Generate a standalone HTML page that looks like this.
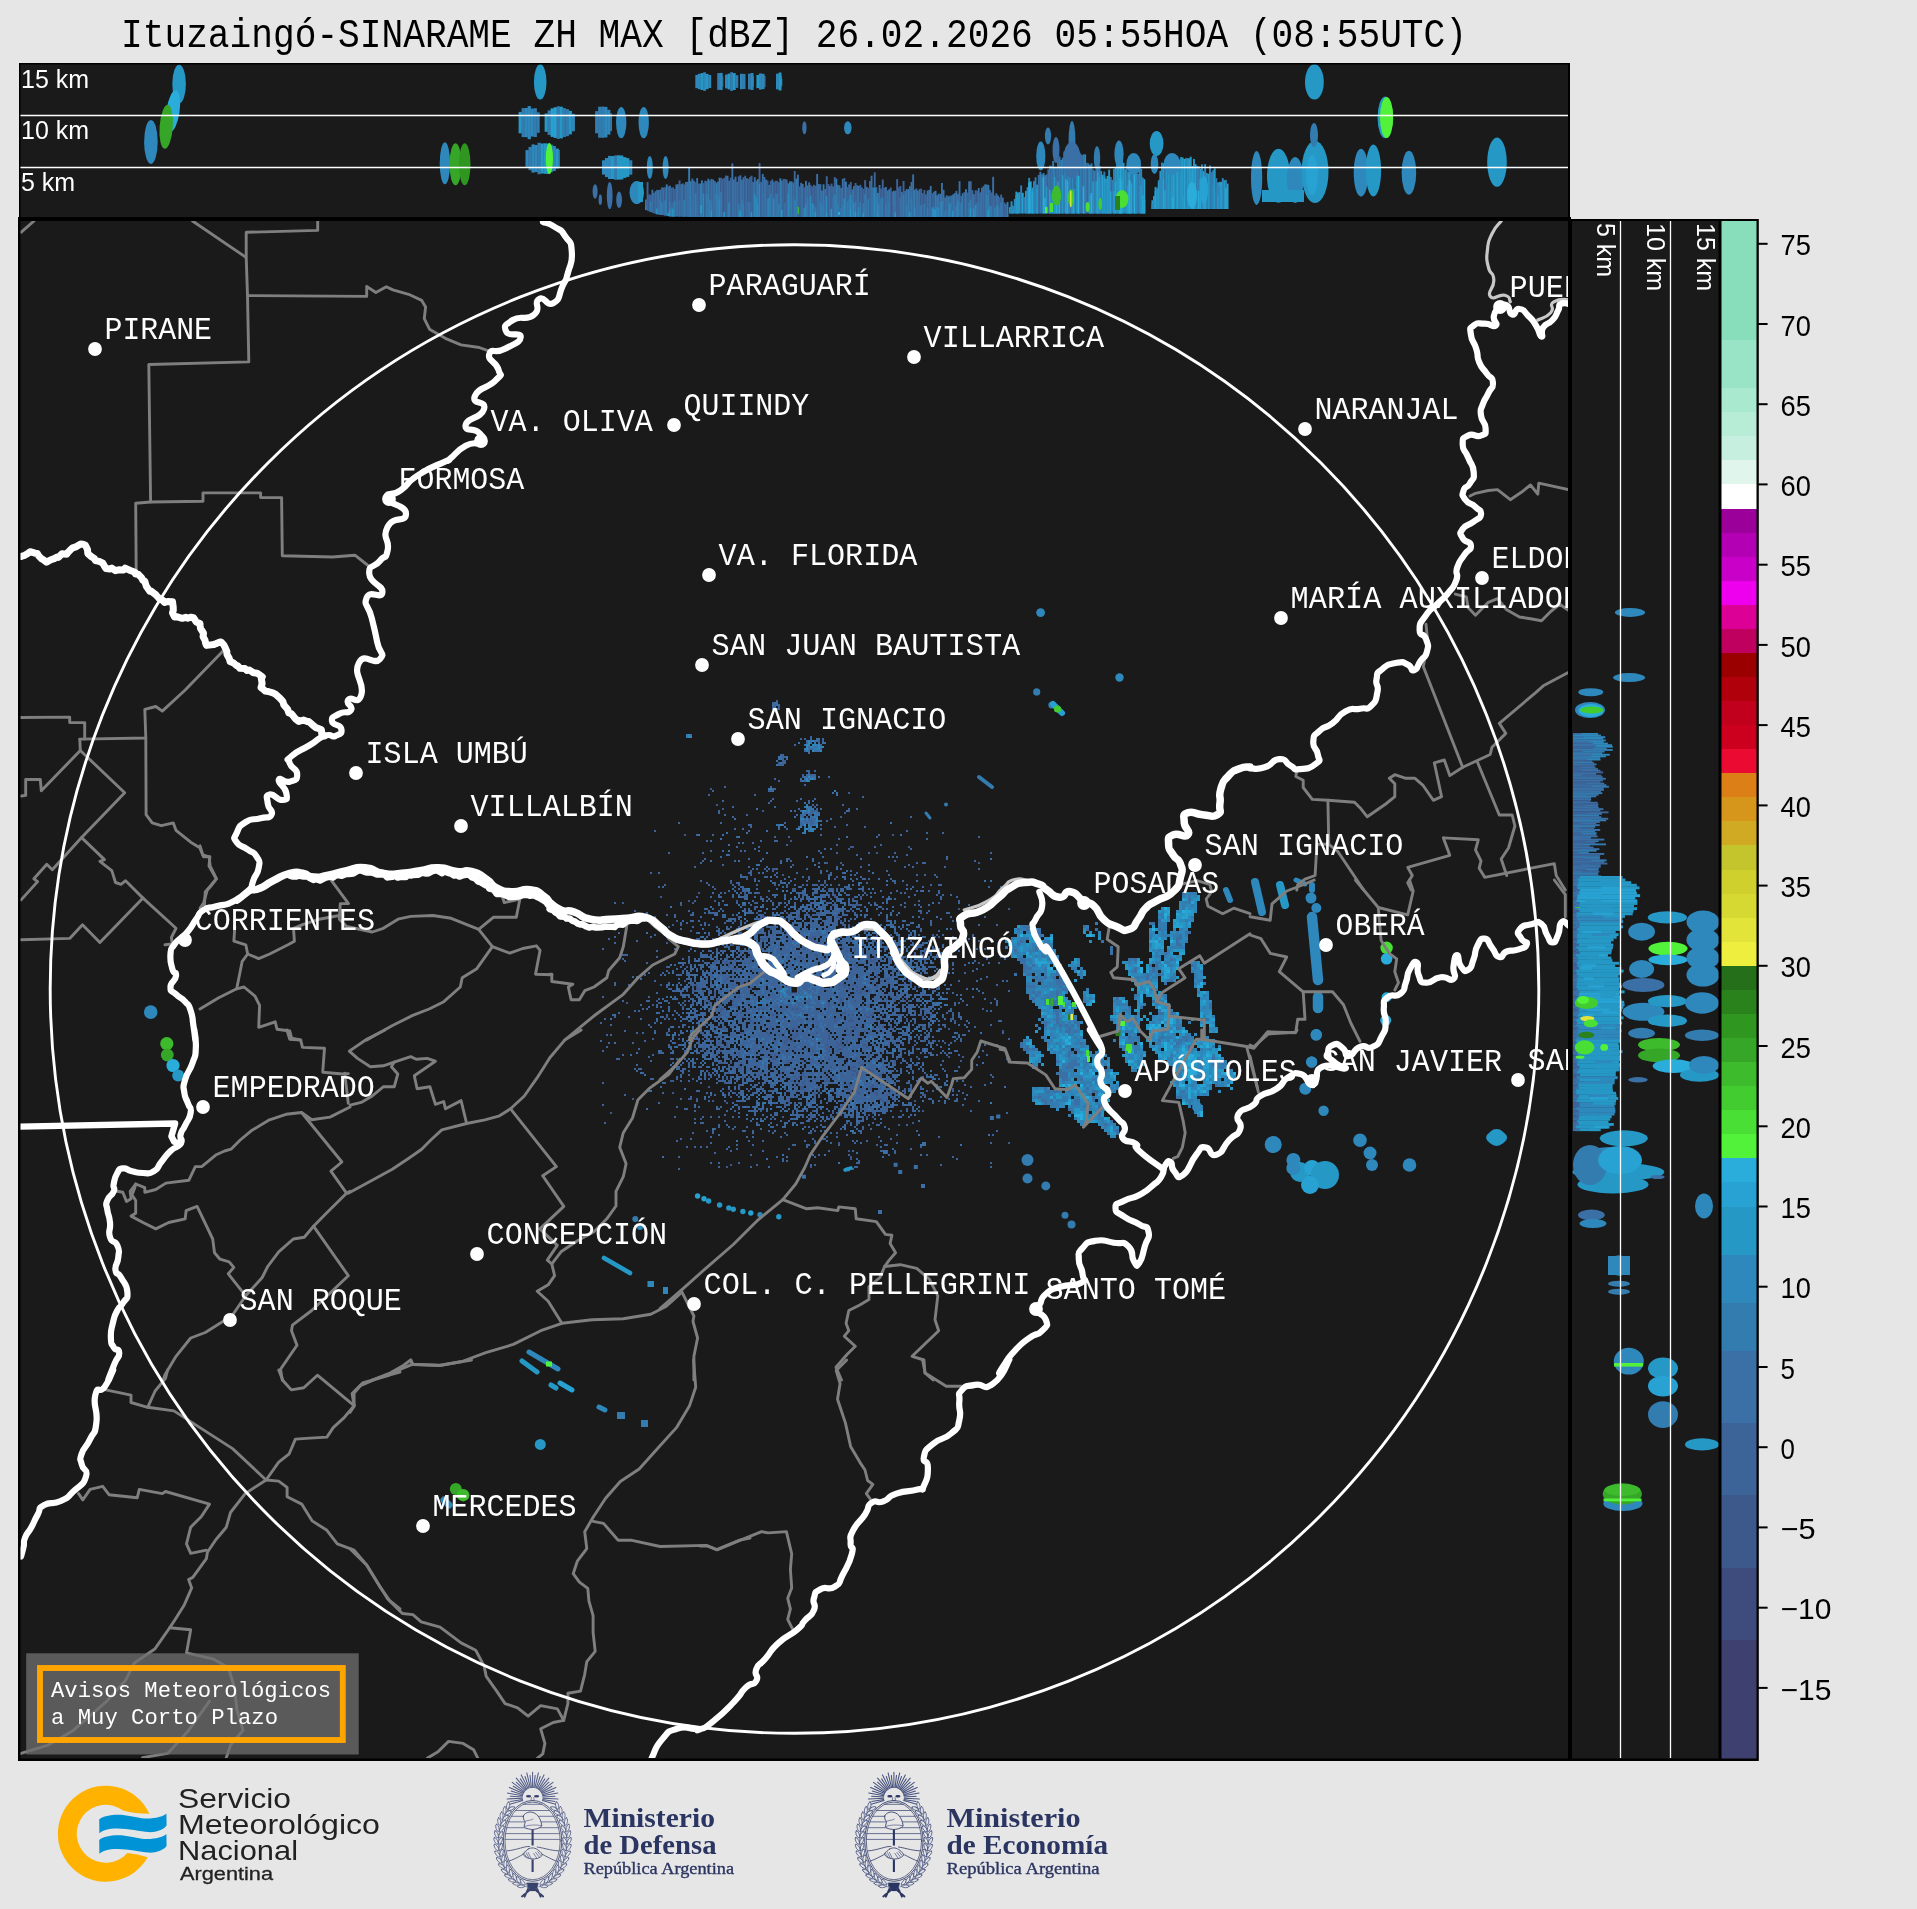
<!DOCTYPE html>
<html><head><meta charset="utf-8"><title>Ituzaingó-SINARAME ZH MAX</title>
<style>
html,body{margin:0;padding:0;background:#e6e6e6;}
body{width:1917px;height:1909px;overflow:hidden;}
svg{display:block;will-change:transform;}
.mono{font-family:"Liberation Mono",monospace;}
.sans{font-family:"Liberation Sans",sans-serif;}
.serif{font-family:"Liberation Serif",serif;}
.g{fill:none;stroke:#7f7f7f;stroke-width:2.9;stroke-linejoin:round;stroke-linecap:round;}
.lg{fill:none;stroke:#c8c8c8;stroke-width:3.2;stroke-linejoin:round;stroke-linecap:round;}
.w{fill:none;stroke:#fff;stroke-width:6.2;stroke-linejoin:round;stroke-linecap:round;}
.city{font-family:"Liberation Mono",monospace;font-size:32px;fill:#fff;}
</style></head><body>
<svg width="1917" height="1909" viewBox="0 0 1917 1909">
<rect x="0" y="0" width="1917" height="1909" fill="#e6e6e6"/>
<text class="mono" x="121" y="47.4" font-size="40" fill="#000" textLength="1346" lengthAdjust="spacingAndGlyphs">Ituzaingó-SINARAME ZH MAX [dBZ] 26.02.2026 05:55HOA (08:55UTC)</text>
<defs>
<clipPath id="ctop"><rect x="20.5" y="64.5" width="1547.5" height="152.5"/></clipPath>
<clipPath id="cmap"><rect x="20.5" y="221" width="1547.5" height="1537"/></clipPath>
<clipPath id="cright"><rect x="1572" y="221" width="146.5" height="1537"/></clipPath>
</defs>
<rect x="19" y="63" width="1551" height="156" fill="#000"/><rect x="20.5" y="64.5" width="1547.5" height="152.5" fill="#1a1a1a"/>
<g clip-path="url(#ctop)">
<ellipse cx="150.9" cy="141.9" rx="6.8" ry="22.0" fill="#2e88bc"/>
<ellipse cx="179.1" cy="84.0" rx="6.8" ry="19.3" fill="#2698c6"/>
<ellipse cx="173.0" cy="111.1" rx="6.6" ry="21.0" fill="#2aaddb" transform="rotate(8 173.0 111.1)"/>
<ellipse cx="166.2" cy="126.8" rx="6.6" ry="22.0" fill="#36a628" transform="rotate(4 166.2 126.8)"/>
<ellipse cx="444.9" cy="163.3" rx="5.2" ry="21.0" fill="#2e88bc"/>
<ellipse cx="455.5" cy="164.3" rx="6.0" ry="21.0" fill="#36a628"/>
<ellipse cx="464.7" cy="164.3" rx="5.8" ry="21.0" fill="#2f9620"/>
<ellipse cx="540.2" cy="81.9" rx="6.3" ry="17.7" fill="#2698c6"/>
<rect x="518.6" y="111.9" width="3.3" height="21.4" fill="#2698c6"/>
<rect x="521.6" y="108.1" width="3.3" height="29.0" fill="#337cb0"/>
<rect x="524.6" y="108.0" width="3.3" height="29.1" fill="#2e88bc"/>
<rect x="527.6" y="106.1" width="3.3" height="33.1" fill="#2e88bc"/>
<rect x="530.6" y="108.6" width="3.3" height="27.9" fill="#2e88bc"/>
<rect x="533.6" y="108.2" width="3.3" height="28.8" fill="#337cb0"/>
<rect x="536.6" y="112.3" width="3.1" height="20.5" fill="#337cb0"/>
<rect x="544.6" y="113.5" width="3.3" height="18.3" fill="#2698c6"/>
<rect x="547.6" y="110.4" width="3.3" height="24.5" fill="#337cb0"/>
<rect x="550.6" y="108.3" width="3.3" height="28.6" fill="#27a2d2"/>
<rect x="553.6" y="107.3" width="3.3" height="30.6" fill="#27a2d2"/>
<rect x="556.6" y="106.3" width="3.3" height="32.6" fill="#337cb0"/>
<rect x="559.6" y="106.7" width="3.3" height="31.7" fill="#2698c6"/>
<rect x="562.6" y="108.1" width="3.3" height="28.9" fill="#337cb0"/>
<rect x="565.6" y="109.1" width="3.3" height="27.1" fill="#337cb0"/>
<rect x="568.6" y="110.8" width="3.3" height="23.6" fill="#2698c6"/>
<rect x="571.6" y="113.8" width="3.3" height="17.5" fill="#2e88bc"/>
<rect x="595.1" y="111.1" width="3.3" height="22.2" fill="#337cb0"/>
<rect x="598.1" y="106.7" width="3.3" height="31.0" fill="#337cb0"/>
<rect x="601.1" y="106.6" width="3.3" height="31.2" fill="#337cb0"/>
<rect x="604.1" y="106.9" width="3.3" height="30.5" fill="#2e88bc"/>
<rect x="607.1" y="109.8" width="3.3" height="24.8" fill="#2e88bc"/>
<rect x="610.1" y="113.3" width="1.9" height="17.8" fill="#337cb0"/>
<ellipse cx="621.2" cy="122.6" rx="5.2" ry="15.6" fill="#2e88bc"/>
<ellipse cx="643.7" cy="122.6" rx="5.2" ry="15.6" fill="#2e88bc"/>
<rect x="525.5" y="150.1" width="3.3" height="16.7" fill="#2e88bc"/>
<rect x="528.5" y="146.9" width="3.3" height="23.3" fill="#337cb0"/>
<rect x="531.5" y="144.4" width="3.3" height="28.2" fill="#2e88bc"/>
<rect x="534.5" y="145.0" width="3.3" height="27.0" fill="#2e88bc"/>
<rect x="537.5" y="142.8" width="3.3" height="31.4" fill="#337cb0"/>
<rect x="540.5" y="143.5" width="3.3" height="30.0" fill="#2698c6"/>
<rect x="543.5" y="143.3" width="3.3" height="30.5" fill="#2698c6"/>
<rect x="546.5" y="143.4" width="3.3" height="30.1" fill="#337cb0"/>
<rect x="549.5" y="144.6" width="3.3" height="27.7" fill="#2e88bc"/>
<rect x="552.5" y="146.0" width="3.3" height="25.0" fill="#2e88bc"/>
<rect x="555.5" y="148.6" width="3.3" height="19.9" fill="#2698c6"/>
<rect x="558.5" y="150.1" width="1.3" height="16.8" fill="#2e88bc"/>
<rect x="546.2" y="144.0" width="3.2" height="30.0" fill="#2698c6"/>
<ellipse cx="549.4" cy="158.5" rx="3.6" ry="15.5" fill="#52f23a"/>
<rect x="602.0" y="160.3" width="3.3" height="14.3" fill="#2e88bc"/>
<rect x="605.0" y="158.0" width="3.3" height="19.1" fill="#2e88bc"/>
<rect x="608.0" y="155.9" width="3.3" height="23.1" fill="#2e88bc"/>
<rect x="611.0" y="156.1" width="3.3" height="22.9" fill="#2698c6"/>
<rect x="614.0" y="155.4" width="3.3" height="24.3" fill="#337cb0"/>
<rect x="617.0" y="155.3" width="3.3" height="24.3" fill="#2698c6"/>
<rect x="620.0" y="155.5" width="3.3" height="24.0" fill="#2698c6"/>
<rect x="623.0" y="157.1" width="3.3" height="20.8" fill="#2698c6"/>
<rect x="626.0" y="158.1" width="3.3" height="18.8" fill="#2698c6"/>
<rect x="629.0" y="160.3" width="3.3" height="14.4" fill="#337cb0"/>
<ellipse cx="649.8" cy="167.5" rx="3.0" ry="11.5" fill="#2e88bc"/>
<ellipse cx="665.6" cy="167.5" rx="3.0" ry="11.5" fill="#2e88bc"/>
<rect x="695.3" y="74.9" width="2.9" height="13.3" fill="#2e88bc"/>
<rect x="697.9" y="73.8" width="2.9" height="15.4" fill="#2e88bc"/>
<rect x="700.5" y="73.1" width="2.9" height="16.9" fill="#2698c6"/>
<rect x="703.1" y="72.3" width="2.9" height="18.5" fill="#2e88bc"/>
<rect x="705.7" y="73.9" width="2.9" height="15.2" fill="#2698c6"/>
<rect x="708.3" y="75.0" width="2.9" height="13.0" fill="#2e88bc"/>
<rect x="717.2" y="73.1" width="2.9" height="16.8" fill="#337cb0"/>
<rect x="719.8" y="72.9" width="2.9" height="17.1" fill="#2e88bc"/>
<rect x="722.4" y="76.4" width="0.9" height="10.3" fill="#2e88bc"/>
<rect x="725.0" y="74.6" width="2.9" height="13.8" fill="#2e88bc"/>
<rect x="727.6" y="73.6" width="2.9" height="15.8" fill="#2698c6"/>
<rect x="730.2" y="72.2" width="2.9" height="18.7" fill="#337cb0"/>
<rect x="732.8" y="73.1" width="2.9" height="16.9" fill="#2698c6"/>
<rect x="735.4" y="75.2" width="2.9" height="12.7" fill="#337cb0"/>
<rect x="740.0" y="73.8" width="2.9" height="15.4" fill="#2e88bc"/>
<rect x="742.6" y="73.9" width="2.9" height="15.1" fill="#337cb0"/>
<rect x="748.0" y="73.6" width="2.9" height="15.8" fill="#337cb0"/>
<rect x="750.6" y="73.0" width="2.9" height="17.0" fill="#2e88bc"/>
<rect x="753.2" y="76.1" width="0.8" height="10.7" fill="#2e88bc"/>
<rect x="756.4" y="74.9" width="2.9" height="13.2" fill="#2698c6"/>
<rect x="759.0" y="73.4" width="2.9" height="16.2" fill="#2e88bc"/>
<rect x="761.6" y="73.8" width="2.9" height="15.3" fill="#2e88bc"/>
<rect x="764.2" y="75.8" width="1.3" height="11.4" fill="#337cb0"/>
<rect x="776.0" y="73.7" width="2.9" height="15.6" fill="#2e88bc"/>
<rect x="778.6" y="72.5" width="2.9" height="18.0" fill="#2698c6"/>
<rect x="781.2" y="76.2" width="0.9" height="10.5" fill="#2e88bc"/>
<rect x="780.0" y="79.0" width="2.2" height="6.0" fill="#2698c6"/>
<ellipse cx="804.4" cy="127.8" rx="2.2" ry="6.5" fill="#3a70a6"/>
<ellipse cx="847.8" cy="127.8" rx="3.8" ry="6.5" fill="#2e88bc"/>
<ellipse cx="595.1" cy="191.5" rx="2.5" ry="7.3" fill="#3a70a6"/>
<ellipse cx="600.3" cy="199.8" rx="1.7" ry="5.2" fill="#3a70a6"/>
<ellipse cx="609.7" cy="195.6" rx="2.9" ry="13.5" fill="#3a70a6"/>
<ellipse cx="619.1" cy="199.8" rx="2.9" ry="8.3" fill="#3a70a6"/>
<ellipse cx="636.8" cy="192.5" rx="7.3" ry="11.5" fill="#2e88bc"/>
<rect x="638.0" y="182.0" width="5.0" height="20.0" fill="#2698c6"/>
<rect x="645.0" y="199.5" width="1.9" height="10.5" fill="#3a70a6"/>
<rect x="645.0" y="205.8" width="1.9" height="4.2" fill="#337cb0"/>
<rect x="646.6" y="182.1" width="1.9" height="28.6" fill="#3c6499"/>
<rect x="648.2" y="194.4" width="1.9" height="16.9" fill="#3c6499"/>
<rect x="649.8" y="194.6" width="1.9" height="17.3" fill="#3c6499"/>
<rect x="649.8" y="201.2" width="1.9" height="10.7" fill="#337cb0"/>
<rect x="651.4" y="189.7" width="1.9" height="22.9" fill="#3a70a6"/>
<rect x="653.0" y="192.8" width="1.9" height="20.4" fill="#3c6499"/>
<rect x="654.6" y="191.2" width="1.9" height="22.6" fill="#3a70a6"/>
<rect x="656.2" y="189.9" width="1.9" height="24.3" fill="#3a70a6"/>
<rect x="656.2" y="208.6" width="1.9" height="5.6" fill="#2698c6"/>
<rect x="657.8" y="190.0" width="1.9" height="24.5" fill="#3a70a6"/>
<rect x="657.8" y="205.2" width="1.9" height="9.2" fill="#3a70a6"/>
<rect x="659.4" y="189.6" width="1.9" height="25.1" fill="#3a70a6"/>
<rect x="659.4" y="199.2" width="1.9" height="15.6" fill="#337cb0"/>
<rect x="661.0" y="187.4" width="1.9" height="27.6" fill="#3c6499"/>
<rect x="661.0" y="202.3" width="1.9" height="12.7" fill="#337cb0"/>
<rect x="662.6" y="187.6" width="1.9" height="27.6" fill="#3a70a6"/>
<rect x="664.2" y="187.3" width="1.9" height="28.2" fill="#3c6499"/>
<rect x="664.2" y="200.4" width="1.9" height="15.1" fill="#337cb0"/>
<rect x="665.8" y="184.4" width="1.9" height="31.4" fill="#337cb0"/>
<rect x="667.4" y="186.3" width="1.9" height="29.7" fill="#3c6499"/>
<rect x="667.4" y="212.9" width="1.9" height="3.2" fill="#2698c6"/>
<rect x="669.0" y="185.7" width="1.9" height="30.6" fill="#3a70a6"/>
<rect x="669.0" y="201.8" width="1.9" height="14.5" fill="#337cb0"/>
<rect x="669.0" y="209.8" width="1.9" height="6.5" fill="#2698c6"/>
<rect x="670.6" y="187.7" width="1.9" height="28.8" fill="#3c6499"/>
<rect x="670.6" y="207.2" width="1.9" height="9.3" fill="#337cb0"/>
<rect x="672.2" y="187.3" width="1.9" height="29.2" fill="#3c6499"/>
<rect x="672.2" y="202.8" width="1.9" height="13.7" fill="#3a70a6"/>
<rect x="672.2" y="208.7" width="1.9" height="7.8" fill="#2698c6"/>
<rect x="673.8" y="189.0" width="1.9" height="27.5" fill="#3c6499"/>
<rect x="673.8" y="200.8" width="1.9" height="15.8" fill="#337cb0"/>
<rect x="675.4" y="184.5" width="1.9" height="32.1" fill="#3a70a6"/>
<rect x="677.0" y="184.2" width="1.9" height="32.4" fill="#3a70a6"/>
<rect x="678.6" y="180.4" width="1.9" height="36.2" fill="#3c6499"/>
<rect x="678.6" y="200.9" width="1.9" height="15.8" fill="#3a70a6"/>
<rect x="680.2" y="184.2" width="1.9" height="32.4" fill="#3a70a6"/>
<rect x="681.8" y="183.4" width="1.9" height="33.3" fill="#3a70a6"/>
<rect x="681.8" y="202.1" width="1.9" height="14.6" fill="#3a70a6"/>
<rect x="683.4" y="184.5" width="1.9" height="32.2" fill="#3c6499"/>
<rect x="683.4" y="200.1" width="1.9" height="16.7" fill="#337cb0"/>
<rect x="685.0" y="182.0" width="1.9" height="34.7" fill="#3a70a6"/>
<rect x="686.6" y="181.8" width="1.9" height="35.0" fill="#3a70a6"/>
<rect x="686.6" y="195.7" width="1.9" height="21.0" fill="#3a70a6"/>
<rect x="688.2" y="167.0" width="1.9" height="49.8" fill="#337cb0"/>
<rect x="688.2" y="183.5" width="1.9" height="33.3" fill="#3a70a6"/>
<rect x="689.8" y="181.2" width="1.9" height="35.7" fill="#337cb0"/>
<rect x="689.8" y="204.8" width="1.9" height="12.0" fill="#337cb0"/>
<rect x="691.4" y="178.6" width="1.9" height="38.3" fill="#3a70a6"/>
<rect x="691.4" y="196.7" width="1.9" height="20.1" fill="#3a70a6"/>
<rect x="693.0" y="180.7" width="1.9" height="36.2" fill="#3a70a6"/>
<rect x="694.6" y="182.2" width="1.9" height="34.7" fill="#3c6499"/>
<rect x="694.6" y="193.5" width="1.9" height="23.4" fill="#337cb0"/>
<rect x="696.2" y="178.0" width="1.9" height="38.9" fill="#3a70a6"/>
<rect x="696.2" y="201.3" width="1.9" height="15.6" fill="#3a70a6"/>
<rect x="697.8" y="183.6" width="1.9" height="33.4" fill="#3c6499"/>
<rect x="699.4" y="183.5" width="1.9" height="33.5" fill="#337cb0"/>
<rect x="701.0" y="180.4" width="1.9" height="36.6" fill="#337cb0"/>
<rect x="702.6" y="183.1" width="1.9" height="33.9" fill="#3c6499"/>
<rect x="702.6" y="193.7" width="1.9" height="23.3" fill="#2e88bc"/>
<rect x="704.2" y="180.7" width="1.9" height="36.3" fill="#3c6499"/>
<rect x="705.8" y="181.3" width="1.9" height="35.7" fill="#3a70a6"/>
<rect x="705.8" y="194.0" width="1.9" height="23.0" fill="#337cb0"/>
<rect x="707.4" y="178.7" width="1.9" height="38.3" fill="#337cb0"/>
<rect x="709.0" y="180.4" width="1.9" height="36.6" fill="#3c6499"/>
<rect x="709.0" y="199.8" width="1.9" height="17.2" fill="#337cb0"/>
<rect x="710.6" y="178.9" width="1.9" height="38.1" fill="#3a70a6"/>
<rect x="710.6" y="202.1" width="1.9" height="14.9" fill="#337cb0"/>
<rect x="710.6" y="211.2" width="1.9" height="5.8" fill="#2698c6"/>
<rect x="712.2" y="179.5" width="1.9" height="37.5" fill="#3a70a6"/>
<rect x="713.8" y="181.0" width="1.9" height="36.0" fill="#3a70a6"/>
<rect x="715.4" y="182.8" width="1.9" height="34.2" fill="#337cb0"/>
<rect x="715.4" y="193.5" width="1.9" height="23.5" fill="#337cb0"/>
<rect x="717.0" y="181.6" width="1.9" height="35.4" fill="#3a70a6"/>
<rect x="717.0" y="194.8" width="1.9" height="22.2" fill="#337cb0"/>
<rect x="718.6" y="177.7" width="1.9" height="39.3" fill="#337cb0"/>
<rect x="718.6" y="199.4" width="1.9" height="17.6" fill="#2e88bc"/>
<rect x="720.2" y="177.8" width="1.9" height="39.2" fill="#3c6499"/>
<rect x="720.2" y="191.7" width="1.9" height="25.3" fill="#337cb0"/>
<rect x="721.8" y="178.9" width="1.9" height="38.1" fill="#3c6499"/>
<rect x="723.4" y="177.8" width="1.9" height="39.2" fill="#3c6499"/>
<rect x="723.4" y="212.1" width="1.9" height="4.9" fill="#2698c6"/>
<rect x="725.0" y="175.6" width="1.9" height="41.4" fill="#3c6499"/>
<rect x="726.6" y="175.8" width="1.9" height="41.2" fill="#3a70a6"/>
<rect x="728.2" y="180.7" width="1.9" height="36.3" fill="#3a70a6"/>
<rect x="728.2" y="202.6" width="1.9" height="14.4" fill="#2e88bc"/>
<rect x="729.8" y="177.7" width="1.9" height="39.3" fill="#3c6499"/>
<rect x="731.4" y="163.4" width="1.9" height="53.6" fill="#3a70a6"/>
<rect x="733.0" y="179.5" width="1.9" height="37.5" fill="#3a70a6"/>
<rect x="734.6" y="176.7" width="1.9" height="40.3" fill="#3a70a6"/>
<rect x="736.2" y="181.8" width="1.9" height="35.2" fill="#3a70a6"/>
<rect x="737.8" y="176.4" width="1.9" height="40.6" fill="#3c6499"/>
<rect x="737.8" y="204.1" width="1.9" height="12.9" fill="#337cb0"/>
<rect x="739.4" y="175.3" width="1.9" height="41.7" fill="#3a70a6"/>
<rect x="739.4" y="210.6" width="1.9" height="6.4" fill="#2698c6"/>
<rect x="741.0" y="179.8" width="1.9" height="37.2" fill="#3a70a6"/>
<rect x="741.0" y="200.3" width="1.9" height="16.7" fill="#337cb0"/>
<rect x="742.6" y="177.3" width="1.9" height="39.7" fill="#3a70a6"/>
<rect x="742.6" y="203.2" width="1.9" height="13.8" fill="#337cb0"/>
<rect x="744.2" y="175.8" width="1.9" height="41.2" fill="#3c6499"/>
<rect x="745.8" y="178.2" width="1.9" height="38.8" fill="#3a70a6"/>
<rect x="747.4" y="178.9" width="1.9" height="38.1" fill="#3c6499"/>
<rect x="747.4" y="201.7" width="1.9" height="15.3" fill="#3a70a6"/>
<rect x="749.0" y="177.1" width="1.9" height="39.9" fill="#3c6499"/>
<rect x="749.0" y="202.3" width="1.9" height="14.7" fill="#3a70a6"/>
<rect x="750.6" y="175.7" width="1.9" height="41.3" fill="#3c6499"/>
<rect x="750.6" y="211.7" width="1.9" height="5.3" fill="#2698c6"/>
<rect x="752.2" y="182.0" width="1.9" height="35.0" fill="#3a70a6"/>
<rect x="753.8" y="177.2" width="1.9" height="39.8" fill="#3a70a6"/>
<rect x="753.8" y="193.8" width="1.9" height="23.2" fill="#2e88bc"/>
<rect x="755.4" y="180.7" width="1.9" height="36.3" fill="#3a70a6"/>
<rect x="755.4" y="197.0" width="1.9" height="20.0" fill="#2e88bc"/>
<rect x="757.0" y="179.1" width="1.9" height="37.9" fill="#337cb0"/>
<rect x="757.0" y="203.9" width="1.9" height="13.1" fill="#2e88bc"/>
<rect x="758.6" y="163.1" width="1.9" height="53.9" fill="#3c6499"/>
<rect x="758.6" y="183.5" width="1.9" height="33.5" fill="#2e88bc"/>
<rect x="760.2" y="181.8" width="1.9" height="35.2" fill="#3c6499"/>
<rect x="761.8" y="174.0" width="1.9" height="43.0" fill="#3a70a6"/>
<rect x="761.8" y="192.3" width="1.9" height="24.7" fill="#3a70a6"/>
<rect x="763.4" y="177.0" width="1.9" height="40.0" fill="#3a70a6"/>
<rect x="765.0" y="179.6" width="1.9" height="37.4" fill="#3a70a6"/>
<rect x="766.6" y="180.5" width="1.9" height="36.5" fill="#3c6499"/>
<rect x="766.6" y="199.1" width="1.9" height="17.9" fill="#337cb0"/>
<rect x="768.2" y="184.9" width="1.9" height="32.1" fill="#3a70a6"/>
<rect x="768.2" y="197.8" width="1.9" height="19.2" fill="#2e88bc"/>
<rect x="769.8" y="180.9" width="1.9" height="36.1" fill="#3c6499"/>
<rect x="769.8" y="193.7" width="1.9" height="23.3" fill="#337cb0"/>
<rect x="771.4" y="179.5" width="1.9" height="37.5" fill="#3a70a6"/>
<rect x="773.0" y="181.8" width="1.9" height="35.2" fill="#3c6499"/>
<rect x="773.0" y="198.5" width="1.9" height="18.5" fill="#2e88bc"/>
<rect x="774.6" y="180.8" width="1.9" height="36.2" fill="#3c6499"/>
<rect x="774.6" y="193.7" width="1.9" height="23.3" fill="#3a70a6"/>
<rect x="776.2" y="180.8" width="1.9" height="36.2" fill="#3c6499"/>
<rect x="776.2" y="194.0" width="1.9" height="23.0" fill="#337cb0"/>
<rect x="777.8" y="182.3" width="1.9" height="34.7" fill="#3c6499"/>
<rect x="777.8" y="203.7" width="1.9" height="13.3" fill="#337cb0"/>
<rect x="779.4" y="178.3" width="1.9" height="38.7" fill="#337cb0"/>
<rect x="781.0" y="180.7" width="1.9" height="36.3" fill="#3a70a6"/>
<rect x="781.0" y="210.0" width="1.9" height="7.0" fill="#2698c6"/>
<rect x="782.6" y="178.9" width="1.9" height="38.1" fill="#3c6499"/>
<rect x="784.2" y="179.0" width="1.9" height="38.0" fill="#3c6499"/>
<rect x="784.2" y="203.0" width="1.9" height="14.0" fill="#3a70a6"/>
<rect x="785.8" y="179.7" width="1.9" height="37.3" fill="#3c6499"/>
<rect x="787.4" y="183.3" width="1.9" height="33.7" fill="#337cb0"/>
<rect x="787.4" y="193.7" width="1.9" height="23.3" fill="#2e88bc"/>
<rect x="789.0" y="181.4" width="1.9" height="35.6" fill="#337cb0"/>
<rect x="790.6" y="181.4" width="1.9" height="35.6" fill="#337cb0"/>
<rect x="790.6" y="196.4" width="1.9" height="20.6" fill="#337cb0"/>
<rect x="792.2" y="182.5" width="1.9" height="34.5" fill="#3a70a6"/>
<rect x="793.8" y="171.0" width="1.9" height="46.0" fill="#3c6499"/>
<rect x="793.8" y="199.5" width="1.9" height="17.5" fill="#337cb0"/>
<rect x="795.4" y="178.6" width="1.9" height="38.4" fill="#337cb0"/>
<rect x="795.4" y="200.9" width="1.9" height="16.1" fill="#337cb0"/>
<rect x="797.0" y="174.7" width="1.9" height="42.3" fill="#3a70a6"/>
<rect x="798.6" y="186.4" width="1.9" height="30.6" fill="#3c6499"/>
<rect x="800.2" y="182.8" width="1.9" height="34.2" fill="#3a70a6"/>
<rect x="801.8" y="184.0" width="1.9" height="33.0" fill="#3a70a6"/>
<rect x="803.4" y="187.4" width="1.9" height="29.6" fill="#3c6499"/>
<rect x="803.4" y="207.7" width="1.9" height="9.3" fill="#2e88bc"/>
<rect x="805.0" y="180.9" width="1.9" height="36.1" fill="#3a70a6"/>
<rect x="805.0" y="204.2" width="1.9" height="12.8" fill="#2e88bc"/>
<rect x="806.6" y="185.4" width="1.9" height="31.6" fill="#3a70a6"/>
<rect x="806.6" y="198.3" width="1.9" height="18.7" fill="#337cb0"/>
<rect x="808.2" y="182.4" width="1.9" height="34.6" fill="#3a70a6"/>
<rect x="809.8" y="185.1" width="1.9" height="31.9" fill="#3c6499"/>
<rect x="809.8" y="195.6" width="1.9" height="21.4" fill="#2e88bc"/>
<rect x="811.4" y="186.6" width="1.9" height="30.4" fill="#3c6499"/>
<rect x="811.4" y="202.9" width="1.9" height="14.1" fill="#2e88bc"/>
<rect x="813.0" y="184.8" width="1.9" height="32.2" fill="#3c6499"/>
<rect x="813.0" y="204.2" width="1.9" height="12.8" fill="#337cb0"/>
<rect x="814.6" y="185.7" width="1.9" height="31.3" fill="#3c6499"/>
<rect x="814.6" y="207.2" width="1.9" height="9.8" fill="#337cb0"/>
<rect x="814.6" y="211.6" width="1.9" height="5.4" fill="#2698c6"/>
<rect x="816.2" y="174.0" width="1.9" height="43.0" fill="#3a70a6"/>
<rect x="817.8" y="184.1" width="1.9" height="32.9" fill="#3a70a6"/>
<rect x="819.4" y="184.2" width="1.9" height="32.8" fill="#3a70a6"/>
<rect x="819.4" y="201.7" width="1.9" height="15.3" fill="#337cb0"/>
<rect x="821.0" y="190.6" width="1.9" height="26.4" fill="#3a70a6"/>
<rect x="821.0" y="204.3" width="1.9" height="12.7" fill="#337cb0"/>
<rect x="822.6" y="184.3" width="1.9" height="32.7" fill="#337cb0"/>
<rect x="822.6" y="203.1" width="1.9" height="13.9" fill="#337cb0"/>
<rect x="824.2" y="189.0" width="1.9" height="28.0" fill="#3a70a6"/>
<rect x="824.2" y="200.2" width="1.9" height="16.8" fill="#3a70a6"/>
<rect x="825.8" y="176.2" width="1.9" height="40.8" fill="#3c6499"/>
<rect x="825.8" y="196.1" width="1.9" height="20.9" fill="#2e88bc"/>
<rect x="825.8" y="213.0" width="1.9" height="4.0" fill="#2698c6"/>
<rect x="827.4" y="184.0" width="1.9" height="33.0" fill="#3c6499"/>
<rect x="829.0" y="186.0" width="1.9" height="31.0" fill="#3a70a6"/>
<rect x="830.6" y="183.6" width="1.9" height="33.4" fill="#3c6499"/>
<rect x="830.6" y="208.8" width="1.9" height="8.2" fill="#2698c6"/>
<rect x="832.2" y="186.4" width="1.9" height="30.6" fill="#3a70a6"/>
<rect x="832.2" y="197.6" width="1.9" height="19.4" fill="#3a70a6"/>
<rect x="833.8" y="177.1" width="1.9" height="39.9" fill="#3c6499"/>
<rect x="833.8" y="194.8" width="1.9" height="22.2" fill="#337cb0"/>
<rect x="835.4" y="178.7" width="1.9" height="38.3" fill="#337cb0"/>
<rect x="835.4" y="196.4" width="1.9" height="20.6" fill="#337cb0"/>
<rect x="837.0" y="184.9" width="1.9" height="32.1" fill="#3a70a6"/>
<rect x="837.0" y="204.0" width="1.9" height="13.0" fill="#337cb0"/>
<rect x="838.6" y="185.4" width="1.9" height="31.6" fill="#3a70a6"/>
<rect x="840.2" y="188.0" width="1.9" height="29.0" fill="#3a70a6"/>
<rect x="840.2" y="208.0" width="1.9" height="9.0" fill="#337cb0"/>
<rect x="841.8" y="178.9" width="1.9" height="38.1" fill="#3a70a6"/>
<rect x="841.8" y="204.6" width="1.9" height="12.4" fill="#337cb0"/>
<rect x="843.4" y="178.0" width="1.9" height="39.0" fill="#3c6499"/>
<rect x="843.4" y="198.5" width="1.9" height="18.5" fill="#2e88bc"/>
<rect x="845.0" y="181.7" width="1.9" height="35.3" fill="#337cb0"/>
<rect x="846.6" y="187.1" width="1.9" height="29.9" fill="#3c6499"/>
<rect x="846.6" y="201.5" width="1.9" height="15.5" fill="#337cb0"/>
<rect x="848.2" y="184.4" width="1.9" height="32.6" fill="#3a70a6"/>
<rect x="848.2" y="199.1" width="1.9" height="17.9" fill="#337cb0"/>
<rect x="849.8" y="182.1" width="1.9" height="34.9" fill="#3c6499"/>
<rect x="849.8" y="194.5" width="1.9" height="22.5" fill="#2e88bc"/>
<rect x="849.8" y="209.5" width="1.9" height="7.5" fill="#2698c6"/>
<rect x="851.4" y="189.3" width="1.9" height="27.7" fill="#3a70a6"/>
<rect x="851.4" y="200.2" width="1.9" height="16.8" fill="#337cb0"/>
<rect x="853.0" y="186.1" width="1.9" height="30.9" fill="#3a70a6"/>
<rect x="853.0" y="203.2" width="1.9" height="13.8" fill="#2e88bc"/>
<rect x="854.6" y="183.0" width="1.9" height="34.0" fill="#3c6499"/>
<rect x="854.6" y="201.8" width="1.9" height="15.2" fill="#337cb0"/>
<rect x="854.6" y="211.6" width="1.9" height="5.4" fill="#2698c6"/>
<rect x="856.2" y="185.2" width="1.9" height="31.8" fill="#3a70a6"/>
<rect x="857.8" y="185.9" width="1.9" height="31.1" fill="#3a70a6"/>
<rect x="857.8" y="207.3" width="1.9" height="9.7" fill="#2e88bc"/>
<rect x="859.4" y="184.8" width="1.9" height="32.2" fill="#3c6499"/>
<rect x="859.4" y="202.3" width="1.9" height="14.7" fill="#337cb0"/>
<rect x="861.0" y="187.4" width="1.9" height="29.6" fill="#3c6499"/>
<rect x="862.6" y="188.9" width="1.9" height="28.1" fill="#3c6499"/>
<rect x="862.6" y="203.5" width="1.9" height="13.5" fill="#337cb0"/>
<rect x="862.6" y="212.8" width="1.9" height="4.2" fill="#2698c6"/>
<rect x="864.2" y="180.1" width="1.9" height="36.9" fill="#3c6499"/>
<rect x="864.2" y="194.2" width="1.9" height="22.8" fill="#337cb0"/>
<rect x="865.8" y="186.9" width="1.9" height="30.1" fill="#3a70a6"/>
<rect x="867.4" y="188.1" width="1.9" height="28.9" fill="#3c6499"/>
<rect x="867.4" y="199.3" width="1.9" height="17.7" fill="#337cb0"/>
<rect x="869.0" y="181.0" width="1.9" height="36.0" fill="#3c6499"/>
<rect x="870.6" y="175.7" width="1.9" height="41.3" fill="#3a70a6"/>
<rect x="870.6" y="198.3" width="1.9" height="18.7" fill="#3a70a6"/>
<rect x="872.2" y="187.4" width="1.9" height="29.6" fill="#337cb0"/>
<rect x="873.8" y="172.3" width="1.9" height="44.7" fill="#3c6499"/>
<rect x="873.8" y="188.0" width="1.9" height="29.0" fill="#2e88bc"/>
<rect x="875.4" y="187.2" width="1.9" height="29.8" fill="#3a70a6"/>
<rect x="875.4" y="196.6" width="1.9" height="20.4" fill="#337cb0"/>
<rect x="877.0" y="192.9" width="1.9" height="24.1" fill="#337cb0"/>
<rect x="877.0" y="203.2" width="1.9" height="13.8" fill="#2e88bc"/>
<rect x="877.0" y="211.3" width="1.9" height="5.7" fill="#2698c6"/>
<rect x="878.6" y="185.0" width="1.9" height="32.0" fill="#3a70a6"/>
<rect x="878.6" y="205.7" width="1.9" height="11.3" fill="#337cb0"/>
<rect x="880.2" y="188.6" width="1.9" height="28.4" fill="#3c6499"/>
<rect x="880.2" y="198.2" width="1.9" height="18.8" fill="#337cb0"/>
<rect x="881.8" y="179.5" width="1.9" height="37.5" fill="#3c6499"/>
<rect x="881.8" y="197.3" width="1.9" height="19.7" fill="#337cb0"/>
<rect x="883.4" y="187.8" width="1.9" height="29.2" fill="#3c6499"/>
<rect x="885.0" y="187.0" width="1.9" height="30.0" fill="#3a70a6"/>
<rect x="885.0" y="204.4" width="1.9" height="12.6" fill="#337cb0"/>
<rect x="886.6" y="190.5" width="1.9" height="26.5" fill="#3a70a6"/>
<rect x="886.6" y="203.0" width="1.9" height="14.0" fill="#3a70a6"/>
<rect x="888.2" y="189.4" width="1.9" height="27.6" fill="#337cb0"/>
<rect x="888.2" y="201.9" width="1.9" height="15.1" fill="#337cb0"/>
<rect x="889.8" y="187.5" width="1.9" height="29.5" fill="#3c6499"/>
<rect x="891.4" y="191.5" width="1.9" height="25.5" fill="#3c6499"/>
<rect x="893.0" y="190.8" width="1.9" height="26.2" fill="#337cb0"/>
<rect x="893.0" y="205.0" width="1.9" height="12.0" fill="#3a70a6"/>
<rect x="894.6" y="190.6" width="1.9" height="26.4" fill="#3a70a6"/>
<rect x="894.6" y="202.2" width="1.9" height="14.8" fill="#3a70a6"/>
<rect x="894.6" y="212.4" width="1.9" height="4.6" fill="#2698c6"/>
<rect x="896.2" y="179.1" width="1.9" height="37.9" fill="#3c6499"/>
<rect x="897.8" y="187.4" width="1.9" height="29.6" fill="#3c6499"/>
<rect x="899.4" y="186.0" width="1.9" height="31.0" fill="#3c6499"/>
<rect x="899.4" y="197.8" width="1.9" height="19.2" fill="#3a70a6"/>
<rect x="901.0" y="191.9" width="1.9" height="25.1" fill="#3a70a6"/>
<rect x="902.6" y="181.0" width="1.9" height="36.0" fill="#3c6499"/>
<rect x="902.6" y="194.5" width="1.9" height="22.5" fill="#337cb0"/>
<rect x="904.2" y="190.8" width="1.9" height="26.2" fill="#3a70a6"/>
<rect x="905.8" y="189.0" width="1.9" height="28.0" fill="#3a70a6"/>
<rect x="905.8" y="205.5" width="1.9" height="11.5" fill="#337cb0"/>
<rect x="907.4" y="189.2" width="1.9" height="27.8" fill="#337cb0"/>
<rect x="909.0" y="186.2" width="1.9" height="30.8" fill="#3a70a6"/>
<rect x="909.0" y="212.2" width="1.9" height="4.8" fill="#2698c6"/>
<rect x="910.6" y="181.9" width="1.9" height="35.1" fill="#3a70a6"/>
<rect x="910.6" y="199.1" width="1.9" height="17.9" fill="#337cb0"/>
<rect x="912.2" y="174.4" width="1.9" height="42.6" fill="#3a70a6"/>
<rect x="913.8" y="189.8" width="1.9" height="27.2" fill="#337cb0"/>
<rect x="913.8" y="207.4" width="1.9" height="9.6" fill="#2e88bc"/>
<rect x="915.4" y="188.5" width="1.9" height="28.5" fill="#3a70a6"/>
<rect x="917.0" y="190.7" width="1.9" height="26.3" fill="#3a70a6"/>
<rect x="917.0" y="202.9" width="1.9" height="14.1" fill="#3a70a6"/>
<rect x="918.6" y="189.2" width="1.9" height="27.8" fill="#3a70a6"/>
<rect x="918.6" y="207.2" width="1.9" height="9.8" fill="#3a70a6"/>
<rect x="920.2" y="188.6" width="1.9" height="28.4" fill="#3c6499"/>
<rect x="920.2" y="205.0" width="1.9" height="12.0" fill="#337cb0"/>
<rect x="921.8" y="193.2" width="1.9" height="23.8" fill="#3c6499"/>
<rect x="923.4" y="190.0" width="1.9" height="27.0" fill="#3c6499"/>
<rect x="923.4" y="204.0" width="1.9" height="13.0" fill="#337cb0"/>
<rect x="925.0" y="194.4" width="1.9" height="22.6" fill="#3c6499"/>
<rect x="926.6" y="190.5" width="1.9" height="26.5" fill="#3a70a6"/>
<rect x="926.6" y="208.6" width="1.9" height="8.4" fill="#337cb0"/>
<rect x="928.2" y="189.9" width="1.9" height="27.1" fill="#3a70a6"/>
<rect x="929.8" y="185.9" width="1.9" height="31.1" fill="#3a70a6"/>
<rect x="931.4" y="193.2" width="1.9" height="23.8" fill="#3c6499"/>
<rect x="931.4" y="207.4" width="1.9" height="9.6" fill="#2e88bc"/>
<rect x="933.0" y="191.7" width="1.9" height="25.3" fill="#3c6499"/>
<rect x="933.0" y="207.1" width="1.9" height="9.9" fill="#337cb0"/>
<rect x="933.0" y="208.8" width="1.9" height="8.2" fill="#2698c6"/>
<rect x="934.6" y="190.8" width="1.9" height="26.2" fill="#337cb0"/>
<rect x="934.6" y="209.7" width="1.9" height="7.3" fill="#2698c6"/>
<rect x="936.2" y="195.3" width="1.9" height="21.7" fill="#337cb0"/>
<rect x="936.2" y="207.0" width="1.9" height="10.0" fill="#2e88bc"/>
<rect x="937.8" y="193.6" width="1.9" height="23.4" fill="#3a70a6"/>
<rect x="937.8" y="208.3" width="1.9" height="8.7" fill="#2e88bc"/>
<rect x="939.4" y="194.0" width="1.9" height="23.0" fill="#3a70a6"/>
<rect x="939.4" y="201.7" width="1.9" height="15.3" fill="#337cb0"/>
<rect x="941.0" y="183.0" width="1.9" height="34.0" fill="#3a70a6"/>
<rect x="941.0" y="201.1" width="1.9" height="15.9" fill="#2e88bc"/>
<rect x="942.6" y="189.8" width="1.9" height="27.2" fill="#3a70a6"/>
<rect x="944.2" y="197.4" width="1.9" height="19.6" fill="#3a70a6"/>
<rect x="944.2" y="210.8" width="1.9" height="6.2" fill="#337cb0"/>
<rect x="945.8" y="195.3" width="1.9" height="21.7" fill="#3a70a6"/>
<rect x="947.4" y="196.3" width="1.9" height="20.7" fill="#337cb0"/>
<rect x="947.4" y="210.5" width="1.9" height="6.5" fill="#337cb0"/>
<rect x="949.0" y="195.7" width="1.9" height="21.3" fill="#3c6499"/>
<rect x="949.0" y="203.2" width="1.9" height="13.8" fill="#2e88bc"/>
<rect x="950.6" y="195.6" width="1.9" height="21.4" fill="#3a70a6"/>
<rect x="952.2" y="194.5" width="1.9" height="22.5" fill="#337cb0"/>
<rect x="952.2" y="210.9" width="1.9" height="6.1" fill="#2698c6"/>
<rect x="953.8" y="193.0" width="1.9" height="24.0" fill="#3a70a6"/>
<rect x="953.8" y="205.5" width="1.9" height="11.5" fill="#3a70a6"/>
<rect x="955.4" y="190.9" width="1.9" height="26.1" fill="#3a70a6"/>
<rect x="955.4" y="206.2" width="1.9" height="10.8" fill="#337cb0"/>
<rect x="957.0" y="193.8" width="1.9" height="23.2" fill="#3a70a6"/>
<rect x="957.0" y="200.7" width="1.9" height="16.3" fill="#2e88bc"/>
<rect x="958.6" y="181.2" width="1.9" height="35.8" fill="#3a70a6"/>
<rect x="960.2" y="195.9" width="1.9" height="21.1" fill="#3c6499"/>
<rect x="960.2" y="203.1" width="1.9" height="13.9" fill="#337cb0"/>
<rect x="961.8" y="193.3" width="1.9" height="23.7" fill="#337cb0"/>
<rect x="963.4" y="192.2" width="1.9" height="24.8" fill="#3c6499"/>
<rect x="965.0" y="189.2" width="1.9" height="27.8" fill="#337cb0"/>
<rect x="966.6" y="192.5" width="1.9" height="24.5" fill="#3c6499"/>
<rect x="968.2" y="181.3" width="1.9" height="35.7" fill="#3a70a6"/>
<rect x="968.2" y="202.5" width="1.9" height="14.5" fill="#337cb0"/>
<rect x="969.8" y="181.2" width="1.9" height="35.8" fill="#3c6499"/>
<rect x="969.8" y="199.6" width="1.9" height="17.4" fill="#337cb0"/>
<rect x="969.8" y="208.4" width="1.9" height="8.6" fill="#2698c6"/>
<rect x="971.4" y="190.2" width="1.9" height="26.8" fill="#3a70a6"/>
<rect x="973.0" y="194.1" width="1.9" height="22.9" fill="#3a70a6"/>
<rect x="973.0" y="207.4" width="1.9" height="9.6" fill="#337cb0"/>
<rect x="973.0" y="209.4" width="1.9" height="7.6" fill="#2698c6"/>
<rect x="974.6" y="190.2" width="1.9" height="26.8" fill="#3c6499"/>
<rect x="974.6" y="204.8" width="1.9" height="12.2" fill="#2e88bc"/>
<rect x="976.2" y="190.6" width="1.9" height="26.4" fill="#3c6499"/>
<rect x="976.2" y="202.9" width="1.9" height="14.1" fill="#337cb0"/>
<rect x="977.8" y="188.0" width="1.9" height="29.0" fill="#3a70a6"/>
<rect x="977.8" y="201.8" width="1.9" height="15.2" fill="#3a70a6"/>
<rect x="979.4" y="192.4" width="1.9" height="24.6" fill="#3a70a6"/>
<rect x="981.0" y="187.7" width="1.9" height="29.3" fill="#3a70a6"/>
<rect x="982.6" y="186.1" width="1.9" height="30.9" fill="#3a70a6"/>
<rect x="984.2" y="184.4" width="1.9" height="32.6" fill="#3a70a6"/>
<rect x="985.8" y="184.4" width="1.9" height="32.6" fill="#3a70a6"/>
<rect x="985.8" y="195.0" width="1.9" height="22.0" fill="#337cb0"/>
<rect x="987.4" y="185.0" width="1.9" height="32.0" fill="#337cb0"/>
<rect x="987.4" y="210.0" width="1.9" height="7.0" fill="#2698c6"/>
<rect x="989.0" y="189.9" width="1.9" height="27.1" fill="#3c6499"/>
<rect x="989.0" y="205.9" width="1.9" height="11.1" fill="#2e88bc"/>
<rect x="990.6" y="192.5" width="1.9" height="24.5" fill="#3c6499"/>
<rect x="990.6" y="206.0" width="1.9" height="11.0" fill="#337cb0"/>
<rect x="992.2" y="176.8" width="1.9" height="40.2" fill="#3a70a6"/>
<rect x="993.8" y="195.5" width="1.9" height="21.5" fill="#3c6499"/>
<rect x="993.8" y="207.9" width="1.9" height="9.1" fill="#337cb0"/>
<rect x="995.4" y="193.3" width="1.9" height="23.7" fill="#3a70a6"/>
<rect x="995.4" y="206.2" width="1.9" height="10.8" fill="#337cb0"/>
<rect x="997.0" y="195.4" width="1.9" height="21.6" fill="#3a70a6"/>
<rect x="997.0" y="205.2" width="1.9" height="11.8" fill="#2e88bc"/>
<rect x="998.6" y="197.2" width="1.9" height="19.8" fill="#3c6499"/>
<rect x="998.6" y="208.0" width="1.9" height="9.0" fill="#3a70a6"/>
<rect x="1000.2" y="194.6" width="1.9" height="22.4" fill="#3c6499"/>
<rect x="1000.2" y="202.4" width="1.9" height="14.6" fill="#337cb0"/>
<rect x="1001.8" y="197.6" width="1.9" height="19.4" fill="#3a70a6"/>
<rect x="1001.8" y="209.6" width="1.9" height="7.4" fill="#3a70a6"/>
<rect x="1003.4" y="202.5" width="1.9" height="14.5" fill="#3c6499"/>
<rect x="1005.0" y="203.9" width="1.9" height="13.1" fill="#3c6499"/>
<rect x="1006.6" y="202.0" width="1.9" height="15.0" fill="#337cb0"/>
<rect x="797.5" y="207.0" width="1.4" height="7.0" fill="#3dbb2c"/>
<rect x="838.0" y="212.0" width="2.0" height="3.0" fill="#2aaddb"/>
<rect x="700.0" y="205.0" width="2.0" height="8.0" fill="#2698c6"/>
<rect x="1009.0" y="207.2" width="1.9" height="6.3" fill="#2698c6"/>
<rect x="1010.6" y="201.3" width="1.9" height="12.2" fill="#2698c6"/>
<rect x="1010.6" y="205.3" width="1.9" height="8.2" fill="#2e88bc"/>
<rect x="1012.2" y="205.8" width="1.9" height="7.7" fill="#2e88bc"/>
<rect x="1012.2" y="209.8" width="1.9" height="3.7" fill="#2698c6"/>
<rect x="1013.8" y="199.0" width="1.9" height="14.5" fill="#2e88bc"/>
<rect x="1015.4" y="191.6" width="1.9" height="21.9" fill="#2698c6"/>
<rect x="1015.4" y="195.6" width="1.9" height="17.9" fill="#2698c6"/>
<rect x="1017.0" y="192.5" width="1.9" height="21.0" fill="#2698c6"/>
<rect x="1017.0" y="196.5" width="1.9" height="17.0" fill="#2698c6"/>
<rect x="1018.6" y="192.2" width="1.9" height="21.3" fill="#2698c6"/>
<rect x="1020.2" y="185.4" width="1.9" height="28.1" fill="#337cb0"/>
<rect x="1021.8" y="192.8" width="1.9" height="20.7" fill="#27a2d2"/>
<rect x="1023.4" y="197.1" width="1.9" height="16.4" fill="#337cb0"/>
<rect x="1025.0" y="190.9" width="1.9" height="22.6" fill="#2698c6"/>
<rect x="1026.6" y="187.2" width="1.9" height="26.3" fill="#2e88bc"/>
<rect x="1026.6" y="191.2" width="1.9" height="22.3" fill="#2e88bc"/>
<rect x="1028.2" y="177.9" width="1.9" height="35.6" fill="#2e88bc"/>
<rect x="1028.2" y="182.6" width="1.9" height="30.9" fill="#2aaddb"/>
<rect x="1029.8" y="181.4" width="1.9" height="32.1" fill="#27a2d2"/>
<rect x="1031.4" y="187.6" width="1.9" height="25.9" fill="#2698c6"/>
<rect x="1031.4" y="191.6" width="1.9" height="21.9" fill="#27a2d2"/>
<rect x="1033.0" y="181.1" width="1.9" height="32.4" fill="#2e88bc"/>
<rect x="1033.0" y="192.7" width="1.9" height="20.8" fill="#2e88bc"/>
<rect x="1034.6" y="177.3" width="1.9" height="36.2" fill="#337cb0"/>
<rect x="1036.2" y="184.6" width="1.9" height="28.9" fill="#2698c6"/>
<rect x="1036.2" y="188.6" width="1.9" height="24.9" fill="#2698c6"/>
<rect x="1037.8" y="174.9" width="1.9" height="38.6" fill="#3a70a6"/>
<rect x="1039.4" y="171.9" width="1.9" height="41.6" fill="#337cb0"/>
<rect x="1041.0" y="174.4" width="1.9" height="39.1" fill="#3a70a6"/>
<rect x="1042.6" y="173.1" width="1.9" height="40.4" fill="#2e88bc"/>
<rect x="1042.6" y="177.1" width="1.9" height="36.4" fill="#2aaddb"/>
<rect x="1044.2" y="175.2" width="1.9" height="38.3" fill="#337cb0"/>
<rect x="1044.2" y="197.7" width="1.9" height="15.8" fill="#2aaddb"/>
<rect x="1045.8" y="174.4" width="1.9" height="39.1" fill="#3a70a6"/>
<rect x="1045.8" y="186.6" width="1.9" height="26.9" fill="#2698c6"/>
<rect x="1047.4" y="169.3" width="1.9" height="44.2" fill="#3a70a6"/>
<rect x="1049.0" y="165.6" width="1.9" height="47.9" fill="#3a70a6"/>
<rect x="1049.0" y="189.6" width="1.9" height="23.9" fill="#27a2d2"/>
<rect x="1050.6" y="165.8" width="1.9" height="47.7" fill="#3a70a6"/>
<rect x="1050.6" y="193.4" width="1.9" height="20.1" fill="#2698c6"/>
<rect x="1052.2" y="160.9" width="1.9" height="52.6" fill="#337cb0"/>
<rect x="1052.2" y="190.3" width="1.9" height="23.2" fill="#2698c6"/>
<rect x="1053.8" y="166.7" width="1.9" height="46.8" fill="#337cb0"/>
<rect x="1053.8" y="177.0" width="1.9" height="36.5" fill="#2698c6"/>
<rect x="1055.4" y="167.6" width="1.9" height="45.9" fill="#3a70a6"/>
<rect x="1055.4" y="198.8" width="1.9" height="14.7" fill="#2aaddb"/>
<rect x="1057.0" y="158.9" width="1.9" height="54.6" fill="#3a70a6"/>
<rect x="1057.0" y="181.7" width="1.9" height="31.8" fill="#2698c6"/>
<rect x="1058.6" y="156.5" width="1.9" height="57.0" fill="#337cb0"/>
<rect x="1058.6" y="193.1" width="1.9" height="20.4" fill="#2aaddb"/>
<rect x="1060.2" y="159.9" width="1.9" height="53.6" fill="#337cb0"/>
<rect x="1061.8" y="157.8" width="1.9" height="55.7" fill="#337cb0"/>
<rect x="1061.8" y="175.4" width="1.9" height="38.1" fill="#2698c6"/>
<rect x="1063.4" y="151.5" width="1.9" height="62.0" fill="#337cb0"/>
<rect x="1065.0" y="148.5" width="1.9" height="65.0" fill="#337cb0"/>
<rect x="1065.0" y="178.9" width="1.9" height="34.6" fill="#27a2d2"/>
<rect x="1066.6" y="151.0" width="1.9" height="62.5" fill="#337cb0"/>
<rect x="1066.6" y="180.7" width="1.9" height="32.8" fill="#2aaddb"/>
<rect x="1068.2" y="146.0" width="1.9" height="67.5" fill="#2e88bc"/>
<rect x="1068.2" y="175.7" width="1.9" height="37.8" fill="#2e88bc"/>
<rect x="1069.8" y="143.2" width="1.9" height="70.3" fill="#337cb0"/>
<rect x="1071.4" y="145.5" width="1.9" height="68.0" fill="#2e88bc"/>
<rect x="1071.4" y="193.9" width="1.9" height="19.6" fill="#2698c6"/>
<rect x="1073.0" y="140.3" width="1.9" height="73.2" fill="#3a70a6"/>
<rect x="1073.0" y="189.1" width="1.9" height="24.4" fill="#27a2d2"/>
<rect x="1074.6" y="148.9" width="1.9" height="64.6" fill="#3a70a6"/>
<rect x="1076.2" y="148.9" width="1.9" height="64.6" fill="#3a70a6"/>
<rect x="1076.2" y="172.4" width="1.9" height="41.1" fill="#2698c6"/>
<rect x="1077.8" y="157.0" width="1.9" height="56.5" fill="#3a70a6"/>
<rect x="1077.8" y="176.0" width="1.9" height="37.5" fill="#2aaddb"/>
<rect x="1079.4" y="153.7" width="1.9" height="59.8" fill="#337cb0"/>
<rect x="1081.0" y="155.1" width="1.9" height="58.4" fill="#3a70a6"/>
<rect x="1082.6" y="154.4" width="1.9" height="59.1" fill="#337cb0"/>
<rect x="1082.6" y="186.3" width="1.9" height="27.2" fill="#2aaddb"/>
<rect x="1084.2" y="154.4" width="1.9" height="59.1" fill="#2e88bc"/>
<rect x="1085.8" y="162.8" width="1.9" height="50.7" fill="#3a70a6"/>
<rect x="1087.4" y="163.3" width="1.9" height="50.2" fill="#337cb0"/>
<rect x="1089.0" y="164.9" width="1.9" height="48.6" fill="#2e88bc"/>
<rect x="1089.0" y="195.3" width="1.9" height="18.2" fill="#2698c6"/>
<rect x="1090.6" y="163.4" width="1.9" height="50.1" fill="#337cb0"/>
<rect x="1090.6" y="193.0" width="1.9" height="20.5" fill="#2aaddb"/>
<rect x="1092.2" y="169.3" width="1.9" height="44.2" fill="#3a70a6"/>
<rect x="1092.2" y="181.5" width="1.9" height="32.0" fill="#2698c6"/>
<rect x="1093.8" y="170.6" width="1.9" height="42.9" fill="#337cb0"/>
<rect x="1095.4" y="163.1" width="1.9" height="50.4" fill="#3a70a6"/>
<rect x="1095.4" y="181.2" width="1.9" height="32.3" fill="#2698c6"/>
<rect x="1097.0" y="168.0" width="1.9" height="45.5" fill="#2e88bc"/>
<rect x="1097.0" y="172.4" width="1.9" height="41.1" fill="#27a2d2"/>
<rect x="1098.6" y="165.7" width="1.9" height="47.8" fill="#337cb0"/>
<rect x="1098.6" y="176.9" width="1.9" height="36.6" fill="#2698c6"/>
<rect x="1100.2" y="171.0" width="1.9" height="42.5" fill="#2e88bc"/>
<rect x="1101.8" y="174.7" width="1.9" height="38.8" fill="#27a2d2"/>
<rect x="1101.8" y="196.3" width="1.9" height="17.2" fill="#2698c6"/>
<rect x="1103.4" y="171.6" width="1.9" height="41.9" fill="#337cb0"/>
<rect x="1103.4" y="176.5" width="1.9" height="37.0" fill="#2698c6"/>
<rect x="1105.0" y="178.6" width="1.9" height="34.9" fill="#2698c6"/>
<rect x="1105.0" y="182.6" width="1.9" height="30.9" fill="#2e88bc"/>
<rect x="1106.6" y="175.9" width="1.9" height="37.6" fill="#2698c6"/>
<rect x="1106.6" y="180.0" width="1.9" height="33.5" fill="#2698c6"/>
<rect x="1108.2" y="169.7" width="1.9" height="43.8" fill="#2698c6"/>
<rect x="1108.2" y="175.9" width="1.9" height="37.6" fill="#2698c6"/>
<rect x="1109.8" y="177.0" width="1.9" height="36.5" fill="#337cb0"/>
<rect x="1109.8" y="191.4" width="1.9" height="22.1" fill="#27a2d2"/>
<rect x="1111.4" y="179.8" width="1.9" height="33.7" fill="#337cb0"/>
<rect x="1113.0" y="168.9" width="1.9" height="44.6" fill="#337cb0"/>
<rect x="1113.0" y="191.0" width="1.9" height="22.5" fill="#2698c6"/>
<rect x="1114.6" y="167.0" width="1.9" height="46.5" fill="#2698c6"/>
<rect x="1114.6" y="181.9" width="1.9" height="31.6" fill="#27a2d2"/>
<rect x="1116.2" y="162.7" width="1.9" height="50.8" fill="#2698c6"/>
<rect x="1117.8" y="159.3" width="1.9" height="54.2" fill="#2698c6"/>
<rect x="1117.8" y="189.2" width="1.9" height="24.3" fill="#2698c6"/>
<rect x="1119.4" y="160.6" width="1.9" height="52.9" fill="#27a2d2"/>
<rect x="1119.4" y="178.0" width="1.9" height="35.5" fill="#2aaddb"/>
<rect x="1121.0" y="159.0" width="1.9" height="54.5" fill="#2698c6"/>
<rect x="1121.0" y="180.3" width="1.9" height="33.2" fill="#27a2d2"/>
<rect x="1122.6" y="162.7" width="1.9" height="50.8" fill="#2698c6"/>
<rect x="1124.2" y="169.3" width="1.9" height="44.2" fill="#2698c6"/>
<rect x="1125.8" y="165.5" width="1.9" height="48.0" fill="#337cb0"/>
<rect x="1125.8" y="198.4" width="1.9" height="15.1" fill="#2698c6"/>
<rect x="1127.4" y="172.0" width="1.9" height="41.5" fill="#2698c6"/>
<rect x="1127.4" y="185.5" width="1.9" height="28.0" fill="#27a2d2"/>
<rect x="1129.0" y="169.3" width="1.9" height="44.2" fill="#2698c6"/>
<rect x="1129.0" y="180.9" width="1.9" height="32.6" fill="#2aaddb"/>
<rect x="1130.6" y="168.7" width="1.9" height="44.8" fill="#337cb0"/>
<rect x="1130.6" y="183.6" width="1.9" height="29.9" fill="#27a2d2"/>
<rect x="1132.2" y="170.7" width="1.9" height="42.8" fill="#2e88bc"/>
<rect x="1133.8" y="166.6" width="1.9" height="46.9" fill="#2e88bc"/>
<rect x="1133.8" y="171.6" width="1.9" height="41.9" fill="#2aaddb"/>
<rect x="1135.4" y="168.9" width="1.9" height="44.6" fill="#2e88bc"/>
<rect x="1135.4" y="182.5" width="1.9" height="31.0" fill="#2e88bc"/>
<rect x="1137.0" y="174.0" width="1.9" height="39.5" fill="#337cb0"/>
<rect x="1138.6" y="165.0" width="1.9" height="48.5" fill="#2e88bc"/>
<rect x="1140.2" y="168.8" width="1.9" height="44.7" fill="#2e88bc"/>
<rect x="1140.2" y="185.4" width="1.9" height="28.1" fill="#2698c6"/>
<rect x="1141.8" y="177.5" width="1.9" height="36.0" fill="#2e88bc"/>
<rect x="1141.8" y="195.2" width="1.9" height="18.3" fill="#27a2d2"/>
<rect x="1143.4" y="179.2" width="1.9" height="34.3" fill="#27a2d2"/>
<rect x="1143.4" y="199.8" width="1.9" height="13.7" fill="#27a2d2"/>
<rect x="1151.4" y="200.3" width="1.9" height="8.7" fill="#2698c6"/>
<rect x="1151.4" y="204.3" width="1.9" height="4.7" fill="#2e88bc"/>
<rect x="1153.0" y="196.1" width="1.9" height="12.9" fill="#2698c6"/>
<rect x="1153.0" y="200.1" width="1.9" height="8.9" fill="#2e88bc"/>
<rect x="1154.6" y="186.9" width="1.9" height="22.1" fill="#2698c6"/>
<rect x="1154.6" y="190.9" width="1.9" height="18.1" fill="#27a2d2"/>
<rect x="1156.2" y="188.2" width="1.9" height="20.8" fill="#2698c6"/>
<rect x="1157.8" y="180.3" width="1.9" height="28.7" fill="#2698c6"/>
<rect x="1157.8" y="184.6" width="1.9" height="24.4" fill="#2698c6"/>
<rect x="1159.4" y="170.9" width="1.9" height="38.1" fill="#2698c6"/>
<rect x="1159.4" y="178.9" width="1.9" height="30.1" fill="#2e88bc"/>
<rect x="1161.0" y="162.6" width="1.9" height="46.4" fill="#2e88bc"/>
<rect x="1162.6" y="163.1" width="1.9" height="45.9" fill="#2698c6"/>
<rect x="1162.6" y="179.4" width="1.9" height="29.6" fill="#27a2d2"/>
<rect x="1164.2" y="161.7" width="1.9" height="47.3" fill="#337cb0"/>
<rect x="1164.2" y="190.2" width="1.9" height="18.8" fill="#27a2d2"/>
<rect x="1165.8" y="165.9" width="1.9" height="43.1" fill="#2698c6"/>
<rect x="1165.8" y="183.5" width="1.9" height="25.5" fill="#2e88bc"/>
<rect x="1167.4" y="163.9" width="1.9" height="45.1" fill="#2698c6"/>
<rect x="1169.0" y="159.5" width="1.9" height="49.5" fill="#2e88bc"/>
<rect x="1169.0" y="189.9" width="1.9" height="19.1" fill="#2e88bc"/>
<rect x="1170.6" y="160.4" width="1.9" height="48.6" fill="#2698c6"/>
<rect x="1172.2" y="158.4" width="1.9" height="50.6" fill="#27a2d2"/>
<rect x="1172.2" y="196.7" width="1.9" height="12.3" fill="#2aaddb"/>
<rect x="1173.8" y="162.6" width="1.9" height="46.4" fill="#2698c6"/>
<rect x="1175.4" y="155.8" width="1.9" height="53.2" fill="#2698c6"/>
<rect x="1177.0" y="161.1" width="1.9" height="47.9" fill="#27a2d2"/>
<rect x="1177.0" y="183.6" width="1.9" height="25.4" fill="#27a2d2"/>
<rect x="1178.6" y="159.8" width="1.9" height="49.2" fill="#2e88bc"/>
<rect x="1178.6" y="179.8" width="1.9" height="29.2" fill="#2e88bc"/>
<rect x="1180.2" y="157.0" width="1.9" height="52.0" fill="#2698c6"/>
<rect x="1180.2" y="172.3" width="1.9" height="36.7" fill="#2698c6"/>
<rect x="1181.8" y="157.5" width="1.9" height="51.5" fill="#2698c6"/>
<rect x="1181.8" y="195.2" width="1.9" height="13.8" fill="#2698c6"/>
<rect x="1183.4" y="159.0" width="1.9" height="50.0" fill="#27a2d2"/>
<rect x="1185.0" y="158.1" width="1.9" height="50.9" fill="#2e88bc"/>
<rect x="1186.6" y="158.2" width="1.9" height="50.8" fill="#2698c6"/>
<rect x="1188.2" y="158.2" width="1.9" height="50.8" fill="#27a2d2"/>
<rect x="1188.2" y="196.0" width="1.9" height="13.0" fill="#2698c6"/>
<rect x="1189.8" y="156.7" width="1.9" height="52.3" fill="#2698c6"/>
<rect x="1189.8" y="179.2" width="1.9" height="29.8" fill="#2698c6"/>
<rect x="1191.4" y="166.0" width="1.9" height="43.0" fill="#27a2d2"/>
<rect x="1191.4" y="171.3" width="1.9" height="37.7" fill="#27a2d2"/>
<rect x="1193.0" y="158.9" width="1.9" height="50.1" fill="#2698c6"/>
<rect x="1193.0" y="183.7" width="1.9" height="25.3" fill="#2aaddb"/>
<rect x="1194.6" y="164.1" width="1.9" height="44.9" fill="#27a2d2"/>
<rect x="1194.6" y="194.6" width="1.9" height="14.4" fill="#2698c6"/>
<rect x="1196.2" y="165.9" width="1.9" height="43.1" fill="#2e88bc"/>
<rect x="1197.8" y="166.2" width="1.9" height="42.8" fill="#337cb0"/>
<rect x="1197.8" y="190.8" width="1.9" height="18.2" fill="#2aaddb"/>
<rect x="1199.4" y="168.8" width="1.9" height="40.2" fill="#2698c6"/>
<rect x="1199.4" y="178.8" width="1.9" height="30.2" fill="#27a2d2"/>
<rect x="1201.0" y="164.4" width="1.9" height="44.6" fill="#2e88bc"/>
<rect x="1202.6" y="171.2" width="1.9" height="37.8" fill="#27a2d2"/>
<rect x="1204.2" y="164.1" width="1.9" height="44.9" fill="#2e88bc"/>
<rect x="1204.2" y="199.0" width="1.9" height="10.0" fill="#27a2d2"/>
<rect x="1205.8" y="173.0" width="1.9" height="36.0" fill="#2e88bc"/>
<rect x="1207.4" y="173.7" width="1.9" height="35.3" fill="#2698c6"/>
<rect x="1209.0" y="165.5" width="1.9" height="43.5" fill="#2e88bc"/>
<rect x="1210.6" y="172.1" width="1.9" height="36.9" fill="#337cb0"/>
<rect x="1212.2" y="170.2" width="1.9" height="38.8" fill="#2e88bc"/>
<rect x="1212.2" y="185.6" width="1.9" height="23.4" fill="#2e88bc"/>
<rect x="1213.8" y="168.3" width="1.9" height="40.7" fill="#2698c6"/>
<rect x="1213.8" y="191.6" width="1.9" height="17.4" fill="#2698c6"/>
<rect x="1215.4" y="178.2" width="1.9" height="30.8" fill="#337cb0"/>
<rect x="1217.0" y="182.5" width="1.9" height="26.5" fill="#2e88bc"/>
<rect x="1217.0" y="195.0" width="1.9" height="14.0" fill="#2698c6"/>
<rect x="1218.6" y="181.9" width="1.9" height="27.1" fill="#27a2d2"/>
<rect x="1218.6" y="185.9" width="1.9" height="23.1" fill="#2e88bc"/>
<rect x="1220.2" y="181.8" width="1.9" height="27.2" fill="#27a2d2"/>
<rect x="1221.8" y="178.1" width="1.9" height="30.9" fill="#2e88bc"/>
<rect x="1223.4" y="180.2" width="1.9" height="28.8" fill="#2698c6"/>
<rect x="1225.0" y="179.8" width="1.9" height="29.2" fill="#337cb0"/>
<rect x="1225.0" y="188.2" width="1.9" height="20.8" fill="#27a2d2"/>
<rect x="1226.6" y="183.6" width="1.9" height="25.4" fill="#27a2d2"/>
<ellipse cx="1040.8" cy="156.0" rx="4.6" ry="14.6" fill="#2e88bc"/>
<ellipse cx="1048.0" cy="136.0" rx="3.1" ry="8.5" fill="#337cb0"/>
<ellipse cx="1072.0" cy="140.0" rx="3.4" ry="19.0" fill="#337cb0"/>
<ellipse cx="1072.0" cy="160.0" rx="9.0" ry="18.0" fill="#3a70a6"/>
<ellipse cx="1056.0" cy="150.0" rx="3.5" ry="13.0" fill="#3a70a6"/>
<ellipse cx="1097.0" cy="158.0" rx="3.2" ry="12.0" fill="#337cb0"/>
<ellipse cx="1119.0" cy="154.0" rx="4.6" ry="13.6" fill="#2e88bc"/>
<ellipse cx="1133.7" cy="164.0" rx="7.3" ry="11.0" fill="#2e88bc"/>
<ellipse cx="1156.6" cy="143.5" rx="6.9" ry="12.5" fill="#2698c6"/>
<ellipse cx="1154.5" cy="164.0" rx="3.8" ry="10.0" fill="#2e88bc"/>
<ellipse cx="1172.0" cy="164.0" rx="8.3" ry="11.0" fill="#2e88bc"/>
<ellipse cx="1056.5" cy="195.6" rx="4.6" ry="10.0" fill="#3dbb2c"/>
<rect x="1050.0" y="203.0" width="3.0" height="9.0" fill="#4adf35"/>
<ellipse cx="1071.0" cy="197.7" rx="3.1" ry="8.5" fill="#42cc30"/>
<rect x="1070.2" y="191.0" width="1.2" height="16.0" fill="#eeee3f"/>
<ellipse cx="1087.7" cy="207.0" rx="2.0" ry="5.0" fill="#4adf35"/>
<ellipse cx="1100.2" cy="204.0" rx="1.8" ry="6.0" fill="#42cc30"/>
<ellipse cx="1122.0" cy="199.0" rx="6.5" ry="9.0" fill="#4adf35"/>
<rect x="1115.0" y="196.0" width="5.0" height="14.0" fill="#2a821d"/>
<rect x="1129.0" y="180.0" width="1.0" height="8.0" fill="#42cc30"/>
<rect x="1045.0" y="207.0" width="2.5" height="6.0" fill="#52f23a"/>
<ellipse cx="1256.6" cy="177.9" rx="5.6" ry="27.0" fill="#2e88bc"/>
<ellipse cx="1278.5" cy="175.8" rx="11.5" ry="27.0" fill="#2698c6"/>
<ellipse cx="1295.2" cy="180.0" rx="8.3" ry="23.0" fill="#2e88bc"/>
<ellipse cx="1315.0" cy="172.0" rx="13.5" ry="31.0" fill="#2698c6"/>
<ellipse cx="1314.0" cy="135.0" rx="4.0" ry="12.0" fill="#337cb0"/>
<ellipse cx="1312.0" cy="175.0" rx="6.0" ry="20.0" fill="#27a2d2"/>
<rect x="1262.0" y="190.0" width="42.0" height="12.0" fill="#2698c6"/>
<ellipse cx="1314.4" cy="81.9" rx="9.4" ry="17.7" fill="#2698c6"/>
<ellipse cx="1361.0" cy="172.7" rx="7.3" ry="24.0" fill="#2e88bc"/>
<ellipse cx="1373.4" cy="170.6" rx="7.7" ry="26.0" fill="#2698c6"/>
<ellipse cx="1408.9" cy="172.7" rx="7.3" ry="22.0" fill="#2e88bc"/>
<ellipse cx="1497.0" cy="162.2" rx="9.8" ry="24.6" fill="#2698c6"/>
<ellipse cx="1385.2" cy="117.4" rx="7.6" ry="20.9" fill="#2698c6"/>
<ellipse cx="1386.6" cy="117.4" rx="6.6" ry="20.5" fill="#52f23a"/>
<ellipse cx="1192.0" cy="195.0" rx="5.0" ry="13.0" fill="#2aaddb"/>
<ellipse cx="1204.0" cy="190.0" rx="4.0" ry="14.0" fill="#27a2d2"/>
<line x1="20" y1="115.5" x2="1569" y2="115.5" stroke="#fff" stroke-width="1.3"/>
<line x1="20" y1="167.5" x2="1569" y2="167.5" stroke="#fff" stroke-width="1.3"/>
<text class="sans" x="21" y="88" font-size="25" fill="#fff">15 km</text><text class="sans" x="21" y="139" font-size="25" fill="#fff">10 km</text><text class="sans" x="21" y="190.5" font-size="25" fill="#fff">5 km</text>
</g>
<rect x="18" y="217" width="1553" height="1544" fill="#000"/><rect x="20.5" y="221" width="1547.5" height="1537.5" fill="#1a1a1a"/>
<g clip-path="url(#cmap)">
<path fill="#3c6499" d="M776 700h2v2h-2zM772 702h6v2h-6zM772 704h8v2h-8zM772 706h4v2h-4zM778 706h2v2h-2zM772 708h8v2h-8zM774 710h2v2h-2zM686 734h6v2h-6zM686 736h6v2h-6zM810 736h2v2h-2zM800 738h2v2h-2zM804 738h2v2h-2zM810 738h2v2h-2zM816 738h4v2h-4zM822 738h2v2h-2zM806 740h14v2h-14zM822 740h2v2h-2zM798 742h2v2h-2zM806 742h6v2h-6zM814 742h2v2h-2zM818 742h2v2h-2zM822 742h4v2h-4zM794 744h2v2h-2zM804 744h6v2h-6zM812 744h10v2h-10zM806 746h18v2h-18zM804 748h18v2h-18zM804 750h6v2h-6zM812 750h10v2h-10zM808 752h2v2h-2zM780 754h4v2h-4zM778 756h10v2h-10zM778 758h6v2h-6zM786 758h2v2h-2zM776 760h2v2h-2zM782 760h4v2h-4zM778 762h8v2h-8zM776 764h8v2h-8zM806 770h4v2h-4zM814 770h2v2h-2zM808 772h2v2h-2zM802 774h2v2h-2zM806 774h10v2h-10zM802 776h14v2h-14zM818 776h2v2h-2zM828 776h2v2h-2zM774 778h2v2h-2zM800 778h2v2h-2zM804 778h12v2h-12zM778 780h2v2h-2zM800 780h10v2h-10zM804 784h2v2h-2zM724 786h2v2h-2zM770 786h2v2h-2zM710 788h2v2h-2zM768 788h8v2h-8zM712 790h2v2h-2zM768 790h6v2h-6zM834 790h2v2h-2zM832 792h2v2h-2zM836 792h2v2h-2zM848 792h2v2h-2zM708 794h2v2h-2zM754 794h2v2h-2zM836 794h2v2h-2zM862 796h2v2h-2zM772 798h2v2h-2zM800 798h2v2h-2zM814 798h2v2h-2zM722 800h2v2h-2zM770 800h2v2h-2zM796 800h2v2h-2zM808 800h2v2h-2zM812 800h2v2h-2zM768 802h2v2h-2zM804 802h2v2h-2zM808 802h2v2h-2zM716 804h2v2h-2zM806 804h2v2h-2zM812 804h2v2h-2zM816 804h2v2h-2zM842 804h2v2h-2zM732 806h2v2h-2zM774 806h2v2h-2zM804 806h8v2h-8zM814 806h2v2h-2zM722 808h2v2h-2zM756 808h2v2h-2zM798 808h2v2h-2zM806 808h8v2h-8zM816 808h2v2h-2zM820 808h2v2h-2zM848 808h2v2h-2zM856 808h2v2h-2zM718 810h2v2h-2zM762 810h2v2h-2zM790 810h2v2h-2zM794 810h2v2h-2zM800 810h18v2h-18zM846 810h4v2h-4zM718 812h2v2h-2zM802 812h18v2h-18zM844 812h2v2h-2zM724 814h2v2h-2zM746 814h2v2h-2zM796 814h2v2h-2zM800 814h6v2h-6zM808 814h4v2h-4zM814 814h6v2h-6zM732 816h2v2h-2zM794 816h2v2h-2zM800 816h4v2h-4zM806 816h2v2h-2zM810 816h8v2h-8zM840 816h2v2h-2zM910 816h2v2h-2zM734 818h2v2h-2zM800 818h18v2h-18zM830 818h2v2h-2zM800 820h22v2h-22zM826 820h2v2h-2zM678 822h2v2h-2zM720 822h2v2h-2zM784 822h2v2h-2zM800 822h18v2h-18zM890 822h2v2h-2zM748 824h4v2h-4zM776 824h8v2h-8zM800 824h6v2h-6zM808 824h10v2h-10zM820 824h2v2h-2zM846 824h2v2h-2zM750 826h2v2h-2zM778 826h2v2h-2zM784 826h2v2h-2zM798 826h4v2h-4zM804 826h2v2h-2zM808 826h4v2h-4zM816 826h2v2h-2zM834 826h2v2h-2zM864 826h2v2h-2zM734 828h2v2h-2zM742 828h2v2h-2zM778 828h2v2h-2zM786 828h2v2h-2zM796 828h4v2h-4zM804 828h12v2h-12zM820 828h2v2h-2zM654 830h2v2h-2zM748 830h2v2h-2zM766 830h2v2h-2zM804 830h2v2h-2zM808 830h6v2h-6zM906 830h2v2h-2zM726 832h2v2h-2zM746 832h2v2h-2zM802 832h4v2h-4zM926 832h2v2h-2zM942 832h2v2h-2zM684 834h2v2h-2zM696 834h4v2h-4zM712 834h2v2h-2zM722 834h2v2h-2zM820 834h2v2h-2zM878 834h2v2h-2zM892 834h2v2h-2zM900 834h2v2h-2zM736 836h4v2h-4zM774 836h2v2h-2zM788 836h2v2h-2zM846 836h2v2h-2zM876 836h2v2h-2zM978 836h2v2h-2zM720 838h2v2h-2zM838 838h2v2h-2zM926 838h2v2h-2zM706 840h2v2h-2zM710 840h2v2h-2zM760 840h2v2h-2zM774 840h4v2h-4zM790 840h2v2h-2zM738 842h2v2h-2zM742 842h2v2h-2zM752 842h2v2h-2zM728 844h2v2h-2zM786 844h2v2h-2zM836 844h2v2h-2zM880 844h2v2h-2zM736 846h2v2h-2zM758 846h2v2h-2zM850 846h4v2h-4zM874 846h2v2h-2zM908 846h2v2h-2zM754 848h2v2h-2zM824 848h2v2h-2zM830 848h2v2h-2zM848 848h2v2h-2zM910 848h2v2h-2zM710 850h2v2h-2zM722 850h2v2h-2zM728 850h2v2h-2zM740 850h2v2h-2zM744 850h2v2h-2zM758 850h2v2h-2zM818 850h2v2h-2zM668 852h2v2h-2zM702 852h2v2h-2zM766 852h2v2h-2zM820 852h2v2h-2zM836 852h2v2h-2zM868 852h2v2h-2zM876 852h2v2h-2zM894 852h2v2h-2zM990 852h2v2h-2zM726 854h4v2h-4zM856 854h2v2h-2zM906 854h2v2h-2zM720 856h2v2h-2zM806 856h2v2h-2zM822 856h2v2h-2zM888 856h2v2h-2zM892 856h2v2h-2zM896 856h2v2h-2zM946 856h2v2h-2zM704 858h2v2h-2zM748 858h2v2h-2zM762 858h2v2h-2zM786 858h4v2h-4zM812 858h2v2h-2zM860 858h2v2h-2zM946 858h2v2h-2zM990 858h2v2h-2zM702 860h2v2h-2zM710 860h2v2h-2zM734 860h2v2h-2zM738 860h2v2h-2zM760 860h2v2h-2zM780 860h2v2h-2zM786 860h2v2h-2zM790 860h2v2h-2zM812 860h2v2h-2zM894 860h2v2h-2zM974 860h2v2h-2zM700 862h2v2h-2zM780 862h2v2h-2zM818 862h2v2h-2zM824 862h4v2h-4zM840 862h2v2h-2zM916 862h2v2h-2zM922 862h4v2h-4zM978 862h2v2h-2zM722 864h2v2h-2zM756 864h4v2h-4zM792 864h2v2h-2zM814 864h2v2h-2zM842 864h2v2h-2zM868 864h2v2h-2zM908 864h2v2h-2zM694 866h2v2h-2zM748 866h2v2h-2zM766 866h2v2h-2zM790 866h2v2h-2zM818 866h2v2h-2zM836 866h2v2h-2zM860 866h2v2h-2zM904 866h2v2h-2zM912 866h2v2h-2zM944 866h2v2h-2zM752 868h2v2h-2zM756 868h2v2h-2zM764 868h2v2h-2zM768 868h2v2h-2zM772 868h6v2h-6zM806 868h2v2h-2zM836 868h2v2h-2zM840 868h2v2h-2zM978 868h2v2h-2zM750 870h2v2h-2zM766 870h2v2h-2zM772 870h2v2h-2zM820 870h2v2h-2zM826 870h2v2h-2zM846 870h2v2h-2zM850 870h2v2h-2zM868 870h2v2h-2zM886 870h2v2h-2zM650 872h2v2h-2zM658 872h2v2h-2zM748 872h4v2h-4zM758 872h2v2h-2zM762 872h2v2h-2zM776 872h2v2h-2zM796 872h2v2h-2zM820 872h2v2h-2zM830 872h2v2h-2zM842 872h4v2h-4zM856 872h2v2h-2zM872 872h2v2h-2zM740 874h2v2h-2zM750 874h2v2h-2zM774 874h2v2h-2zM782 874h2v2h-2zM828 874h4v2h-4zM850 874h2v2h-2zM854 874h2v2h-2zM888 874h2v2h-2zM916 874h2v2h-2zM924 874h2v2h-2zM934 874h2v2h-2zM740 876h8v2h-8zM764 876h4v2h-4zM770 876h2v2h-2zM776 876h2v2h-2zM788 876h2v2h-2zM802 876h2v2h-2zM808 876h2v2h-2zM828 876h2v2h-2zM836 876h2v2h-2zM842 876h4v2h-4zM860 876h2v2h-2zM936 876h2v2h-2zM746 878h2v2h-2zM754 878h2v2h-2zM784 878h2v2h-2zM794 878h2v2h-2zM808 878h2v2h-2zM828 878h2v2h-2zM834 878h2v2h-2zM844 878h2v2h-2zM850 878h2v2h-2zM856 878h2v2h-2zM862 878h4v2h-4zM868 878h2v2h-2zM878 878h2v2h-2zM890 878h2v2h-2zM700 880h2v2h-2zM730 880h2v2h-2zM754 880h2v2h-2zM758 880h2v2h-2zM770 880h2v2h-2zM780 880h2v2h-2zM790 880h2v2h-2zM806 880h2v2h-2zM818 880h2v2h-2zM824 880h2v2h-2zM852 880h2v2h-2zM886 880h2v2h-2zM892 880h4v2h-4zM902 880h2v2h-2zM916 880h2v2h-2zM984 880h2v2h-2zM990 880h2v2h-2zM706 882h2v2h-2zM730 882h2v2h-2zM736 882h4v2h-4zM772 882h4v2h-4zM780 882h6v2h-6zM788 882h2v2h-2zM824 882h2v2h-2zM858 882h4v2h-4zM866 882h2v2h-2zM894 882h2v2h-2zM664 884h2v2h-2zM708 884h2v2h-2zM732 884h2v2h-2zM738 884h2v2h-2zM756 884h2v2h-2zM774 884h2v2h-2zM778 884h2v2h-2zM786 884h2v2h-2zM794 884h2v2h-2zM802 884h2v2h-2zM806 884h2v2h-2zM812 884h6v2h-6zM820 884h4v2h-4zM826 884h2v2h-2zM830 884h2v2h-2zM838 884h2v2h-2zM848 884h2v2h-2zM852 884h2v2h-2zM858 884h2v2h-2zM886 884h2v2h-2zM906 884h2v2h-2zM930 884h2v2h-2zM938 884h4v2h-4zM658 886h2v2h-2zM662 886h2v2h-2zM712 886h2v2h-2zM734 886h2v2h-2zM740 886h4v2h-4zM782 886h2v2h-2zM786 886h2v2h-2zM798 886h4v2h-4zM818 886h2v2h-2zM824 886h2v2h-2zM844 886h6v2h-6zM862 886h2v2h-2zM912 886h2v2h-2zM922 886h2v2h-2zM988 886h2v2h-2zM1000 886h2v2h-2zM714 888h2v2h-2zM732 888h2v2h-2zM738 888h2v2h-2zM742 888h8v2h-8zM756 888h2v2h-2zM776 888h2v2h-2zM792 888h4v2h-4zM804 888h2v2h-2zM812 888h8v2h-8zM822 888h2v2h-2zM828 888h6v2h-6zM836 888h2v2h-2zM840 888h4v2h-4zM846 888h6v2h-6zM858 888h6v2h-6zM868 888h2v2h-2zM872 888h2v2h-2zM906 888h2v2h-2zM910 888h2v2h-2zM728 890h2v2h-2zM734 890h2v2h-2zM742 890h8v2h-8zM768 890h2v2h-2zM782 890h2v2h-2zM786 890h2v2h-2zM792 890h4v2h-4zM802 890h4v2h-4zM814 890h4v2h-4zM820 890h6v2h-6zM828 890h6v2h-6zM836 890h2v2h-2zM840 890h4v2h-4zM862 890h2v2h-2zM880 890h2v2h-2zM896 890h2v2h-2zM916 890h2v2h-2zM920 890h4v2h-4zM928 890h2v2h-2zM938 890h2v2h-2zM698 892h2v2h-2zM712 892h2v2h-2zM720 892h2v2h-2zM724 892h2v2h-2zM736 892h2v2h-2zM740 892h2v2h-2zM744 892h2v2h-2zM748 892h4v2h-4zM754 892h6v2h-6zM790 892h2v2h-2zM796 892h10v2h-10zM812 892h6v2h-6zM826 892h2v2h-2zM832 892h2v2h-2zM838 892h2v2h-2zM844 892h2v2h-2zM864 892h2v2h-2zM870 892h2v2h-2zM874 892h2v2h-2zM890 892h2v2h-2zM900 892h2v2h-2zM904 892h2v2h-2zM938 892h2v2h-2zM718 894h2v2h-2zM732 894h2v2h-2zM738 894h2v2h-2zM744 894h4v2h-4zM772 894h6v2h-6zM784 894h2v2h-2zM798 894h2v2h-2zM802 894h6v2h-6zM812 894h2v2h-2zM820 894h10v2h-10zM832 894h4v2h-4zM838 894h4v2h-4zM846 894h4v2h-4zM858 894h2v2h-2zM862 894h2v2h-2zM866 894h2v2h-2zM914 894h2v2h-2zM936 894h2v2h-2zM942 894h2v2h-2zM950 894h2v2h-2zM660 896h2v2h-2zM696 896h2v2h-2zM710 896h2v2h-2zM718 896h4v2h-4zM732 896h2v2h-2zM738 896h10v2h-10zM754 896h2v2h-2zM760 896h2v2h-2zM766 896h2v2h-2zM774 896h2v2h-2zM784 896h2v2h-2zM794 896h2v2h-2zM798 896h2v2h-2zM802 896h2v2h-2zM806 896h4v2h-4zM814 896h12v2h-12zM828 896h2v2h-2zM834 896h4v2h-4zM854 896h4v2h-4zM860 896h2v2h-2zM870 896h2v2h-2zM882 896h2v2h-2zM888 896h2v2h-2zM908 896h2v2h-2zM940 896h2v2h-2zM956 896h2v2h-2zM744 898h4v2h-4zM760 898h4v2h-4zM768 898h2v2h-2zM784 898h2v2h-2zM790 898h2v2h-2zM794 898h4v2h-4zM800 898h4v2h-4zM806 898h12v2h-12zM820 898h2v2h-2zM830 898h2v2h-2zM836 898h8v2h-8zM848 898h2v2h-2zM852 898h2v2h-2zM860 898h2v2h-2zM886 898h6v2h-6zM894 898h2v2h-2zM940 898h2v2h-2zM688 900h2v2h-2zM694 900h2v2h-2zM714 900h2v2h-2zM722 900h2v2h-2zM736 900h2v2h-2zM752 900h2v2h-2zM762 900h2v2h-2zM766 900h2v2h-2zM770 900h2v2h-2zM788 900h2v2h-2zM800 900h2v2h-2zM808 900h2v2h-2zM814 900h2v2h-2zM820 900h6v2h-6zM832 900h2v2h-2zM836 900h6v2h-6zM848 900h2v2h-2zM852 900h6v2h-6zM886 900h2v2h-2zM918 900h2v2h-2zM958 900h2v2h-2zM614 902h2v2h-2zM622 902h2v2h-2zM680 902h2v2h-2zM692 902h2v2h-2zM718 902h2v2h-2zM736 902h2v2h-2zM742 902h4v2h-4zM748 902h2v2h-2zM754 902h4v2h-4zM772 902h2v2h-2zM778 902h4v2h-4zM784 902h2v2h-2zM788 902h2v2h-2zM794 902h2v2h-2zM810 902h14v2h-14zM826 902h6v2h-6zM834 902h2v2h-2zM840 902h6v2h-6zM848 902h2v2h-2zM856 902h2v2h-2zM868 902h2v2h-2zM874 902h2v2h-2zM882 902h2v2h-2zM886 902h2v2h-2zM904 902h2v2h-2zM932 902h2v2h-2zM938 902h2v2h-2zM958 902h2v2h-2zM680 904h2v2h-2zM718 904h2v2h-2zM724 904h4v2h-4zM738 904h2v2h-2zM742 904h4v2h-4zM750 904h2v2h-2zM762 904h2v2h-2zM772 904h2v2h-2zM778 904h2v2h-2zM786 904h2v2h-2zM794 904h2v2h-2zM802 904h2v2h-2zM806 904h6v2h-6zM814 904h6v2h-6zM822 904h6v2h-6zM832 904h6v2h-6zM844 904h2v2h-2zM848 904h14v2h-14zM870 904h2v2h-2zM874 904h4v2h-4zM900 904h2v2h-2zM914 904h2v2h-2zM918 904h2v2h-2zM928 904h2v2h-2zM968 904h2v2h-2zM670 906h2v2h-2zM710 906h2v2h-2zM740 906h2v2h-2zM754 906h4v2h-4zM760 906h4v2h-4zM776 906h2v2h-2zM784 906h2v2h-2zM790 906h6v2h-6zM800 906h8v2h-8zM810 906h2v2h-2zM814 906h2v2h-2zM818 906h8v2h-8zM830 906h2v2h-2zM834 906h4v2h-4zM842 906h2v2h-2zM852 906h4v2h-4zM864 906h2v2h-2zM878 906h4v2h-4zM892 906h2v2h-2zM904 906h2v2h-2zM920 906h2v2h-2zM704 908h4v2h-4zM712 908h2v2h-2zM720 908h2v2h-2zM744 908h2v2h-2zM748 908h2v2h-2zM754 908h2v2h-2zM766 908h2v2h-2zM772 908h4v2h-4zM788 908h2v2h-2zM794 908h2v2h-2zM798 908h4v2h-4zM804 908h10v2h-10zM816 908h10v2h-10zM830 908h2v2h-2zM834 908h12v2h-12zM850 908h2v2h-2zM856 908h4v2h-4zM866 908h2v2h-2zM876 908h2v2h-2zM882 908h2v2h-2zM886 908h2v2h-2zM958 908h2v2h-2zM1008 908h2v2h-2zM634 910h2v2h-2zM688 910h2v2h-2zM708 910h2v2h-2zM718 910h2v2h-2zM722 910h2v2h-2zM742 910h4v2h-4zM748 910h4v2h-4zM758 910h4v2h-4zM784 910h2v2h-2zM796 910h4v2h-4zM802 910h4v2h-4zM808 910h2v2h-2zM812 910h4v2h-4zM820 910h2v2h-2zM824 910h6v2h-6zM832 910h12v2h-12zM846 910h4v2h-4zM852 910h2v2h-2zM860 910h2v2h-2zM866 910h2v2h-2zM892 910h2v2h-2zM918 910h4v2h-4zM928 910h2v2h-2zM646 912h2v2h-2zM692 912h2v2h-2zM704 912h2v2h-2zM708 912h10v2h-10zM738 912h2v2h-2zM744 912h10v2h-10zM756 912h2v2h-2zM764 912h2v2h-2zM772 912h2v2h-2zM776 912h2v2h-2zM780 912h4v2h-4zM786 912h2v2h-2zM790 912h10v2h-10zM806 912h2v2h-2zM816 912h24v2h-24zM842 912h2v2h-2zM854 912h2v2h-2zM880 912h2v2h-2zM890 912h2v2h-2zM898 912h2v2h-2zM920 912h2v2h-2zM926 912h2v2h-2zM946 912h4v2h-4zM666 914h2v2h-2zM674 914h2v2h-2zM690 914h4v2h-4zM714 914h4v2h-4zM722 914h4v2h-4zM732 914h2v2h-2zM736 914h2v2h-2zM744 914h2v2h-2zM758 914h6v2h-6zM772 914h8v2h-8zM788 914h4v2h-4zM796 914h4v2h-4zM804 914h6v2h-6zM812 914h14v2h-14zM832 914h6v2h-6zM842 914h6v2h-6zM854 914h4v2h-4zM860 914h2v2h-2zM864 914h4v2h-4zM878 914h2v2h-2zM886 914h2v2h-2zM890 914h2v2h-2zM896 914h2v2h-2zM636 916h2v2h-2zM654 916h2v2h-2zM674 916h2v2h-2zM700 916h2v2h-2zM722 916h4v2h-4zM738 916h4v2h-4zM756 916h2v2h-2zM760 916h8v2h-8zM772 916h4v2h-4zM780 916h4v2h-4zM786 916h14v2h-14zM804 916h2v2h-2zM808 916h4v2h-4zM818 916h2v2h-2zM826 916h6v2h-6zM834 916h8v2h-8zM856 916h2v2h-2zM864 916h2v2h-2zM886 916h2v2h-2zM912 916h2v2h-2zM918 916h2v2h-2zM936 916h2v2h-2zM950 916h2v2h-2zM984 916h2v2h-2zM712 918h2v2h-2zM728 918h8v2h-8zM738 918h2v2h-2zM744 918h2v2h-2zM754 918h8v2h-8zM766 918h8v2h-8zM776 918h4v2h-4zM782 918h4v2h-4zM788 918h6v2h-6zM796 918h6v2h-6zM804 918h2v2h-2zM810 918h12v2h-12zM826 918h6v2h-6zM834 918h6v2h-6zM844 918h2v2h-2zM850 918h2v2h-2zM854 918h2v2h-2zM870 918h2v2h-2zM886 918h2v2h-2zM922 918h2v2h-2zM940 918h2v2h-2zM676 920h2v2h-2zM682 920h2v2h-2zM690 920h4v2h-4zM698 920h2v2h-2zM726 920h6v2h-6zM734 920h2v2h-2zM740 920h2v2h-2zM746 920h2v2h-2zM758 920h2v2h-2zM762 920h2v2h-2zM768 920h2v2h-2zM772 920h6v2h-6zM782 920h4v2h-4zM788 920h2v2h-2zM794 920h2v2h-2zM802 920h2v2h-2zM810 920h2v2h-2zM814 920h4v2h-4zM822 920h10v2h-10zM834 920h4v2h-4zM840 920h2v2h-2zM844 920h2v2h-2zM848 920h2v2h-2zM886 920h6v2h-6zM894 920h2v2h-2zM902 920h4v2h-4zM930 920h2v2h-2zM952 920h2v2h-2zM956 920h4v2h-4zM680 922h2v2h-2zM686 922h2v2h-2zM704 922h2v2h-2zM724 922h2v2h-2zM732 922h2v2h-2zM740 922h2v2h-2zM744 922h2v2h-2zM754 922h4v2h-4zM760 922h2v2h-2zM764 922h8v2h-8zM774 922h4v2h-4zM782 922h2v2h-2zM786 922h2v2h-2zM792 922h10v2h-10zM804 922h14v2h-14zM820 922h2v2h-2zM824 922h14v2h-14zM840 922h4v2h-4zM858 922h2v2h-2zM872 922h2v2h-2zM890 922h2v2h-2zM894 922h2v2h-2zM910 922h4v2h-4zM930 922h2v2h-2zM616 924h2v2h-2zM672 924h2v2h-2zM680 924h2v2h-2zM700 924h2v2h-2zM704 924h2v2h-2zM708 924h2v2h-2zM740 924h2v2h-2zM750 924h2v2h-2zM756 924h2v2h-2zM760 924h4v2h-4zM766 924h2v2h-2zM774 924h2v2h-2zM782 924h12v2h-12zM798 924h4v2h-4zM804 924h4v2h-4zM810 924h10v2h-10zM824 924h6v2h-6zM832 924h6v2h-6zM842 924h4v2h-4zM848 924h2v2h-2zM856 924h4v2h-4zM864 924h2v2h-2zM872 924h2v2h-2zM880 924h2v2h-2zM886 924h8v2h-8zM902 924h2v2h-2zM906 924h4v2h-4zM918 924h2v2h-2zM930 924h2v2h-2zM978 924h2v2h-2zM996 924h2v2h-2zM654 926h2v2h-2zM668 926h2v2h-2zM692 926h2v2h-2zM716 926h2v2h-2zM726 926h2v2h-2zM730 926h2v2h-2zM738 926h2v2h-2zM744 926h2v2h-2zM750 926h2v2h-2zM754 926h4v2h-4zM760 926h2v2h-2zM766 926h12v2h-12zM780 926h4v2h-4zM788 926h14v2h-14zM804 926h2v2h-2zM810 926h16v2h-16zM828 926h8v2h-8zM844 926h2v2h-2zM848 926h2v2h-2zM852 926h2v2h-2zM862 926h4v2h-4zM872 926h6v2h-6zM884 926h2v2h-2zM890 926h6v2h-6zM898 926h2v2h-2zM902 926h2v2h-2zM916 926h4v2h-4zM664 928h2v2h-2zM680 928h2v2h-2zM702 928h2v2h-2zM718 928h2v2h-2zM726 928h4v2h-4zM736 928h4v2h-4zM742 928h2v2h-2zM746 928h4v2h-4zM754 928h10v2h-10zM770 928h6v2h-6zM780 928h2v2h-2zM784 928h2v2h-2zM792 928h8v2h-8zM802 928h6v2h-6zM810 928h6v2h-6zM818 928h4v2h-4zM824 928h12v2h-12zM840 928h6v2h-6zM848 928h10v2h-10zM862 928h6v2h-6zM872 928h6v2h-6zM882 928h4v2h-4zM894 928h2v2h-2zM900 928h2v2h-2zM906 928h2v2h-2zM920 928h2v2h-2zM946 928h2v2h-2zM950 928h2v2h-2zM664 930h2v2h-2zM690 930h2v2h-2zM716 930h4v2h-4zM722 930h2v2h-2zM748 930h4v2h-4zM754 930h2v2h-2zM758 930h6v2h-6zM768 930h2v2h-2zM772 930h10v2h-10zM784 930h74v2h-74zM864 930h4v2h-4zM874 930h10v2h-10zM894 930h2v2h-2zM908 930h2v2h-2zM912 930h4v2h-4zM920 930h2v2h-2zM938 930h2v2h-2zM618 932h2v2h-2zM646 932h2v2h-2zM696 932h4v2h-4zM704 932h2v2h-2zM708 932h2v2h-2zM718 932h4v2h-4zM724 932h2v2h-2zM730 932h2v2h-2zM734 932h2v2h-2zM738 932h4v2h-4zM750 932h2v2h-2zM754 932h12v2h-12zM768 932h2v2h-2zM772 932h12v2h-12zM786 932h4v2h-4zM794 932h4v2h-4zM800 932h28v2h-28zM832 932h6v2h-6zM840 932h4v2h-4zM846 932h4v2h-4zM852 932h6v2h-6zM864 932h2v2h-2zM868 932h2v2h-2zM872 932h6v2h-6zM882 932h2v2h-2zM894 932h4v2h-4zM910 932h2v2h-2zM914 932h2v2h-2zM654 934h2v2h-2zM708 934h2v2h-2zM718 934h2v2h-2zM726 934h2v2h-2zM740 934h2v2h-2zM744 934h4v2h-4zM750 934h8v2h-8zM764 934h2v2h-2zM768 934h8v2h-8zM782 934h14v2h-14zM798 934h36v2h-36zM838 934h2v2h-2zM842 934h2v2h-2zM846 934h10v2h-10zM858 934h2v2h-2zM866 934h6v2h-6zM876 934h2v2h-2zM882 934h2v2h-2zM890 934h2v2h-2zM896 934h4v2h-4zM908 934h4v2h-4zM914 934h2v2h-2zM918 934h2v2h-2zM932 934h2v2h-2zM936 934h2v2h-2zM942 934h2v2h-2zM962 934h2v2h-2zM972 934h2v2h-2zM614 936h2v2h-2zM650 936h2v2h-2zM666 936h4v2h-4zM680 936h2v2h-2zM700 936h4v2h-4zM706 936h2v2h-2zM720 936h2v2h-2zM730 936h6v2h-6zM740 936h6v2h-6zM748 936h4v2h-4zM754 936h4v2h-4zM760 936h26v2h-26zM788 936h18v2h-18zM808 936h12v2h-12zM822 936h10v2h-10zM836 936h2v2h-2zM840 936h2v2h-2zM846 936h4v2h-4zM852 936h8v2h-8zM866 936h2v2h-2zM872 936h6v2h-6zM880 936h2v2h-2zM886 936h4v2h-4zM892 936h2v2h-2zM898 936h2v2h-2zM908 936h2v2h-2zM912 936h4v2h-4zM922 936h4v2h-4zM932 936h4v2h-4zM938 936h2v2h-2zM952 936h2v2h-2zM972 936h2v2h-2zM608 938h2v2h-2zM696 938h4v2h-4zM704 938h2v2h-2zM712 938h2v2h-2zM716 938h2v2h-2zM728 938h16v2h-16zM750 938h2v2h-2zM754 938h4v2h-4zM760 938h8v2h-8zM770 938h6v2h-6zM780 938h12v2h-12zM794 938h8v2h-8zM808 938h6v2h-6zM816 938h2v2h-2zM820 938h6v2h-6zM828 938h4v2h-4zM834 938h6v2h-6zM842 938h10v2h-10zM856 938h6v2h-6zM866 938h6v2h-6zM874 938h4v2h-4zM886 938h2v2h-2zM890 938h2v2h-2zM898 938h2v2h-2zM906 938h2v2h-2zM914 938h2v2h-2zM952 938h2v2h-2zM956 938h2v2h-2zM968 938h2v2h-2zM636 940h2v2h-2zM672 940h4v2h-4zM680 940h2v2h-2zM688 940h6v2h-6zM718 940h2v2h-2zM728 940h2v2h-2zM732 940h8v2h-8zM752 940h2v2h-2zM756 940h2v2h-2zM760 940h8v2h-8zM770 940h16v2h-16zM788 940h14v2h-14zM804 940h14v2h-14zM820 940h6v2h-6zM828 940h10v2h-10zM840 940h24v2h-24zM866 940h2v2h-2zM872 940h4v2h-4zM880 940h2v2h-2zM886 940h2v2h-2zM892 940h4v2h-4zM898 940h8v2h-8zM910 940h2v2h-2zM918 940h2v2h-2zM928 940h2v2h-2zM962 940h2v2h-2zM978 940h2v2h-2zM614 942h2v2h-2zM666 942h2v2h-2zM678 942h4v2h-4zM696 942h2v2h-2zM720 942h2v2h-2zM724 942h2v2h-2zM734 942h2v2h-2zM738 942h2v2h-2zM742 942h8v2h-8zM752 942h10v2h-10zM764 942h2v2h-2zM768 942h6v2h-6zM776 942h4v2h-4zM782 942h42v2h-42zM826 942h2v2h-2zM832 942h14v2h-14zM848 942h2v2h-2zM852 942h6v2h-6zM860 942h4v2h-4zM868 942h6v2h-6zM876 942h2v2h-2zM880 942h4v2h-4zM886 942h2v2h-2zM890 942h12v2h-12zM912 942h2v2h-2zM922 942h6v2h-6zM934 942h2v2h-2zM698 944h2v2h-2zM714 944h2v2h-2zM718 944h2v2h-2zM722 944h2v2h-2zM726 944h2v2h-2zM730 944h4v2h-4zM740 944h6v2h-6zM750 944h12v2h-12zM764 944h4v2h-4zM770 944h10v2h-10zM784 944h16v2h-16zM802 944h36v2h-36zM842 944h6v2h-6zM854 944h12v2h-12zM868 944h2v2h-2zM872 944h2v2h-2zM876 944h6v2h-6zM888 944h2v2h-2zM892 944h12v2h-12zM910 944h4v2h-4zM918 944h6v2h-6zM930 944h2v2h-2zM942 944h2v2h-2zM708 946h2v2h-2zM724 946h6v2h-6zM736 946h4v2h-4zM748 946h14v2h-14zM764 946h2v2h-2zM768 946h32v2h-32zM802 946h26v2h-26zM832 946h4v2h-4zM838 946h22v2h-22zM864 946h8v2h-8zM874 946h24v2h-24zM904 946h2v2h-2zM908 946h2v2h-2zM914 946h8v2h-8zM932 946h2v2h-2zM942 946h2v2h-2zM950 946h2v2h-2zM602 948h2v2h-2zM674 948h2v2h-2zM690 948h2v2h-2zM716 948h2v2h-2zM728 948h2v2h-2zM736 948h4v2h-4zM744 948h2v2h-2zM748 948h2v2h-2zM752 948h2v2h-2zM758 948h6v2h-6zM766 948h14v2h-14zM782 948h14v2h-14zM800 948h14v2h-14zM816 948h18v2h-18zM838 948h2v2h-2zM842 948h8v2h-8zM852 948h12v2h-12zM866 948h2v2h-2zM870 948h4v2h-4zM876 948h4v2h-4zM884 948h4v2h-4zM890 948h2v2h-2zM898 948h6v2h-6zM906 948h2v2h-2zM914 948h4v2h-4zM924 948h6v2h-6zM932 948h4v2h-4zM938 948h2v2h-2zM976 948h2v2h-2zM984 948h2v2h-2zM656 950h2v2h-2zM688 950h2v2h-2zM694 950h2v2h-2zM702 950h2v2h-2zM708 950h4v2h-4zM716 950h2v2h-2zM720 950h6v2h-6zM730 950h6v2h-6zM738 950h22v2h-22zM762 950h50v2h-50zM814 950h12v2h-12zM828 950h2v2h-2zM832 950h18v2h-18zM852 950h12v2h-12zM866 950h16v2h-16zM884 950h2v2h-2zM890 950h12v2h-12zM906 950h2v2h-2zM920 950h6v2h-6zM928 950h2v2h-2zM932 950h8v2h-8zM958 950h2v2h-2zM700 952h2v2h-2zM712 952h2v2h-2zM716 952h4v2h-4zM722 952h2v2h-2zM732 952h2v2h-2zM736 952h2v2h-2zM740 952h4v2h-4zM748 952h14v2h-14zM768 952h2v2h-2zM772 952h18v2h-18zM792 952h8v2h-8zM802 952h20v2h-20zM824 952h2v2h-2zM828 952h24v2h-24zM854 952h10v2h-10zM866 952h14v2h-14zM888 952h4v2h-4zM896 952h4v2h-4zM902 952h2v2h-2zM908 952h4v2h-4zM914 952h2v2h-2zM920 952h2v2h-2zM924 952h2v2h-2zM928 952h4v2h-4zM938 952h6v2h-6zM992 952h2v2h-2zM622 954h6v2h-6zM672 954h2v2h-2zM700 954h8v2h-8zM710 954h2v2h-2zM716 954h2v2h-2zM720 954h2v2h-2zM726 954h2v2h-2zM730 954h4v2h-4zM738 954h4v2h-4zM744 954h2v2h-2zM750 954h18v2h-18zM770 954h36v2h-36zM808 954h14v2h-14zM824 954h46v2h-46zM872 954h4v2h-4zM878 954h2v2h-2zM884 954h4v2h-4zM892 954h6v2h-6zM900 954h2v2h-2zM908 954h2v2h-2zM914 954h2v2h-2zM920 954h4v2h-4zM930 954h2v2h-2zM936 954h2v2h-2zM940 954h2v2h-2zM944 954h2v2h-2zM656 956h2v2h-2zM688 956h2v2h-2zM700 956h12v2h-12zM714 956h4v2h-4zM726 956h4v2h-4zM732 956h2v2h-2zM736 956h4v2h-4zM742 956h4v2h-4zM748 956h22v2h-22zM772 956h10v2h-10zM784 956h6v2h-6zM792 956h14v2h-14zM808 956h16v2h-16zM826 956h2v2h-2zM830 956h8v2h-8zM840 956h2v2h-2zM844 956h8v2h-8zM854 956h4v2h-4zM860 956h4v2h-4zM866 956h4v2h-4zM874 956h4v2h-4zM880 956h4v2h-4zM886 956h6v2h-6zM896 956h10v2h-10zM908 956h2v2h-2zM914 956h6v2h-6zM922 956h4v2h-4zM928 956h2v2h-2zM932 956h6v2h-6zM950 956h2v2h-2zM1000 956h2v2h-2zM622 958h2v2h-2zM682 958h2v2h-2zM688 958h2v2h-2zM694 958h2v2h-2zM698 958h2v2h-2zM710 958h4v2h-4zM716 958h2v2h-2zM720 958h2v2h-2zM724 958h4v2h-4zM734 958h2v2h-2zM740 958h2v2h-2zM744 958h16v2h-16zM762 958h4v2h-4zM770 958h2v2h-2zM774 958h20v2h-20zM796 958h20v2h-20zM818 958h40v2h-40zM860 958h22v2h-22zM884 958h2v2h-2zM888 958h12v2h-12zM902 958h2v2h-2zM906 958h2v2h-2zM910 958h2v2h-2zM914 958h16v2h-16zM934 958h2v2h-2zM940 958h2v2h-2zM986 958h2v2h-2zM1004 958h2v2h-2zM624 960h2v2h-2zM688 960h2v2h-2zM694 960h6v2h-6zM702 960h2v2h-2zM714 960h6v2h-6zM722 960h30v2h-30zM754 960h12v2h-12zM768 960h20v2h-20zM790 960h10v2h-10zM802 960h4v2h-4zM808 960h4v2h-4zM814 960h52v2h-52zM868 960h10v2h-10zM880 960h6v2h-6zM888 960h4v2h-4zM894 960h2v2h-2zM900 960h8v2h-8zM910 960h4v2h-4zM918 960h4v2h-4zM924 960h2v2h-2zM930 960h2v2h-2zM974 960h2v2h-2zM646 962h2v2h-2zM678 962h8v2h-8zM688 962h2v2h-2zM704 962h6v2h-6zM712 962h8v2h-8zM722 962h8v2h-8zM732 962h4v2h-4zM742 962h32v2h-32zM776 962h10v2h-10zM788 962h30v2h-30zM820 962h4v2h-4zM826 962h16v2h-16zM844 962h12v2h-12zM858 962h8v2h-8zM868 962h8v2h-8zM878 962h2v2h-2zM888 962h4v2h-4zM896 962h16v2h-16zM914 962h4v2h-4zM920 962h2v2h-2zM924 962h4v2h-4zM930 962h4v2h-4zM944 962h2v2h-2zM952 962h2v2h-2zM968 962h2v2h-2zM972 962h2v2h-2zM978 962h2v2h-2zM988 962h2v2h-2zM998 962h2v2h-2zM670 964h2v2h-2zM674 964h2v2h-2zM682 964h2v2h-2zM690 964h2v2h-2zM694 964h2v2h-2zM698 964h6v2h-6zM706 964h2v2h-2zM710 964h6v2h-6zM720 964h2v2h-2zM724 964h2v2h-2zM728 964h8v2h-8zM738 964h28v2h-28zM768 964h6v2h-6zM776 964h6v2h-6zM784 964h8v2h-8zM794 964h24v2h-24zM820 964h6v2h-6zM828 964h20v2h-20zM852 964h6v2h-6zM864 964h6v2h-6zM872 964h4v2h-4zM878 964h2v2h-2zM882 964h8v2h-8zM894 964h2v2h-2zM902 964h2v2h-2zM906 964h6v2h-6zM916 964h2v2h-2zM920 964h4v2h-4zM952 964h2v2h-2zM964 964h2v2h-2zM982 964h2v2h-2zM666 966h4v2h-4zM680 966h2v2h-2zM686 966h2v2h-2zM690 966h2v2h-2zM694 966h2v2h-2zM700 966h4v2h-4zM708 966h10v2h-10zM720 966h14v2h-14zM736 966h2v2h-2zM742 966h2v2h-2zM746 966h12v2h-12zM760 966h4v2h-4zM766 966h20v2h-20zM788 966h8v2h-8zM798 966h2v2h-2zM802 966h14v2h-14zM818 966h12v2h-12zM832 966h4v2h-4zM838 966h26v2h-26zM868 966h14v2h-14zM884 966h2v2h-2zM888 966h6v2h-6zM896 966h6v2h-6zM904 966h16v2h-16zM922 966h4v2h-4zM928 966h8v2h-8zM676 968h2v2h-2zM684 968h2v2h-2zM690 968h4v2h-4zM696 968h2v2h-2zM700 968h2v2h-2zM710 968h8v2h-8zM720 968h22v2h-22zM744 968h24v2h-24zM770 968h4v2h-4zM776 968h2v2h-2zM780 968h4v2h-4zM786 968h8v2h-8zM796 968h8v2h-8zM806 968h44v2h-44zM852 968h14v2h-14zM868 968h12v2h-12zM882 968h24v2h-24zM908 968h2v2h-2zM912 968h2v2h-2zM916 968h12v2h-12zM936 968h2v2h-2zM952 968h2v2h-2zM976 968h2v2h-2zM666 970h2v2h-2zM672 970h2v2h-2zM682 970h2v2h-2zM686 970h2v2h-2zM690 970h2v2h-2zM696 970h2v2h-2zM702 970h2v2h-2zM706 970h2v2h-2zM710 970h4v2h-4zM716 970h10v2h-10zM728 970h2v2h-2zM732 970h14v2h-14zM748 970h2v2h-2zM752 970h14v2h-14zM768 970h32v2h-32zM802 970h20v2h-20zM824 970h40v2h-40zM866 970h16v2h-16zM884 970h4v2h-4zM892 970h4v2h-4zM898 970h2v2h-2zM904 970h4v2h-4zM914 970h6v2h-6zM922 970h4v2h-4zM934 970h2v2h-2zM972 970h2v2h-2zM648 972h2v2h-2zM662 972h2v2h-2zM668 972h2v2h-2zM672 972h2v2h-2zM682 972h2v2h-2zM686 972h4v2h-4zM702 972h10v2h-10zM714 972h4v2h-4zM720 972h2v2h-2zM726 972h2v2h-2zM732 972h2v2h-2zM736 972h4v2h-4zM742 972h10v2h-10zM754 972h2v2h-2zM758 972h26v2h-26zM786 972h12v2h-12zM800 972h10v2h-10zM812 972h2v2h-2zM816 972h8v2h-8zM826 972h10v2h-10zM838 972h4v2h-4zM846 972h2v2h-2zM850 972h22v2h-22zM874 972h6v2h-6zM884 972h4v2h-4zM890 972h4v2h-4zM896 972h4v2h-4zM902 972h6v2h-6zM920 972h2v2h-2zM924 972h4v2h-4zM948 972h2v2h-2zM952 972h2v2h-2zM964 972h2v2h-2zM644 974h2v2h-2zM660 974h2v2h-2zM664 974h2v2h-2zM676 974h6v2h-6zM686 974h12v2h-12zM702 974h4v2h-4zM708 974h28v2h-28zM738 974h20v2h-20zM760 974h10v2h-10zM772 974h16v2h-16zM790 974h50v2h-50zM842 974h14v2h-14zM858 974h12v2h-12zM874 974h4v2h-4zM884 974h6v2h-6zM892 974h2v2h-2zM896 974h20v2h-20zM920 974h2v2h-2zM936 974h2v2h-2zM940 974h2v2h-2zM632 976h2v2h-2zM636 976h2v2h-2zM688 976h2v2h-2zM694 976h2v2h-2zM700 976h2v2h-2zM704 976h4v2h-4zM710 976h20v2h-20zM732 976h2v2h-2zM736 976h2v2h-2zM740 976h2v2h-2zM744 976h4v2h-4zM750 976h26v2h-26zM778 976h8v2h-8zM788 976h10v2h-10zM800 976h16v2h-16zM818 976h2v2h-2zM822 976h18v2h-18zM842 976h14v2h-14zM858 976h8v2h-8zM868 976h6v2h-6zM876 976h4v2h-4zM884 976h14v2h-14zM904 976h6v2h-6zM912 976h2v2h-2zM922 976h2v2h-2zM928 976h2v2h-2zM986 976h2v2h-2zM640 978h2v2h-2zM678 978h2v2h-2zM686 978h6v2h-6zM694 978h2v2h-2zM700 978h4v2h-4zM706 978h2v2h-2zM710 978h4v2h-4zM716 978h68v2h-68zM786 978h8v2h-8zM796 978h18v2h-18zM818 978h4v2h-4zM824 978h12v2h-12zM838 978h8v2h-8zM848 978h22v2h-22zM874 978h4v2h-4zM880 978h14v2h-14zM898 978h8v2h-8zM908 978h2v2h-2zM912 978h2v2h-2zM918 978h2v2h-2zM940 978h2v2h-2zM980 978h2v2h-2zM654 980h2v2h-2zM684 980h2v2h-2zM690 980h2v2h-2zM694 980h2v2h-2zM700 980h8v2h-8zM710 980h2v2h-2zM714 980h16v2h-16zM734 980h14v2h-14zM750 980h16v2h-16zM768 980h18v2h-18zM788 980h6v2h-6zM798 980h22v2h-22zM822 980h6v2h-6zM830 980h48v2h-48zM880 980h4v2h-4zM886 980h12v2h-12zM902 980h2v2h-2zM908 980h8v2h-8zM918 980h4v2h-4zM924 980h2v2h-2zM930 980h2v2h-2zM934 980h4v2h-4zM958 980h2v2h-2zM976 980h2v2h-2zM1002 980h2v2h-2zM1006 980h2v2h-2zM614 982h2v2h-2zM668 982h2v2h-2zM678 982h2v2h-2zM688 982h6v2h-6zM696 982h12v2h-12zM710 982h2v2h-2zM714 982h4v2h-4zM720 982h16v2h-16zM740 982h4v2h-4zM746 982h2v2h-2zM750 982h10v2h-10zM762 982h16v2h-16zM780 982h2v2h-2zM784 982h6v2h-6zM792 982h2v2h-2zM796 982h26v2h-26zM824 982h20v2h-20zM846 982h8v2h-8zM856 982h14v2h-14zM872 982h4v2h-4zM880 982h18v2h-18zM904 982h2v2h-2zM910 982h2v2h-2zM918 982h2v2h-2zM930 982h4v2h-4zM614 984h2v2h-2zM628 984h2v2h-2zM660 984h2v2h-2zM666 984h4v2h-4zM672 984h2v2h-2zM676 984h2v2h-2zM680 984h2v2h-2zM686 984h2v2h-2zM690 984h16v2h-16zM710 984h12v2h-12zM724 984h2v2h-2zM728 984h10v2h-10zM740 984h46v2h-46zM788 984h26v2h-26zM816 984h32v2h-32zM850 984h24v2h-24zM876 984h12v2h-12zM890 984h4v2h-4zM898 984h14v2h-14zM922 984h2v2h-2zM932 984h4v2h-4zM938 984h2v2h-2zM944 984h2v2h-2zM950 984h2v2h-2zM996 984h2v2h-2zM666 986h2v2h-2zM676 986h2v2h-2zM684 986h6v2h-6zM692 986h2v2h-2zM696 986h12v2h-12zM710 986h4v2h-4zM716 986h6v2h-6zM724 986h2v2h-2zM728 986h20v2h-20zM750 986h4v2h-4zM756 986h10v2h-10zM768 986h14v2h-14zM784 986h40v2h-40zM830 986h2v2h-2zM834 986h30v2h-30zM866 986h16v2h-16zM886 986h2v2h-2zM890 986h8v2h-8zM904 986h4v2h-4zM910 986h2v2h-2zM914 986h2v2h-2zM918 986h2v2h-2zM922 986h4v2h-4zM928 986h2v2h-2zM938 986h2v2h-2zM668 988h4v2h-4zM676 988h4v2h-4zM682 988h6v2h-6zM692 988h2v2h-2zM696 988h6v2h-6zM706 988h4v2h-4zM714 988h6v2h-6zM722 988h12v2h-12zM736 988h16v2h-16zM760 988h6v2h-6zM768 988h6v2h-6zM776 988h76v2h-76zM854 988h8v2h-8zM864 988h16v2h-16zM882 988h4v2h-4zM890 988h2v2h-2zM894 988h4v2h-4zM900 988h10v2h-10zM912 988h4v2h-4zM922 988h2v2h-2zM928 988h2v2h-2zM936 988h4v2h-4zM946 988h4v2h-4zM966 988h2v2h-2zM972 988h2v2h-2zM976 988h2v2h-2zM672 990h12v2h-12zM686 990h2v2h-2zM692 990h14v2h-14zM708 990h4v2h-4zM714 990h2v2h-2zM718 990h12v2h-12zM732 990h6v2h-6zM740 990h10v2h-10zM752 990h18v2h-18zM772 990h52v2h-52zM826 990h20v2h-20zM848 990h18v2h-18zM868 990h8v2h-8zM878 990h4v2h-4zM884 990h2v2h-2zM890 990h2v2h-2zM898 990h4v2h-4zM904 990h4v2h-4zM916 990h2v2h-2zM922 990h4v2h-4zM932 990h4v2h-4zM978 990h2v2h-2zM1008 990h2v2h-2zM656 992h2v2h-2zM680 992h2v2h-2zM692 992h2v2h-2zM698 992h6v2h-6zM708 992h4v2h-4zM714 992h2v2h-2zM718 992h6v2h-6zM728 992h4v2h-4zM734 992h2v2h-2zM740 992h10v2h-10zM754 992h22v2h-22zM778 992h56v2h-56zM836 992h14v2h-14zM854 992h30v2h-30zM888 992h6v2h-6zM896 992h2v2h-2zM900 992h8v2h-8zM920 992h6v2h-6zM932 992h2v2h-2zM938 992h2v2h-2zM942 992h2v2h-2zM946 992h2v2h-2zM952 992h2v2h-2zM982 992h2v2h-2zM680 994h10v2h-10zM694 994h4v2h-4zM700 994h4v2h-4zM708 994h2v2h-2zM714 994h2v2h-2zM720 994h8v2h-8zM730 994h24v2h-24zM756 994h12v2h-12zM770 994h78v2h-78zM850 994h20v2h-20zM876 994h18v2h-18zM896 994h8v2h-8zM906 994h6v2h-6zM914 994h18v2h-18zM936 994h4v2h-4zM956 994h2v2h-2zM960 994h2v2h-2zM602 996h2v2h-2zM648 996h2v2h-2zM666 996h2v2h-2zM670 996h2v2h-2zM674 996h2v2h-2zM682 996h4v2h-4zM688 996h2v2h-2zM696 996h4v2h-4zM702 996h6v2h-6zM710 996h6v2h-6zM718 996h2v2h-2zM722 996h4v2h-4zM728 996h6v2h-6zM736 996h22v2h-22zM760 996h2v2h-2zM764 996h28v2h-28zM794 996h24v2h-24zM820 996h16v2h-16zM838 996h14v2h-14zM854 996h8v2h-8zM864 996h6v2h-6zM874 996h6v2h-6zM882 996h2v2h-2zM886 996h2v2h-2zM890 996h12v2h-12zM904 996h6v2h-6zM914 996h2v2h-2zM920 996h2v2h-2zM930 996h2v2h-2zM940 996h2v2h-2zM972 996h2v2h-2zM658 998h2v2h-2zM662 998h2v2h-2zM672 998h6v2h-6zM690 998h4v2h-4zM698 998h10v2h-10zM710 998h4v2h-4zM716 998h30v2h-30zM750 998h8v2h-8zM762 998h42v2h-42zM806 998h12v2h-12zM820 998h10v2h-10zM832 998h14v2h-14zM848 998h14v2h-14zM866 998h4v2h-4zM872 998h10v2h-10zM884 998h4v2h-4zM892 998h8v2h-8zM902 998h2v2h-2zM906 998h2v2h-2zM912 998h2v2h-2zM916 998h4v2h-4zM922 998h2v2h-2zM930 998h4v2h-4zM938 998h10v2h-10zM960 998h2v2h-2zM984 998h2v2h-2zM994 998h2v2h-2zM622 1000h2v2h-2zM646 1000h4v2h-4zM656 1000h2v2h-2zM664 1000h4v2h-4zM684 1000h2v2h-2zM688 1000h2v2h-2zM692 1000h4v2h-4zM698 1000h4v2h-4zM704 1000h6v2h-6zM716 1000h2v2h-2zM720 1000h10v2h-10zM732 1000h26v2h-26zM760 1000h28v2h-28zM790 1000h4v2h-4zM796 1000h32v2h-32zM830 1000h34v2h-34zM866 1000h6v2h-6zM874 1000h22v2h-22zM900 1000h6v2h-6zM908 1000h4v2h-4zM916 1000h6v2h-6zM924 1000h8v2h-8zM962 1000h2v2h-2zM996 1000h2v2h-2zM626 1002h2v2h-2zM658 1002h4v2h-4zM668 1002h2v2h-2zM678 1002h2v2h-2zM682 1002h2v2h-2zM692 1002h2v2h-2zM696 1002h6v2h-6zM704 1002h2v2h-2zM708 1002h4v2h-4zM714 1002h6v2h-6zM722 1002h6v2h-6zM732 1002h10v2h-10zM744 1002h26v2h-26zM772 1002h32v2h-32zM806 1002h28v2h-28zM836 1002h6v2h-6zM844 1002h18v2h-18zM864 1002h14v2h-14zM886 1002h2v2h-2zM890 1002h4v2h-4zM898 1002h2v2h-2zM906 1002h2v2h-2zM922 1002h2v2h-2zM926 1002h2v2h-2zM932 1002h10v2h-10zM954 1002h2v2h-2zM958 1002h2v2h-2zM990 1002h2v2h-2zM996 1002h2v2h-2zM640 1004h2v2h-2zM652 1004h2v2h-2zM656 1004h2v2h-2zM680 1004h2v2h-2zM684 1004h2v2h-2zM690 1004h4v2h-4zM696 1004h2v2h-2zM700 1004h2v2h-2zM704 1004h8v2h-8zM716 1004h6v2h-6zM724 1004h2v2h-2zM732 1004h16v2h-16zM750 1004h8v2h-8zM762 1004h4v2h-4zM768 1004h70v2h-70zM840 1004h2v2h-2zM844 1004h16v2h-16zM862 1004h2v2h-2zM866 1004h4v2h-4zM874 1004h2v2h-2zM878 1004h6v2h-6zM886 1004h6v2h-6zM894 1004h4v2h-4zM902 1004h4v2h-4zM908 1004h6v2h-6zM916 1004h2v2h-2zM920 1004h2v2h-2zM924 1004h2v2h-2zM932 1004h8v2h-8zM944 1004h4v2h-4zM954 1004h2v2h-2zM966 1004h2v2h-2zM996 1004h2v2h-2zM648 1006h2v2h-2zM656 1006h2v2h-2zM660 1006h2v2h-2zM668 1006h2v2h-2zM682 1006h2v2h-2zM690 1006h2v2h-2zM702 1006h6v2h-6zM710 1006h4v2h-4zM718 1006h6v2h-6zM728 1006h10v2h-10zM740 1006h2v2h-2zM744 1006h6v2h-6zM752 1006h2v2h-2zM756 1006h24v2h-24zM782 1006h4v2h-4zM788 1006h82v2h-82zM872 1006h8v2h-8zM882 1006h2v2h-2zM886 1006h10v2h-10zM902 1006h2v2h-2zM906 1006h10v2h-10zM918 1006h2v2h-2zM924 1006h2v2h-2zM928 1006h6v2h-6zM940 1006h2v2h-2zM642 1008h2v2h-2zM646 1008h2v2h-2zM668 1008h2v2h-2zM682 1008h2v2h-2zM686 1008h4v2h-4zM692 1008h4v2h-4zM700 1008h2v2h-2zM704 1008h2v2h-2zM708 1008h18v2h-18zM730 1008h8v2h-8zM740 1008h4v2h-4zM746 1008h24v2h-24zM772 1008h44v2h-44zM820 1008h4v2h-4zM826 1008h10v2h-10zM838 1008h18v2h-18zM858 1008h16v2h-16zM876 1008h12v2h-12zM890 1008h2v2h-2zM894 1008h6v2h-6zM902 1008h4v2h-4zM908 1008h4v2h-4zM920 1008h12v2h-12zM934 1008h2v2h-2zM938 1008h2v2h-2zM950 1008h2v2h-2zM982 1008h2v2h-2zM634 1010h2v2h-2zM638 1010h2v2h-2zM662 1010h2v2h-2zM668 1010h2v2h-2zM674 1010h2v2h-2zM690 1010h2v2h-2zM694 1010h4v2h-4zM708 1010h2v2h-2zM714 1010h18v2h-18zM734 1010h2v2h-2zM738 1010h4v2h-4zM746 1010h28v2h-28zM776 1010h44v2h-44zM822 1010h14v2h-14zM842 1010h40v2h-40zM884 1010h2v2h-2zM888 1010h4v2h-4zM894 1010h6v2h-6zM902 1010h4v2h-4zM908 1010h8v2h-8zM920 1010h2v2h-2zM924 1010h6v2h-6zM932 1010h2v2h-2zM948 1010h4v2h-4zM986 1010h2v2h-2zM990 1010h2v2h-2zM618 1012h2v2h-2zM656 1012h4v2h-4zM676 1012h2v2h-2zM682 1012h2v2h-2zM686 1012h10v2h-10zM700 1012h6v2h-6zM710 1012h2v2h-2zM716 1012h2v2h-2zM720 1012h10v2h-10zM732 1012h24v2h-24zM758 1012h4v2h-4zM764 1012h2v2h-2zM768 1012h8v2h-8zM778 1012h2v2h-2zM782 1012h76v2h-76zM860 1012h14v2h-14zM880 1012h8v2h-8zM892 1012h4v2h-4zM908 1012h4v2h-4zM914 1012h2v2h-2zM920 1012h2v2h-2zM924 1012h8v2h-8zM936 1012h2v2h-2zM946 1012h2v2h-2zM952 1012h2v2h-2zM958 1012h2v2h-2zM612 1014h4v2h-4zM666 1014h2v2h-2zM672 1014h2v2h-2zM678 1014h2v2h-2zM688 1014h2v2h-2zM694 1014h12v2h-12zM712 1014h2v2h-2zM718 1014h12v2h-12zM732 1014h12v2h-12zM746 1014h2v2h-2zM750 1014h18v2h-18zM770 1014h34v2h-34zM808 1014h32v2h-32zM842 1014h14v2h-14zM858 1014h2v2h-2zM862 1014h14v2h-14zM878 1014h2v2h-2zM882 1014h2v2h-2zM886 1014h18v2h-18zM906 1014h2v2h-2zM910 1014h6v2h-6zM918 1014h4v2h-4zM924 1014h2v2h-2zM930 1014h6v2h-6zM942 1014h2v2h-2zM952 1014h2v2h-2zM958 1014h2v2h-2zM614 1016h2v2h-2zM628 1016h2v2h-2zM660 1016h4v2h-4zM666 1016h2v2h-2zM680 1016h2v2h-2zM686 1016h12v2h-12zM702 1016h2v2h-2zM708 1016h24v2h-24zM736 1016h18v2h-18zM756 1016h4v2h-4zM762 1016h14v2h-14zM778 1016h6v2h-6zM786 1016h38v2h-38zM826 1016h8v2h-8zM836 1016h8v2h-8zM846 1016h26v2h-26zM874 1016h8v2h-8zM886 1016h4v2h-4zM898 1016h4v2h-4zM904 1016h2v2h-2zM922 1016h2v2h-2zM926 1016h2v2h-2zM930 1016h6v2h-6zM942 1016h2v2h-2zM952 1016h2v2h-2zM958 1016h4v2h-4zM604 1018h2v2h-2zM610 1018h2v2h-2zM640 1018h2v2h-2zM656 1018h2v2h-2zM664 1018h2v2h-2zM668 1018h2v2h-2zM674 1018h2v2h-2zM682 1018h6v2h-6zM690 1018h4v2h-4zM696 1018h2v2h-2zM700 1018h10v2h-10zM712 1018h4v2h-4zM718 1018h2v2h-2zM722 1018h6v2h-6zM734 1018h8v2h-8zM746 1018h2v2h-2zM750 1018h56v2h-56zM808 1018h4v2h-4zM814 1018h30v2h-30zM846 1018h12v2h-12zM860 1018h16v2h-16zM880 1018h14v2h-14zM896 1018h6v2h-6zM906 1018h2v2h-2zM912 1018h4v2h-4zM922 1018h4v2h-4zM928 1018h4v2h-4zM936 1018h2v2h-2zM944 1018h2v2h-2zM950 1018h4v2h-4zM960 1018h2v2h-2zM656 1020h2v2h-2zM680 1020h2v2h-2zM688 1020h4v2h-4zM698 1020h6v2h-6zM714 1020h4v2h-4zM720 1020h2v2h-2zM724 1020h12v2h-12zM738 1020h4v2h-4zM744 1020h22v2h-22zM770 1020h18v2h-18zM790 1020h74v2h-74zM866 1020h14v2h-14zM884 1020h4v2h-4zM890 1020h2v2h-2zM894 1020h2v2h-2zM898 1020h4v2h-4zM906 1020h2v2h-2zM910 1020h2v2h-2zM914 1020h2v2h-2zM930 1020h6v2h-6zM938 1020h2v2h-2zM950 1020h2v2h-2zM954 1020h2v2h-2zM966 1020h2v2h-2zM998 1020h4v2h-4zM600 1022h2v2h-2zM654 1022h2v2h-2zM660 1022h2v2h-2zM692 1022h2v2h-2zM696 1022h4v2h-4zM702 1022h6v2h-6zM710 1022h2v2h-2zM718 1022h6v2h-6zM728 1022h2v2h-2zM732 1022h4v2h-4zM738 1022h8v2h-8zM750 1022h4v2h-4zM756 1022h2v2h-2zM760 1022h18v2h-18zM780 1022h62v2h-62zM844 1022h30v2h-30zM878 1022h2v2h-2zM888 1022h2v2h-2zM894 1022h6v2h-6zM904 1022h2v2h-2zM908 1022h2v2h-2zM914 1022h2v2h-2zM928 1022h2v2h-2zM932 1022h2v2h-2zM954 1022h2v2h-2zM968 1022h2v2h-2zM610 1024h2v2h-2zM648 1024h2v2h-2zM682 1024h4v2h-4zM698 1024h2v2h-2zM702 1024h4v2h-4zM708 1024h6v2h-6zM718 1024h2v2h-2zM722 1024h2v2h-2zM728 1024h10v2h-10zM742 1024h4v2h-4zM748 1024h16v2h-16zM766 1024h34v2h-34zM802 1024h2v2h-2zM808 1024h4v2h-4zM814 1024h24v2h-24zM842 1024h14v2h-14zM858 1024h4v2h-4zM864 1024h8v2h-8zM874 1024h2v2h-2zM878 1024h8v2h-8zM888 1024h4v2h-4zM896 1024h2v2h-2zM908 1024h2v2h-2zM912 1024h2v2h-2zM918 1024h8v2h-8zM928 1024h4v2h-4zM938 1024h2v2h-2zM942 1024h4v2h-4zM958 1024h2v2h-2zM964 1024h2v2h-2zM990 1024h2v2h-2zM650 1026h2v2h-2zM670 1026h4v2h-4zM678 1026h2v2h-2zM682 1026h2v2h-2zM688 1026h2v2h-2zM692 1026h2v2h-2zM698 1026h4v2h-4zM706 1026h2v2h-2zM710 1026h8v2h-8zM722 1026h4v2h-4zM730 1026h4v2h-4zM736 1026h4v2h-4zM742 1026h4v2h-4zM748 1026h6v2h-6zM756 1026h4v2h-4zM762 1026h14v2h-14zM780 1026h18v2h-18zM800 1026h4v2h-4zM806 1026h6v2h-6zM814 1026h48v2h-48zM864 1026h10v2h-10zM876 1026h8v2h-8zM890 1026h2v2h-2zM894 1026h2v2h-2zM902 1026h8v2h-8zM916 1026h4v2h-4zM922 1026h4v2h-4zM928 1026h2v2h-2zM944 1026h2v2h-2zM966 1026h2v2h-2zM974 1026h2v2h-2zM668 1028h2v2h-2zM692 1028h2v2h-2zM696 1028h6v2h-6zM710 1028h4v2h-4zM716 1028h12v2h-12zM732 1028h8v2h-8zM742 1028h12v2h-12zM756 1028h4v2h-4zM762 1028h4v2h-4zM768 1028h4v2h-4zM774 1028h12v2h-12zM788 1028h22v2h-22zM812 1028h14v2h-14zM828 1028h40v2h-40zM870 1028h16v2h-16zM888 1028h6v2h-6zM896 1028h6v2h-6zM906 1028h4v2h-4zM914 1028h4v2h-4zM922 1028h4v2h-4zM930 1028h2v2h-2zM938 1028h4v2h-4zM948 1028h2v2h-2zM624 1030h2v2h-2zM654 1030h2v2h-2zM668 1030h2v2h-2zM680 1030h2v2h-2zM686 1030h2v2h-2zM690 1030h4v2h-4zM698 1030h4v2h-4zM704 1030h6v2h-6zM712 1030h6v2h-6zM720 1030h8v2h-8zM732 1030h2v2h-2zM736 1030h4v2h-4zM744 1030h18v2h-18zM766 1030h12v2h-12zM780 1030h8v2h-8zM790 1030h2v2h-2zM794 1030h2v2h-2zM798 1030h4v2h-4zM804 1030h24v2h-24zM830 1030h14v2h-14zM846 1030h6v2h-6zM854 1030h18v2h-18zM876 1030h4v2h-4zM882 1030h8v2h-8zM892 1030h4v2h-4zM902 1030h2v2h-2zM906 1030h4v2h-4zM912 1030h2v2h-2zM918 1030h4v2h-4zM926 1030h2v2h-2zM930 1030h2v2h-2zM936 1030h4v2h-4zM968 1030h2v2h-2zM1002 1030h2v2h-2zM636 1032h2v2h-2zM642 1032h2v2h-2zM654 1032h2v2h-2zM666 1032h2v2h-2zM674 1032h2v2h-2zM680 1032h4v2h-4zM690 1032h4v2h-4zM700 1032h4v2h-4zM706 1032h4v2h-4zM714 1032h8v2h-8zM730 1032h6v2h-6zM740 1032h12v2h-12zM754 1032h16v2h-16zM772 1032h16v2h-16zM790 1032h40v2h-40zM832 1032h2v2h-2zM836 1032h24v2h-24zM864 1032h2v2h-2zM868 1032h8v2h-8zM878 1032h6v2h-6zM886 1032h6v2h-6zM898 1032h10v2h-10zM910 1032h2v2h-2zM924 1032h2v2h-2zM928 1032h2v2h-2zM954 1032h4v2h-4zM980 1032h2v2h-2zM1002 1032h2v2h-2zM606 1034h2v2h-2zM610 1034h2v2h-2zM666 1034h4v2h-4zM672 1034h4v2h-4zM678 1034h2v2h-2zM692 1034h4v2h-4zM702 1034h10v2h-10zM718 1034h10v2h-10zM730 1034h14v2h-14zM746 1034h28v2h-28zM776 1034h6v2h-6zM784 1034h6v2h-6zM792 1034h16v2h-16zM810 1034h32v2h-32zM846 1034h6v2h-6zM854 1034h6v2h-6zM864 1034h28v2h-28zM902 1034h8v2h-8zM916 1034h2v2h-2zM920 1034h2v2h-2zM926 1034h4v2h-4zM958 1034h2v2h-2zM962 1034h4v2h-4zM672 1036h2v2h-2zM688 1036h4v2h-4zM696 1036h2v2h-2zM704 1036h4v2h-4zM710 1036h2v2h-2zM714 1036h8v2h-8zM724 1036h16v2h-16zM742 1036h6v2h-6zM750 1036h38v2h-38zM790 1036h22v2h-22zM814 1036h18v2h-18zM834 1036h2v2h-2zM838 1036h26v2h-26zM866 1036h12v2h-12zM880 1036h4v2h-4zM886 1036h8v2h-8zM898 1036h4v2h-4zM908 1036h4v2h-4zM914 1036h2v2h-2zM918 1036h2v2h-2zM924 1036h6v2h-6zM932 1036h2v2h-2zM952 1036h4v2h-4zM958 1036h2v2h-2zM652 1038h2v2h-2zM672 1038h2v2h-2zM678 1038h2v2h-2zM682 1038h2v2h-2zM694 1038h6v2h-6zM702 1038h2v2h-2zM706 1038h4v2h-4zM716 1038h2v2h-2zM720 1038h6v2h-6zM730 1038h4v2h-4zM736 1038h8v2h-8zM746 1038h10v2h-10zM758 1038h16v2h-16zM776 1038h14v2h-14zM792 1038h42v2h-42zM836 1038h6v2h-6zM844 1038h14v2h-14zM862 1038h12v2h-12zM878 1038h8v2h-8zM890 1038h4v2h-4zM896 1038h4v2h-4zM902 1038h4v2h-4zM908 1038h4v2h-4zM918 1038h2v2h-2zM924 1038h4v2h-4zM956 1038h2v2h-2zM960 1038h2v2h-2zM1008 1038h2v2h-2zM600 1040h2v2h-2zM644 1040h2v2h-2zM670 1040h2v2h-2zM682 1040h2v2h-2zM686 1040h2v2h-2zM690 1040h4v2h-4zM698 1040h2v2h-2zM704 1040h10v2h-10zM716 1040h6v2h-6zM724 1040h14v2h-14zM740 1040h16v2h-16zM758 1040h22v2h-22zM782 1040h12v2h-12zM796 1040h2v2h-2zM800 1040h58v2h-58zM860 1040h10v2h-10zM872 1040h6v2h-6zM880 1040h2v2h-2zM884 1040h18v2h-18zM908 1040h2v2h-2zM914 1040h2v2h-2zM920 1040h6v2h-6zM928 1040h2v2h-2zM932 1040h4v2h-4zM938 1040h2v2h-2zM942 1040h2v2h-2zM954 1040h2v2h-2zM960 1040h2v2h-2zM608 1042h2v2h-2zM614 1042h2v2h-2zM632 1042h2v2h-2zM672 1042h4v2h-4zM684 1042h2v2h-2zM688 1042h4v2h-4zM696 1042h4v2h-4zM702 1042h4v2h-4zM710 1042h2v2h-2zM716 1042h6v2h-6zM726 1042h8v2h-8zM736 1042h2v2h-2zM740 1042h16v2h-16zM758 1042h2v2h-2zM762 1042h10v2h-10zM774 1042h44v2h-44zM820 1042h22v2h-22zM844 1042h6v2h-6zM852 1042h4v2h-4zM860 1042h8v2h-8zM870 1042h4v2h-4zM876 1042h14v2h-14zM892 1042h4v2h-4zM900 1042h4v2h-4zM908 1042h2v2h-2zM916 1042h2v2h-2zM928 1042h6v2h-6zM944 1042h2v2h-2zM950 1042h2v2h-2zM668 1044h2v2h-2zM678 1044h8v2h-8zM690 1044h2v2h-2zM694 1044h2v2h-2zM698 1044h16v2h-16zM716 1044h8v2h-8zM726 1044h4v2h-4zM734 1044h2v2h-2zM738 1044h30v2h-30zM770 1044h18v2h-18zM790 1044h54v2h-54zM846 1044h2v2h-2zM850 1044h18v2h-18zM872 1044h4v2h-4zM878 1044h2v2h-2zM882 1044h8v2h-8zM894 1044h6v2h-6zM902 1044h2v2h-2zM914 1044h2v2h-2zM926 1044h2v2h-2zM930 1044h2v2h-2zM936 1044h2v2h-2zM948 1044h2v2h-2zM984 1044h2v2h-2zM996 1044h2v2h-2zM606 1046h2v2h-2zM668 1046h4v2h-4zM674 1046h4v2h-4zM684 1046h2v2h-2zM690 1046h2v2h-2zM694 1046h2v2h-2zM698 1046h12v2h-12zM712 1046h6v2h-6zM720 1046h10v2h-10zM734 1046h2v2h-2zM740 1046h2v2h-2zM744 1046h18v2h-18zM764 1046h6v2h-6zM772 1046h6v2h-6zM780 1046h24v2h-24zM806 1046h24v2h-24zM832 1046h40v2h-40zM874 1046h6v2h-6zM882 1046h2v2h-2zM888 1046h2v2h-2zM896 1046h4v2h-4zM912 1046h2v2h-2zM930 1046h2v2h-2zM940 1046h2v2h-2zM638 1048h2v2h-2zM670 1048h2v2h-2zM682 1048h2v2h-2zM686 1048h2v2h-2zM690 1048h2v2h-2zM696 1048h2v2h-2zM702 1048h4v2h-4zM708 1048h8v2h-8zM718 1048h2v2h-2zM724 1048h2v2h-2zM730 1048h8v2h-8zM740 1048h4v2h-4zM746 1048h2v2h-2zM750 1048h16v2h-16zM768 1048h34v2h-34zM804 1048h4v2h-4zM810 1048h22v2h-22zM834 1048h26v2h-26zM862 1048h10v2h-10zM874 1048h12v2h-12zM892 1048h4v2h-4zM898 1048h8v2h-8zM912 1048h2v2h-2zM916 1048h4v2h-4zM922 1048h6v2h-6zM932 1048h2v2h-2zM948 1048h2v2h-2zM602 1050h2v2h-2zM658 1050h4v2h-4zM672 1050h2v2h-2zM684 1050h4v2h-4zM694 1050h4v2h-4zM700 1050h4v2h-4zM706 1050h4v2h-4zM712 1050h2v2h-2zM716 1050h30v2h-30zM748 1050h10v2h-10zM760 1050h10v2h-10zM774 1050h12v2h-12zM788 1050h4v2h-4zM794 1050h14v2h-14zM810 1050h10v2h-10zM822 1050h10v2h-10zM834 1050h18v2h-18zM854 1050h2v2h-2zM858 1050h2v2h-2zM862 1050h10v2h-10zM876 1050h8v2h-8zM886 1050h2v2h-2zM892 1050h4v2h-4zM898 1050h4v2h-4zM908 1050h2v2h-2zM912 1050h2v2h-2zM922 1050h6v2h-6zM942 1050h2v2h-2zM954 1050h4v2h-4zM982 1050h2v2h-2zM636 1052h2v2h-2zM658 1052h6v2h-6zM670 1052h4v2h-4zM684 1052h2v2h-2zM690 1052h4v2h-4zM696 1052h4v2h-4zM704 1052h10v2h-10zM716 1052h4v2h-4zM722 1052h12v2h-12zM736 1052h20v2h-20zM758 1052h20v2h-20zM780 1052h14v2h-14zM796 1052h2v2h-2zM800 1052h2v2h-2zM804 1052h16v2h-16zM822 1052h10v2h-10zM834 1052h6v2h-6zM842 1052h20v2h-20zM864 1052h2v2h-2zM868 1052h2v2h-2zM872 1052h8v2h-8zM882 1052h2v2h-2zM886 1052h8v2h-8zM900 1052h2v2h-2zM904 1052h2v2h-2zM908 1052h6v2h-6zM920 1052h2v2h-2zM924 1052h2v2h-2zM928 1052h4v2h-4zM940 1052h2v2h-2zM944 1052h2v2h-2zM948 1052h4v2h-4zM622 1054h2v2h-2zM630 1054h2v2h-2zM652 1054h2v2h-2zM684 1054h2v2h-2zM702 1054h6v2h-6zM710 1054h8v2h-8zM724 1054h4v2h-4zM730 1054h30v2h-30zM764 1054h4v2h-4zM770 1054h44v2h-44zM818 1054h12v2h-12zM832 1054h4v2h-4zM842 1054h32v2h-32zM878 1054h4v2h-4zM892 1054h2v2h-2zM898 1054h4v2h-4zM908 1054h2v2h-2zM930 1054h4v2h-4zM936 1054h2v2h-2zM946 1054h2v2h-2zM958 1054h2v2h-2zM986 1054h2v2h-2zM648 1056h2v2h-2zM702 1056h4v2h-4zM710 1056h6v2h-6zM718 1056h2v2h-2zM722 1056h6v2h-6zM732 1056h4v2h-4zM738 1056h8v2h-8zM750 1056h2v2h-2zM754 1056h2v2h-2zM760 1056h10v2h-10zM772 1056h4v2h-4zM778 1056h14v2h-14zM794 1056h44v2h-44zM844 1056h16v2h-16zM866 1056h6v2h-6zM876 1056h6v2h-6zM886 1056h2v2h-2zM892 1056h2v2h-2zM896 1056h6v2h-6zM916 1056h2v2h-2zM924 1056h4v2h-4zM948 1056h2v2h-2zM962 1056h2v2h-2zM978 1056h2v2h-2zM616 1058h4v2h-4zM670 1058h4v2h-4zM676 1058h2v2h-2zM680 1058h2v2h-2zM684 1058h2v2h-2zM688 1058h2v2h-2zM692 1058h2v2h-2zM696 1058h2v2h-2zM704 1058h8v2h-8zM714 1058h4v2h-4zM724 1058h6v2h-6zM732 1058h2v2h-2zM736 1058h2v2h-2zM742 1058h16v2h-16zM762 1058h38v2h-38zM804 1058h4v2h-4zM810 1058h36v2h-36zM848 1058h2v2h-2zM852 1058h10v2h-10zM864 1058h6v2h-6zM872 1058h8v2h-8zM882 1058h2v2h-2zM886 1058h2v2h-2zM896 1058h2v2h-2zM902 1058h2v2h-2zM910 1058h2v2h-2zM918 1058h2v2h-2zM1006 1058h2v2h-2zM650 1060h2v2h-2zM686 1060h2v2h-2zM690 1060h4v2h-4zM702 1060h2v2h-2zM714 1060h8v2h-8zM724 1060h2v2h-2zM730 1060h2v2h-2zM738 1060h8v2h-8zM748 1060h8v2h-8zM758 1060h10v2h-10zM770 1060h10v2h-10zM782 1060h22v2h-22zM806 1060h12v2h-12zM820 1060h2v2h-2zM824 1060h10v2h-10zM836 1060h8v2h-8zM848 1060h4v2h-4zM856 1060h8v2h-8zM866 1060h2v2h-2zM870 1060h8v2h-8zM882 1060h6v2h-6zM890 1060h6v2h-6zM902 1060h4v2h-4zM910 1060h2v2h-2zM942 1060h2v2h-2zM960 1060h2v2h-2zM672 1062h2v2h-2zM682 1062h2v2h-2zM688 1062h2v2h-2zM692 1062h4v2h-4zM700 1062h2v2h-2zM704 1062h2v2h-2zM712 1062h2v2h-2zM718 1062h10v2h-10zM730 1062h2v2h-2zM734 1062h12v2h-12zM748 1062h22v2h-22zM772 1062h18v2h-18zM792 1062h8v2h-8zM802 1062h4v2h-4zM810 1062h10v2h-10zM822 1062h4v2h-4zM828 1062h16v2h-16zM846 1062h30v2h-30zM878 1062h6v2h-6zM888 1062h2v2h-2zM892 1062h4v2h-4zM900 1062h2v2h-2zM906 1062h2v2h-2zM912 1062h2v2h-2zM916 1062h4v2h-4zM922 1062h2v2h-2zM982 1062h2v2h-2zM636 1064h2v2h-2zM670 1064h2v2h-2zM680 1064h2v2h-2zM688 1064h2v2h-2zM692 1064h2v2h-2zM702 1064h2v2h-2zM712 1064h2v2h-2zM716 1064h2v2h-2zM728 1064h2v2h-2zM734 1064h6v2h-6zM742 1064h26v2h-26zM772 1064h8v2h-8zM782 1064h2v2h-2zM790 1064h6v2h-6zM798 1064h6v2h-6zM806 1064h30v2h-30zM838 1064h4v2h-4zM844 1064h20v2h-20zM866 1064h24v2h-24zM892 1064h4v2h-4zM908 1064h4v2h-4zM914 1064h4v2h-4zM922 1064h2v2h-2zM940 1064h2v2h-2zM976 1064h2v2h-2zM672 1066h2v2h-2zM676 1066h4v2h-4zM688 1066h2v2h-2zM692 1066h4v2h-4zM698 1066h4v2h-4zM706 1066h4v2h-4zM718 1066h2v2h-2zM722 1066h4v2h-4zM728 1066h16v2h-16zM746 1066h8v2h-8zM756 1066h12v2h-12zM772 1066h2v2h-2zM776 1066h2v2h-2zM780 1066h20v2h-20zM802 1066h2v2h-2zM806 1066h6v2h-6zM814 1066h8v2h-8zM824 1066h24v2h-24zM850 1066h36v2h-36zM888 1066h6v2h-6zM906 1066h6v2h-6zM920 1066h2v2h-2zM958 1066h2v2h-2zM634 1068h2v2h-2zM638 1068h4v2h-4zM676 1068h4v2h-4zM682 1068h4v2h-4zM712 1068h4v2h-4zM718 1068h2v2h-2zM722 1068h2v2h-2zM726 1068h4v2h-4zM732 1068h4v2h-4zM738 1068h6v2h-6zM746 1068h4v2h-4zM752 1068h6v2h-6zM760 1068h8v2h-8zM770 1068h6v2h-6zM778 1068h16v2h-16zM796 1068h6v2h-6zM804 1068h10v2h-10zM816 1068h4v2h-4zM822 1068h26v2h-26zM850 1068h8v2h-8zM860 1068h16v2h-16zM878 1068h10v2h-10zM894 1068h2v2h-2zM900 1068h2v2h-2zM910 1068h2v2h-2zM918 1068h2v2h-2zM922 1068h2v2h-2zM942 1068h2v2h-2zM636 1070h2v2h-2zM668 1070h2v2h-2zM680 1070h4v2h-4zM688 1070h2v2h-2zM700 1070h4v2h-4zM706 1070h2v2h-2zM714 1070h4v2h-4zM720 1070h4v2h-4zM728 1070h8v2h-8zM738 1070h6v2h-6zM746 1070h6v2h-6zM758 1070h4v2h-4zM764 1070h6v2h-6zM774 1070h4v2h-4zM780 1070h18v2h-18zM804 1070h2v2h-2zM812 1070h2v2h-2zM818 1070h2v2h-2zM822 1070h6v2h-6zM830 1070h10v2h-10zM842 1070h2v2h-2zM846 1070h32v2h-32zM880 1070h14v2h-14zM896 1070h2v2h-2zM900 1070h2v2h-2zM906 1070h2v2h-2zM912 1070h2v2h-2zM922 1070h2v2h-2zM930 1070h2v2h-2zM944 1070h2v2h-2zM954 1070h4v2h-4zM640 1072h4v2h-4zM682 1072h2v2h-2zM700 1072h2v2h-2zM704 1072h2v2h-2zM708 1072h2v2h-2zM712 1072h2v2h-2zM716 1072h2v2h-2zM724 1072h12v2h-12zM740 1072h4v2h-4zM746 1072h22v2h-22zM770 1072h8v2h-8zM780 1072h2v2h-2zM784 1072h6v2h-6zM794 1072h6v2h-6zM802 1072h22v2h-22zM826 1072h4v2h-4zM832 1072h4v2h-4zM838 1072h48v2h-48zM888 1072h4v2h-4zM900 1072h2v2h-2zM908 1072h2v2h-2zM912 1072h2v2h-2zM924 1072h2v2h-2zM644 1074h2v2h-2zM680 1074h2v2h-2zM688 1074h2v2h-2zM700 1074h2v2h-2zM704 1074h2v2h-2zM708 1074h4v2h-4zM714 1074h2v2h-2zM718 1074h2v2h-2zM724 1074h2v2h-2zM736 1074h2v2h-2zM742 1074h6v2h-6zM750 1074h4v2h-4zM756 1074h8v2h-8zM766 1074h2v2h-2zM770 1074h6v2h-6zM778 1074h6v2h-6zM786 1074h40v2h-40zM828 1074h4v2h-4zM834 1074h32v2h-32zM870 1074h12v2h-12zM886 1074h2v2h-2zM892 1074h8v2h-8zM926 1074h2v2h-2zM930 1074h2v2h-2zM934 1074h4v2h-4zM946 1074h2v2h-2zM990 1074h2v2h-2zM676 1076h2v2h-2zM680 1076h2v2h-2zM698 1076h2v2h-2zM704 1076h2v2h-2zM710 1076h2v2h-2zM718 1076h2v2h-2zM722 1076h2v2h-2zM726 1076h2v2h-2zM730 1076h4v2h-4zM736 1076h10v2h-10zM748 1076h2v2h-2zM752 1076h8v2h-8zM762 1076h20v2h-20zM784 1076h16v2h-16zM802 1076h6v2h-6zM812 1076h2v2h-2zM816 1076h4v2h-4zM822 1076h6v2h-6zM830 1076h42v2h-42zM874 1076h8v2h-8zM886 1076h4v2h-4zM892 1076h6v2h-6zM912 1076h2v2h-2zM922 1076h2v2h-2zM926 1076h8v2h-8zM946 1076h2v2h-2zM992 1076h2v2h-2zM650 1078h4v2h-4zM676 1078h2v2h-2zM692 1078h2v2h-2zM698 1078h4v2h-4zM704 1078h2v2h-2zM708 1078h2v2h-2zM716 1078h2v2h-2zM722 1078h2v2h-2zM726 1078h2v2h-2zM730 1078h2v2h-2zM734 1078h6v2h-6zM742 1078h2v2h-2zM746 1078h6v2h-6zM754 1078h2v2h-2zM758 1078h2v2h-2zM762 1078h6v2h-6zM772 1078h6v2h-6zM780 1078h6v2h-6zM790 1078h10v2h-10zM802 1078h28v2h-28zM832 1078h38v2h-38zM872 1078h20v2h-20zM894 1078h2v2h-2zM912 1078h2v2h-2zM918 1078h2v2h-2zM932 1078h4v2h-4zM938 1078h2v2h-2zM956 1078h2v2h-2zM670 1080h4v2h-4zM680 1080h2v2h-2zM688 1080h2v2h-2zM696 1080h2v2h-2zM718 1080h8v2h-8zM728 1080h4v2h-4zM736 1080h2v2h-2zM742 1080h2v2h-2zM746 1080h8v2h-8zM764 1080h8v2h-8zM774 1080h10v2h-10zM788 1080h6v2h-6zM796 1080h2v2h-2zM800 1080h10v2h-10zM812 1080h8v2h-8zM824 1080h6v2h-6zM834 1080h32v2h-32zM868 1080h8v2h-8zM878 1080h6v2h-6zM886 1080h8v2h-8zM896 1080h4v2h-4zM908 1080h2v2h-2zM916 1080h4v2h-4zM946 1080h2v2h-2zM956 1080h2v2h-2zM962 1080h2v2h-2zM602 1082h2v2h-2zM662 1082h4v2h-4zM700 1082h2v2h-2zM716 1082h2v2h-2zM724 1082h8v2h-8zM734 1082h2v2h-2zM742 1082h6v2h-6zM758 1082h2v2h-2zM762 1082h4v2h-4zM768 1082h10v2h-10zM782 1082h34v2h-34zM822 1082h16v2h-16zM840 1082h4v2h-4zM846 1082h4v2h-4zM852 1082h26v2h-26zM880 1082h4v2h-4zM888 1082h8v2h-8zM906 1082h4v2h-4zM944 1082h2v2h-2zM990 1082h2v2h-2zM652 1084h2v2h-2zM738 1084h6v2h-6zM750 1084h2v2h-2zM754 1084h4v2h-4zM762 1084h2v2h-2zM770 1084h6v2h-6zM780 1084h2v2h-2zM784 1084h8v2h-8zM794 1084h2v2h-2zM798 1084h20v2h-20zM820 1084h2v2h-2zM824 1084h4v2h-4zM838 1084h52v2h-52zM894 1084h2v2h-2zM910 1084h2v2h-2zM916 1084h2v2h-2zM936 1084h2v2h-2zM944 1084h4v2h-4zM964 1084h2v2h-2zM984 1084h2v2h-2zM660 1086h2v2h-2zM708 1086h2v2h-2zM728 1086h2v2h-2zM734 1086h2v2h-2zM738 1086h2v2h-2zM752 1086h4v2h-4zM760 1086h2v2h-2zM770 1086h4v2h-4zM782 1086h4v2h-4zM788 1086h10v2h-10zM800 1086h4v2h-4zM806 1086h16v2h-16zM824 1086h2v2h-2zM840 1086h4v2h-4zM848 1086h12v2h-12zM862 1086h24v2h-24zM890 1086h2v2h-2zM898 1086h2v2h-2zM910 1086h2v2h-2zM920 1086h2v2h-2zM938 1086h4v2h-4zM970 1086h2v2h-2zM1004 1086h2v2h-2zM684 1088h2v2h-2zM722 1088h2v2h-2zM728 1088h2v2h-2zM734 1088h2v2h-2zM738 1088h2v2h-2zM746 1088h2v2h-2zM750 1088h2v2h-2zM756 1088h8v2h-8zM774 1088h4v2h-4zM780 1088h2v2h-2zM784 1088h2v2h-2zM788 1088h4v2h-4zM794 1088h4v2h-4zM800 1088h20v2h-20zM824 1088h4v2h-4zM830 1088h4v2h-4zM836 1088h30v2h-30zM868 1088h4v2h-4zM878 1088h14v2h-14zM898 1088h2v2h-2zM904 1088h2v2h-2zM908 1088h4v2h-4zM914 1088h2v2h-2zM920 1088h4v2h-4zM936 1088h2v2h-2zM952 1088h2v2h-2zM648 1090h4v2h-4zM696 1090h4v2h-4zM720 1090h2v2h-2zM730 1090h2v2h-2zM740 1090h4v2h-4zM748 1090h2v2h-2zM756 1090h4v2h-4zM762 1090h4v2h-4zM768 1090h10v2h-10zM786 1090h26v2h-26zM814 1090h2v2h-2zM818 1090h2v2h-2zM822 1090h4v2h-4zM828 1090h6v2h-6zM836 1090h6v2h-6zM844 1090h8v2h-8zM854 1090h18v2h-18zM874 1090h10v2h-10zM886 1090h2v2h-2zM890 1090h6v2h-6zM902 1090h4v2h-4zM908 1090h4v2h-4zM926 1090h2v2h-2zM932 1090h2v2h-2zM952 1090h2v2h-2zM958 1090h2v2h-2zM662 1092h2v2h-2zM672 1092h2v2h-2zM706 1092h2v2h-2zM710 1092h2v2h-2zM722 1092h2v2h-2zM728 1092h2v2h-2zM732 1092h4v2h-4zM738 1092h6v2h-6zM752 1092h6v2h-6zM760 1092h2v2h-2zM764 1092h2v2h-2zM772 1092h2v2h-2zM776 1092h6v2h-6zM784 1092h2v2h-2zM790 1092h6v2h-6zM800 1092h4v2h-4zM808 1092h2v2h-2zM812 1092h6v2h-6zM820 1092h2v2h-2zM826 1092h4v2h-4zM834 1092h12v2h-12zM850 1092h18v2h-18zM870 1092h12v2h-12zM884 1092h12v2h-12zM900 1092h2v2h-2zM904 1092h2v2h-2zM920 1092h4v2h-4zM962 1092h2v2h-2zM624 1094h2v2h-2zM710 1094h2v2h-2zM714 1094h2v2h-2zM722 1094h4v2h-4zM728 1094h2v2h-2zM736 1094h2v2h-2zM740 1094h4v2h-4zM746 1094h2v2h-2zM750 1094h4v2h-4zM758 1094h2v2h-2zM766 1094h6v2h-6zM780 1094h2v2h-2zM784 1094h2v2h-2zM790 1094h4v2h-4zM796 1094h4v2h-4zM802 1094h2v2h-2zM808 1094h8v2h-8zM818 1094h2v2h-2zM828 1094h4v2h-4zM836 1094h14v2h-14zM852 1094h12v2h-12zM866 1094h26v2h-26zM894 1094h6v2h-6zM922 1094h4v2h-4zM944 1094h2v2h-2zM952 1094h2v2h-2zM956 1094h2v2h-2zM966 1094h2v2h-2zM690 1096h2v2h-2zM704 1096h2v2h-2zM708 1096h2v2h-2zM724 1096h2v2h-2zM730 1096h2v2h-2zM738 1096h2v2h-2zM742 1096h4v2h-4zM748 1096h2v2h-2zM756 1096h2v2h-2zM762 1096h12v2h-12zM778 1096h6v2h-6zM786 1096h12v2h-12zM802 1096h10v2h-10zM814 1096h2v2h-2zM818 1096h2v2h-2zM828 1096h6v2h-6zM836 1096h4v2h-4zM842 1096h46v2h-46zM890 1096h6v2h-6zM898 1096h2v2h-2zM910 1096h2v2h-2zM920 1096h2v2h-2zM924 1096h2v2h-2zM940 1096h2v2h-2zM632 1098h2v2h-2zM680 1098h2v2h-2zM688 1098h4v2h-4zM696 1098h2v2h-2zM704 1098h2v2h-2zM742 1098h2v2h-2zM746 1098h4v2h-4zM758 1098h2v2h-2zM764 1098h4v2h-4zM770 1098h2v2h-2zM778 1098h6v2h-6zM786 1098h4v2h-4zM798 1098h4v2h-4zM806 1098h4v2h-4zM812 1098h4v2h-4zM824 1098h2v2h-2zM828 1098h6v2h-6zM842 1098h2v2h-2zM846 1098h42v2h-42zM892 1098h6v2h-6zM928 1098h4v2h-4zM948 1098h2v2h-2zM956 1098h2v2h-2zM964 1098h2v2h-2zM696 1100h2v2h-2zM708 1100h2v2h-2zM712 1100h2v2h-2zM724 1100h2v2h-2zM736 1100h10v2h-10zM756 1100h2v2h-2zM768 1100h4v2h-4zM778 1100h12v2h-12zM806 1100h2v2h-2zM810 1100h6v2h-6zM820 1100h2v2h-2zM828 1100h4v2h-4zM834 1100h2v2h-2zM838 1100h6v2h-6zM846 1100h6v2h-6zM854 1100h22v2h-22zM880 1100h10v2h-10zM894 1100h2v2h-2zM898 1100h2v2h-2zM914 1100h2v2h-2zM922 1100h2v2h-2zM932 1100h2v2h-2zM938 1100h2v2h-2zM944 1100h2v2h-2zM954 1100h4v2h-4zM978 1100h2v2h-2zM658 1102h2v2h-2zM726 1102h2v2h-2zM732 1102h2v2h-2zM756 1102h4v2h-4zM762 1102h4v2h-4zM768 1102h10v2h-10zM780 1102h6v2h-6zM788 1102h4v2h-4zM794 1102h2v2h-2zM798 1102h4v2h-4zM806 1102h10v2h-10zM820 1102h2v2h-2zM826 1102h2v2h-2zM836 1102h2v2h-2zM844 1102h4v2h-4zM850 1102h14v2h-14zM866 1102h2v2h-2zM870 1102h2v2h-2zM874 1102h4v2h-4zM880 1102h4v2h-4zM886 1102h4v2h-4zM892 1102h2v2h-2zM902 1102h2v2h-2zM908 1102h4v2h-4zM932 1102h2v2h-2zM944 1102h2v2h-2zM990 1102h2v2h-2zM602 1104h2v2h-2zM694 1104h2v2h-2zM734 1104h4v2h-4zM756 1104h4v2h-4zM762 1104h2v2h-2zM770 1104h2v2h-2zM784 1104h6v2h-6zM794 1104h4v2h-4zM800 1104h2v2h-2zM806 1104h6v2h-6zM816 1104h2v2h-2zM840 1104h6v2h-6zM848 1104h8v2h-8zM860 1104h2v2h-2zM864 1104h6v2h-6zM872 1104h12v2h-12zM886 1104h2v2h-2zM890 1104h8v2h-8zM902 1104h10v2h-10zM914 1104h2v2h-2zM962 1104h2v2h-2zM676 1106h2v2h-2zM694 1106h2v2h-2zM698 1106h2v2h-2zM716 1106h2v2h-2zM720 1106h2v2h-2zM732 1106h2v2h-2zM738 1106h2v2h-2zM742 1106h8v2h-8zM752 1106h6v2h-6zM762 1106h2v2h-2zM776 1106h6v2h-6zM784 1106h2v2h-2zM794 1106h2v2h-2zM798 1106h2v2h-2zM804 1106h2v2h-2zM808 1106h8v2h-8zM818 1106h6v2h-6zM834 1106h4v2h-4zM840 1106h6v2h-6zM848 1106h2v2h-2zM852 1106h6v2h-6zM860 1106h2v2h-2zM864 1106h16v2h-16zM882 1106h12v2h-12zM912 1106h2v2h-2zM918 1106h2v2h-2zM634 1108h2v2h-2zM646 1108h2v2h-2zM684 1108h4v2h-4zM716 1108h4v2h-4zM730 1108h2v2h-2zM738 1108h2v2h-2zM754 1108h2v2h-2zM758 1108h6v2h-6zM766 1108h2v2h-2zM770 1108h2v2h-2zM782 1108h2v2h-2zM788 1108h2v2h-2zM794 1108h4v2h-4zM802 1108h6v2h-6zM816 1108h2v2h-2zM820 1108h2v2h-2zM826 1108h2v2h-2zM834 1108h2v2h-2zM838 1108h20v2h-20zM860 1108h14v2h-14zM876 1108h2v2h-2zM880 1108h8v2h-8zM906 1108h2v2h-2zM912 1108h2v2h-2zM916 1108h2v2h-2zM694 1110h2v2h-2zM726 1110h2v2h-2zM734 1110h2v2h-2zM748 1110h10v2h-10zM760 1110h2v2h-2zM766 1110h2v2h-2zM780 1110h2v2h-2zM784 1110h4v2h-4zM792 1110h2v2h-2zM796 1110h8v2h-8zM806 1110h2v2h-2zM812 1110h6v2h-6zM828 1110h2v2h-2zM832 1110h2v2h-2zM838 1110h4v2h-4zM848 1110h6v2h-6zM856 1110h2v2h-2zM860 1110h2v2h-2zM864 1110h24v2h-24zM890 1110h2v2h-2zM900 1110h2v2h-2zM906 1110h2v2h-2zM912 1110h4v2h-4zM918 1110h2v2h-2zM922 1110h2v2h-2zM970 1110h2v2h-2zM610 1112h2v2h-2zM738 1112h2v2h-2zM754 1112h2v2h-2zM774 1112h4v2h-4zM792 1112h2v2h-2zM796 1112h2v2h-2zM810 1112h2v2h-2zM816 1112h2v2h-2zM822 1112h2v2h-2zM832 1112h2v2h-2zM836 1112h10v2h-10zM848 1112h2v2h-2zM852 1112h2v2h-2zM856 1112h4v2h-4zM862 1112h4v2h-4zM872 1112h4v2h-4zM882 1112h4v2h-4zM1006 1112h2v2h-2zM724 1114h2v2h-2zM746 1114h2v2h-2zM754 1114h2v2h-2zM762 1114h2v2h-2zM770 1114h2v2h-2zM774 1114h4v2h-4zM790 1114h14v2h-14zM808 1114h8v2h-8zM818 1114h2v2h-2zM830 1114h2v2h-2zM838 1114h4v2h-4zM844 1114h10v2h-10zM856 1114h4v2h-4zM864 1114h2v2h-2zM868 1114h2v2h-2zM874 1114h2v2h-2zM878 1114h2v2h-2zM902 1114h2v2h-2zM910 1114h2v2h-2zM914 1114h2v2h-2zM674 1116h2v2h-2zM702 1116h2v2h-2zM710 1116h2v2h-2zM718 1116h2v2h-2zM732 1116h2v2h-2zM738 1116h2v2h-2zM766 1116h2v2h-2zM772 1116h2v2h-2zM782 1116h2v2h-2zM796 1116h4v2h-4zM802 1116h2v2h-2zM806 1116h2v2h-2zM810 1116h6v2h-6zM820 1116h4v2h-4zM826 1116h2v2h-2zM830 1116h4v2h-4zM844 1116h4v2h-4zM850 1116h4v2h-4zM856 1116h8v2h-8zM866 1116h2v2h-2zM872 1116h2v2h-2zM892 1116h2v2h-2zM898 1116h4v2h-4zM908 1116h2v2h-2zM996 1116h2v2h-2zM694 1118h2v2h-2zM700 1118h2v2h-2zM746 1118h2v2h-2zM752 1118h2v2h-2zM756 1118h2v2h-2zM760 1118h2v2h-2zM764 1118h2v2h-2zM770 1118h2v2h-2zM774 1118h2v2h-2zM790 1118h8v2h-8zM808 1118h4v2h-4zM816 1118h2v2h-2zM822 1118h2v2h-2zM826 1118h4v2h-4zM832 1118h4v2h-4zM856 1118h2v2h-2zM862 1118h2v2h-2zM866 1118h2v2h-2zM874 1118h2v2h-2zM880 1118h2v2h-2zM724 1120h2v2h-2zM750 1120h2v2h-2zM760 1120h4v2h-4zM780 1120h2v2h-2zM788 1120h2v2h-2zM806 1120h4v2h-4zM814 1120h2v2h-2zM820 1120h2v2h-2zM824 1120h2v2h-2zM846 1120h4v2h-4zM856 1120h8v2h-8zM918 1120h2v2h-2zM604 1122h2v2h-2zM694 1122h2v2h-2zM700 1122h4v2h-4zM756 1122h2v2h-2zM770 1122h2v2h-2zM784 1122h4v2h-4zM792 1122h4v2h-4zM800 1122h4v2h-4zM846 1122h2v2h-2zM850 1122h2v2h-2zM856 1122h4v2h-4zM872 1122h2v2h-2zM880 1122h2v2h-2zM912 1122h2v2h-2zM718 1124h2v2h-2zM726 1124h2v2h-2zM756 1124h4v2h-4zM768 1124h2v2h-2zM776 1124h2v2h-2zM784 1124h2v2h-2zM792 1124h2v2h-2zM796 1124h2v2h-2zM820 1124h2v2h-2zM844 1124h2v2h-2zM850 1124h2v2h-2zM856 1124h2v2h-2zM868 1124h2v2h-2zM876 1124h4v2h-4zM898 1124h2v2h-2zM906 1124h2v2h-2zM718 1126h2v2h-2zM728 1126h2v2h-2zM734 1126h2v2h-2zM746 1126h2v2h-2zM770 1126h4v2h-4zM782 1126h4v2h-4zM804 1126h2v2h-2zM808 1126h2v2h-2zM816 1126h2v2h-2zM822 1126h4v2h-4zM842 1126h4v2h-4zM854 1126h2v2h-2zM862 1126h2v2h-2zM884 1126h2v2h-2zM712 1128h4v2h-4zM732 1128h2v2h-2zM760 1128h2v2h-2zM802 1128h2v2h-2zM812 1128h2v2h-2zM840 1128h2v2h-2zM844 1128h2v2h-2zM856 1128h2v2h-2zM862 1128h2v2h-2zM870 1128h2v2h-2zM888 1128h2v2h-2zM706 1130h2v2h-2zM712 1130h2v2h-2zM742 1130h4v2h-4zM752 1130h2v2h-2zM768 1130h2v2h-2zM774 1130h2v2h-2zM810 1130h2v2h-2zM814 1130h2v2h-2zM820 1130h2v2h-2zM824 1130h2v2h-2zM850 1130h4v2h-4zM858 1130h4v2h-4zM916 1130h2v2h-2zM996 1130h2v2h-2zM692 1132h2v2h-2zM712 1132h2v2h-2zM752 1132h2v2h-2zM772 1132h2v2h-2zM784 1132h2v2h-2zM808 1132h4v2h-4zM824 1132h2v2h-2zM830 1132h2v2h-2zM836 1132h2v2h-2zM852 1132h4v2h-4zM860 1132h2v2h-2zM718 1134h2v2h-2zM786 1134h2v2h-2zM846 1134h2v2h-2zM896 1134h2v2h-2zM918 1134h2v2h-2zM988 1134h2v2h-2zM992 1134h2v2h-2zM710 1136h2v2h-2zM746 1136h2v2h-2zM752 1136h2v2h-2zM780 1136h2v2h-2zM826 1136h2v2h-2zM836 1136h2v2h-2zM878 1136h2v2h-2zM938 1136h2v2h-2zM680 1138h2v2h-2zM690 1138h2v2h-2zM812 1138h2v2h-2zM822 1138h4v2h-4zM890 1138h2v2h-2zM676 1140h2v2h-2zM736 1140h2v2h-2zM748 1140h2v2h-2zM762 1140h2v2h-2zM804 1140h2v2h-2zM814 1140h2v2h-2zM826 1140h2v2h-2zM852 1140h2v2h-2zM856 1140h2v2h-2zM866 1140h2v2h-2zM880 1140h2v2h-2zM710 1142h2v2h-2zM814 1142h2v2h-2zM830 1142h2v2h-2zM838 1142h2v2h-2zM854 1142h2v2h-2zM860 1142h2v2h-2zM896 1142h2v2h-2zM990 1142h2v2h-2zM1008 1142h2v2h-2zM736 1144h2v2h-2zM752 1144h2v2h-2zM792 1144h4v2h-4zM806 1144h4v2h-4zM838 1144h2v2h-2zM876 1144h2v2h-2zM884 1144h4v2h-4zM920 1144h2v2h-2zM960 1144h2v2h-2zM686 1146h2v2h-2zM694 1146h2v2h-2zM700 1146h2v2h-2zM706 1146h2v2h-2zM728 1146h2v2h-2zM806 1146h2v2h-2zM880 1146h2v2h-2zM920 1146h2v2h-2zM726 1148h2v2h-2zM736 1148h2v2h-2zM788 1148h2v2h-2zM892 1148h2v2h-2zM910 1148h2v2h-2zM730 1150h2v2h-2zM762 1150h2v2h-2zM828 1150h2v2h-2zM848 1150h2v2h-2zM852 1150h2v2h-2zM880 1150h4v2h-4zM886 1150h2v2h-2zM894 1150h2v2h-2zM714 1152h2v2h-2zM856 1152h2v2h-2zM886 1152h2v2h-2zM894 1152h2v2h-2zM750 1154h2v2h-2zM782 1154h2v2h-2zM812 1154h2v2h-2zM818 1154h2v2h-2zM824 1154h2v2h-2zM848 1154h2v2h-2zM888 1154h2v2h-2zM920 1154h2v2h-2zM926 1154h2v2h-2zM662 1156h2v2h-2zM678 1156h2v2h-2zM776 1156h2v2h-2zM786 1156h2v2h-2zM814 1156h2v2h-2zM850 1156h2v2h-2zM882 1156h2v2h-2zM952 1156h2v2h-2zM766 1158h2v2h-2zM782 1158h2v2h-2zM850 1158h2v2h-2zM856 1158h2v2h-2zM956 1158h2v2h-2zM782 1160h2v2h-2zM786 1160h2v2h-2zM858 1160h2v2h-2zM710 1162h2v2h-2zM718 1162h2v2h-2zM738 1162h2v2h-2zM838 1162h2v2h-2zM856 1162h4v2h-4zM990 1162h2v2h-2zM730 1164h2v2h-2zM756 1164h2v2h-2zM810 1164h2v2h-2zM814 1164h2v2h-2zM940 1164h2v2h-2zM718 1166h2v2h-2zM726 1166h2v2h-2zM750 1166h2v2h-2zM768 1166h2v2h-2zM810 1166h2v2h-2zM854 1166h4v2h-4zM990 1166h2v2h-2zM678 1168h2v2h-2zM852 1168h2v2h-2z"/>
<path fill="#3d588a" d="M710 788h2v2h-2zM848 792h2v2h-2zM716 804h2v2h-2zM722 808h2v2h-2zM762 810h2v2h-2zM844 812h2v2h-2zM840 816h2v2h-2zM684 834h2v2h-2zM892 834h2v2h-2zM790 840h2v2h-2zM850 846h4v2h-4zM908 846h2v2h-2zM848 848h2v2h-2zM876 852h2v2h-2zM788 858h2v2h-2zM894 860h2v2h-2zM826 862h2v2h-2zM840 862h2v2h-2zM978 862h2v2h-2zM792 864h2v2h-2zM772 868h4v2h-4zM772 870h2v2h-2zM782 874h2v2h-2zM746 876h2v2h-2zM836 876h2v2h-2zM794 878h2v2h-2zM834 878h2v2h-2zM730 882h2v2h-2zM824 882h2v2h-2zM774 884h2v2h-2zM820 884h2v2h-2zM824 886h2v2h-2zM714 888h2v2h-2zM792 888h4v2h-4zM828 888h2v2h-2zM832 888h2v2h-2zM862 890h2v2h-2zM698 892h2v2h-2zM744 892h2v2h-2zM758 892h2v2h-2zM832 892h2v2h-2zM744 894h2v2h-2zM802 894h2v2h-2zM834 894h2v2h-2zM866 894h2v2h-2zM660 896h2v2h-2zM696 896h2v2h-2zM760 896h2v2h-2zM766 896h2v2h-2zM834 896h2v2h-2zM860 896h2v2h-2zM852 898h2v2h-2zM860 898h2v2h-2zM688 900h2v2h-2zM714 900h2v2h-2zM736 900h2v2h-2zM856 900h2v2h-2zM622 902h2v2h-2zM692 902h2v2h-2zM754 902h2v2h-2zM834 902h2v2h-2zM680 904h2v2h-2zM832 904h2v2h-2zM852 904h8v2h-8zM754 906h2v2h-2zM812 908h2v2h-2zM958 908h2v2h-2zM1008 908h2v2h-2zM812 910h2v2h-2zM840 910h2v2h-2zM756 912h2v2h-2zM764 912h2v2h-2zM786 912h2v2h-2zM790 912h2v2h-2zM816 912h4v2h-4zM838 912h2v2h-2zM920 912h2v2h-2zM762 914h2v2h-2zM798 914h2v2h-2zM806 914h4v2h-4zM814 914h4v2h-4zM654 916h2v2h-2zM762 916h2v2h-2zM798 916h2v2h-2zM810 916h2v2h-2zM836 916h4v2h-4zM770 918h4v2h-4zM826 918h2v2h-2zM838 918h2v2h-2zM886 918h2v2h-2zM922 918h2v2h-2zM676 920h2v2h-2zM774 920h2v2h-2zM840 920h2v2h-2zM766 922h2v2h-2zM820 922h2v2h-2zM836 922h2v2h-2zM616 924h2v2h-2zM672 924h2v2h-2zM766 924h2v2h-2zM842 924h2v2h-2zM848 924h2v2h-2zM668 926h2v2h-2zM782 926h2v2h-2zM844 926h2v2h-2zM664 928h2v2h-2zM758 928h2v2h-2zM770 928h2v2h-2zM840 928h2v2h-2zM844 928h2v2h-2zM664 930h2v2h-2zM690 930h2v2h-2zM748 930h4v2h-4zM754 930h2v2h-2zM768 930h2v2h-2zM786 930h2v2h-2zM844 930h2v2h-2zM852 930h2v2h-2zM864 930h2v2h-2zM878 930h2v2h-2zM734 932h2v2h-2zM876 932h2v2h-2zM708 934h2v2h-2zM744 934h2v2h-2zM750 934h2v2h-2zM764 934h2v2h-2zM784 934h2v2h-2zM876 934h2v2h-2zM932 934h2v2h-2zM936 934h2v2h-2zM766 936h2v2h-2zM798 936h2v2h-2zM812 936h4v2h-4zM876 936h2v2h-2zM892 936h2v2h-2zM934 936h2v2h-2zM938 936h2v2h-2zM740 938h4v2h-4zM760 938h6v2h-6zM798 938h2v2h-2zM810 938h2v2h-2zM876 938h2v2h-2zM762 940h2v2h-2zM812 940h4v2h-4zM874 940h2v2h-2zM928 940h2v2h-2zM666 942h2v2h-2zM816 942h4v2h-4zM840 942h2v2h-2zM732 944h2v2h-2zM814 944h2v2h-2zM834 944h2v2h-2zM878 944h2v2h-2zM918 944h2v2h-2zM726 946h2v2h-2zM758 946h2v2h-2zM840 946h4v2h-4zM888 946h2v2h-2zM758 948h4v2h-4zM802 948h4v2h-4zM842 948h2v2h-2zM854 948h2v2h-2zM722 950h2v2h-2zM740 950h2v2h-2zM846 950h2v2h-2zM854 950h2v2h-2zM900 950h2v2h-2zM924 950h2v2h-2zM740 952h2v2h-2zM810 952h2v2h-2zM902 952h2v2h-2zM914 952h2v2h-2zM920 952h2v2h-2zM924 952h2v2h-2zM744 954h2v2h-2zM814 954h4v2h-4zM854 954h2v2h-2zM922 954h2v2h-2zM742 956h4v2h-4zM748 956h4v2h-4zM798 956h4v2h-4zM816 956h2v2h-2zM854 956h2v2h-2zM874 956h4v2h-4zM688 958h2v2h-2zM726 958h2v2h-2zM750 958h2v2h-2zM802 958h2v2h-2zM824 958h2v2h-2zM870 958h2v2h-2zM874 958h2v2h-2zM702 960h2v2h-2zM714 960h4v2h-4zM722 960h2v2h-2zM726 960h2v2h-2zM730 960h2v2h-2zM734 960h2v2h-2zM750 960h2v2h-2zM818 960h2v2h-2zM834 960h2v2h-2zM870 960h4v2h-4zM924 960h2v2h-2zM714 962h2v2h-2zM724 962h6v2h-6zM744 962h2v2h-2zM748 962h2v2h-2zM816 962h2v2h-2zM828 962h4v2h-4zM874 962h2v2h-2zM978 962h2v2h-2zM728 964h2v2h-2zM732 964h2v2h-2zM854 964h2v2h-2zM666 966h2v2h-2zM686 966h2v2h-2zM728 966h2v2h-2zM846 966h2v2h-2zM856 966h2v2h-2zM732 968h6v2h-6zM840 968h2v2h-2zM874 968h2v2h-2zM840 970h4v2h-4zM906 970h2v2h-2zM846 972h2v2h-2zM842 974h2v2h-2zM876 974h2v2h-2zM712 976h2v2h-2zM728 976h2v2h-2zM842 976h2v2h-2zM858 976h2v2h-2zM876 976h2v2h-2zM726 978h2v2h-2zM840 978h2v2h-2zM856 978h2v2h-2zM874 978h2v2h-2zM884 978h6v2h-6zM684 980h2v2h-2zM710 980h2v2h-2zM724 980h2v2h-2zM736 980h2v2h-2zM880 980h2v2h-2zM920 980h2v2h-2zM742 982h2v2h-2zM838 982h2v2h-2zM872 982h2v2h-2zM888 982h2v2h-2zM910 982h2v2h-2zM660 984h2v2h-2zM690 984h2v2h-2zM694 984h4v2h-4zM732 984h2v2h-2zM736 984h2v2h-2zM742 984h2v2h-2zM834 984h2v2h-2zM838 984h2v2h-2zM842 984h6v2h-6zM852 984h4v2h-4zM876 984h2v2h-2zM908 984h4v2h-4zM922 984h2v2h-2zM692 986h2v2h-2zM696 986h2v2h-2zM706 986h2v2h-2zM738 986h2v2h-2zM844 986h2v2h-2zM848 986h2v2h-2zM856 986h2v2h-2zM876 986h2v2h-2zM914 986h2v2h-2zM696 988h6v2h-6zM750 988h2v2h-2zM838 988h2v2h-2zM848 988h2v2h-2zM860 988h2v2h-2zM884 988h2v2h-2zM692 990h4v2h-4zM702 990h2v2h-2zM708 990h2v2h-2zM756 990h2v2h-2zM826 990h2v2h-2zM856 990h2v2h-2zM860 990h2v2h-2zM864 990h2v2h-2zM868 990h2v2h-2zM714 992h2v2h-2zM854 992h2v2h-2zM858 992h4v2h-4zM680 994h2v2h-2zM752 994h2v2h-2zM850 994h2v2h-2zM888 994h2v2h-2zM924 994h2v2h-2zM714 996h2v2h-2zM738 996h2v2h-2zM848 996h2v2h-2zM890 996h2v2h-2zM896 996h2v2h-2zM904 996h2v2h-2zM706 998h2v2h-2zM716 998h2v2h-2zM840 998h2v2h-2zM886 998h2v2h-2zM894 998h2v2h-2zM902 998h2v2h-2zM906 998h2v2h-2zM656 1000h2v2h-2zM704 1000h2v2h-2zM708 1000h2v2h-2zM732 1000h2v2h-2zM840 1000h2v2h-2zM854 1000h2v2h-2zM882 1000h2v2h-2zM894 1000h2v2h-2zM904 1000h2v2h-2zM908 1000h2v2h-2zM626 1002h2v2h-2zM658 1002h2v2h-2zM682 1002h2v2h-2zM692 1002h2v2h-2zM708 1002h2v2h-2zM714 1002h2v2h-2zM828 1002h2v2h-2zM840 1002h2v2h-2zM898 1002h2v2h-2zM652 1004h2v2h-2zM732 1004h2v2h-2zM828 1004h2v2h-2zM896 1004h2v2h-2zM904 1004h2v2h-2zM682 1006h2v2h-2zM718 1006h2v2h-2zM736 1006h2v2h-2zM924 1006h2v2h-2zM720 1008h4v2h-4zM748 1008h2v2h-2zM758 1008h2v2h-2zM762 1008h2v2h-2zM792 1008h2v2h-2zM796 1008h2v2h-2zM920 1008h2v2h-2zM928 1008h2v2h-2zM982 1008h2v2h-2zM720 1010h2v2h-2zM914 1010h2v2h-2zM924 1010h2v2h-2zM932 1010h2v2h-2zM986 1010h2v2h-2zM740 1012h2v2h-2zM842 1012h4v2h-4zM872 1012h2v2h-2zM926 1012h2v2h-2zM952 1012h2v2h-2zM720 1014h2v2h-2zM736 1014h2v2h-2zM772 1014h2v2h-2zM776 1014h2v2h-2zM848 1014h2v2h-2zM852 1014h2v2h-2zM864 1014h2v2h-2zM870 1014h4v2h-4zM882 1014h2v2h-2zM898 1014h2v2h-2zM920 1014h2v2h-2zM924 1014h2v2h-2zM930 1014h2v2h-2zM666 1016h2v2h-2zM710 1016h2v2h-2zM718 1016h2v2h-2zM742 1016h2v2h-2zM840 1016h2v2h-2zM866 1016h4v2h-4zM922 1016h2v2h-2zM952 1016h2v2h-2zM834 1018h2v2h-2zM850 1018h2v2h-2zM882 1018h2v2h-2zM906 1018h2v2h-2zM922 1018h2v2h-2zM950 1018h2v2h-2zM750 1020h2v2h-2zM834 1020h2v2h-2zM848 1020h6v2h-6zM876 1020h2v2h-2zM884 1020h2v2h-2zM906 1020h2v2h-2zM954 1020h2v2h-2zM704 1022h2v2h-2zM752 1022h2v2h-2zM908 1022h2v2h-2zM914 1022h2v2h-2zM684 1024h2v2h-2zM700 1026h2v2h-2zM714 1026h2v2h-2zM722 1026h2v2h-2zM770 1026h2v2h-2zM816 1026h2v2h-2zM850 1026h6v2h-6zM860 1026h2v2h-2zM878 1026h2v2h-2zM882 1026h2v2h-2zM890 1026h2v2h-2zM922 1026h4v2h-4zM928 1026h2v2h-2zM944 1026h2v2h-2zM698 1028h2v2h-2zM722 1028h4v2h-4zM768 1028h2v2h-2zM792 1028h4v2h-4zM846 1028h2v2h-2zM854 1028h2v2h-2zM892 1028h2v2h-2zM948 1028h2v2h-2zM850 1030h2v2h-2zM864 1030h2v2h-2zM878 1030h2v2h-2zM1002 1030h2v2h-2zM702 1032h2v2h-2zM740 1032h4v2h-4zM766 1032h2v2h-2zM796 1032h2v2h-2zM816 1032h2v2h-2zM850 1032h2v2h-2zM868 1032h2v2h-2zM768 1034h2v2h-2zM778 1034h2v2h-2zM792 1034h2v2h-2zM796 1034h2v2h-2zM828 1034h2v2h-2zM846 1034h4v2h-4zM858 1034h2v2h-2zM926 1034h2v2h-2zM716 1036h2v2h-2zM784 1036h2v2h-2zM790 1036h2v2h-2zM794 1036h2v2h-2zM828 1036h2v2h-2zM928 1036h2v2h-2zM652 1038h2v2h-2zM678 1038h2v2h-2zM702 1038h2v2h-2zM706 1038h2v2h-2zM786 1038h4v2h-4zM792 1038h2v2h-2zM828 1038h2v2h-2zM892 1038h2v2h-2zM918 1038h2v2h-2zM698 1040h2v2h-2zM774 1040h2v2h-2zM784 1040h4v2h-4zM790 1040h4v2h-4zM796 1040h2v2h-2zM840 1040h2v2h-2zM846 1040h2v2h-2zM924 1040h2v2h-2zM928 1040h2v2h-2zM934 1040h2v2h-2zM938 1040h2v2h-2zM698 1042h2v2h-2zM718 1042h4v2h-4zM726 1042h2v2h-2zM784 1042h2v2h-2zM836 1042h2v2h-2zM840 1042h2v2h-2zM846 1042h2v2h-2zM894 1042h2v2h-2zM944 1042h2v2h-2zM698 1044h2v2h-2zM716 1044h2v2h-2zM726 1044h2v2h-2zM786 1044h2v2h-2zM826 1044h2v2h-2zM838 1044h6v2h-6zM862 1044h4v2h-4zM896 1044h2v2h-2zM914 1044h2v2h-2zM716 1046h2v2h-2zM720 1046h2v2h-2zM726 1046h2v2h-2zM794 1046h2v2h-2zM828 1046h2v2h-2zM836 1046h2v2h-2zM842 1046h2v2h-2zM866 1046h2v2h-2zM912 1046h2v2h-2zM702 1048h2v2h-2zM760 1048h2v2h-2zM768 1048h2v2h-2zM788 1048h2v2h-2zM826 1048h2v2h-2zM838 1048h4v2h-4zM916 1048h2v2h-2zM702 1050h2v2h-2zM706 1050h2v2h-2zM720 1050h2v2h-2zM782 1050h2v2h-2zM812 1050h2v2h-2zM828 1050h2v2h-2zM836 1050h2v2h-2zM738 1052h2v2h-2zM684 1054h2v2h-2zM716 1054h2v2h-2zM738 1054h2v2h-2zM770 1054h2v2h-2zM774 1054h2v2h-2zM868 1054h2v2h-2zM772 1056h4v2h-4zM844 1056h2v2h-2zM868 1056h2v2h-2zM900 1056h2v2h-2zM916 1056h2v2h-2zM948 1056h2v2h-2zM962 1056h2v2h-2zM756 1058h2v2h-2zM772 1058h4v2h-4zM828 1058h2v2h-2zM848 1058h2v2h-2zM856 1058h2v2h-2zM896 1058h2v2h-2zM738 1060h2v2h-2zM788 1060h2v2h-2zM802 1060h2v2h-2zM894 1060h2v2h-2zM960 1060h2v2h-2zM720 1062h4v2h-4zM730 1062h2v2h-2zM740 1062h2v2h-2zM786 1062h4v2h-4zM858 1062h2v2h-2zM894 1062h2v2h-2zM900 1062h2v2h-2zM916 1062h2v2h-2zM738 1064h2v2h-2zM742 1064h2v2h-2zM860 1064h4v2h-4zM914 1064h2v2h-2zM730 1066h4v2h-4zM738 1066h4v2h-4zM756 1066h2v2h-2zM830 1066h2v2h-2zM852 1066h4v2h-4zM738 1068h2v2h-2zM752 1068h2v2h-2zM756 1068h2v2h-2zM850 1068h2v2h-2zM868 1068h2v2h-2zM680 1070h2v2h-2zM758 1070h2v2h-2zM824 1070h2v2h-2zM852 1070h4v2h-4zM868 1070h6v2h-6zM708 1072h2v2h-2zM728 1072h2v2h-2zM754 1072h2v2h-2zM760 1072h4v2h-4zM780 1072h2v2h-2zM802 1072h2v2h-2zM826 1072h4v2h-4zM856 1072h2v2h-2zM860 1072h2v2h-2zM882 1072h2v2h-2zM708 1074h2v2h-2zM758 1074h2v2h-2zM766 1074h2v2h-2zM800 1074h4v2h-4zM852 1074h2v2h-2zM856 1074h2v2h-2zM878 1074h4v2h-4zM742 1076h2v2h-2zM786 1076h2v2h-2zM794 1076h2v2h-2zM798 1076h2v2h-2zM804 1076h2v2h-2zM824 1076h2v2h-2zM692 1078h2v2h-2zM722 1078h2v2h-2zM726 1078h2v2h-2zM796 1078h2v2h-2zM814 1078h2v2h-2zM826 1078h2v2h-2zM670 1080h4v2h-4zM728 1080h2v2h-2zM790 1080h4v2h-4zM804 1080h2v2h-2zM808 1080h2v2h-2zM824 1080h6v2h-6zM724 1082h2v2h-2zM794 1082h2v2h-2zM798 1082h2v2h-2zM802 1082h2v2h-2zM848 1082h2v2h-2zM894 1082h2v2h-2zM738 1084h2v2h-2zM804 1084h2v2h-2zM846 1084h6v2h-6zM872 1084h2v2h-2zM916 1084h2v2h-2zM708 1086h2v2h-2zM794 1086h2v2h-2zM800 1086h4v2h-4zM870 1086h4v2h-4zM800 1088h4v2h-4zM816 1088h2v2h-2zM846 1088h4v2h-4zM870 1088h2v2h-2zM904 1088h2v2h-2zM952 1088h2v2h-2zM768 1090h2v2h-2zM796 1090h2v2h-2zM804 1090h2v2h-2zM850 1090h2v2h-2zM926 1090h2v2h-2zM672 1092h2v2h-2zM734 1092h2v2h-2zM752 1092h2v2h-2zM814 1092h2v2h-2zM858 1092h2v2h-2zM874 1092h4v2h-4zM888 1092h2v2h-2zM798 1094h2v2h-2zM814 1094h2v2h-2zM876 1094h2v2h-2zM886 1094h2v2h-2zM922 1094h4v2h-4zM730 1096h2v2h-2zM788 1096h2v2h-2zM794 1096h2v2h-2zM892 1096h2v2h-2zM632 1098h2v2h-2zM688 1098h4v2h-4zM696 1098h2v2h-2zM770 1098h2v2h-2zM878 1098h4v2h-4zM712 1100h2v2h-2zM788 1100h2v2h-2zM882 1100h2v2h-2zM886 1100h2v2h-2zM914 1100h2v2h-2zM726 1102h2v2h-2zM788 1102h2v2h-2zM784 1104h2v2h-2zM842 1104h2v2h-2zM840 1106h4v2h-4zM760 1110h2v2h-2zM812 1110h2v2h-2zM900 1110h2v2h-2zM922 1110h2v2h-2zM610 1112h2v2h-2zM832 1112h2v2h-2zM872 1112h2v2h-2zM810 1114h2v2h-2zM868 1114h2v2h-2zM782 1116h2v2h-2zM810 1116h2v2h-2zM814 1116h2v2h-2zM830 1116h4v2h-4zM852 1116h2v2h-2zM866 1116h2v2h-2zM872 1116h2v2h-2zM694 1118h2v2h-2zM700 1118h2v2h-2zM810 1118h2v2h-2zM846 1122h2v2h-2zM872 1122h2v2h-2zM912 1122h2v2h-2zM898 1124h2v2h-2zM862 1128h2v2h-2zM810 1132h2v2h-2zM838 1142h2v2h-2zM1008 1142h2v2h-2zM848 1150h2v2h-2zM850 1156h2v2h-2zM850 1158h2v2h-2zM730 1164h2v2h-2zM726 1166h2v2h-2zM810 1166h2v2h-2z"/>
<path fill="#3a70a6" d="M774 702h4v2h-4zM772 704h2v2h-2zM776 704h2v2h-2zM774 706h2v2h-2zM776 708h2v2h-2zM690 734h2v2h-2zM816 738h4v2h-4zM806 740h2v2h-2zM810 740h2v2h-2zM814 740h4v2h-4zM798 742h2v2h-2zM810 742h2v2h-2zM818 742h2v2h-2zM822 742h4v2h-4zM804 744h2v2h-2zM808 746h2v2h-2zM814 746h2v2h-2zM808 748h2v2h-2zM812 748h2v2h-2zM808 750h2v2h-2zM814 750h6v2h-6zM808 752h2v2h-2zM778 756h4v2h-4zM786 756h2v2h-2zM778 758h4v2h-4zM786 758h2v2h-2zM776 760h2v2h-2zM780 762h2v2h-2zM776 764h2v2h-2zM808 774h2v2h-2zM804 776h2v2h-2zM810 776h6v2h-6zM818 776h2v2h-2zM800 778h2v2h-2zM804 778h2v2h-2zM814 778h2v2h-2zM802 780h2v2h-2zM768 788h2v2h-2zM772 790h2v2h-2zM832 792h2v2h-2zM836 792h2v2h-2zM836 794h2v2h-2zM804 802h2v2h-2zM804 806h2v2h-2zM808 806h4v2h-4zM756 808h2v2h-2zM810 808h2v2h-2zM790 810h2v2h-2zM806 810h2v2h-2zM846 810h2v2h-2zM806 812h2v2h-2zM816 812h4v2h-4zM802 814h4v2h-4zM814 814h6v2h-6zM794 816h2v2h-2zM800 816h2v2h-2zM810 816h4v2h-4zM816 816h2v2h-2zM734 818h2v2h-2zM812 818h2v2h-2zM800 820h4v2h-4zM806 820h2v2h-2zM814 820h2v2h-2zM820 820h2v2h-2zM802 822h4v2h-4zM808 822h2v2h-2zM814 822h4v2h-4zM890 822h2v2h-2zM776 824h4v2h-4zM782 824h2v2h-2zM812 824h4v2h-4zM778 826h2v2h-2zM784 826h2v2h-2zM804 826h2v2h-2zM810 826h2v2h-2zM808 828h2v2h-2zM814 828h2v2h-2zM766 830h2v2h-2zM808 830h2v2h-2zM726 832h2v2h-2zM746 832h2v2h-2zM802 832h2v2h-2zM698 834h2v2h-2zM722 834h2v2h-2zM900 834h2v2h-2zM738 836h2v2h-2zM846 836h2v2h-2zM720 838h2v2h-2zM728 844h2v2h-2zM728 850h2v2h-2zM766 852h2v2h-2zM726 854h2v2h-2zM806 856h2v2h-2zM946 856h2v2h-2zM860 858h2v2h-2zM990 858h2v2h-2zM710 860h2v2h-2zM738 860h2v2h-2zM760 860h2v2h-2zM780 862h2v2h-2zM756 864h4v2h-4zM814 864h2v2h-2zM790 866h2v2h-2zM818 866h2v2h-2zM836 868h2v2h-2zM844 872h2v2h-2zM872 872h2v2h-2zM770 876h2v2h-2zM828 876h2v2h-2zM842 876h2v2h-2zM828 878h2v2h-2zM886 880h2v2h-2zM984 880h2v2h-2zM990 880h2v2h-2zM784 882h2v2h-2zM788 882h2v2h-2zM858 882h2v2h-2zM848 884h2v2h-2zM858 884h2v2h-2zM746 888h2v2h-2zM804 888h2v2h-2zM872 888h2v2h-2zM906 888h2v2h-2zM748 890h2v2h-2zM786 890h2v2h-2zM804 890h2v2h-2zM922 890h2v2h-2zM712 892h2v2h-2zM736 892h2v2h-2zM790 892h2v2h-2zM784 894h2v2h-2zM838 894h4v2h-4zM738 896h2v2h-2zM794 896h2v2h-2zM814 896h2v2h-2zM784 898h2v2h-2zM810 898h4v2h-4zM820 898h2v2h-2zM888 898h2v2h-2zM820 900h2v2h-2zM840 900h2v2h-2zM742 902h4v2h-4zM818 902h2v2h-2zM822 902h2v2h-2zM844 902h2v2h-2zM932 902h2v2h-2zM726 904h2v2h-2zM738 904h2v2h-2zM814 904h4v2h-4zM844 904h2v2h-2zM928 904h2v2h-2zM670 906h2v2h-2zM710 906h2v2h-2zM760 906h2v2h-2zM790 906h2v2h-2zM794 906h2v2h-2zM800 906h4v2h-4zM814 906h2v2h-2zM818 906h2v2h-2zM842 906h2v2h-2zM854 906h2v2h-2zM766 908h2v2h-2zM794 908h2v2h-2zM820 908h2v2h-2zM836 908h4v2h-4zM742 910h2v2h-2zM866 910h2v2h-2zM646 912h2v2h-2zM738 912h2v2h-2zM744 912h2v2h-2zM776 912h2v2h-2zM822 912h2v2h-2zM834 912h2v2h-2zM898 912h2v2h-2zM716 914h2v2h-2zM744 914h2v2h-2zM774 914h2v2h-2zM778 914h2v2h-2zM860 914h2v2h-2zM890 914h2v2h-2zM780 916h2v2h-2zM864 916h2v2h-2zM886 916h2v2h-2zM936 916h2v2h-2zM744 918h2v2h-2zM754 918h2v2h-2zM816 918h2v2h-2zM794 920h2v2h-2zM744 922h2v2h-2zM754 922h2v2h-2zM858 922h2v2h-2zM890 922h2v2h-2zM912 922h2v2h-2zM774 924h2v2h-2zM792 924h2v2h-2zM800 924h2v2h-2zM858 924h2v2h-2zM880 924h2v2h-2zM886 924h4v2h-4zM918 924h2v2h-2zM744 926h2v2h-2zM804 926h2v2h-2zM830 926h2v2h-2zM874 926h2v2h-2zM890 926h4v2h-4zM792 928h2v2h-2zM802 928h2v2h-2zM810 928h2v2h-2zM814 928h2v2h-2zM834 928h2v2h-2zM872 928h2v2h-2zM882 928h4v2h-4zM894 928h2v2h-2zM906 928h2v2h-2zM946 928h2v2h-2zM762 930h2v2h-2zM810 930h6v2h-6zM820 930h2v2h-2zM824 930h2v2h-2zM828 930h2v2h-2zM832 930h2v2h-2zM840 930h2v2h-2zM882 930h2v2h-2zM914 930h2v2h-2zM646 932h2v2h-2zM698 932h2v2h-2zM704 932h2v2h-2zM720 932h2v2h-2zM804 932h2v2h-2zM808 932h2v2h-2zM824 932h2v2h-2zM832 932h2v2h-2zM836 932h2v2h-2zM868 932h2v2h-2zM914 932h2v2h-2zM782 934h2v2h-2zM804 934h6v2h-6zM826 934h6v2h-6zM868 934h2v2h-2zM898 934h2v2h-2zM666 936h4v2h-4zM680 936h2v2h-2zM702 936h2v2h-2zM720 936h2v2h-2zM754 936h2v2h-2zM778 936h4v2h-4zM822 936h6v2h-6zM836 936h2v2h-2zM848 936h2v2h-2zM852 936h4v2h-4zM872 936h2v2h-2zM922 936h2v2h-2zM698 938h2v2h-2zM704 938h2v2h-2zM824 938h2v2h-2zM830 938h2v2h-2zM838 938h2v2h-2zM846 938h2v2h-2zM866 938h2v2h-2zM672 940h2v2h-2zM680 940h2v2h-2zM756 940h2v2h-2zM778 940h2v2h-2zM782 940h2v2h-2zM798 940h2v2h-2zM828 940h2v2h-2zM852 940h4v2h-4zM900 940h2v2h-2zM696 942h2v2h-2zM776 942h2v2h-2zM798 942h2v2h-2zM826 942h2v2h-2zM854 942h4v2h-4zM862 942h2v2h-2zM870 942h2v2h-2zM926 942h2v2h-2zM742 944h2v2h-2zM754 944h2v2h-2zM772 944h2v2h-2zM794 944h2v2h-2zM826 944h2v2h-2zM858 944h2v2h-2zM896 944h2v2h-2zM912 944h2v2h-2zM776 946h2v2h-2zM786 946h2v2h-2zM826 946h2v2h-2zM834 946h2v2h-2zM858 946h2v2h-2zM864 946h4v2h-4zM870 946h2v2h-2zM874 946h4v2h-4zM880 946h2v2h-2zM942 946h2v2h-2zM736 948h2v2h-2zM768 948h2v2h-2zM774 948h2v2h-2zM790 948h2v2h-2zM794 948h2v2h-2zM824 948h4v2h-4zM866 948h2v2h-2zM870 948h2v2h-2zM878 948h2v2h-2zM732 950h2v2h-2zM762 950h2v2h-2zM768 950h2v2h-2zM774 950h2v2h-2zM814 950h4v2h-4zM824 950h2v2h-2zM828 950h2v2h-2zM834 950h2v2h-2zM892 950h2v2h-2zM906 950h2v2h-2zM958 950h2v2h-2zM756 952h2v2h-2zM774 952h2v2h-2zM792 952h2v2h-2zM840 952h2v2h-2zM862 952h2v2h-2zM890 952h2v2h-2zM908 952h2v2h-2zM938 952h2v2h-2zM942 952h2v2h-2zM716 954h2v2h-2zM720 954h2v2h-2zM730 954h4v2h-4zM764 954h4v2h-4zM778 954h2v2h-2zM784 954h4v2h-4zM790 954h2v2h-2zM820 954h2v2h-2zM824 954h2v2h-2zM832 954h4v2h-4zM840 954h2v2h-2zM848 954h2v2h-2zM886 954h2v2h-2zM758 956h2v2h-2zM774 956h4v2h-4zM784 956h2v2h-2zM792 956h2v2h-2zM844 956h2v2h-2zM890 956h2v2h-2zM904 956h2v2h-2zM936 956h2v2h-2zM770 958h2v2h-2zM774 958h2v2h-2zM780 958h2v2h-2zM784 958h2v2h-2zM790 958h2v2h-2zM842 958h2v2h-2zM848 958h2v2h-2zM864 958h2v2h-2zM884 958h2v2h-2zM894 958h2v2h-2zM914 958h2v2h-2zM934 958h2v2h-2zM940 958h2v2h-2zM688 960h2v2h-2zM696 960h2v2h-2zM738 960h2v2h-2zM756 960h2v2h-2zM772 960h2v2h-2zM776 960h2v2h-2zM780 960h2v2h-2zM786 960h2v2h-2zM810 960h2v2h-2zM838 960h2v2h-2zM844 960h2v2h-2zM856 960h2v2h-2zM862 960h2v2h-2zM906 960h2v2h-2zM910 960h2v2h-2zM920 960h2v2h-2zM930 960h2v2h-2zM678 962h4v2h-4zM766 962h2v2h-2zM770 962h2v2h-2zM776 962h2v2h-2zM780 962h2v2h-2zM792 962h2v2h-2zM796 962h2v2h-2zM808 962h2v2h-2zM812 962h2v2h-2zM844 962h2v2h-2zM848 962h2v2h-2zM904 962h4v2h-4zM910 962h2v2h-2zM920 962h2v2h-2zM930 962h2v2h-2zM972 962h2v2h-2zM670 964h2v2h-2zM760 964h2v2h-2zM768 964h2v2h-2zM772 964h2v2h-2zM780 964h2v2h-2zM784 964h2v2h-2zM794 964h4v2h-4zM800 964h4v2h-4zM806 964h2v2h-2zM882 964h2v2h-2zM886 964h2v2h-2zM690 966h2v2h-2zM694 966h2v2h-2zM712 966h2v2h-2zM752 966h4v2h-4zM768 966h2v2h-2zM772 966h2v2h-2zM778 966h4v2h-4zM798 966h2v2h-2zM804 966h2v2h-2zM812 966h2v2h-2zM832 966h2v2h-2zM880 966h2v2h-2zM890 966h2v2h-2zM896 966h2v2h-2zM910 966h2v2h-2zM746 968h2v2h-2zM764 968h2v2h-2zM770 968h4v2h-4zM776 968h2v2h-2zM782 968h2v2h-2zM792 968h2v2h-2zM810 968h2v2h-2zM822 968h2v2h-2zM834 968h2v2h-2zM838 968h2v2h-2zM918 968h2v2h-2zM696 970h2v2h-2zM716 970h2v2h-2zM744 970h2v2h-2zM748 970h2v2h-2zM768 970h2v2h-2zM778 970h4v2h-4zM784 970h8v2h-8zM794 970h2v2h-2zM808 970h4v2h-4zM818 970h2v2h-2zM836 970h4v2h-4zM868 970h2v2h-2zM884 970h2v2h-2zM904 970h2v2h-2zM934 970h2v2h-2zM672 972h2v2h-2zM764 972h4v2h-4zM774 972h2v2h-2zM780 972h2v2h-2zM788 972h2v2h-2zM802 972h2v2h-2zM808 972h2v2h-2zM820 972h2v2h-2zM828 972h2v2h-2zM832 972h2v2h-2zM886 972h2v2h-2zM904 972h2v2h-2zM952 972h2v2h-2zM692 974h4v2h-4zM704 974h2v2h-2zM714 974h4v2h-4zM742 974h2v2h-2zM760 974h2v2h-2zM768 974h2v2h-2zM782 974h4v2h-4zM792 974h2v2h-2zM808 974h2v2h-2zM822 974h2v2h-2zM826 974h4v2h-4zM836 974h2v2h-2zM864 974h2v2h-2zM898 974h6v2h-6zM694 976h2v2h-2zM714 976h2v2h-2zM720 976h2v2h-2zM740 976h2v2h-2zM746 976h2v2h-2zM778 976h8v2h-8zM796 976h2v2h-2zM800 976h2v2h-2zM804 976h4v2h-4zM824 976h2v2h-2zM844 976h2v2h-2zM854 976h2v2h-2zM862 976h4v2h-4zM640 978h2v2h-2zM700 978h2v2h-2zM712 978h2v2h-2zM720 978h2v2h-2zM742 978h2v2h-2zM760 978h2v2h-2zM778 978h2v2h-2zM788 978h6v2h-6zM798 978h2v2h-2zM806 978h4v2h-4zM818 978h2v2h-2zM826 978h2v2h-2zM830 978h4v2h-4zM852 978h2v2h-2zM866 978h2v2h-2zM892 978h2v2h-2zM900 978h4v2h-4zM714 980h2v2h-2zM718 980h4v2h-4zM750 980h4v2h-4zM770 980h2v2h-2zM788 980h2v2h-2zM792 980h2v2h-2zM798 980h2v2h-2zM804 980h2v2h-2zM810 980h2v2h-2zM814 980h4v2h-4zM830 980h2v2h-2zM910 980h2v2h-2zM716 982h2v2h-2zM720 982h2v2h-2zM750 982h2v2h-2zM762 982h6v2h-6zM780 982h2v2h-2zM788 982h2v2h-2zM800 982h2v2h-2zM808 982h2v2h-2zM862 982h2v2h-2zM894 982h2v2h-2zM930 982h4v2h-4zM672 984h2v2h-2zM724 984h2v2h-2zM750 984h2v2h-2zM754 984h2v2h-2zM758 984h6v2h-6zM768 984h2v2h-2zM780 984h2v2h-2zM792 984h4v2h-4zM798 984h4v2h-4zM810 984h2v2h-2zM816 984h2v2h-2zM866 984h4v2h-4zM684 986h2v2h-2zM712 986h2v2h-2zM716 986h2v2h-2zM720 986h2v2h-2zM768 986h6v2h-6zM792 986h6v2h-6zM800 986h2v2h-2zM810 986h8v2h-8zM870 986h2v2h-2zM896 986h2v2h-2zM676 988h2v2h-2zM724 988h2v2h-2zM728 988h2v2h-2zM762 988h2v2h-2zM790 988h6v2h-6zM800 988h2v2h-2zM808 988h4v2h-4zM816 988h4v2h-4zM832 988h4v2h-4zM906 988h4v2h-4zM972 988h2v2h-2zM976 988h2v2h-2zM678 990h2v2h-2zM740 990h2v2h-2zM762 990h2v2h-2zM772 990h4v2h-4zM778 990h2v2h-2zM796 990h2v2h-2zM802 990h4v2h-4zM812 990h2v2h-2zM816 990h2v2h-2zM832 990h2v2h-2zM836 990h4v2h-4zM872 990h2v2h-2zM900 990h2v2h-2zM904 990h4v2h-4zM924 990h2v2h-2zM722 992h2v2h-2zM762 992h2v2h-2zM774 992h2v2h-2zM780 992h2v2h-2zM796 992h2v2h-2zM800 992h2v2h-2zM806 992h2v2h-2zM810 992h2v2h-2zM814 992h4v2h-4zM836 992h2v2h-2zM872 992h2v2h-2zM876 992h2v2h-2zM924 992h2v2h-2zM932 992h2v2h-2zM724 994h2v2h-2zM732 994h2v2h-2zM742 994h2v2h-2zM756 994h2v2h-2zM766 994h2v2h-2zM776 994h2v2h-2zM780 994h4v2h-4zM792 994h4v2h-4zM798 994h2v2h-2zM802 994h6v2h-6zM810 994h2v2h-2zM836 994h2v2h-2zM846 994h2v2h-2zM868 994h2v2h-2zM724 996h2v2h-2zM730 996h4v2h-4zM750 996h2v2h-2zM786 996h2v2h-2zM790 996h2v2h-2zM794 996h2v2h-2zM808 996h2v2h-2zM814 996h2v2h-2zM832 996h2v2h-2zM866 996h2v2h-2zM914 996h2v2h-2zM940 996h2v2h-2zM698 998h4v2h-4zM704 998h2v2h-2zM720 998h2v2h-2zM742 998h2v2h-2zM764 998h2v2h-2zM770 998h2v2h-2zM776 998h4v2h-4zM782 998h2v2h-2zM786 998h2v2h-2zM790 998h6v2h-6zM798 998h2v2h-2zM810 998h4v2h-4zM816 998h2v2h-2zM832 998h4v2h-4zM868 998h2v2h-2zM932 998h2v2h-2zM944 998h2v2h-2zM960 998h2v2h-2zM698 1000h2v2h-2zM720 1000h2v2h-2zM744 1000h2v2h-2zM750 1000h4v2h-4zM756 1000h2v2h-2zM760 1000h10v2h-10zM774 1000h2v2h-2zM782 1000h6v2h-6zM790 1000h4v2h-4zM800 1000h2v2h-2zM812 1000h2v2h-2zM820 1000h6v2h-6zM834 1000h4v2h-4zM844 1000h2v2h-2zM848 1000h2v2h-2zM868 1000h2v2h-2zM878 1000h2v2h-2zM924 1000h2v2h-2zM698 1002h2v2h-2zM738 1002h2v2h-2zM752 1002h2v2h-2zM762 1002h2v2h-2zM768 1002h2v2h-2zM772 1002h2v2h-2zM776 1002h4v2h-4zM784 1002h8v2h-8zM802 1002h2v2h-2zM810 1002h6v2h-6zM820 1002h2v2h-2zM824 1002h2v2h-2zM848 1002h2v2h-2zM866 1002h2v2h-2zM874 1002h4v2h-4zM890 1002h2v2h-2zM922 1002h2v2h-2zM932 1002h2v2h-2zM936 1002h4v2h-4zM738 1004h4v2h-4zM752 1004h4v2h-4zM764 1004h2v2h-2zM772 1004h2v2h-2zM778 1004h2v2h-2zM792 1004h2v2h-2zM796 1004h2v2h-2zM804 1004h4v2h-4zM822 1004h2v2h-2zM844 1004h2v2h-2zM848 1004h4v2h-4zM858 1004h2v2h-2zM890 1004h2v2h-2zM924 1004h2v2h-2zM934 1004h4v2h-4zM944 1004h4v2h-4zM690 1006h2v2h-2zM704 1006h4v2h-4zM756 1006h2v2h-2zM770 1006h2v2h-2zM800 1006h2v2h-2zM804 1006h2v2h-2zM808 1006h6v2h-6zM822 1006h2v2h-2zM832 1006h2v2h-2zM838 1006h2v2h-2zM844 1006h2v2h-2zM848 1006h6v2h-6zM864 1006h2v2h-2zM876 1006h2v2h-2zM888 1006h2v2h-2zM700 1008h2v2h-2zM704 1008h2v2h-2zM712 1008h2v2h-2zM730 1008h6v2h-6zM768 1008h2v2h-2zM772 1008h2v2h-2zM802 1008h6v2h-6zM812 1008h2v2h-2zM838 1008h2v2h-2zM842 1008h2v2h-2zM846 1008h2v2h-2zM850 1008h4v2h-4zM858 1008h2v2h-2zM868 1008h4v2h-4zM882 1008h2v2h-2zM938 1008h2v2h-2zM662 1010h2v2h-2zM690 1010h2v2h-2zM728 1010h2v2h-2zM750 1010h2v2h-2zM756 1010h2v2h-2zM760 1010h2v2h-2zM764 1010h2v2h-2zM772 1010h2v2h-2zM788 1010h2v2h-2zM806 1010h2v2h-2zM810 1010h2v2h-2zM822 1010h2v2h-2zM842 1010h2v2h-2zM866 1010h2v2h-2zM888 1010h4v2h-4zM902 1010h2v2h-2zM656 1012h2v2h-2zM710 1012h2v2h-2zM732 1012h2v2h-2zM760 1012h2v2h-2zM764 1012h2v2h-2zM784 1012h2v2h-2zM790 1012h4v2h-4zM800 1012h2v2h-2zM804 1012h2v2h-2zM824 1012h2v2h-2zM854 1012h4v2h-4zM860 1012h2v2h-2zM880 1012h2v2h-2zM886 1012h2v2h-2zM614 1014h2v2h-2zM688 1014h2v2h-2zM726 1014h2v2h-2zM752 1014h4v2h-4zM758 1014h2v2h-2zM764 1014h4v2h-4zM780 1014h2v2h-2zM792 1014h6v2h-6zM812 1014h2v2h-2zM818 1014h2v2h-2zM830 1014h2v2h-2zM854 1014h2v2h-2zM858 1014h2v2h-2zM862 1014h2v2h-2zM874 1014h2v2h-2zM934 1014h2v2h-2zM680 1016h2v2h-2zM688 1016h2v2h-2zM692 1016h2v2h-2zM722 1016h2v2h-2zM752 1016h2v2h-2zM756 1016h2v2h-2zM766 1016h2v2h-2zM780 1016h4v2h-4zM788 1016h2v2h-2zM792 1016h2v2h-2zM796 1016h2v2h-2zM800 1016h6v2h-6zM808 1016h2v2h-2zM818 1016h6v2h-6zM828 1016h2v2h-2zM876 1016h2v2h-2zM888 1016h2v2h-2zM898 1016h2v2h-2zM932 1016h2v2h-2zM610 1018h2v2h-2zM656 1018h2v2h-2zM718 1018h2v2h-2zM724 1018h2v2h-2zM734 1018h2v2h-2zM758 1018h2v2h-2zM786 1018h6v2h-6zM794 1018h2v2h-2zM818 1018h2v2h-2zM822 1018h2v2h-2zM936 1018h2v2h-2zM944 1018h2v2h-2zM728 1020h4v2h-4zM764 1020h2v2h-2zM778 1020h2v2h-2zM782 1020h2v2h-2zM804 1020h2v2h-2zM840 1020h4v2h-4zM866 1020h2v2h-2zM898 1020h4v2h-4zM932 1020h2v2h-2zM938 1020h2v2h-2zM692 1022h2v2h-2zM728 1022h2v2h-2zM734 1022h2v2h-2zM764 1022h2v2h-2zM780 1022h2v2h-2zM798 1022h2v2h-2zM804 1022h2v2h-2zM810 1022h2v2h-2zM820 1022h2v2h-2zM838 1022h2v2h-2zM932 1022h2v2h-2zM780 1024h2v2h-2zM788 1024h2v2h-2zM808 1024h2v2h-2zM820 1024h2v2h-2zM824 1024h2v2h-2zM834 1024h2v2h-2zM842 1024h2v2h-2zM866 1024h2v2h-2zM908 1024h2v2h-2zM672 1026h2v2h-2zM692 1026h2v2h-2zM738 1026h2v2h-2zM782 1026h2v2h-2zM800 1026h2v2h-2zM810 1026h2v2h-2zM820 1026h4v2h-4zM834 1026h4v2h-4zM868 1026h2v2h-2zM904 1026h2v2h-2zM710 1028h2v2h-2zM736 1028h4v2h-4zM762 1028h2v2h-2zM784 1028h2v2h-2zM804 1028h2v2h-2zM812 1028h2v2h-2zM822 1028h2v2h-2zM870 1028h2v2h-2zM900 1028h2v2h-2zM908 1028h2v2h-2zM914 1028h2v2h-2zM686 1030h2v2h-2zM690 1030h4v2h-4zM722 1030h2v2h-2zM748 1030h2v2h-2zM754 1030h2v2h-2zM758 1030h2v2h-2zM782 1030h2v2h-2zM804 1030h2v2h-2zM808 1030h2v2h-2zM812 1030h2v2h-2zM822 1030h2v2h-2zM834 1030h2v2h-2zM902 1030h2v2h-2zM908 1030h2v2h-2zM654 1032h2v2h-2zM674 1032h2v2h-2zM706 1032h2v2h-2zM716 1032h2v2h-2zM746 1032h2v2h-2zM750 1032h2v2h-2zM754 1032h2v2h-2zM786 1032h2v2h-2zM954 1032h2v2h-2zM980 1032h2v2h-2zM668 1034h2v2h-2zM672 1034h2v2h-2zM710 1034h2v2h-2zM738 1034h2v2h-2zM786 1034h2v2h-2zM818 1034h2v2h-2zM880 1034h6v2h-6zM908 1034h2v2h-2zM726 1036h2v2h-2zM742 1036h2v2h-2zM756 1036h2v2h-2zM800 1036h2v2h-2zM810 1036h2v2h-2zM870 1036h2v2h-2zM874 1036h2v2h-2zM880 1036h2v2h-2zM910 1036h2v2h-2zM958 1036h2v2h-2zM672 1038h2v2h-2zM682 1038h2v2h-2zM730 1038h4v2h-4zM736 1038h2v2h-2zM740 1038h2v2h-2zM750 1038h6v2h-6zM758 1038h2v2h-2zM812 1038h2v2h-2zM818 1038h4v2h-4zM832 1038h2v2h-2zM866 1038h2v2h-2zM870 1038h4v2h-4zM878 1038h4v2h-4zM904 1038h2v2h-2zM736 1040h2v2h-2zM740 1040h2v2h-2zM748 1040h2v2h-2zM760 1040h2v2h-2zM770 1040h2v2h-2zM778 1040h2v2h-2zM800 1040h2v2h-2zM804 1040h2v2h-2zM808 1040h2v2h-2zM816 1040h4v2h-4zM852 1040h2v2h-2zM868 1040h2v2h-2zM872 1040h2v2h-2zM876 1040h2v2h-2zM880 1040h2v2h-2zM900 1040h2v2h-2zM614 1042h2v2h-2zM688 1042h2v2h-2zM732 1042h2v2h-2zM736 1042h2v2h-2zM740 1042h2v2h-2zM752 1042h2v2h-2zM766 1042h2v2h-2zM778 1042h4v2h-4zM796 1042h2v2h-2zM810 1042h4v2h-4zM854 1042h2v2h-2zM876 1042h2v2h-2zM882 1042h2v2h-2zM886 1042h2v2h-2zM682 1044h2v2h-2zM700 1044h2v2h-2zM706 1044h2v2h-2zM734 1044h2v2h-2zM738 1044h2v2h-2zM746 1044h2v2h-2zM750 1044h2v2h-2zM766 1044h2v2h-2zM770 1044h4v2h-4zM778 1044h4v2h-4zM810 1044h4v2h-4zM816 1044h2v2h-2zM820 1044h4v2h-4zM854 1044h2v2h-2zM860 1044h2v2h-2zM676 1046h2v2h-2zM734 1046h2v2h-2zM746 1046h2v2h-2zM750 1046h2v2h-2zM758 1046h2v2h-2zM768 1046h2v2h-2zM774 1046h4v2h-4zM798 1046h2v2h-2zM816 1046h2v2h-2zM850 1046h2v2h-2zM896 1046h2v2h-2zM930 1046h2v2h-2zM690 1048h2v2h-2zM742 1048h2v2h-2zM776 1048h2v2h-2zM816 1048h8v2h-8zM848 1048h2v2h-2zM876 1048h2v2h-2zM884 1048h2v2h-2zM892 1048h2v2h-2zM924 1048h2v2h-2zM948 1048h2v2h-2zM658 1050h2v2h-2zM696 1050h2v2h-2zM732 1050h2v2h-2zM744 1050h2v2h-2zM752 1050h2v2h-2zM774 1050h4v2h-4zM822 1050h4v2h-4zM850 1050h2v2h-2zM866 1050h4v2h-4zM876 1050h2v2h-2zM892 1050h2v2h-2zM924 1050h2v2h-2zM636 1052h2v2h-2zM672 1052h2v2h-2zM692 1052h2v2h-2zM744 1052h4v2h-4zM804 1052h2v2h-2zM816 1052h4v2h-4zM822 1052h2v2h-2zM710 1054h2v2h-2zM742 1054h2v2h-2zM750 1054h4v2h-4zM782 1054h2v2h-2zM792 1054h2v2h-2zM824 1054h2v2h-2zM854 1054h2v2h-2zM930 1054h2v2h-2zM702 1056h2v2h-2zM742 1056h2v2h-2zM750 1056h2v2h-2zM782 1056h4v2h-4zM788 1056h4v2h-4zM794 1056h2v2h-2zM810 1056h2v2h-2zM814 1056h2v2h-2zM822 1056h2v2h-2zM850 1056h4v2h-4zM692 1058h2v2h-2zM708 1058h2v2h-2zM750 1058h2v2h-2zM764 1058h4v2h-4zM778 1058h2v2h-2zM782 1058h4v2h-4zM788 1058h2v2h-2zM814 1058h4v2h-4zM822 1058h2v2h-2zM886 1058h2v2h-2zM760 1060h8v2h-8zM848 1060h2v2h-2zM872 1060h2v2h-2zM704 1062h2v2h-2zM766 1062h2v2h-2zM778 1062h4v2h-4zM794 1062h2v2h-2zM836 1062h2v2h-2zM848 1062h2v2h-2zM872 1062h2v2h-2zM878 1062h2v2h-2zM912 1062h2v2h-2zM982 1062h2v2h-2zM670 1064h2v2h-2zM702 1064h2v2h-2zM712 1064h2v2h-2zM762 1064h2v2h-2zM766 1064h2v2h-2zM782 1064h2v2h-2zM792 1064h2v2h-2zM798 1064h2v2h-2zM814 1064h2v2h-2zM866 1064h2v2h-2zM876 1064h6v2h-6zM922 1064h2v2h-2zM760 1066h4v2h-4zM780 1066h2v2h-2zM810 1066h2v2h-2zM816 1066h4v2h-4zM864 1066h2v2h-2zM878 1066h2v2h-2zM890 1066h2v2h-2zM722 1068h2v2h-2zM762 1068h2v2h-2zM766 1068h2v2h-2zM778 1068h2v2h-2zM786 1068h4v2h-4zM810 1068h4v2h-4zM818 1068h2v2h-2zM836 1068h2v2h-2zM716 1070h2v2h-2zM720 1070h2v2h-2zM812 1070h2v2h-2zM818 1070h2v2h-2zM832 1070h4v2h-4zM862 1070h4v2h-4zM888 1070h2v2h-2zM930 1070h2v2h-2zM640 1072h2v2h-2zM730 1072h2v2h-2zM740 1072h2v2h-2zM748 1072h2v2h-2zM832 1072h4v2h-4zM844 1072h2v2h-2zM866 1072h2v2h-2zM908 1072h2v2h-2zM644 1074h2v2h-2zM700 1074h2v2h-2zM704 1074h2v2h-2zM718 1074h2v2h-2zM772 1074h2v2h-2zM790 1074h2v2h-2zM814 1074h4v2h-4zM836 1074h4v2h-4zM898 1074h2v2h-2zM946 1074h2v2h-2zM732 1076h2v2h-2zM838 1076h2v2h-2zM866 1076h2v2h-2zM930 1076h4v2h-4zM776 1078h2v2h-2zM838 1078h2v2h-2zM854 1078h4v2h-4zM866 1078h4v2h-4zM882 1078h2v2h-2zM934 1078h2v2h-2zM768 1080h4v2h-4zM774 1080h2v2h-2zM834 1080h2v2h-2zM850 1080h2v2h-2zM872 1080h2v2h-2zM918 1080h2v2h-2zM946 1080h2v2h-2zM744 1082h2v2h-2zM772 1082h2v2h-2zM776 1082h2v2h-2zM784 1082h2v2h-2zM836 1082h2v2h-2zM840 1082h2v2h-2zM856 1082h8v2h-8zM872 1082h2v2h-2zM880 1082h2v2h-2zM890 1082h2v2h-2zM944 1082h2v2h-2zM990 1082h2v2h-2zM860 1084h4v2h-4zM946 1084h2v2h-2zM728 1086h2v2h-2zM782 1086h4v2h-4zM788 1086h2v2h-2zM814 1086h2v2h-2zM840 1086h2v2h-2zM864 1086h2v2h-2zM878 1086h2v2h-2zM882 1086h2v2h-2zM890 1086h2v2h-2zM898 1086h2v2h-2zM940 1086h2v2h-2zM1004 1086h2v2h-2zM684 1088h2v2h-2zM776 1088h2v2h-2zM790 1088h2v2h-2zM810 1088h2v2h-2zM826 1088h2v2h-2zM832 1088h2v2h-2zM836 1088h2v2h-2zM840 1088h2v2h-2zM882 1088h2v2h-2zM936 1088h2v2h-2zM650 1090h2v2h-2zM822 1090h2v2h-2zM828 1090h4v2h-4zM838 1090h2v2h-2zM880 1090h2v2h-2zM710 1092h2v2h-2zM760 1092h2v2h-2zM772 1092h2v2h-2zM778 1092h2v2h-2zM826 1092h4v2h-4zM838 1092h2v2h-2zM854 1092h2v2h-2zM864 1092h2v2h-2zM900 1092h2v2h-2zM722 1094h2v2h-2zM742 1094h2v2h-2zM752 1094h2v2h-2zM758 1094h2v2h-2zM810 1094h2v2h-2zM828 1094h4v2h-4zM852 1094h4v2h-4zM704 1096h2v2h-2zM742 1096h4v2h-4zM748 1096h2v2h-2zM762 1096h2v2h-2zM804 1096h6v2h-6zM836 1096h2v2h-2zM866 1096h4v2h-4zM898 1096h2v2h-2zM742 1098h2v2h-2zM764 1098h2v2h-2zM806 1098h4v2h-4zM964 1098h2v2h-2zM744 1100h2v2h-2zM834 1100h2v2h-2zM854 1100h2v2h-2zM860 1100h2v2h-2zM866 1100h2v2h-2zM874 1100h2v2h-2zM922 1100h2v2h-2zM932 1100h2v2h-2zM944 1100h2v2h-2zM756 1102h2v2h-2zM762 1102h2v2h-2zM768 1102h4v2h-4zM776 1102h2v2h-2zM812 1102h4v2h-4zM850 1102h2v2h-2zM856 1102h2v2h-2zM876 1102h2v2h-2zM880 1102h2v2h-2zM892 1102h2v2h-2zM902 1102h2v2h-2zM694 1104h2v2h-2zM758 1104h2v2h-2zM808 1104h2v2h-2zM850 1104h4v2h-4zM864 1104h2v2h-2zM878 1104h2v2h-2zM892 1104h2v2h-2zM904 1104h2v2h-2zM910 1104h2v2h-2zM732 1106h2v2h-2zM744 1106h2v2h-2zM762 1106h2v2h-2zM778 1106h2v2h-2zM794 1106h2v2h-2zM804 1106h2v2h-2zM814 1106h2v2h-2zM820 1106h4v2h-4zM860 1106h2v2h-2zM872 1106h6v2h-6zM646 1108h2v2h-2zM754 1108h2v2h-2zM766 1108h2v2h-2zM770 1108h2v2h-2zM782 1108h2v2h-2zM804 1108h2v2h-2zM840 1108h2v2h-2zM868 1108h2v2h-2zM784 1110h4v2h-4zM838 1110h2v2h-2zM850 1110h4v2h-4zM840 1112h2v2h-2zM848 1112h2v2h-2zM858 1112h2v2h-2zM746 1114h2v2h-2zM790 1114h2v2h-2zM874 1114h2v2h-2zM914 1114h2v2h-2zM822 1116h2v2h-2zM856 1116h4v2h-4zM752 1118h2v2h-2zM756 1118h2v2h-2zM796 1118h2v2h-2zM834 1118h2v2h-2zM880 1118h2v2h-2zM760 1120h4v2h-4zM814 1120h2v2h-2zM856 1120h2v2h-2zM918 1120h2v2h-2zM694 1122h2v2h-2zM784 1122h2v2h-2zM768 1124h2v2h-2zM792 1124h2v2h-2zM796 1124h2v2h-2zM844 1124h2v2h-2zM712 1128h2v2h-2zM802 1128h2v2h-2zM844 1128h2v2h-2zM774 1130h2v2h-2zM850 1130h2v2h-2zM752 1132h2v2h-2zM854 1132h2v2h-2zM918 1134h2v2h-2zM988 1134h2v2h-2zM736 1140h2v2h-2zM880 1140h2v2h-2zM920 1144h2v2h-2zM960 1144h2v2h-2zM856 1152h2v2h-2zM782 1154h2v2h-2zM812 1154h2v2h-2zM824 1154h2v2h-2zM920 1154h2v2h-2zM662 1156h2v2h-2zM786 1156h2v2h-2zM766 1158h2v2h-2zM838 1162h2v2h-2z"/>
<path fill="#337cb0" d="M686 734h2v2h-2zM686 736h2v2h-2zM814 742h2v2h-2zM816 744h2v2h-2zM812 746h2v2h-2zM816 746h2v2h-2zM820 746h2v2h-2zM804 748h2v2h-2zM814 748h4v2h-4zM806 750h2v2h-2zM808 780h2v2h-2zM770 788h2v2h-2zM806 804h2v2h-2zM808 808h2v2h-2zM812 808h2v2h-2zM802 812h2v2h-2zM808 812h2v2h-2zM814 812h2v2h-2zM814 816h2v2h-2zM800 818h2v2h-2zM806 818h2v2h-2zM816 820h2v2h-2zM808 824h2v2h-2zM800 826h2v2h-2zM808 826h2v2h-2zM804 828h2v2h-2zM810 830h4v2h-4zM804 832h2v2h-2zM748 888h2v2h-2zM782 890h2v2h-2zM820 902h2v2h-2zM738 928h2v2h-2zM822 930h2v2h-2zM822 932h2v2h-2zM834 932h2v2h-2zM744 942h2v2h-2zM792 942h2v2h-2zM796 942h2v2h-2zM800 942h2v2h-2zM760 954h2v2h-2zM884 954h2v2h-2zM894 954h2v2h-2zM768 956h2v2h-2zM782 960h2v2h-2zM778 964h2v2h-2zM774 966h2v2h-2zM912 966h2v2h-2zM774 970h2v2h-2zM778 972h2v2h-2zM822 972h2v2h-2zM762 978h2v2h-2zM786 978h2v2h-2zM864 978h2v2h-2zM762 980h2v2h-2zM864 982h2v2h-2zM716 984h2v2h-2zM788 984h2v2h-2zM796 984h2v2h-2zM784 988h4v2h-4zM784 990h2v2h-2zM790 990h2v2h-2zM782 992h2v2h-2zM784 994h4v2h-4zM808 994h2v2h-2zM670 996h2v2h-2zM780 996h2v2h-2zM784 996h2v2h-2zM788 996h2v2h-2zM798 996h2v2h-2zM802 996h2v2h-2zM762 998h2v2h-2zM802 998h2v2h-2zM806 998h2v2h-2zM942 998h2v2h-2zM798 1000h2v2h-2zM756 1002h6v2h-6zM764 1002h2v2h-2zM794 1002h2v2h-2zM940 1002h2v2h-2zM806 1006h2v2h-2zM860 1008h2v2h-2zM866 1008h2v2h-2zM756 1014h2v2h-2zM786 1014h2v2h-2zM798 1014h4v2h-4zM776 1020h2v2h-2zM870 1024h2v2h-2zM870 1026h2v2h-2zM918 1030h2v2h-2zM720 1032h2v2h-2zM762 1038h2v2h-2zM996 1044h2v2h-2zM858 1048h2v2h-2zM894 1050h2v2h-2zM820 1054h2v2h-2zM818 1056h2v2h-2zM762 1062h2v2h-2zM874 1062h2v2h-2zM852 1080h2v2h-2zM860 1080h2v2h-2zM868 1080h2v2h-2zM780 1088h2v2h-2zM780 1092h2v2h-2zM758 1098h2v2h-2zM764 1102h2v2h-2zM852 1102h2v2h-2zM990 1102h2v2h-2zM852 1106h2v2h-2zM852 1130h2v2h-2z"/>
<path fill="#2e88bc" d="M688 734h2v2h-2zM688 736h4v2h-4zM808 740h2v2h-2zM812 740h2v2h-2zM808 742h2v2h-2zM806 744h4v2h-4zM812 744h4v2h-4zM818 744h2v2h-2zM806 746h2v2h-2zM810 746h2v2h-2zM818 746h2v2h-2zM822 746h2v2h-2zM806 748h2v2h-2zM818 748h2v2h-2zM812 750h2v2h-2zM820 750h2v2h-2zM808 776h2v2h-2zM806 778h2v2h-2zM810 778h4v2h-4zM806 780h2v2h-2zM834 790h2v2h-2zM806 806h2v2h-2zM802 810h4v2h-4zM808 810h2v2h-2zM802 818h2v2h-2zM816 818h2v2h-2zM780 824h2v2h-2zM804 824h2v2h-2zM816 824h2v2h-2zM816 826h2v2h-2zM798 828h2v2h-2zM806 828h2v2h-2zM810 828h4v2h-4zM804 830h2v2h-2zM776 966h2v2h-2zM782 988h2v2h-2zM780 990h4v2h-4zM784 992h2v2h-2zM804 992h2v2h-2zM796 996h2v2h-2zM800 996h2v2h-2zM806 996h2v2h-2zM810 996h2v2h-2zM796 998h2v2h-2zM780 1000h2v2h-2zM792 1002h2v2h-2zM822 1002h2v2h-2zM816 1038h2v2h-2zM858 1080h2v2h-2z"/>
<rect x="791.5" y="987.0" width="5.5" height="5.5" fill="#1a1a1a"/>
<path fill="#2e88bc" d="M1182 892h15v3h-15zM1182 895h18v3h-18zM1182 898h18v3h-18zM1179 901h18v3h-18zM1179 904h18v3h-18zM1161 907h9v3h-9zM1179 907h18v3h-18zM1158 910h12v3h-12zM1176 910h21v3h-21zM1158 913h12v3h-12zM1176 913h18v3h-18zM1158 916h12v3h-12zM1176 916h18v3h-18zM1158 919h12v3h-12zM1173 919h21v3h-21zM1095 922h3v3h-3zM1149 922h6v3h-6zM1158 922h9v3h-9zM1173 922h18v3h-18zM1017 925h12v3h-12zM1083 925h6v3h-6zM1152 925h3v3h-3zM1158 925h9v3h-9zM1173 925h18v3h-18zM1014 928h27v3h-27zM1083 928h6v3h-6zM1095 928h3v3h-3zM1149 928h18v3h-18zM1173 928h3v3h-3zM1179 928h9v3h-9zM1014 931h9v3h-9zM1026 931h15v3h-15zM1083 931h3v3h-3zM1089 931h3v3h-3zM1098 931h3v3h-3zM1149 931h6v3h-6zM1158 931h9v3h-9zM1170 931h21v3h-21zM1017 934h27v3h-27zM1050 934h3v3h-3zM1086 934h9v3h-9zM1098 934h3v3h-3zM1149 934h39v3h-39zM1011 937h30v3h-30zM1044 937h9v3h-9zM1098 937h3v3h-3zM1149 937h18v3h-18zM1170 937h18v3h-18zM1005 940h21v3h-21zM1029 940h24v3h-24zM1089 940h3v3h-3zM1101 940h3v3h-3zM1149 940h15v3h-15zM1170 940h18v3h-18zM1008 943h45v3h-45zM1149 943h15v3h-15zM1170 943h15v3h-15zM1005 946h3v3h-3zM1011 946h27v3h-27zM1041 946h12v3h-12zM1110 946h3v3h-3zM1149 946h15v3h-15zM1167 946h18v3h-18zM1011 949h45v3h-45zM1110 949h3v3h-3zM1149 949h15v3h-15zM1167 949h18v3h-18zM1011 952h45v3h-45zM1110 952h3v3h-3zM1152 952h21v3h-21zM1179 952h6v3h-6zM1011 955h12v3h-12zM1026 955h33v3h-33zM1152 955h9v3h-9zM1164 955h18v3h-18zM1017 958h42v3h-42zM1074 958h6v3h-6zM1128 958h12v3h-12zM1149 958h12v3h-12zM1164 958h18v3h-18zM1020 961h39v3h-39zM1071 961h9v3h-9zM1122 961h21v3h-21zM1149 961h30v3h-30zM1188 961h12v3h-12zM1023 964h27v3h-27zM1053 964h9v3h-9zM1068 964h12v3h-12zM1125 964h15v3h-15zM1146 964h6v3h-6zM1155 964h24v3h-24zM1191 964h12v3h-12zM1023 967h30v3h-30zM1056 967h6v3h-6zM1071 967h6v3h-6zM1080 967h3v3h-3zM1125 967h18v3h-18zM1146 967h33v3h-33zM1191 967h12v3h-12zM1023 970h42v3h-42zM1074 970h12v3h-12zM1128 970h15v3h-15zM1146 970h12v3h-12zM1161 970h15v3h-15zM1191 970h12v3h-12zM1014 973h3v3h-3zM1023 973h9v3h-9zM1035 973h6v3h-6zM1044 973h21v3h-21zM1077 973h9v3h-9zM1128 973h48v3h-48zM1194 973h9v3h-9zM1026 976h30v3h-30zM1059 976h6v3h-6zM1080 976h3v3h-3zM1131 976h27v3h-27zM1161 976h18v3h-18zM1194 976h12v3h-12zM1026 979h6v3h-6zM1035 979h30v3h-30zM1074 979h3v3h-3zM1131 979h27v3h-27zM1161 979h15v3h-15zM1194 979h9v3h-9zM1026 982h12v3h-12zM1041 982h24v3h-24zM1134 982h24v3h-24zM1164 982h3v3h-3zM1194 982h12v3h-12zM1026 985h42v3h-42zM1137 985h21v3h-21zM1194 985h9v3h-9zM1026 988h45v3h-45zM1086 988h3v3h-3zM1131 988h3v3h-3zM1137 988h21v3h-21zM1197 988h3v3h-3zM1026 991h42v3h-42zM1083 991h6v3h-6zM1137 991h18v3h-18zM1158 991h3v3h-3zM1197 991h12v3h-12zM1029 994h36v3h-36zM1083 994h12v3h-12zM1134 994h9v3h-9zM1146 994h21v3h-21zM1197 994h12v3h-12zM1029 997h39v3h-39zM1083 997h12v3h-12zM1113 997h12v3h-12zM1134 997h9v3h-9zM1152 997h15v3h-15zM1200 997h9v3h-9zM1032 1000h39v3h-39zM1083 1000h12v3h-12zM1113 1000h15v3h-15zM1137 1000h6v3h-6zM1152 1000h15v3h-15zM1200 1000h12v3h-12zM1035 1003h39v3h-39zM1086 1003h6v3h-6zM1113 1003h15v3h-15zM1137 1003h9v3h-9zM1152 1003h18v3h-18zM1200 1003h12v3h-12zM1038 1006h15v3h-15zM1059 1006h18v3h-18zM1113 1006h18v3h-18zM1137 1006h6v3h-6zM1155 1006h15v3h-15zM1200 1006h12v3h-12zM1041 1009h21v3h-21zM1065 1009h9v3h-9zM1113 1009h18v3h-18zM1134 1009h6v3h-6zM1158 1009h15v3h-15zM1200 1009h12v3h-12zM1041 1012h33v3h-33zM1113 1012h9v3h-9zM1125 1012h6v3h-6zM1137 1012h3v3h-3zM1149 1012h3v3h-3zM1158 1012h21v3h-21zM1200 1012h12v3h-12zM1041 1015h36v3h-36zM1110 1015h30v3h-30zM1143 1015h3v3h-3zM1152 1015h27v3h-27zM1200 1015h15v3h-15zM1038 1018h3v3h-3zM1044 1018h33v3h-33zM1110 1018h33v3h-33zM1146 1018h3v3h-3zM1152 1018h30v3h-30zM1191 1018h3v3h-3zM1203 1018h12v3h-12zM1041 1021h42v3h-42zM1113 1021h27v3h-27zM1149 1021h33v3h-33zM1188 1021h3v3h-3zM1200 1021h15v3h-15zM1035 1024h3v3h-3zM1044 1024h36v3h-36zM1116 1024h24v3h-24zM1146 1024h15v3h-15zM1164 1024h18v3h-18zM1200 1024h3v3h-3zM1209 1024h6v3h-6zM1038 1027h3v3h-3zM1044 1027h36v3h-36zM1116 1027h24v3h-24zM1146 1027h39v3h-39zM1209 1027h9v3h-9zM1035 1030h3v3h-3zM1044 1030h39v3h-39zM1119 1030h21v3h-21zM1149 1030h39v3h-39zM1209 1030h9v3h-9zM1044 1033h39v3h-39zM1119 1033h6v3h-6zM1128 1033h9v3h-9zM1149 1033h27v3h-27zM1179 1033h12v3h-12zM1194 1033h3v3h-3zM1026 1036h3v3h-3zM1041 1036h6v3h-6zM1050 1036h33v3h-33zM1119 1036h21v3h-21zM1146 1036h48v3h-48zM1203 1036h6v3h-6zM1023 1039h9v3h-9zM1044 1039h42v3h-42zM1113 1039h3v3h-3zM1119 1039h21v3h-21zM1146 1039h48v3h-48zM1197 1039h18v3h-18zM1020 1042h12v3h-12zM1047 1042h39v3h-39zM1119 1042h15v3h-15zM1137 1042h6v3h-6zM1149 1042h3v3h-3zM1155 1042h60v3h-60zM1020 1045h15v3h-15zM1047 1045h42v3h-42zM1119 1045h24v3h-24zM1149 1045h45v3h-45zM1197 1045h18v3h-18zM1218 1045h3v3h-3zM1023 1048h15v3h-15zM1047 1048h24v3h-24zM1074 1048h15v3h-15zM1098 1048h3v3h-3zM1122 1048h21v3h-21zM1152 1048h9v3h-9zM1164 1048h33v3h-33zM1200 1048h21v3h-21zM1026 1051h15v3h-15zM1050 1051h24v3h-24zM1077 1051h15v3h-15zM1095 1051h9v3h-9zM1125 1051h21v3h-21zM1155 1051h63v3h-63zM1029 1054h15v3h-15zM1056 1054h51v3h-51zM1122 1054h24v3h-24zM1158 1054h63v3h-63zM1029 1057h12v3h-12zM1056 1057h33v3h-33zM1092 1057h12v3h-12zM1107 1057h3v3h-3zM1125 1057h18v3h-18zM1158 1057h66v3h-66zM1029 1060h12v3h-12zM1056 1060h33v3h-33zM1092 1060h18v3h-18zM1125 1060h21v3h-21zM1155 1060h3v3h-3zM1167 1060h60v3h-60zM1032 1063h6v3h-6zM1041 1063h3v3h-3zM1056 1063h54v3h-54zM1128 1063h18v3h-18zM1167 1063h60v3h-60zM1032 1066h6v3h-6zM1059 1066h45v3h-45zM1107 1066h3v3h-3zM1131 1066h9v3h-9zM1173 1066h54v3h-54zM1059 1069h15v3h-15zM1077 1069h36v3h-36zM1131 1069h6v3h-6zM1173 1069h51v3h-51zM1227 1069h6v3h-6zM1056 1072h39v3h-39zM1098 1072h3v3h-3zM1104 1072h15v3h-15zM1176 1072h60v3h-60zM1059 1075h57v3h-57zM1173 1075h54v3h-54zM1230 1075h6v3h-6zM1059 1078h15v3h-15zM1077 1078h39v3h-39zM1173 1078h48v3h-48zM1224 1078h9v3h-9zM1059 1081h54v3h-54zM1116 1081h3v3h-3zM1170 1081h15v3h-15zM1188 1081h9v3h-9zM1203 1081h30v3h-30zM1059 1084h18v3h-18zM1080 1084h21v3h-21zM1110 1084h9v3h-9zM1173 1084h39v3h-39zM1215 1084h15v3h-15zM1032 1087h18v3h-18zM1065 1087h36v3h-36zM1104 1087h15v3h-15zM1176 1087h36v3h-36zM1230 1087h3v3h-3zM1032 1090h30v3h-30zM1065 1090h51v3h-51zM1176 1090h33v3h-33zM1218 1090h3v3h-3zM1032 1093h60v3h-60zM1095 1093h9v3h-9zM1176 1093h33v3h-33zM1032 1096h39v3h-39zM1074 1096h30v3h-30zM1176 1096h21v3h-21zM1032 1099h63v3h-63zM1098 1099h6v3h-6zM1107 1099h3v3h-3zM1182 1099h18v3h-18zM1035 1102h72v3h-72zM1182 1102h18v3h-18zM1050 1105h15v3h-15zM1068 1105h39v3h-39zM1188 1105h3v3h-3zM1194 1105h9v3h-9zM1056 1108h3v3h-3zM1068 1108h39v3h-39zM1194 1108h9v3h-9zM1071 1111h18v3h-18zM1092 1111h12v3h-12zM1194 1111h9v3h-9zM1068 1114h3v3h-3zM1074 1114h30v3h-30zM1197 1114h6v3h-6zM1074 1117h36v3h-36zM1077 1120h36v3h-36zM1080 1123h6v3h-6zM1098 1123h18v3h-18zM1101 1126h18v3h-18zM1104 1129h15v3h-15zM1107 1132h12v3h-12zM1110 1135h6v3h-6z"/>
<path fill="#3a70a6" d="M1182 892h3v3h-3zM1188 898h3v3h-3zM1158 919h3v3h-3zM1149 922h6v3h-6zM1023 925h6v3h-6zM1083 925h3v3h-3zM1017 928h3v3h-3zM1026 928h3v3h-3zM1038 928h3v3h-3zM1086 928h3v3h-3zM1095 928h3v3h-3zM1158 928h3v3h-3zM1038 931h3v3h-3zM1185 931h6v3h-6zM1032 934h9v3h-9zM1179 934h3v3h-3zM1176 937h6v3h-6zM1020 940h3v3h-3zM1101 940h3v3h-3zM1176 940h3v3h-3zM1017 943h3v3h-3zM1176 943h6v3h-6zM1005 946h3v3h-3zM1035 946h3v3h-3zM1110 946h3v3h-3zM1014 949h3v3h-3zM1035 949h3v3h-3zM1110 949h3v3h-3zM1110 952h3v3h-3zM1164 952h3v3h-3zM1017 958h9v3h-9zM1053 958h6v3h-6zM1128 958h3v3h-3zM1134 958h3v3h-3zM1170 958h3v3h-3zM1020 961h6v3h-6zM1023 964h3v3h-3zM1032 964h3v3h-3zM1149 964h3v3h-3zM1155 964h3v3h-3zM1191 964h3v3h-3zM1023 967h9v3h-9zM1134 967h3v3h-3zM1152 967h3v3h-3zM1023 970h3v3h-3zM1056 970h3v3h-3zM1134 970h3v3h-3zM1152 970h3v3h-3zM1014 973h3v3h-3zM1026 973h6v3h-6zM1056 973h6v3h-6zM1146 973h3v3h-3zM1158 973h3v3h-3zM1035 976h3v3h-3zM1044 976h3v3h-3zM1053 976h3v3h-3zM1059 976h3v3h-3zM1146 976h3v3h-3zM1038 979h3v3h-3zM1056 979h6v3h-6zM1146 979h3v3h-3zM1170 979h3v3h-3zM1056 982h9v3h-9zM1164 982h3v3h-3zM1026 985h9v3h-9zM1059 985h3v3h-3zM1062 988h6v3h-6zM1152 988h3v3h-3zM1032 991h3v3h-3zM1038 991h3v3h-3zM1056 991h3v3h-3zM1035 994h3v3h-3zM1056 994h3v3h-3zM1134 994h3v3h-3zM1032 997h3v3h-3zM1116 997h3v3h-3zM1053 1000h6v3h-6zM1083 1000h3v3h-3zM1152 1000h3v3h-3zM1053 1003h3v3h-3zM1209 1003h3v3h-3zM1128 1006h3v3h-3zM1140 1006h3v3h-3zM1209 1006h3v3h-3zM1053 1009h6v3h-6zM1056 1012h3v3h-3zM1158 1012h6v3h-6zM1170 1012h3v3h-3zM1056 1015h3v3h-3zM1056 1018h3v3h-3zM1134 1018h3v3h-3zM1206 1018h3v3h-3zM1044 1021h3v3h-3zM1056 1021h3v3h-3zM1074 1021h6v3h-6zM1044 1024h3v3h-3zM1059 1024h3v3h-3zM1065 1024h3v3h-3zM1071 1024h3v3h-3zM1077 1024h3v3h-3zM1116 1024h3v3h-3zM1137 1024h3v3h-3zM1068 1027h3v3h-3zM1176 1027h3v3h-3zM1065 1030h6v3h-6zM1074 1030h3v3h-3zM1041 1036h3v3h-3zM1128 1036h3v3h-3zM1137 1036h3v3h-3zM1161 1036h3v3h-3zM1182 1036h6v3h-6zM1158 1039h3v3h-3zM1179 1039h3v3h-3zM1185 1039h3v3h-3zM1020 1042h3v3h-3zM1080 1042h3v3h-3zM1131 1042h3v3h-3zM1176 1042h3v3h-3zM1020 1045h3v3h-3zM1026 1045h3v3h-3zM1188 1045h3v3h-3zM1023 1048h6v3h-6zM1032 1048h3v3h-3zM1074 1048h3v3h-3zM1188 1048h3v3h-3zM1068 1051h6v3h-6zM1068 1054h3v3h-3zM1212 1057h3v3h-3zM1056 1060h3v3h-3zM1071 1060h6v3h-6zM1086 1060h3v3h-3zM1098 1060h3v3h-3zM1200 1060h3v3h-3zM1212 1060h9v3h-9zM1068 1063h12v3h-12zM1098 1063h3v3h-3zM1212 1063h3v3h-3zM1032 1066h6v3h-6zM1065 1066h9v3h-9zM1059 1069h3v3h-3zM1104 1069h3v3h-3zM1056 1072h12v3h-12zM1059 1075h9v3h-9zM1062 1078h6v3h-6zM1080 1078h3v3h-3zM1095 1081h6v3h-6zM1215 1084h3v3h-3zM1044 1087h3v3h-3zM1086 1087h3v3h-3zM1047 1090h3v3h-3zM1053 1090h6v3h-6zM1092 1090h6v3h-6zM1182 1090h3v3h-3zM1089 1093h3v3h-3zM1038 1096h3v3h-3zM1092 1096h3v3h-3zM1176 1096h6v3h-6zM1041 1099h6v3h-6zM1050 1099h3v3h-3zM1074 1099h6v3h-6zM1092 1099h3v3h-3zM1044 1102h3v3h-3zM1074 1102h6v3h-6zM1086 1102h3v3h-3zM1086 1105h3v3h-3zM1098 1105h3v3h-3zM1068 1108h3v3h-3zM1098 1108h3v3h-3zM1071 1111h3v3h-3zM1086 1111h3v3h-3zM1098 1111h3v3h-3zM1110 1120h3v3h-3zM1083 1123h3v3h-3zM1104 1123h3v3h-3zM1116 1129h3v3h-3zM1116 1132h3v3h-3z"/>
<path fill="#337cb0" d="M1188 892h9v3h-9zM1182 895h3v3h-3zM1188 895h3v3h-3zM1194 895h3v3h-3zM1182 901h9v3h-9zM1182 904h3v3h-3zM1191 904h3v3h-3zM1182 907h3v3h-3zM1158 913h6v3h-6zM1161 916h3v3h-3zM1167 916h3v3h-3zM1191 916h3v3h-3zM1185 919h3v3h-3zM1095 922h3v3h-3zM1158 922h9v3h-9zM1020 925h3v3h-3zM1086 925h3v3h-3zM1158 925h9v3h-9zM1020 928h6v3h-6zM1029 928h3v3h-3zM1161 928h6v3h-6zM1179 928h3v3h-3zM1017 931h3v3h-3zM1026 931h3v3h-3zM1035 931h3v3h-3zM1161 931h3v3h-3zM1176 931h3v3h-3zM1041 934h3v3h-3zM1149 934h3v3h-3zM1161 934h9v3h-9zM1173 934h6v3h-6zM1185 934h3v3h-3zM1011 937h3v3h-3zM1020 937h9v3h-9zM1038 937h3v3h-3zM1149 937h3v3h-3zM1173 937h3v3h-3zM1017 940h3v3h-3zM1023 940h3v3h-3zM1044 940h6v3h-6zM1185 940h3v3h-3zM1032 943h6v3h-6zM1041 943h3v3h-3zM1047 943h6v3h-6zM1149 943h3v3h-3zM1011 946h6v3h-6zM1032 946h3v3h-3zM1041 946h3v3h-3zM1047 946h6v3h-6zM1170 946h15v3h-15zM1029 949h6v3h-6zM1041 949h6v3h-6zM1050 949h3v3h-3zM1158 949h3v3h-3zM1167 949h3v3h-3zM1014 952h6v3h-6zM1023 952h3v3h-3zM1029 952h3v3h-3zM1041 952h6v3h-6zM1053 952h3v3h-3zM1155 952h3v3h-3zM1167 952h3v3h-3zM1017 955h6v3h-6zM1035 955h3v3h-3zM1041 955h6v3h-6zM1050 955h3v3h-3zM1155 955h6v3h-6zM1164 955h3v3h-3zM1026 958h6v3h-6zM1047 958h6v3h-6zM1077 958h3v3h-3zM1131 958h3v3h-3zM1173 958h3v3h-3zM1029 961h3v3h-3zM1128 961h3v3h-3zM1134 961h3v3h-3zM1155 961h6v3h-6zM1164 961h6v3h-6zM1188 961h3v3h-3zM1194 961h3v3h-3zM1026 964h3v3h-3zM1077 964h3v3h-3zM1167 964h6v3h-6zM1194 964h3v3h-3zM1044 967h3v3h-3zM1059 967h3v3h-3zM1071 967h6v3h-6zM1080 967h3v3h-3zM1155 967h6v3h-6zM1194 967h3v3h-3zM1026 970h15v3h-15zM1044 970h3v3h-3zM1059 970h3v3h-3zM1080 970h3v3h-3zM1131 970h3v3h-3zM1149 970h3v3h-3zM1155 970h3v3h-3zM1191 970h3v3h-3zM1200 970h3v3h-3zM1038 973h3v3h-3zM1044 973h3v3h-3zM1050 973h6v3h-6zM1080 973h3v3h-3zM1143 973h3v3h-3zM1149 973h3v3h-3zM1155 973h3v3h-3zM1161 973h3v3h-3zM1173 973h3v3h-3zM1194 973h3v3h-3zM1032 976h3v3h-3zM1038 976h6v3h-6zM1050 976h3v3h-3zM1062 976h3v3h-3zM1080 976h3v3h-3zM1134 976h12v3h-12zM1152 976h6v3h-6zM1170 976h6v3h-6zM1194 976h3v3h-3zM1035 979h3v3h-3zM1041 979h3v3h-3zM1053 979h3v3h-3zM1062 979h3v3h-3zM1137 979h3v3h-3zM1149 979h3v3h-3zM1167 979h3v3h-3zM1197 979h6v3h-6zM1026 982h12v3h-12zM1041 982h3v3h-3zM1047 982h9v3h-9zM1134 982h3v3h-3zM1146 982h3v3h-3zM1194 982h3v3h-3zM1203 982h3v3h-3zM1035 985h3v3h-3zM1041 985h18v3h-18zM1062 985h6v3h-6zM1026 988h9v3h-9zM1056 988h6v3h-6zM1068 988h3v3h-3zM1086 988h3v3h-3zM1149 988h3v3h-3zM1026 991h6v3h-6zM1035 991h3v3h-3zM1050 991h6v3h-6zM1059 991h3v3h-3zM1065 991h3v3h-3zM1197 991h3v3h-3zM1029 994h3v3h-3zM1038 994h3v3h-3zM1044 994h12v3h-12zM1083 994h3v3h-3zM1137 994h3v3h-3zM1161 994h6v3h-6zM1203 994h3v3h-3zM1029 997h3v3h-3zM1041 997h12v3h-12zM1056 997h6v3h-6zM1083 997h3v3h-3zM1089 997h3v3h-3zM1134 997h3v3h-3zM1164 997h3v3h-3zM1032 1000h3v3h-3zM1044 1000h6v3h-6zM1059 1000h3v3h-3zM1086 1000h3v3h-3zM1113 1000h9v3h-9zM1161 1000h3v3h-3zM1044 1003h3v3h-3zM1056 1003h3v3h-3zM1071 1003h3v3h-3zM1116 1003h12v3h-12zM1143 1003h3v3h-3zM1155 1003h3v3h-3zM1050 1006h3v3h-3zM1071 1006h3v3h-3zM1203 1006h3v3h-3zM1059 1009h3v3h-3zM1071 1009h3v3h-3zM1122 1009h9v3h-9zM1158 1009h3v3h-3zM1170 1009h3v3h-3zM1053 1012h3v3h-3zM1068 1012h3v3h-3zM1113 1012h3v3h-3zM1128 1012h3v3h-3zM1137 1012h3v3h-3zM1173 1012h3v3h-3zM1044 1015h3v3h-3zM1068 1015h9v3h-9zM1122 1015h3v3h-3zM1134 1015h3v3h-3zM1152 1015h3v3h-3zM1203 1015h3v3h-3zM1212 1015h3v3h-3zM1053 1018h3v3h-3zM1059 1018h3v3h-3zM1074 1018h3v3h-3zM1110 1018h3v3h-3zM1122 1018h6v3h-6zM1158 1018h3v3h-3zM1176 1018h3v3h-3zM1203 1018h3v3h-3zM1041 1021h3v3h-3zM1047 1021h3v3h-3zM1059 1021h6v3h-6zM1068 1021h3v3h-3zM1152 1021h3v3h-3zM1176 1021h3v3h-3zM1188 1021h3v3h-3zM1035 1024h3v3h-3zM1053 1024h6v3h-6zM1062 1024h3v3h-3zM1068 1024h3v3h-3zM1119 1024h3v3h-3zM1134 1024h3v3h-3zM1176 1024h6v3h-6zM1038 1027h3v3h-3zM1044 1027h3v3h-3zM1050 1027h6v3h-6zM1059 1027h3v3h-3zM1065 1027h3v3h-3zM1071 1027h3v3h-3zM1077 1027h3v3h-3zM1137 1027h3v3h-3zM1164 1027h3v3h-3zM1179 1027h3v3h-3zM1059 1030h3v3h-3zM1071 1030h3v3h-3zM1077 1030h3v3h-3zM1125 1030h9v3h-9zM1137 1030h3v3h-3zM1161 1030h6v3h-6zM1050 1033h3v3h-3zM1068 1033h6v3h-6zM1128 1033h3v3h-3zM1134 1033h3v3h-3zM1161 1033h3v3h-3zM1173 1033h3v3h-3zM1185 1033h6v3h-6zM1044 1036h3v3h-3zM1053 1036h3v3h-3zM1074 1036h3v3h-3zM1080 1036h3v3h-3zM1131 1036h6v3h-6zM1158 1036h3v3h-3zM1164 1036h9v3h-9zM1188 1036h6v3h-6zM1203 1036h3v3h-3zM1023 1039h6v3h-6zM1044 1039h3v3h-3zM1050 1039h3v3h-3zM1077 1039h3v3h-3zM1113 1039h3v3h-3zM1128 1039h12v3h-12zM1167 1039h3v3h-3zM1173 1039h6v3h-6zM1182 1039h3v3h-3zM1188 1039h3v3h-3zM1209 1039h3v3h-3zM1023 1042h3v3h-3zM1047 1042h3v3h-3zM1056 1042h3v3h-3zM1074 1042h6v3h-6zM1083 1042h3v3h-3zM1125 1042h6v3h-6zM1155 1042h6v3h-6zM1179 1042h3v3h-3zM1191 1042h3v3h-3zM1023 1045h3v3h-3zM1059 1045h3v3h-3zM1065 1045h6v3h-6zM1080 1045h6v3h-6zM1119 1045h3v3h-3zM1128 1045h3v3h-3zM1134 1045h6v3h-6zM1173 1045h6v3h-6zM1191 1045h3v3h-3zM1212 1045h3v3h-3zM1029 1048h3v3h-3zM1035 1048h3v3h-3zM1050 1048h3v3h-3zM1062 1048h3v3h-3zM1068 1048h3v3h-3zM1077 1048h3v3h-3zM1122 1048h3v3h-3zM1134 1048h6v3h-6zM1158 1048h3v3h-3zM1191 1048h3v3h-3zM1200 1048h3v3h-3zM1209 1048h3v3h-3zM1026 1051h3v3h-3zM1053 1051h3v3h-3zM1059 1051h3v3h-3zM1077 1051h6v3h-6zM1095 1051h6v3h-6zM1134 1051h3v3h-3zM1032 1054h3v3h-3zM1065 1054h3v3h-3zM1074 1054h3v3h-3zM1092 1054h9v3h-9zM1140 1054h3v3h-3zM1170 1054h3v3h-3zM1212 1054h3v3h-3zM1068 1057h12v3h-12zM1086 1057h3v3h-3zM1095 1057h6v3h-6zM1107 1057h3v3h-3zM1167 1057h6v3h-6zM1197 1057h3v3h-3zM1068 1060h3v3h-3zM1083 1060h3v3h-3zM1101 1060h3v3h-3zM1137 1060h3v3h-3zM1209 1060h3v3h-3zM1221 1060h6v3h-6zM1032 1063h3v3h-3zM1062 1063h6v3h-6zM1083 1063h6v3h-6zM1104 1063h3v3h-3zM1137 1063h3v3h-3zM1200 1063h3v3h-3zM1218 1063h9v3h-9zM1062 1066h3v3h-3zM1083 1066h3v3h-3zM1089 1066h3v3h-3zM1107 1066h3v3h-3zM1200 1066h3v3h-3zM1215 1066h9v3h-9zM1062 1069h12v3h-12zM1086 1069h3v3h-3zM1101 1069h3v3h-3zM1107 1069h3v3h-3zM1131 1069h6v3h-6zM1182 1069h3v3h-3zM1215 1069h3v3h-3zM1071 1072h3v3h-3zM1104 1072h3v3h-3zM1176 1072h6v3h-6zM1200 1072h6v3h-6zM1071 1075h12v3h-12zM1101 1075h3v3h-3zM1107 1075h3v3h-3zM1176 1075h6v3h-6zM1197 1075h6v3h-6zM1068 1078h3v3h-3zM1077 1078h3v3h-3zM1092 1078h9v3h-9zM1185 1078h3v3h-3zM1200 1078h3v3h-3zM1209 1078h3v3h-3zM1218 1078h3v3h-3zM1227 1078h3v3h-3zM1062 1081h3v3h-3zM1080 1081h12v3h-12zM1176 1081h3v3h-3zM1194 1081h3v3h-3zM1215 1081h3v3h-3zM1221 1081h3v3h-3zM1227 1081h3v3h-3zM1083 1084h3v3h-3zM1089 1084h3v3h-3zM1098 1084h3v3h-3zM1116 1084h3v3h-3zM1191 1084h3v3h-3zM1209 1084h3v3h-3zM1218 1084h6v3h-6zM1035 1087h3v3h-3zM1110 1087h3v3h-3zM1116 1087h3v3h-3zM1185 1087h3v3h-3zM1044 1090h3v3h-3zM1050 1090h3v3h-3zM1059 1090h3v3h-3zM1068 1090h3v3h-3zM1077 1090h3v3h-3zM1083 1090h6v3h-6zM1113 1090h3v3h-3zM1179 1090h3v3h-3zM1038 1093h15v3h-15zM1071 1093h3v3h-3zM1086 1093h3v3h-3zM1095 1093h3v3h-3zM1179 1093h9v3h-9zM1197 1093h3v3h-3zM1203 1093h3v3h-3zM1032 1096h6v3h-6zM1041 1096h9v3h-9zM1053 1096h3v3h-3zM1062 1096h6v3h-6zM1074 1096h6v3h-6zM1182 1096h6v3h-6zM1047 1099h3v3h-3zM1056 1099h12v3h-12zM1185 1099h9v3h-9zM1197 1099h3v3h-3zM1047 1102h12v3h-12zM1071 1102h3v3h-3zM1095 1102h12v3h-12zM1188 1102h3v3h-3zM1050 1105h9v3h-9zM1071 1105h9v3h-9zM1083 1105h3v3h-3zM1089 1105h3v3h-3zM1101 1105h3v3h-3zM1188 1105h3v3h-3zM1200 1105h3v3h-3zM1071 1108h3v3h-3zM1086 1108h6v3h-6zM1095 1111h3v3h-3zM1194 1111h3v3h-3zM1068 1114h3v3h-3zM1086 1114h3v3h-3zM1098 1114h3v3h-3zM1197 1114h3v3h-3zM1074 1117h3v3h-3zM1098 1117h6v3h-6zM1086 1120h3v3h-3zM1101 1120h3v3h-3zM1101 1123h3v3h-3zM1107 1123h3v3h-3zM1113 1123h3v3h-3zM1104 1126h3v3h-3zM1113 1126h3v3h-3zM1113 1129h3v3h-3zM1107 1132h3v3h-3z"/>
<path fill="#2698c6" d="M1197 895h3v3h-3zM1185 898h3v3h-3zM1194 898h6v3h-6zM1167 907h3v3h-3zM1185 907h3v3h-3zM1158 910h3v3h-3zM1164 910h3v3h-3zM1191 910h3v3h-3zM1167 913h3v3h-3zM1179 913h6v3h-6zM1188 913h6v3h-6zM1176 916h6v3h-6zM1161 919h6v3h-6zM1176 919h3v3h-3zM1173 922h3v3h-3zM1179 922h6v3h-6zM1017 925h3v3h-3zM1152 925h3v3h-3zM1182 925h3v3h-3zM1188 925h3v3h-3zM1155 928h3v3h-3zM1083 931h3v3h-3zM1026 934h6v3h-6zM1050 934h3v3h-3zM1092 934h3v3h-3zM1155 934h3v3h-3zM1029 937h3v3h-3zM1047 937h3v3h-3zM1098 937h3v3h-3zM1152 937h3v3h-3zM1170 937h3v3h-3zM1008 940h3v3h-3zM1014 940h3v3h-3zM1029 940h9v3h-9zM1041 940h3v3h-3zM1050 940h3v3h-3zM1161 940h3v3h-3zM1173 940h3v3h-3zM1008 943h3v3h-3zM1026 943h3v3h-3zM1152 943h3v3h-3zM1161 943h3v3h-3zM1020 946h3v3h-3zM1044 946h3v3h-3zM1152 946h3v3h-3zM1158 946h3v3h-3zM1167 946h3v3h-3zM1020 949h3v3h-3zM1149 949h3v3h-3zM1173 949h12v3h-12zM1035 952h3v3h-3zM1050 952h3v3h-3zM1152 952h3v3h-3zM1170 952h3v3h-3zM1014 955h3v3h-3zM1026 955h6v3h-6zM1173 955h3v3h-3zM1041 958h6v3h-6zM1074 958h3v3h-3zM1137 958h3v3h-3zM1152 958h3v3h-3zM1176 958h6v3h-6zM1047 961h3v3h-3zM1053 961h3v3h-3zM1074 961h3v3h-3zM1149 961h3v3h-3zM1047 964h3v3h-3zM1125 964h3v3h-3zM1134 964h3v3h-3zM1146 964h3v3h-3zM1176 964h3v3h-3zM1197 964h6v3h-6zM1125 967h6v3h-6zM1146 967h3v3h-3zM1161 967h3v3h-3zM1173 967h3v3h-3zM1047 970h9v3h-9zM1062 970h3v3h-3zM1083 970h3v3h-3zM1137 970h3v3h-3zM1173 970h3v3h-3zM1047 973h3v3h-3zM1062 973h3v3h-3zM1083 973h3v3h-3zM1128 973h3v3h-3zM1167 973h3v3h-3zM1161 976h3v3h-3zM1167 976h3v3h-3zM1176 976h3v3h-3zM1203 976h3v3h-3zM1074 979h3v3h-3zM1131 979h3v3h-3zM1161 979h3v3h-3zM1137 982h3v3h-3zM1143 982h3v3h-3zM1152 982h6v3h-6zM1143 985h9v3h-9zM1131 988h3v3h-3zM1137 988h3v3h-3zM1044 991h3v3h-3zM1062 991h3v3h-3zM1140 991h3v3h-3zM1152 991h3v3h-3zM1158 991h3v3h-3zM1200 991h3v3h-3zM1086 994h3v3h-3zM1092 994h3v3h-3zM1149 994h9v3h-9zM1197 994h6v3h-6zM1119 997h3v3h-3zM1152 997h6v3h-6zM1161 997h3v3h-3zM1062 1000h6v3h-6zM1089 1000h3v3h-3zM1200 1000h3v3h-3zM1086 1003h3v3h-3zM1152 1003h3v3h-3zM1161 1003h6v3h-6zM1200 1003h6v3h-6zM1041 1006h6v3h-6zM1116 1006h3v3h-3zM1137 1006h3v3h-3zM1161 1006h3v3h-3zM1167 1006h3v3h-3zM1050 1009h3v3h-3zM1065 1009h3v3h-3zM1134 1009h6v3h-6zM1167 1009h3v3h-3zM1044 1012h3v3h-3zM1149 1012h3v3h-3zM1164 1012h3v3h-3zM1209 1012h3v3h-3zM1050 1015h3v3h-3zM1065 1015h3v3h-3zM1110 1015h6v3h-6zM1131 1015h3v3h-3zM1143 1015h3v3h-3zM1164 1015h3v3h-3zM1206 1015h6v3h-6zM1062 1018h6v3h-6zM1116 1018h6v3h-6zM1140 1018h3v3h-3zM1146 1018h3v3h-3zM1173 1018h3v3h-3zM1209 1018h3v3h-3zM1116 1021h3v3h-3zM1125 1021h3v3h-3zM1173 1021h3v3h-3zM1206 1021h6v3h-6zM1050 1024h3v3h-3zM1125 1024h3v3h-3zM1146 1024h3v3h-3zM1155 1024h3v3h-3zM1167 1024h6v3h-6zM1212 1024h3v3h-3zM1128 1027h3v3h-3zM1134 1027h3v3h-3zM1146 1027h3v3h-3zM1182 1027h3v3h-3zM1035 1030h3v3h-3zM1047 1030h3v3h-3zM1056 1030h3v3h-3zM1080 1030h3v3h-3zM1173 1030h9v3h-9zM1209 1030h3v3h-3zM1215 1030h3v3h-3zM1047 1033h3v3h-3zM1059 1033h3v3h-3zM1065 1033h3v3h-3zM1155 1033h3v3h-3zM1164 1033h3v3h-3zM1182 1033h3v3h-3zM1026 1036h3v3h-3zM1059 1036h3v3h-3zM1065 1036h3v3h-3zM1146 1036h3v3h-3zM1155 1036h3v3h-3zM1029 1039h3v3h-3zM1053 1039h6v3h-6zM1062 1039h3v3h-3zM1068 1039h3v3h-3zM1119 1039h3v3h-3zM1146 1039h3v3h-3zM1170 1039h3v3h-3zM1200 1039h9v3h-9zM1212 1039h3v3h-3zM1149 1042h3v3h-3zM1161 1042h3v3h-3zM1167 1042h3v3h-3zM1173 1042h3v3h-3zM1185 1042h6v3h-6zM1209 1042h6v3h-6zM1029 1045h3v3h-3zM1050 1045h3v3h-3zM1056 1045h3v3h-3zM1140 1045h3v3h-3zM1155 1045h3v3h-3zM1167 1045h3v3h-3zM1197 1045h3v3h-3zM1203 1045h3v3h-3zM1209 1045h3v3h-3zM1047 1048h3v3h-3zM1053 1048h6v3h-6zM1080 1048h9v3h-9zM1098 1048h3v3h-3zM1131 1048h3v3h-3zM1155 1048h3v3h-3zM1167 1048h6v3h-6zM1179 1048h3v3h-3zM1185 1048h3v3h-3zM1212 1048h3v3h-3zM1062 1051h3v3h-3zM1101 1051h3v3h-3zM1158 1051h3v3h-3zM1164 1051h6v3h-6zM1179 1051h3v3h-3zM1188 1051h3v3h-3zM1194 1051h3v3h-3zM1209 1051h9v3h-9zM1035 1054h6v3h-6zM1059 1054h3v3h-3zM1077 1054h3v3h-3zM1083 1054h3v3h-3zM1122 1054h6v3h-6zM1134 1054h3v3h-3zM1161 1054h9v3h-9zM1176 1054h9v3h-9zM1194 1054h6v3h-6zM1203 1054h3v3h-3zM1215 1054h3v3h-3zM1029 1057h9v3h-9zM1059 1057h6v3h-6zM1080 1057h3v3h-3zM1101 1057h3v3h-3zM1134 1057h3v3h-3zM1161 1057h3v3h-3zM1179 1057h3v3h-3zM1185 1057h3v3h-3zM1206 1057h6v3h-6zM1218 1057h3v3h-3zM1032 1060h3v3h-3zM1095 1060h3v3h-3zM1143 1060h3v3h-3zM1176 1060h3v3h-3zM1185 1060h3v3h-3zM1191 1060h3v3h-3zM1203 1060h3v3h-3zM1041 1063h3v3h-3zM1059 1063h3v3h-3zM1080 1063h3v3h-3zM1089 1063h3v3h-3zM1107 1063h3v3h-3zM1128 1063h3v3h-3zM1134 1063h3v3h-3zM1143 1063h3v3h-3zM1185 1063h3v3h-3zM1194 1063h3v3h-3zM1203 1063h3v3h-3zM1098 1066h3v3h-3zM1131 1066h3v3h-3zM1185 1066h6v3h-6zM1080 1069h3v3h-3zM1095 1069h6v3h-6zM1173 1069h6v3h-6zM1197 1069h3v3h-3zM1203 1069h6v3h-6zM1212 1069h3v3h-3zM1218 1069h6v3h-6zM1089 1072h3v3h-3zM1116 1072h3v3h-3zM1182 1072h6v3h-6zM1206 1072h3v3h-3zM1212 1072h3v3h-3zM1227 1072h3v3h-3zM1083 1075h9v3h-9zM1110 1075h3v3h-3zM1182 1075h6v3h-6zM1203 1075h6v3h-6zM1218 1075h3v3h-3zM1230 1075h3v3h-3zM1071 1078h3v3h-3zM1113 1078h3v3h-3zM1182 1078h3v3h-3zM1191 1078h3v3h-3zM1197 1078h3v3h-3zM1212 1078h3v3h-3zM1074 1081h3v3h-3zM1092 1081h3v3h-3zM1101 1081h6v3h-6zM1116 1081h3v3h-3zM1170 1081h3v3h-3zM1206 1081h3v3h-3zM1059 1084h3v3h-3zM1065 1084h3v3h-3zM1071 1084h3v3h-3zM1173 1084h3v3h-3zM1197 1084h3v3h-3zM1071 1087h12v3h-12zM1095 1087h6v3h-6zM1182 1087h3v3h-3zM1200 1087h3v3h-3zM1206 1087h3v3h-3zM1230 1087h3v3h-3zM1035 1090h9v3h-9zM1107 1090h3v3h-3zM1176 1090h3v3h-3zM1191 1090h3v3h-3zM1056 1093h3v3h-3zM1077 1093h9v3h-9zM1194 1093h3v3h-3zM1056 1096h6v3h-6zM1080 1096h3v3h-3zM1089 1096h3v3h-3zM1101 1096h3v3h-3zM1035 1099h3v3h-3zM1083 1099h3v3h-3zM1089 1099h3v3h-3zM1101 1099h3v3h-3zM1107 1099h3v3h-3zM1182 1099h3v3h-3zM1035 1102h3v3h-3zM1092 1102h3v3h-3zM1185 1102h3v3h-3zM1194 1102h3v3h-3zM1095 1105h3v3h-3zM1104 1105h3v3h-3zM1194 1105h3v3h-3zM1074 1108h6v3h-6zM1104 1108h3v3h-3zM1194 1108h3v3h-3zM1074 1111h6v3h-6zM1083 1111h3v3h-3zM1092 1111h3v3h-3zM1101 1111h3v3h-3zM1197 1111h3v3h-3zM1083 1114h3v3h-3zM1101 1114h3v3h-3zM1077 1117h3v3h-3zM1083 1117h6v3h-6zM1107 1117h3v3h-3zM1077 1120h3v3h-3zM1095 1120h3v3h-3zM1107 1120h3v3h-3zM1110 1132h6v3h-6z"/>
<path fill="#27a2d2" d="M1182 898h3v3h-3zM1191 901h3v3h-3zM1167 910h3v3h-3zM1185 910h6v3h-6zM1176 913h3v3h-3zM1185 913h3v3h-3zM1164 916h3v3h-3zM1182 916h6v3h-6zM1173 919h3v3h-3zM1176 922h3v3h-3zM1188 922h3v3h-3zM1173 925h9v3h-9zM1086 934h3v3h-3zM1158 937h3v3h-3zM1149 940h6v3h-6zM1155 943h6v3h-6zM1155 946h3v3h-3zM1161 946h3v3h-3zM1026 952h3v3h-3zM1179 952h6v3h-6zM1035 958h3v3h-3zM1149 958h3v3h-3zM1035 961h12v3h-12zM1137 961h6v3h-6zM1161 961h3v3h-3zM1038 964h3v3h-3zM1137 964h3v3h-3zM1047 967h3v3h-3zM1164 967h6v3h-6zM1200 967h3v3h-3zM1077 970h3v3h-3zM1146 970h3v3h-3zM1164 970h3v3h-3zM1164 973h3v3h-3zM1131 976h3v3h-3zM1164 976h3v3h-3zM1137 985h3v3h-3zM1155 985h3v3h-3zM1197 985h6v3h-6zM1050 988h3v3h-3zM1146 991h3v3h-3zM1203 991h3v3h-3zM1140 994h3v3h-3zM1158 994h3v3h-3zM1062 997h3v3h-3zM1140 997h3v3h-3zM1140 1000h3v3h-3zM1164 1000h3v3h-3zM1203 1000h3v3h-3zM1089 1003h3v3h-3zM1116 1009h3v3h-3zM1161 1009h6v3h-6zM1041 1012h3v3h-3zM1062 1012h3v3h-3zM1176 1012h3v3h-3zM1200 1012h3v3h-3zM1047 1015h3v3h-3zM1116 1015h3v3h-3zM1170 1015h3v3h-3zM1200 1015h3v3h-3zM1164 1018h3v3h-3zM1212 1018h3v3h-3zM1122 1021h3v3h-3zM1122 1024h3v3h-3zM1149 1024h3v3h-3zM1164 1024h3v3h-3zM1200 1024h3v3h-3zM1209 1024h3v3h-3zM1152 1027h3v3h-3zM1158 1027h3v3h-3zM1173 1027h3v3h-3zM1134 1030h3v3h-3zM1155 1030h3v3h-3zM1185 1030h3v3h-3zM1080 1033h3v3h-3zM1062 1036h3v3h-3zM1176 1036h3v3h-3zM1122 1039h3v3h-3zM1149 1039h3v3h-3zM1197 1039h3v3h-3zM1026 1042h6v3h-6zM1065 1042h3v3h-3zM1119 1042h3v3h-3zM1194 1042h3v3h-3zM1203 1042h6v3h-6zM1062 1045h3v3h-3zM1170 1045h3v3h-3zM1182 1045h3v3h-3zM1200 1045h3v3h-3zM1128 1048h3v3h-3zM1152 1048h3v3h-3zM1086 1051h3v3h-3zM1131 1051h3v3h-3zM1173 1051h3v3h-3zM1182 1051h3v3h-3zM1206 1051h3v3h-3zM1086 1054h3v3h-3zM1143 1054h3v3h-3zM1158 1054h3v3h-3zM1209 1054h3v3h-3zM1218 1054h3v3h-3zM1164 1057h3v3h-3zM1173 1057h3v3h-3zM1191 1057h6v3h-6zM1203 1057h3v3h-3zM1029 1060h3v3h-3zM1092 1060h3v3h-3zM1131 1060h3v3h-3zM1173 1060h3v3h-3zM1179 1060h3v3h-3zM1188 1060h3v3h-3zM1206 1060h3v3h-3zM1191 1063h3v3h-3zM1206 1063h3v3h-3zM1137 1066h3v3h-3zM1179 1066h6v3h-6zM1191 1066h3v3h-3zM1203 1066h6v3h-6zM1089 1069h3v3h-3zM1185 1069h3v3h-3zM1227 1069h3v3h-3zM1194 1072h3v3h-3zM1221 1072h3v3h-3zM1113 1075h3v3h-3zM1209 1075h3v3h-3zM1188 1078h3v3h-3zM1206 1078h3v3h-3zM1179 1081h3v3h-3zM1188 1081h3v3h-3zM1209 1081h3v3h-3zM1230 1081h3v3h-3zM1200 1084h6v3h-6zM1104 1087h6v3h-6zM1188 1087h3v3h-3zM1197 1087h3v3h-3zM1104 1090h3v3h-3zM1188 1090h3v3h-3zM1194 1090h3v3h-3zM1200 1090h3v3h-3zM1098 1093h6v3h-6zM1188 1093h3v3h-3zM1050 1096h3v3h-3zM1083 1096h3v3h-3zM1188 1096h3v3h-3zM1068 1099h3v3h-3zM1038 1102h3v3h-3zM1065 1102h3v3h-3zM1197 1105h3v3h-3zM1080 1111h3v3h-3zM1104 1117h3v3h-3zM1089 1120h6v3h-6zM1110 1126h3v3h-3zM1110 1129h3v3h-3z"/>
<path fill="#2aaddb" d="M1164 907h3v3h-3zM1182 910h3v3h-3zM1164 913h3v3h-3zM1152 928h3v3h-3zM1020 934h3v3h-3zM1089 934h3v3h-3zM1050 937h3v3h-3zM1155 940h3v3h-3zM1170 940h3v3h-3zM1176 961h3v3h-3zM1053 964h6v3h-6zM1164 964h3v3h-3zM1050 967h3v3h-3zM1140 967h3v3h-3zM1176 967h3v3h-3zM1140 970h3v3h-3zM1167 970h3v3h-3zM1200 982h3v3h-3zM1146 988h3v3h-3zM1092 1000h3v3h-3zM1122 1000h3v3h-3zM1068 1006h3v3h-3zM1158 1006h3v3h-3zM1170 1018h3v3h-3zM1161 1021h3v3h-3zM1167 1021h6v3h-6zM1152 1024h3v3h-3zM1158 1024h3v3h-3zM1122 1027h3v3h-3zM1149 1027h3v3h-3zM1155 1027h3v3h-3zM1152 1030h3v3h-3zM1170 1030h3v3h-3zM1182 1030h3v3h-3zM1122 1033h3v3h-3zM1149 1033h3v3h-3zM1068 1036h3v3h-3zM1065 1039h3v3h-3zM1068 1042h3v3h-3zM1122 1042h3v3h-3zM1140 1042h3v3h-3zM1164 1042h3v3h-3zM1164 1045h3v3h-3zM1206 1045h3v3h-3zM1125 1048h3v3h-3zM1164 1048h3v3h-3zM1182 1048h3v3h-3zM1218 1048h3v3h-3zM1128 1051h3v3h-3zM1185 1051h3v3h-3zM1185 1054h9v3h-9zM1206 1054h3v3h-3zM1182 1057h3v3h-3zM1188 1057h3v3h-3zM1062 1060h3v3h-3zM1128 1060h3v3h-3zM1182 1060h3v3h-3zM1194 1060h3v3h-3zM1092 1063h3v3h-3zM1182 1063h3v3h-3zM1188 1063h3v3h-3zM1173 1066h3v3h-3zM1188 1069h9v3h-9zM1080 1072h3v3h-3zM1092 1072h3v3h-3zM1110 1072h3v3h-3zM1188 1072h6v3h-6zM1224 1072h3v3h-3zM1233 1072h3v3h-3zM1188 1075h6v3h-6zM1062 1084h3v3h-3zM1068 1084h3v3h-3zM1080 1084h3v3h-3zM1179 1084h6v3h-6zM1227 1084h3v3h-3zM1203 1090h3v3h-3zM1086 1096h3v3h-3zM1068 1102h3v3h-3zM1182 1102h3v3h-3zM1197 1108h3v3h-3zM1200 1111h3v3h-3zM1074 1114h9v3h-9zM1200 1114h3v3h-3zM1080 1117h3v3h-3z"/>
<rect x="1046.0" y="999.0" width="3.0" height="6.0" fill="#4adf35"/>
<rect x="1050.4" y="998.0" width="3.0" height="8.0" fill="#36a628"/>
<rect x="1058.0" y="996.0" width="5.0" height="9.0" fill="#52f23a"/>
<rect x="1063.0" y="1002.0" width="2.0" height="5.0" fill="#4adf35"/>
<rect x="1072.0" y="1002.0" width="4.0" height="5.0" fill="#4adf35"/>
<rect x="1068.0" y="1014.0" width="2.0" height="6.0" fill="#2a821d"/>
<rect x="1070.5" y="1014.0" width="2.5" height="6.0" fill="#eeee3f"/>
<rect x="1086.0" y="1050.0" width="3.0" height="6.0" fill="#4adf35"/>
<rect x="1087.0" y="1056.0" width="3.0" height="6.0" fill="#52f23a"/>
<rect x="1100.0" y="1040.0" width="2.0" height="3.0" fill="#52f23a"/>
<rect x="1119.0" y="1021.0" width="6.0" height="5.0" fill="#52f23a"/>
<rect x="1115.5" y="1030.0" width="5.0" height="6.0" fill="#2a821d"/>
<rect x="1126.0" y="1044.0" width="6.0" height="7.0" fill="#4adf35"/>
<rect x="1128.0" y="1050.0" width="3.0" height="3.0" fill="#52f23a"/>
<circle cx="1040.6" cy="612.6" r="4.4" fill="#2e88bc"/>
<circle cx="1119.5" cy="677.5" r="4.2" fill="#2e88bc"/>
<circle cx="1036.7" cy="691.9" r="3.6" fill="#337cb0"/>
<circle cx="1051.9" cy="705.0" r="3.6" fill="#337cb0"/>
<line x1="1053.0" y1="704.0" x2="1062.0" y2="713.0" stroke="#27a2d2" stroke-width="6.0" stroke-linecap="round"/>
<circle cx="1057.5" cy="709.0" r="3.6" fill="#42cc30"/>
<line x1="979.0" y1="777.0" x2="992.0" y2="787.0" stroke="#337cb0" stroke-width="4.0" stroke-linecap="round"/>
<line x1="926.0" y1="813.0" x2="930.0" y2="818.0" stroke="#337cb0" stroke-width="3.0" stroke-linecap="round"/>
<circle cx="946.0" cy="804.5" r="2.0" fill="#337cb0"/>
<circle cx="150.7" cy="1012.1" r="6.8" fill="#2e88bc"/>
<circle cx="166.8" cy="1043.7" r="6.6" fill="#3dbb2c"/>
<circle cx="167.3" cy="1055.0" r="6.4" fill="#36a628"/>
<circle cx="173.0" cy="1065.5" r="6.6" fill="#2aaddb"/>
<circle cx="178.2" cy="1075.5" r="6.0" fill="#2698c6"/>
<line x1="604.0" y1="1258.0" x2="630.0" y2="1273.0" stroke="#2698c6" stroke-width="4.6" stroke-linecap="round"/>
<rect x="647.5" y="1281.0" width="6.5" height="6.0" fill="#2e88bc"/>
<rect x="663.0" y="1287.0" width="5.0" height="7.0" fill="#2e88bc"/>
<circle cx="635.3" cy="1218.9" r="3.0" fill="#337cb0"/>
<circle cx="640.0" cy="1227.0" r="3.0" fill="#2e88bc"/>
<line x1="522.0" y1="1361.0" x2="537.0" y2="1372.0" stroke="#2698c6" stroke-width="5.0" stroke-linecap="round"/>
<line x1="529.0" y1="1352.0" x2="558.0" y2="1369.0" stroke="#2e88bc" stroke-width="5.0" stroke-linecap="round"/>
<rect x="546.0" y="1361.5" width="6.0" height="5.0" fill="#52f23a"/>
<line x1="551.0" y1="1385.0" x2="556.0" y2="1388.0" stroke="#2698c6" stroke-width="5.0" stroke-linecap="round"/>
<line x1="560.0" y1="1383.0" x2="572.0" y2="1390.0" stroke="#27a2d2" stroke-width="5.0" stroke-linecap="round"/>
<line x1="599.0" y1="1407.0" x2="605.0" y2="1410.0" stroke="#2e88bc" stroke-width="5.0" stroke-linecap="round"/>
<rect x="617.0" y="1412.0" width="8.0" height="7.0" fill="#337cb0"/>
<rect x="641.0" y="1420.0" width="7.0" height="7.0" fill="#337cb0"/>
<circle cx="540.3" cy="1444.4" r="5.5" fill="#2698c6"/>
<circle cx="455.8" cy="1488.9" r="6.0" fill="#36a628"/>
<circle cx="463.2" cy="1495.2" r="6.2" fill="#3dbb2c"/>
<line x1="444.0" y1="1500.0" x2="449.0" y2="1505.0" stroke="#2e88bc" stroke-width="7.0" stroke-linecap="round"/>
<circle cx="697.6" cy="1196.0" r="2.7" fill="#27a2d2"/>
<circle cx="704.0" cy="1198.7" r="2.7" fill="#27a2d2"/>
<circle cx="708.6" cy="1201.0" r="2.7" fill="#2698c6"/>
<circle cx="719.6" cy="1205.0" r="2.7" fill="#2698c6"/>
<circle cx="728.8" cy="1207.9" r="2.7" fill="#2698c6"/>
<circle cx="733.3" cy="1209.3" r="2.7" fill="#2698c6"/>
<circle cx="742.9" cy="1211.5" r="2.7" fill="#2698c6"/>
<circle cx="750.8" cy="1213.0" r="2.7" fill="#27a2d2"/>
<circle cx="760.0" cy="1214.8" r="2.7" fill="#2e88bc"/>
<circle cx="778.8" cy="1216.7" r="2.7" fill="#2698c6"/>
<rect x="846.0" y="1167.3" width="4.0" height="4.0" fill="#3a70a6"/>
<rect x="802.0" y="1174.7" width="4.0" height="4.0" fill="#3a70a6"/>
<rect x="893.6" y="1162.8" width="4.0" height="4.0" fill="#3a70a6"/>
<rect x="898.2" y="1170.0" width="4.0" height="4.0" fill="#3a70a6"/>
<rect x="913.8" y="1165.0" width="4.0" height="4.0" fill="#3a70a6"/>
<rect x="921.0" y="1184.0" width="4.0" height="4.0" fill="#3a70a6"/>
<rect x="878.0" y="1210.0" width="4.0" height="4.0" fill="#3a70a6"/>
<rect x="989.9" y="1116.0" width="4.0" height="4.0" fill="#3a70a6"/>
<rect x="996.3" y="1114.5" width="4.0" height="4.0" fill="#3a70a6"/>
<rect x="922.0" y="1142.0" width="4.0" height="4.0" fill="#3a70a6"/>
<rect x="883.0" y="1150.0" width="4.0" height="4.0" fill="#3a70a6"/>
<line x1="845.0" y1="1170.0" x2="851.0" y2="1168.0" stroke="#2698c6" stroke-width="3.5" stroke-linecap="round"/>
<circle cx="1316.3" cy="1034.6" r="5.5" fill="#2e88bc"/>
<circle cx="1311.7" cy="1062.0" r="5.5" fill="#2e88bc"/>
<circle cx="1305.3" cy="1088.7" r="6.0" fill="#2e88bc"/>
<circle cx="1323.6" cy="1110.7" r="5.2" fill="#2e88bc"/>
<circle cx="1273.2" cy="1144.6" r="8.5" fill="#2e88bc"/>
<circle cx="1386.6" cy="947.8" r="6.2" fill="#4adf35"/>
<circle cx="1386.6" cy="958.8" r="5.8" fill="#2aaddb"/>
<circle cx="1386.6" cy="997.3" r="5.0" fill="#2aaddb"/>
<circle cx="1385.7" cy="1020.3" r="5.5" fill="#2aaddb"/>
<circle cx="1316.0" cy="1035.0" r="5.5" fill="#2e88bc"/>
<circle cx="1316.0" cy="1181.0" r="6.0" fill="#2e88bc"/>
<circle cx="1311.7" cy="1062.0" r="5.5" fill="#2e88bc"/>
<circle cx="1273.8" cy="1145.0" r="7.5" fill="#2e88bc"/>
<circle cx="1360.0" cy="1140.2" r="6.8" fill="#2e88bc"/>
<circle cx="1370.0" cy="1153.0" r="6.5" fill="#2e88bc"/>
<circle cx="1372.0" cy="1165.0" r="6.0" fill="#2e88bc"/>
<circle cx="1409.5" cy="1165.0" r="6.8" fill="#2e88bc"/>
<circle cx="1496.6" cy="1137.6" r="8.5" fill="#2698c6"/>
<ellipse cx="1496.6" cy="1137.6" rx="10.5" ry="7.0" fill="#2698c6"/>
<line x1="1312.0" y1="917.0" x2="1318.0" y2="980.0" stroke="#2e88bc" stroke-width="10.5" stroke-linecap="round"/>
<line x1="1318.0" y1="997.0" x2="1318.0" y2="1008.0" stroke="#2e88bc" stroke-width="10.5" stroke-linecap="round"/>
<circle cx="1311.0" cy="898.0" r="5.5" fill="#2e88bc"/>
<line x1="1255.0" y1="882.0" x2="1262.0" y2="912.0" stroke="#2e88bc" stroke-width="8.0" stroke-linecap="round"/>
<line x1="1280.0" y1="885.0" x2="1285.0" y2="905.0" stroke="#2698c6" stroke-width="8.0" stroke-linecap="round"/>
<line x1="1226.0" y1="890.0" x2="1230.0" y2="900.0" stroke="#2e88bc" stroke-width="6.0" stroke-linecap="round"/>
<line x1="1296.0" y1="880.0" x2="1305.0" y2="884.0" stroke="#2e88bc" stroke-width="5.0" stroke-linecap="round"/>
<line x1="1312.0" y1="885.0" x2="1312.0" y2="890.0" stroke="#2e88bc" stroke-width="6.0" stroke-linecap="round"/>
<circle cx="1316.3" cy="1035.0" r="5.5" fill="#2e88bc"/>
<circle cx="1293.4" cy="1160.0" r="7.0" fill="#2e88bc"/>
<circle cx="1300.0" cy="1172.0" r="10.0" fill="#2698c6"/>
<circle cx="1312.0" cy="1168.0" r="8.0" fill="#27a2d2"/>
<circle cx="1309.0" cy="1183.0" r="7.0" fill="#27a2d2"/>
<circle cx="1316.3" cy="908.0" r="5.0" fill="#2e88bc"/>
<circle cx="1316.3" cy="1034.6" r="5.5" fill="#2e88bc"/>
<circle cx="1311.7" cy="1062.1" r="5.5" fill="#2e88bc"/>
<circle cx="1305.3" cy="1088.7" r="5.5" fill="#2e88bc"/>
<circle cx="1197.1" cy="1107.0" r="5.0" fill="#2e88bc"/>
<circle cx="1273.2" cy="1144.6" r="8.0" fill="#2e88bc"/>
<circle cx="1293.3" cy="1168.0" r="7.0" fill="#2e88bc"/>
<circle cx="1325.0" cy="1175.0" r="14.0" fill="#2698c6"/>
<circle cx="1310.0" cy="1185.0" r="9.0" fill="#27a2d2"/>
<circle cx="1027.5" cy="1160.0" r="6.0" fill="#337cb0"/>
<circle cx="1027.5" cy="1178.5" r="5.0" fill="#337cb0"/>
<circle cx="1045.8" cy="1185.9" r="4.5" fill="#337cb0"/>
<circle cx="1065.0" cy="1215.2" r="3.5" fill="#337cb0"/>
<circle cx="1071.5" cy="1224.4" r="4.0" fill="#337cb0"/>
<polyline class="g" points="21.0,232.3 34.0,221.0"/>
<polyline class="g" points="192.5,221.0 245.7,257.1"/>
<polyline class="g" points="317.7,221.0 317.7,230.4 246.2,232.3 246.2,257.1 247.5,295.6 248.8,361.9 148.8,364.5 150.6,502.0"/>
<polyline class="g" points="247.5,295.6 366.7,296.4 366.7,286.5 375.9,292.5 386.3,286.7 392.9,289.9 408.6,294.3 421.7,300.4 425.6,306.9 424.3,318.7 429.5,329.2 445.3,338.3 461.0,344.9 479.3,347.5 489.8,351.4"/>
<polyline class="g" points="136.2,571.4 135.7,503.3 150.6,502.0 203.0,501.3 203.0,492.9 260.6,492.9 260.6,497.6 281.6,497.6 282.3,555.7 332.6,557.0 354.9,555.2 370.6,567.5"/>
<polyline class="g" points="1470.0,496.0 1475.5,493.3 1488.3,490.5 1497.5,489.6 1510.3,499.7 1521.3,492.3 1530.5,485.0 1537.8,494.2 1538.8,483.2 1572.7,490.5"/>
<polyline class="g" points="1455.3,594.1 1466.3,596.8 1468.2,607.8 1475.5,615.2 1488.3,602.3 1497.5,598.7 1506.7,609.7 1519.5,617.0 1530.5,618.8 1541.5,620.7 1550.7,611.5 1559.8,604.2 1572.7,613.3"/>
<polyline class="g" points="1426.0,624.3 1427.8,642.7 1423.3,666.5 1462.7,767.3"/>
<polyline class="g" points="1572.7,670.2 1543.3,685.8 1535.1,693.1 1499.3,723.3 1505.8,733.4 1492.0,747.2 1490.2,754.5 1462.7,767.3 1449.8,775.6 1444.3,760.0 1434.3,762.8 1441.6,796.7 1433.3,800.3 1423.3,785.7 1415.0,778.3 1405.8,778.3 1394.8,774.7 1389.3,778.3 1394.8,783.8 1394.8,796.7 1385.7,804.0 1367.3,816.8 1360.0,807.7 1354.5,802.2 1327.9,800.3 1312.3,799.4 1303.2,787.5 1303.2,780.2 1295.8,776.5 1296.8,771.0"/>
<polyline class="g" points="1477.3,761.8 1490.2,793.0 1499.3,815.0 1512.2,815.0 1514.9,826.0 1508.5,848.0 1501.2,859.0 1506.7,875.5"/>
<polyline class="g" points="1327.9,800.3 1328.8,844.3 1316.9,844.3 1315.1,875.5 1305.0,879.2 1297.7,884.7 1296.8,890.0"/>
<polyline class="g" points="1328.8,844.3 1338.0,851.7 1363.7,890.0"/>
<polyline class="g" points="1443.4,837.9 1478.3,839.8 1475.5,849.8 1481.0,860.8 1479.2,868.2 1484.7,877.3 1554.3,863.6 1556.2,875.5 1565.3,890.0"/>
<polyline class="g" points="1443.4,837.9 1449.8,855.3 1407.7,867.3 1412.3,875.5 1407.7,882.8 1411.3,890.0"/>
<polyline class="g" points="1109.0,928.3 1107.2,939.3 1118.2,946.7 1117.3,966.8 1110.8,972.3 1113.6,977.8 1134.7,979.7 1136.5,985.2 1149.3,981.5 1154.8,990.7 1156.7,1001.7 1169.5,1005.3 1167.7,1029.2 1153.0,1031.0 1149.3,1040.0"/>
<polyline class="g" points="1250.0,933.8 1204.3,963.2 1199.8,955.8 1178.7,968.7 1185.1,977.8 1162.2,992.5 1156.7,1001.7"/>
<polyline class="g" points="1099.8,1036.5 1118.2,1031.0 1120.0,1014.5 1127.3,1021.8 1132.8,1018.2 1140.2,1031.0 1149.3,1040.0"/>
<polyline class="g" points="1169.5,1016.3 1204.3,1020.0 1204.3,1040.0"/>
<polyline class="g" points="1180.5,884.3 1197.0,880.7 1209.8,884.3 1211.7,891.7 1206.2,899.0 1208.0,906.3 1222.7,913.7 1233.7,908.2 1250.0,913.7"/>
<polyline class="g" points="627.0,924.7 623.3,946.7 619.7,957.7 608.7,970.5 606.8,977.8 594.0,987.0 584.8,990.7 579.3,999.8 571.1,999.8 568.3,987.0 572.9,984.3 551.8,981.5 551.8,974.2 550.0,974.2"/>
<polyline class="g" points="668.3,938.4 678.3,946.7 674.7,954.0 652.7,965.0 638.0,977.8 623.3,994.3 595.8,1014.5 586.7,1021.8 564.7,1040.0"/>
<polyline class="g" points="763.6,972.3 749.8,983.3 738.8,987.0 715.0,1005.3 711.3,1016.3 691.2,1034.7 689.3,1040.0"/>
<polyline class="g" points="200.0,845.8 202.8,855.0 209.2,856.8 210.1,866.0 216.5,878.8 207.3,889.8 203.7,902.7 200.0,908.2"/>
<polyline class="g" points="330.2,878.8 348.5,903.6 340.3,903.6 339.3,919.2 346.7,926.5 372.3,932.0 383.3,928.3 398.0,919.2 410.8,916.4 432.8,915.5 451.2,918.3 478.7,929.3"/>
<polyline class="g" points="502.5,897.2 504.3,902.7 519.9,899.0 516.3,917.3 493.3,917.3 478.7,929.3 492.4,946.7 509.8,953.1 522.7,948.5 536.4,945.8 540.1,950.3 535.5,974.2 552.0,974.7"/>
<polyline class="g" points="492.4,946.7 476.8,968.7 462.2,977.8 460.3,987.0 443.8,1001.7 429.2,1009.0 412.7,1015.4 392.5,1025.5 376.0,1034.7 366.8,1040.0"/>
<polyline class="g" points="339.3,915.5 319.2,919.2 302.7,924.7 293.5,928.3 294.4,941.2 288.0,944.8 269.7,954.0 258.7,958.6 247.7,954.0 245.8,944.8 233.9,941.2 234.8,926.5"/>
<polyline class="g" points="247.7,954.0 242.2,961.3 236.7,988.8"/>
<polyline class="g" points="200.0,1009.0 218.3,998.0 236.7,988.8 244.0,987.0 255.0,996.2 259.6,1005.3 258.7,1027.3 275.2,1021.8 277.0,1029.2 289.8,1031.0 291.7,1038.3 300.8,1040.0"/>
<polyline class="g" points="21.1,717.5 69.7,717.1 69.7,722.6 84.7,722.6 84.7,739.1"/>
<polyline class="g" points="79.8,739.1 145.8,738.0 144.8,709.3 155.8,706.5 162.3,711.1 185.2,690.0 224.0,650.0"/>
<polyline class="g" points="79.8,739.1 80.3,750.5 41.3,790.8 40.3,779.5 25.7,779.5 25.7,795.4 21.1,796.0"/>
<polyline class="g" points="80.3,750.5 124.7,792.7 81.6,837.6 52.3,869.7 46.8,864.2 33.9,878.8 37.6,881.6 21.1,899.9"/>
<polyline class="g" points="81.6,837.6 104.5,859.6 99.9,861.4 111.8,870.6 115.5,882.5 121.0,884.3 125.6,880.7 143.0,898.1 176.0,928.3 171.4,937.5 172.3,943.9 165.0,944.8"/>
<polyline class="g" points="143.0,898.1 99.9,942.6 82.5,924.7 69.7,938.4 21.1,939.7"/>
<polyline class="g" points="145.8,738.0 146.1,814.7 152.2,822.9 161.3,825.7 173.3,822.9 176.0,830.3 190.7,842.2 199.8,847.7 203.5,856.8 209.9,856.8 209.0,866.0 216.3,878.8 210.8,886.2 205.3,891.7 204.4,905.4"/>
<polyline class="g" points="286.9,1030.0 289.7,1039.2 300.7,1040.1 302.5,1047.4 324.5,1048.3 322.7,1072.2 342.8,1074.0 348.3,1073.6"/>
<polyline class="g" points="117.3,1191.3 122.8,1192.3 126.5,1201.4 131.1,1198.7 130.2,1191.3 135.7,1184.0 144.8,1187.7 144.8,1192.3 155.8,1189.5 165.9,1183.1 188.8,1180.3 195.3,1166.6 201.7,1166.6 216.3,1154.7 224.6,1151.0 231.0,1149.2 240.2,1140.0 251.2,1130.8 269.5,1119.8 286.0,1114.3 301.6,1112.5 311.7,1119.8 330.0,1117.1 350.0,1107.0"/>
<polyline class="g" points="135.7,1184.0 134.8,1187.7 132.0,1195.0 135.7,1200.5 135.7,1213.3 131.1,1216.1 143.0,1222.5 155.8,1228.9 168.7,1222.5 185.2,1218.8 186.1,1210.6 197.1,1206.4 212.7,1239.0 214.5,1252.8 220.0,1259.2 229.2,1261.9 233.8,1267.4 228.3,1273.8 245.7,1295.8"/>
<polyline class="g" points="301.6,1112.5 341.9,1162.0 330.9,1171.2 346.5,1193.2 350.0,1191.3"/>
<polyline class="g" points="346.5,1193.2 326.3,1213.3 313.5,1226.2 304.3,1237.2 293.3,1239.0 278.7,1251.8 267.7,1266.5 262.2,1277.5 245.7,1295.8 231.9,1316.0 220.0,1323.3 205.3,1332.5 190.7,1338.0 176.0,1356.3 165.0,1374.7 163.2,1380.0"/>
<polyline class="g" points="313.5,1226.2 348.3,1275.7 311.7,1310.5 292.4,1325.2 291.5,1330.7 297.0,1345.3 280.5,1369.2 282.3,1380.0"/>
<polyline class="g" points="105.8,1389.9 131.0,1395.1 131.0,1402.5 147.7,1407.3 173.9,1410.9 232.6,1448.6 266.1,1480.0"/>
<polyline class="g" points="167.6,1370.0 165.5,1378.4 155.1,1391.0 147.7,1407.3"/>
<polyline class="g" points="278.7,1370.0 282.9,1380.5 291.3,1389.9 303.8,1387.8 317.4,1375.2 354.1,1405.6"/>
<polyline class="g" points="400.0,1372.1 377.2,1378.4 360.4,1385.7 354.1,1393.0 354.1,1405.6 343.6,1418.2 333.2,1427.6 326.9,1437.1 310.1,1438.1 295.4,1439.1 289.2,1453.8 278.7,1462.2 266.1,1480.0 245.2,1493.6 230.5,1512.5 226.3,1527.2 215.8,1539.7 207.4,1552.3 206.4,1558.6 192.8,1577.4 188.6,1579.5 191.7,1587.9 184.4,1604.7 173.9,1621.4 169.7,1627.7 155.1,1648.7 134.1,1663.3 125.7,1680.1 106.9,1701.1 73.3,1730.4 48.2,1745.1 21.0,1753.4"/>
<polyline class="g" points="78.6,1493.6 82.8,1499.9 90.1,1489.4 102.7,1486.3 109.0,1494.7 137.2,1497.8 139.3,1489.4 162.4,1493.6 165.5,1491.5 209.5,1504.1 201.2,1516.7 190.7,1527.2 186.5,1543.9 190.7,1553.3 206.4,1550.2"/>
<polyline class="g" points="266.1,1480.0 278.7,1481.1 287.1,1487.3 287.1,1496.8 301.7,1504.1 312.2,1520.9 326.9,1530.3 337.3,1543.9 354.1,1550.2 366.7,1564.9 379.3,1585.8 389.7,1600.5 400.0,1608.9"/>
<polyline class="g" points="169.7,1627.7 190.7,1629.8 186.5,1652.9 213.7,1659.2 228.4,1667.5 234.7,1688.5 236.8,1709.4 243.1,1730.4 230.5,1745.1 226.3,1757.6"/>
<polyline class="g" points="142.5,1757.6 167.6,1753.4 188.6,1730.4 209.5,1701.1"/>
<polyline class="g" points="385.0,1030.0 366.7,1039.2 349.3,1051.1 357.5,1058.4 370.3,1066.7 383.2,1065.8 394.2,1062.1 410.7,1056.6 416.2,1059.3 427.2,1058.4 435.4,1061.2 414.3,1075.8 417.1,1088.7 429.9,1086.8 435.4,1104.3 443.7,1101.5 445.5,1108.8 461.1,1100.6 466.6,1123.5"/>
<polyline class="g" points="394.2,1062.1 391.4,1066.7 397.8,1074.0 394.2,1086.8 383.2,1086.8 372.2,1096.0 361.2,1102.4 350.2,1105.2"/>
<polyline class="g" points="344.7,1073.1 348.3,1103.3"/>
<polyline class="g" points="581.2,1030.0 564.7,1040.1 550.0,1057.5 537.2,1077.7 524.3,1096.0 510.6,1108.8 498.7,1116.2 484.9,1119.8 466.6,1123.5 441.8,1129.9 430.8,1140.0 421.7,1149.2 408.8,1158.3 392.3,1169.3 372.2,1180.3 348.3,1193.2"/>
<polyline class="g" points="510.6,1108.8 556.4,1166.6 542.7,1175.8 563.8,1206.4 539.9,1228.9 557.3,1245.4 547.3,1260.1 551.8,1263.8 554.6,1275.7 548.2,1284.8 537.2,1291.3 548.2,1301.3 561.9,1323.3"/>
<polyline class="g" points="680.0,1059.3 669.2,1074.0 649.0,1088.7 638.0,1099.7 632.5,1118.0 623.3,1132.7 619.7,1147.3 626.1,1163.8 623.3,1176.7 616.0,1191.3 616.0,1206.0 606.8,1218.8 594.0,1231.7 577.5,1240.8 561.0,1251.8 551.8,1263.8"/>
<polyline class="g" points="680.0,1294.0 665.5,1306.8 650.8,1314.2 623.3,1318.8 592.2,1319.7 561.9,1323.3 540.8,1330.7 513.3,1344.4 485.8,1352.7 462.0,1361.5 440.0,1365.5 412.5,1364.6 410.7,1360.0 403.3,1365.5 390.5,1372.8 372.2,1380.0"/>
<polyline class="g" points="699.4,1030.0 692.1,1039.2 687.5,1052.0 674.7,1066.7 660.0,1079.5"/>
<polyline class="g" points="861.7,1067.6 854.3,1092.3 840.6,1112.5 821.3,1138.2 810.3,1154.7 804.8,1167.5 795.7,1184.0 782.8,1199.6 757.2,1220.7 733.3,1244.5 705.8,1268.3 681.1,1290.3 660.0,1308.7"/>
<polyline class="g" points="861.7,1067.6 908.4,1098.8 921.3,1078.0 927.7,1083.2 931.3,1081.3 946.9,1097.5 951.5,1085.0 953.3,1078.6 964.3,1077.7 971.7,1069.4 971.7,1060.3 977.2,1052.0 980.8,1041.0 1004.7,1048.3 1010.0,1061.2"/>
<polyline class="g" points="782.8,1199.6 806.7,1208.8 817.7,1207.8 837.8,1210.6 838.8,1206.9 855.3,1208.8 856.2,1218.8 876.3,1221.6 885.5,1234.4 891.9,1235.3 890.1,1243.6 895.6,1252.8 889.2,1260.1 884.6,1266.5"/>
<polyline class="g" points="884.6,1266.5 900.2,1264.7 916.7,1268.3 929.5,1279.3 937.8,1295.8 935.0,1319.7 938.7,1330.7 912.1,1356.3 924.0,1360.0 924.9,1372.8 933.2,1380.0"/>
<polyline class="g" points="884.6,1266.5 880.0,1277.5 869.0,1286.7 869.0,1299.5 859.8,1305.0 848.8,1310.5 846.1,1323.3 848.8,1330.7 844.3,1336.2 855.3,1346.3 847.0,1354.5 836.0,1367.3 841.5,1380.0"/>
<polyline class="g" points="681.1,1290.3 691.2,1310.5 693.9,1316.0 693.0,1321.5 697.6,1338.0 693.9,1356.3 693.9,1380.0"/>
<polyline class="g" points="1000.0,1049.3 1005.5,1050.2 1009.2,1062.1 1027.5,1063.0 1045.8,1074.9 1055.0,1088.7 1067.8,1089.6 1075.2,1085.0 1088.0,1103.3 1086.2,1121.7 1083.4,1127.2 1102.7,1107.0"/>
<polyline class="g" points="1201.7,1030.0 1201.7,1039.2 1196.2,1039.2 1162.3,1100.6 1178.8,1102.4 1183.3,1121.7 1185.2,1132.7 1182.4,1147.3 1177.8,1156.5 1173.3,1158.3"/>
<polyline class="g" points="1201.7,1039.2 1246.6,1046.5 1253.9,1048.3 1267.7,1031.8 1295.2,1032.8 1297.0,1030.0"/>
<polyline class="g" points="1246.6,1046.5 1258.5,1092.3"/>
<polyline class="g" points="1355.4,880.0 1378.3,907.5 1407.7,914.8 1413.2,891.0 1409.5,880.0"/>
<polyline class="g" points="1378.3,907.5 1381.1,940.5 1389.3,953.3 1396.7,958.8 1394.8,971.7 1398.5,982.7 1394.8,990.0"/>
<polyline class="g" points="1250.0,935.0 1261.0,938.7 1270.2,953.3 1286.7,957.0 1279.3,971.7 1303.2,991.8 1332.5,991.8 1343.5,1004.7 1350.8,1023.0 1360.0,1041.3"/>
<polyline class="g" points="1303.2,991.8 1305.0,1019.3 1297.7,1019.3 1295.8,1032.2 1268.3,1034.0 1253.7,1046.8 1250.0,1045.0"/>
<polyline class="g" points="1250.0,916.7 1270.2,920.3 1272.0,903.8 1286.7,891.0 1301.3,885.5 1314.2,880.0"/>
<polyline class="g" points="1250.0,1056.0 1257.3,1087.2"/>
<polyline class="g" points="1554.3,880.0 1565.3,894.7 1565.3,916.7"/>
<polyline class="g" points="846.7,1360.0 836.2,1370.5 840.1,1383.6 837.5,1399.3 845.4,1422.9 850.6,1446.4 859.8,1462.1 865.0,1470.0 867.6,1480.5 872.9,1484.4 866.3,1493.6 870.2,1498.8"/>
<polyline class="g" points="922.6,1360.0 925.2,1373.1 946.2,1386.2 961.9,1386.2"/>
<polyline class="g" points="700.0,1546.0 707.9,1546.0 717.0,1549.9 739.3,1540.7 761.6,1531.6 768.1,1532.9 786.4,1531.6 791.7,1553.8 790.4,1569.5 791.7,1587.9 787.7,1598.3 790.4,1608.8 787.7,1619.3 793.0,1629.8"/>
<polyline class="g" points="471.5,1360.0 440.1,1365.2 412.9,1364.2 410.8,1360.0"/>
<polyline class="g" points="412.9,1364.2 402.4,1368.4 387.7,1375.7 362.6,1383.0 352.1,1393.5 354.2,1406.1 350.0,1412.4"/>
<polyline class="g" points="693.6,1360.0 695.7,1387.2 689.4,1406.1 676.9,1427.1 658.0,1448.0 639.2,1469.0 620.3,1481.5 605.6,1498.3 593.1,1517.2 584.7,1531.8 586.8,1548.6 577.3,1561.2 573.2,1573.7 579.4,1582.1 587.8,1588.4 588.9,1601.0 593.1,1615.6 593.1,1632.4 595.2,1651.3 586.8,1661.7 584.7,1674.3 580.5,1691.1 567.9,1693.2 567.9,1703.6 563.7,1720.4 553.2,1722.5 540.7,1728.8 544.9,1743.4 542.8,1753.9 537.5,1758.1"/>
<polyline class="g" points="593.1,1521.3 603.5,1523.4 618.2,1540.2 630.8,1540.2 660.1,1546.5 706.2,1545.4 716.7,1549.6 739.7,1540.2 750.0,1538.1"/>
<polyline class="g" points="350.0,1548.6 366.8,1565.3 387.7,1598.9 402.4,1613.5 412.9,1614.6 421.2,1621.9 440.1,1627.2 461.1,1642.9 475.7,1650.2 484.1,1665.9 486.2,1676.4 496.7,1691.1 505.1,1703.6 517.6,1707.8 528.1,1716.2 540.7,1705.7 557.4,1708.9 563.7,1720.4"/>
<polyline class="g" points="427.5,1758.1 438.0,1751.8 448.5,1741.4 463.1,1743.4 473.6,1749.7 477.8,1758.1"/>
<path class="lg" d="M1501.2 221.0C1498.1 225.3 1496.6 224.1 1492.0 233.8C1487.4 243.6 1488.7 239.3 1487.4 250.3C1486.2 261.3 1486.2 257.1 1488.3 266.8C1490.5 276.6 1493.2 269.9 1493.8 279.7C1494.5 289.4 1486.5 291.0 1490.2 296.2C1493.8 301.4 1498.1 293.4 1504.8 295.3C1511.6 297.1 1508.5 299.5 1510.3 301.7"/>
<path class="lg" d="M1537.8 320.0C1542.1 317.6 1545.2 318.8 1550.7 312.7C1556.2 306.6 1547.0 305.9 1554.3 301.7C1561.7 297.4 1566.6 300.4 1572.7 299.8"/>
<path class="lg" d="M900.0 961.3C903.7 965.0 902.4 966.5 911.0 972.3C919.6 978.2 916.5 977.5 925.7 978.8C934.8 980.0 934.2 976.9 938.5 976.0"/>
<path class="lg" d="M964.2 910.0C972.1 907.0 975.2 908.2 988.0 900.8C1000.8 893.5 994.1 895.0 1002.7 888.0C1011.2 881.0 1005.1 882.2 1013.7 879.8C1022.2 877.3 1023.5 880.4 1028.3 880.7"/>
<path class="lg" d="M645.3 917.3C650.2 921.6 650.2 922.8 660.0 930.2C669.8 937.5 663.7 934.5 674.7 939.3C685.7 944.2 682.0 942.7 693.0 944.8C704.0 947.0 702.8 945.5 707.7 945.8"/>
<path class="lg" d="M720.0 938.8C726.3 935.9 726.3 935.5 738.8 930.0C751.3 924.6 751.3 925.0 757.6 922.5"/>
<path class="lg" d="M833.9 937.6C837.7 936.3 833.9 936.7 845.2 933.8C856.5 930.9 854.4 928.0 867.7 928.8C881.1 929.6 876.1 929.2 885.3 936.3C894.4 943.4 888.6 940.5 895.3 950.1C902.0 959.7 896.9 956.3 905.3 965.1C913.6 973.9 911.1 972.2 920.3 976.4C929.5 980.5 926.2 979.7 932.8 977.6C939.5 975.5 937.8 972.6 940.3 970.1"/>
<polyline class="w" style="stroke-width:7.0" points="21.3,556.4 24.3,555.5 27.8,553.5 30.1,551.7 35.0,553.2 37.3,553.4 38.7,555.9 41.6,558.9 43.0,559.5 46.5,562.1 50.9,559.7 54.2,558.6 57.0,557.1 58.5,557.4 62.0,553.8 66.8,554.2 68.1,552.2 71.3,549.1 72.7,547.8 76.5,546.6 80.7,544.1 82.9,544.2 85.4,545.3 87.5,549.6 87.8,553.6 91.2,556.5 94.5,558.7 95.4,560.6 99.2,561.4 102.8,563.2 105.1,567.2 105.9,568.6 109.6,569.0 111.7,568.1 115.4,570.7 118.6,569.8 123.8,569.9 125.2,568.1 128.4,569.6 130.3,570.5 135.0,572.2 135.5,574.0 138.1,574.2 141.7,577.9 142.8,580.2 144.8,581.1 145.5,583.6 146.3,586.3 149.8,591.2 150.7,590.9 155.7,594.6 156.9,596.0 160.2,599.6 162.3,600.0 164.7,602.5 167.7,601.5 172.5,601.8 173.2,606.9 173.3,610.2 172.5,613.0 174.5,616.9 177.3,616.8 182.3,618.3 185.7,617.3 187.9,618.2 191.1,617.2 193.5,617.6 196.2,621.9 199.9,623.4 200.1,625.4 200.5,628.4 203.5,633.2 203.1,636.7 205.0,640.1 205.7,643.5 206.5,645.4 208.9,645.1 213.6,644.6 215.8,643.8 220.2,641.9 221.3,642.3 223.6,644.6 225.3,647.9 226.8,651.3 227.0,654.6 229.3,658.6 230.1,661.5 233.6,663.0 236.4,665.5 237.9,665.9 239.8,668.2 244.9,668.5 246.9,670.4 249.5,670.1 253.5,672.7 257.0,673.2 260.0,675.2 262.3,676.8 261.3,678.3 262.1,683.6 261.0,687.6 262.7,688.7 265.2,691.1 268.2,691.5 272.8,692.8 275.7,694.4 279.6,697.8 282.8,701.3 283.8,704.7 285.0,706.2 287.6,709.2 288.8,712.9 291.2,713.6 293.5,716.3 295.5,718.9 298.8,721.4 303.4,720.1 307.2,721.6 308.8,721.6 312.3,724.7 316.1,727.8 317.6,728.1 321.4,729.8 321.8,734.1 324.7,735.8"/>
<path class="w" d="M543.0 221.8C546.9 223.5 547.3 222.2 554.8 227.0C562.2 231.8 559.6 227.9 565.2 236.2C570.9 244.5 570.9 239.7 571.8 251.9C572.7 264.1 570.9 261.5 567.9 272.9C564.8 284.2 567.4 275.9 562.6 286.0C557.8 296.0 561.3 298.6 553.5 303.0C545.6 307.3 545.6 295.1 539.1 299.1C532.5 303.0 542.5 307.8 533.8 314.8C525.1 321.8 522.0 314.3 512.9 320.0C503.7 325.7 503.7 326.1 506.3 331.8C508.9 337.5 521.2 331.4 520.7 337.0C520.3 342.7 515.5 343.1 505.0 348.8C494.5 354.5 491.5 347.1 489.3 354.1C487.1 361.0 496.3 361.0 498.5 369.8C500.6 378.5 503.7 371.5 495.8 380.2C488.0 389.0 478.8 386.4 474.9 396.0C471.0 405.6 487.1 399.5 484.0 409.1C481.0 418.7 467.5 416.9 465.7 424.8C464.0 432.6 473.6 427.0 478.8 432.6C484.0 438.3 485.8 437.4 481.4 441.8C477.1 446.2 476.2 440.1 465.7 445.7C455.2 451.4 456.8 453.6 450.0 458.8C443.2 464.1 455.6 456.2 445.3 461.4C434.9 466.7 433.9 464.9 419.1 474.5C404.2 484.1 411.2 482.4 400.7 490.3C390.3 498.1 385.9 490.3 387.6 498.1C389.4 506.0 406.0 504.2 406.0 513.8C406.0 523.4 393.7 514.7 387.6 526.9C381.5 539.1 390.3 539.1 387.6 550.5C385.0 561.8 385.9 553.1 379.8 561.0C373.7 568.8 368.4 563.6 369.3 574.1C370.2 584.5 383.3 584.5 382.4 592.4C381.5 600.3 370.2 588.9 366.7 597.6C363.2 606.4 368.4 603.7 371.9 618.6C375.4 633.4 374.5 628.6 377.2 642.2C379.8 655.7 385.9 652.2 379.8 659.2C373.7 666.2 364.9 651.3 358.8 663.1C352.7 674.9 364.9 682.3 361.4 694.5C358.0 706.8 351.8 694.6 348.3 699.8C344.9 704.9 354.0 705.3 351.0 710.0C348.0 714.7 345.7 710.1 339.3 713.8C333.0 717.6 331.4 716.3 332.0 721.2C332.6 726.1 340.0 723.6 341.2 728.5C342.4 733.4 341.2 733.4 335.7 735.8C330.2 738.3 333.2 732.8 324.7 735.8C316.1 738.9 321.0 738.3 310.0 745.0C299.0 751.7 298.4 749.9 291.7 756.0C284.9 762.1 288.0 757.2 289.8 763.3C291.7 769.4 297.2 768.2 297.2 774.3C297.2 780.4 295.9 779.8 289.8 781.7C283.7 783.5 280.1 776.2 278.8 779.8C277.6 783.5 284.9 785.9 286.2 792.7C287.4 799.4 288.0 799.4 282.5 800.0C277.0 800.6 274.6 793.3 269.7 794.5C264.8 795.7 267.2 796.9 267.8 803.7C268.4 810.4 273.9 809.8 271.5 814.7C269.1 819.6 269.1 815.9 260.5 818.3C251.9 820.8 253.8 817.1 245.8 822.0C237.9 826.9 239.7 826.3 236.7 833.0C233.6 839.7 233.0 836.7 236.7 842.2C240.3 847.7 240.9 844.6 247.7 849.5C254.4 854.4 253.2 850.7 256.8 856.8C260.5 863.0 259.9 859.9 258.7 867.8C257.4 875.8 255.6 873.3 253.2 880.7C250.7 888.0 251.9 886.8 251.3 889.8"/>
<path class="w" d="M251.3 889.8C246.4 893.5 236.7 901.5 236.7 900.8C236.6 900.2 251.8 888.0 251.2 888.0C250.5 888.0 246.3 894.7 234.7 900.8C223.1 907.0 226.7 903.3 216.3 906.3C206.0 909.4 210.2 905.7 203.5 910.0C196.8 914.3 201.1 912.5 196.2 919.2C191.3 925.9 193.7 924.1 188.8 930.2C184.0 936.3 186.4 932.6 181.5 937.5C176.6 942.4 177.8 939.3 174.2 944.8C170.5 950.3 171.1 946.1 170.5 954.0C169.9 962.0 170.5 961.3 172.3 968.7C174.2 976.0 176.6 969.9 176.0 976.0C175.4 982.1 170.5 980.9 170.5 987.0C170.5 993.1 171.1 989.5 176.0 994.3C180.9 999.2 180.3 996.2 185.2 1001.7C190.1 1007.2 187.9 1002.9 190.7 1010.8C193.4 1018.8 191.9 1015.8 193.4 1025.5C195.0 1035.2 195.0 1038.5 195.3 1040.0C195.6 1041.5 194.2 1027.2 194.3 1030.0C194.5 1032.8 196.4 1037.3 195.8 1048.3C195.2 1059.3 196.1 1052.6 192.5 1063.0C189.0 1073.4 187.9 1069.7 185.2 1079.5C182.4 1089.3 183.3 1084.4 184.3 1092.3C185.2 1100.3 185.8 1096.6 187.9 1103.3C190.1 1110.1 191.6 1105.2 190.7 1112.5C189.8 1119.8 188.5 1118.0 185.2 1125.3C181.8 1132.7 182.1 1128.4 180.6 1134.5C179.1 1140.6 184.0 1138.2 180.6 1143.7C177.2 1149.2 176.9 1144.9 170.5 1151.0C164.1 1157.1 166.8 1155.3 161.3 1162.0C155.8 1168.7 160.1 1167.5 154.0 1171.2C147.9 1174.8 150.3 1173.0 143.0 1173.0C135.7 1173.0 138.7 1172.7 132.0 1171.2C125.3 1169.6 127.7 1167.8 122.8 1168.4C118.0 1169.0 120.4 1167.8 117.3 1173.0C114.3 1178.2 114.9 1177.9 113.7 1184.0C112.4 1190.1 115.8 1185.8 113.7 1191.3C111.5 1196.8 109.4 1194.4 107.3 1200.5C105.1 1206.6 106.3 1202.3 107.3 1209.7C108.2 1217.0 109.1 1213.3 110.0 1222.5C110.9 1231.7 107.6 1229.5 110.0 1237.2C112.4 1244.8 114.6 1238.7 117.3 1245.4C120.1 1252.1 118.9 1249.1 118.3 1257.3C117.6 1265.6 114.6 1263.5 115.5 1270.2C116.4 1276.9 117.0 1270.2 121.0 1277.5C125.0 1284.8 126.8 1283.6 127.4 1292.2C128.0 1300.7 126.2 1297.1 122.8 1303.2C119.5 1309.3 120.7 1303.8 117.3 1310.5C114.0 1317.2 114.9 1314.2 112.8 1323.3C110.6 1332.5 110.6 1330.1 110.9 1338.0C111.2 1346.0 110.9 1342.3 113.7 1347.2C116.4 1352.1 118.9 1347.2 119.2 1352.7C119.5 1358.2 118.3 1354.6 114.6 1363.7C110.9 1372.8 108.7 1377.9 108.2 1380.0C107.7 1382.1 114.3 1367.7 113.1 1370.0C112.0 1372.3 110.7 1378.4 104.8 1386.8C98.8 1395.1 98.1 1383.3 95.3 1395.1C92.5 1407.0 98.1 1407.7 96.4 1422.4C94.6 1437.1 95.0 1428.7 90.1 1439.1C85.2 1449.6 84.5 1445.4 81.7 1453.8C78.9 1462.2 80.3 1456.6 81.7 1464.3C83.1 1472.0 88.7 1467.8 85.9 1476.9C83.1 1485.9 81.7 1483.5 73.3 1491.5C65.0 1499.6 70.5 1496.4 60.8 1501.0C51.0 1505.5 51.7 1500.6 44.0 1505.1C36.3 1509.7 41.9 1507.2 37.7 1514.6C33.5 1521.9 35.6 1519.5 31.4 1527.2C27.2 1534.8 27.8 1531.0 25.1 1537.6C22.5 1544.3 24.9 1540.8 23.5 1547.1C22.1 1553.3 21.8 1553.3 21.0 1556.5"/>
<polyline class="w" style="stroke-width:6.4" points="11.0,1126.8 175.1,1123.5 171.4,1136.3 174.2,1141.8 180.6,1143.7"/>
<path class="w" style="stroke-width:7.5" d="M251.3 889.8C254.4 889.2 253.2 891.1 260.5 888.0C267.8 885.0 263.6 885.6 273.3 880.7C283.1 875.8 280.1 875.8 289.8 873.3C299.6 870.9 294.7 872.1 302.7 873.3C310.6 874.6 305.1 876.4 313.7 877.0C322.2 877.6 317.3 877.3 328.3 875.2C339.3 873.0 334.5 873.0 346.7 870.6C358.9 868.1 352.8 866.9 365.0 867.8C377.2 868.8 371.1 871.5 383.3 873.3C395.6 875.2 389.5 874.3 401.7 873.3C413.9 872.4 407.8 872.4 420.0 870.6C432.2 868.8 426.1 867.5 438.3 867.8C450.6 868.1 445.7 870.3 456.7 871.5C467.7 872.7 461.6 869.1 471.3 871.5C481.1 874.0 477.5 873.3 486.0 878.8C494.6 884.3 488.5 883.7 497.0 888.0C505.6 892.3 500.7 891.1 511.7 891.7C522.7 892.3 519.6 888.6 530.0 889.8C540.4 891.1 536.2 891.1 542.8 895.3C549.5 899.6 547.6 900.2 550.0 902.7C552.4 905.1 546.3 900.2 550.0 902.7C553.7 905.1 553.1 907.0 561.0 910.0C568.9 913.1 564.1 908.8 573.8 911.8C583.6 914.9 578.1 916.7 590.3 919.2C602.6 921.6 598.3 919.5 610.5 919.2C622.7 918.9 615.4 918.9 627.0 918.3C638.6 917.6 634.3 914.6 645.3 917.3C656.3 920.1 651.4 920.4 660.0 926.5C668.6 932.6 662.4 930.8 671.0 935.7C679.6 940.6 674.1 938.4 685.7 941.2C697.3 943.9 694.4 943.9 705.8 943.9C717.3 944.0 710.3 943.0 720.0 941.3C729.7 939.6 725.8 940.9 735.0 938.8C744.2 936.7 738.8 940.1 747.5 935.1C756.3 930.0 752.1 928.6 761.3 923.8C770.5 919.0 767.2 920.2 775.1 920.7C783.0 921.1 778.4 920.2 785.1 925.0C791.8 929.8 787.6 928.8 795.1 935.1C802.6 941.3 799.3 939.4 807.6 943.8C816.0 948.2 812.6 946.9 820.2 948.2C827.7 949.5 826.4 951.1 830.2 947.6C833.9 944.0 828.5 942.6 831.4 937.6C834.3 932.6 831.8 934.6 838.9 932.6C846.0 930.5 843.1 934.0 852.7 931.3C862.3 928.6 858.1 924.0 867.7 924.4C877.3 924.8 873.2 924.8 881.5 932.6C889.8 940.3 886.5 936.7 892.8 947.6C899.0 958.4 892.4 954.4 900.3 965.1C908.2 975.8 907.4 973.3 916.5 979.7C925.6 986.1 920.2 983.7 927.5 984.3C934.8 984.9 933.0 985.5 938.5 981.5C944.0 977.5 941.6 981.5 944.0 972.3C946.4 963.2 942.2 962.6 945.8 954.0C949.5 945.5 949.2 952.8 955.0 946.7C960.8 940.6 961.4 943.0 963.3 935.7C965.1 928.3 960.2 931.4 960.5 924.7C960.8 918.0 956.8 920.4 964.2 915.5C971.5 910.6 970.9 916.1 982.5 910.0C994.1 903.9 989.8 904.5 999.0 897.2C1008.2 889.8 1001.4 892.9 1010.0 888.0C1018.6 883.1 1014.9 883.7 1024.7 882.5C1034.5 881.3 1032.0 881.9 1039.3 884.3C1046.7 886.8 1040.0 885.6 1046.7 889.8C1053.4 894.1 1051.6 896.6 1059.5 897.2C1067.5 897.8 1062.6 890.5 1070.5 891.7C1078.5 892.9 1075.4 896.0 1083.3 900.8C1091.3 905.7 1087.6 900.2 1094.3 906.3C1101.1 912.5 1096.2 912.5 1103.5 919.2C1110.8 925.9 1107.8 923.1 1116.3 926.5C1124.9 929.9 1121.8 931.7 1129.2 929.3C1136.5 926.8 1132.8 926.2 1138.3 919.2C1143.8 912.1 1139.6 914.3 1145.7 908.2C1151.8 902.1 1147.5 906.3 1156.7 900.8C1165.8 895.3 1165.2 899.6 1173.2 891.7C1181.1 883.7 1178.1 886.2 1180.5 877.0C1183.0 867.8 1183.0 871.5 1180.5 864.2C1178.1 856.8 1177.2 861.7 1173.2 855.0C1169.2 848.3 1168.6 850.7 1168.6 844.0C1168.6 837.3 1166.8 837.9 1173.2 834.8C1179.6 831.8 1184.2 839.1 1187.8 834.8C1191.5 830.6 1184.2 829.3 1184.2 822.0C1184.2 814.7 1181.7 815.3 1187.8 812.8C1194.0 810.4 1192.7 814.1 1202.5 814.7C1212.3 815.3 1211.4 818.3 1217.2 814.7C1223.0 811.0 1218.7 812.2 1219.9 803.7C1221.2 795.1 1218.1 798.2 1220.8 789.0C1223.6 779.8 1222.1 782.9 1228.2 776.2C1234.3 769.4 1231.9 771.9 1239.2 768.8C1246.5 765.8 1246.4 767.6 1250.0 767.0"/>
<polyline class="w" style="stroke-width:6.5" points="290.2,875.9 293.0,876.5 296.2,876.6 298.0,875.6 303.9,876.5 307.5,876.2 309.7,878.1 313.8,880.0 315.6,879.0 319.9,880.5 325.1,877.8 329.2,876.9 331.5,876.2 332.8,877.5 336.5,874.8 341.8,875.8 343.0,875.3 346.8,873.8 348.9,874.0 353.3,873.6 356.9,871.3 358.5,870.6 361.0,870.2 364.5,871.8 366.7,872.5 370.7,872.2 375.1,873.6 376.7,874.6 380.9,874.3 384.7,874.8 387.1,877.4 388.1,877.3 392.1,876.8 394.2,875.2 397.7,877.6 400.8,876.8 405.9,877.0 407.4,874.9 410.9,875.6 412.8,875.0 417.8,874.8 418.7,874.6 421.9,872.5 426.4,873.6 428.7,873.2 432.4,871.2 434.8,870.6 437.2,870.5 442.0,873.2 443.6,871.2 449.1,873.3 450.6,873.2 454.1,875.6 456.6,875.0 459.4,876.6 463.0,875.3 468.8,874.4 472.0,877.4 474.4,878.1 475.5,878.7 478.2,881.7 481.1,882.4 485.6,885.3 488.1,885.9 489.2,888.5 491.7,889.0 494.1,890.2 496.7,894.0 501.1,894.1 502.6,894.2 504.3,894.8 509.3,897.0 511.3,897.1 515.4,896.7 518.2,896.5 520.6,895.9 523.6,894.7 528.0,895.0 529.4,895.7 534.2,895.3 535.8,896.3 539.5,898.0 542.7,899.9 546.3,902.3 547.9,904.6 550.7,907.3 549.6,909.1 552.9,910.2 555.8,912.8 557.7,913.6 560.1,916.5 564.6,916.7 566.6,918.6 569.4,918.4 572.4,920.8 575.0,921.5 577.8,923.6 580.9,924.6 582.2,924.1 586.5,926.6 589.0,927.6 593.2,926.6 595.8,927.6 598.0,927.5 602.1,927.3 605.1,926.4 609.1,926.8 612.6,926.8 614.6,927.1 616.8,925.0 620.3,924.3 622.8,924.7 626.7,921.5 630.4,920.8 633.6,920.5 637.3,921.1 641.3,918.6 644.2,918.4 645.3,917.3"/>
<path class="w" style="stroke-width:8.5" d="M735.0 940.1C740.4 941.3 743.4 938.4 751.3 943.8C759.2 949.2 753.8 948.4 758.8 956.3C763.8 964.3 759.6 961.3 766.3 967.6C773.0 973.9 769.7 970.1 778.8 975.1C788.0 980.1 785.1 981.8 793.9 982.6C802.6 983.5 798.0 978.5 805.1 977.6C812.2 976.8 808.1 978.5 815.1 980.1C822.2 981.8 818.5 983.5 826.4 982.6C834.3 981.8 832.7 982.2 838.9 977.6C845.2 973.0 844.8 974.7 845.2 968.9C845.6 963.0 843.5 966.4 840.2 960.1C836.8 953.8 838.1 955.9 835.2 950.1C832.3 944.2 832.7 945.1 831.4 942.6"/>
<path class="w" style="stroke-width:6" d="M758.8 956.3C762.6 956.8 763.8 954.7 770.1 957.6C776.3 960.5 773.0 959.7 777.6 965.1C782.2 970.5 781.8 970.9 783.8 973.9"/>
<path class="w" style="stroke-width:6" d="M797.6 977.6C802.6 975.1 803.9 973.9 812.6 970.1C821.4 966.4 817.2 970.1 823.9 966.4C830.6 962.6 829.3 964.3 832.7 958.8C836.0 953.4 833.5 953.0 833.9 950.1"/>
<path class="w" style="stroke-width:5" d="M823.9 975.1C826.4 973.4 828.1 974.7 831.4 970.1C834.8 965.5 833.1 964.3 833.9 961.3"/>
<path class="w" d="M1250.0 768.3C1254.9 768.0 1254.9 770.4 1264.7 767.3C1274.4 764.3 1270.8 759.7 1279.3 759.1C1287.9 758.5 1283.6 762.1 1290.3 765.5C1297.1 768.9 1290.9 769.8 1299.5 769.2C1308.1 768.6 1309.9 768.6 1316.0 763.7C1322.1 758.8 1318.8 761.8 1317.8 754.5C1316.9 747.2 1312.6 749.6 1313.3 741.7C1313.9 733.7 1313.3 736.8 1319.7 730.7C1326.1 724.6 1323.9 729.8 1332.5 723.3C1341.1 716.9 1336.2 716.3 1345.3 711.4C1354.5 706.5 1351.4 710.5 1360.0 708.7C1368.6 706.8 1365.2 711.4 1371.0 705.9C1376.8 700.4 1375.6 701.0 1377.4 692.2C1379.3 683.3 1375.0 687.0 1376.5 679.3C1378.0 671.7 1375.3 674.8 1382.0 669.3C1388.7 663.8 1388.1 664.4 1396.7 662.8C1405.2 661.3 1401.9 662.2 1407.7 664.7C1413.5 667.1 1409.8 671.4 1414.1 670.2C1418.4 669.0 1416.2 667.1 1420.5 661.0C1424.8 654.9 1425.1 659.2 1426.9 651.8C1428.8 644.5 1428.5 646.3 1426.0 639.0C1423.6 631.7 1419.6 637.8 1419.6 629.8C1419.6 621.9 1420.2 623.7 1426.0 615.2C1431.8 606.6 1429.7 611.5 1437.0 604.2C1444.3 596.8 1441.6 601.1 1448.0 593.2C1454.4 585.2 1453.2 588.9 1456.3 580.3C1459.3 571.8 1454.4 576.1 1457.2 567.5C1459.9 558.9 1459.9 562.0 1464.5 554.7C1469.1 547.3 1471.5 551.0 1470.9 545.5C1470.3 540.0 1465.4 543.7 1462.7 538.2C1459.9 532.7 1459.0 534.5 1462.7 529.0C1466.3 523.5 1467.6 526.6 1473.7 521.7C1479.8 516.8 1480.4 519.2 1481.0 514.3C1481.6 509.5 1480.7 511.9 1475.5 507.0C1470.3 502.1 1469.4 505.2 1465.4 499.7C1461.5 494.2 1462.1 496.0 1463.6 490.5C1465.1 485.0 1466.6 489.3 1470.0 483.2C1473.4 477.1 1474.3 480.7 1473.7 472.2C1473.1 463.6 1471.8 466.7 1468.2 457.5C1464.5 448.3 1462.7 452.0 1462.7 444.7C1462.7 437.3 1462.1 438.6 1468.2 435.5C1474.3 432.5 1475.2 438.0 1481.0 435.5C1486.8 433.1 1485.6 434.9 1485.6 428.2C1485.6 421.5 1481.9 423.3 1481.0 415.3C1480.1 407.4 1480.4 411.7 1482.8 404.3C1485.3 397.0 1485.0 400.7 1488.3 393.3C1491.7 386.0 1493.5 389.1 1492.9 382.3C1492.3 375.6 1491.1 379.9 1486.5 373.2C1481.9 366.5 1482.5 370.1 1479.2 362.2C1475.8 354.2 1479.2 358.5 1476.4 349.3C1473.7 340.2 1471.8 342.6 1470.9 334.7C1470.0 326.7 1469.1 329.2 1473.7 325.5C1478.3 321.8 1477.3 323.7 1484.7 323.7C1492.0 323.7 1492.6 328.0 1495.7 325.5C1498.7 323.1 1492.9 322.4 1493.8 316.3C1494.8 310.2 1496.9 310.2 1498.4 307.2"/>
<path class="w" d="M1498.4 307.2C1501.2 306.6 1502.1 302.9 1506.7 305.3C1511.3 307.8 1507.9 313.3 1512.2 314.5C1516.5 315.7 1514.0 308.4 1519.5 309.0C1525.0 309.6 1523.2 310.8 1528.7 316.3C1534.2 321.8 1531.7 318.8 1536.0 325.5C1540.3 332.2 1539.1 335.9 1541.5 336.5C1544.0 337.1 1539.7 332.8 1543.3 327.3C1547.0 321.8 1547.6 325.5 1552.5 320.0C1557.4 314.5 1555.0 316.3 1558.0 310.8C1561.1 305.3 1556.8 305.3 1561.7 303.5C1566.6 301.7 1569.0 304.7 1572.7 305.3"/>
<path class="w" d="M1039.3 891.7C1040.3 896.6 1043.3 897.2 1042.1 906.3C1040.9 915.5 1038.7 911.8 1035.7 919.2C1032.6 926.5 1031.7 920.4 1032.9 928.3C1034.1 936.3 1035.4 935.7 1039.3 943.0C1043.3 950.3 1039.3 944.2 1044.8 950.3C1050.3 956.5 1038.1 931.5 1055.8 961.3C1073.6 991.2 1086.7 1017.1 1098.0 1040.0C1109.3 1062.9 1088.6 1027.2 1089.8 1030.0C1091.1 1032.8 1099.3 1037.9 1101.8 1048.3C1104.2 1058.7 1097.2 1053.2 1097.2 1061.2C1097.2 1069.1 1100.5 1064.8 1101.8 1072.2C1103.0 1079.5 1098.7 1076.4 1100.8 1083.2C1103.0 1089.9 1106.9 1085.9 1108.2 1092.3C1109.4 1098.8 1101.4 1093.9 1104.5 1102.4C1107.6 1111.0 1110.6 1109.8 1117.3 1118.0C1124.1 1126.3 1122.8 1120.4 1124.7 1127.2C1126.5 1133.9 1119.2 1132.7 1122.8 1138.2C1126.5 1143.7 1130.2 1139.4 1135.7 1143.7C1141.2 1148.0 1130.2 1142.4 1139.3 1151.0C1148.5 1159.6 1155.2 1163.2 1163.2 1169.3"/>
<path class="w" d="M1572.7 927.7C1571.5 927.1 1572.7 927.7 1569.0 925.8C1565.3 924.0 1565.3 919.1 1561.7 922.2C1558.0 925.2 1561.1 928.3 1558.0 935.0C1555.0 941.7 1556.2 942.3 1552.5 942.3C1548.8 942.3 1550.7 941.1 1547.0 935.0C1543.3 928.9 1546.4 927.7 1541.5 924.0C1536.6 920.3 1539.7 922.2 1532.3 924.0C1525.0 925.8 1523.2 924.6 1519.5 929.5C1515.8 934.4 1518.9 933.8 1521.3 938.7C1523.8 943.6 1528.1 940.5 1526.8 944.2C1525.6 947.8 1524.4 947.2 1517.7 949.7C1511.0 952.1 1512.8 949.1 1506.7 951.5C1500.6 953.9 1504.2 958.2 1499.3 957.0C1494.5 955.8 1496.9 953.9 1492.0 947.8C1487.1 941.7 1489.6 939.3 1484.7 938.7C1479.8 938.1 1481.0 939.3 1477.3 946.0C1473.7 952.7 1476.7 950.9 1473.7 958.8C1470.6 966.8 1472.5 967.4 1468.2 969.8C1463.9 972.3 1464.5 971.1 1460.8 966.2C1457.2 961.3 1459.6 955.2 1457.2 955.2C1454.7 955.2 1454.7 958.2 1453.5 966.2C1452.3 974.1 1457.8 975.3 1453.5 979.0C1449.2 982.7 1449.8 975.9 1440.7 977.2C1431.5 978.4 1433.3 983.3 1426.0 982.7C1418.7 982.1 1421.7 982.1 1418.7 975.3C1415.6 968.6 1419.9 964.3 1416.8 962.5C1413.8 960.7 1413.2 963.1 1409.5 969.8C1405.8 976.6 1408.9 974.7 1405.8 982.7C1402.8 990.6 1406.5 988.8 1400.3 993.7C1394.2 998.6 1393.0 992.4 1387.5 997.3C1382.0 1002.2 1384.5 999.8 1383.8 1008.3C1383.2 1016.9 1386.3 1013.8 1385.7 1023.0C1385.1 1032.2 1386.3 1027.9 1382.0 1035.8C1377.7 1043.8 1380.2 1043.2 1372.8 1046.8C1365.5 1050.5 1368.0 1043.8 1360.0 1046.8C1352.1 1049.9 1354.7 1055.5 1349.0 1056.0C1343.3 1056.5 1348.0 1052.1 1342.8 1048.3C1337.7 1044.6 1338.6 1042.8 1333.7 1044.7C1328.8 1046.5 1327.6 1047.7 1328.2 1053.8C1328.8 1059.9 1330.0 1058.1 1335.5 1063.0C1341.0 1067.9 1349.0 1067.3 1344.7 1068.5C1340.4 1069.7 1332.5 1062.4 1322.7 1066.7C1312.9 1070.9 1319.6 1075.8 1315.3 1081.3C1311.1 1086.8 1314.7 1085.6 1309.8 1083.2C1305.0 1080.7 1308.0 1075.8 1300.7 1074.0C1293.3 1072.2 1295.8 1072.8 1287.8 1077.7C1279.9 1082.6 1286.0 1082.6 1276.8 1088.7C1267.7 1094.8 1268.3 1090.5 1260.3 1096.0C1252.4 1101.5 1260.3 1099.1 1253.0 1105.2C1245.7 1111.3 1242.6 1106.4 1238.3 1114.3C1234.1 1122.3 1243.2 1120.4 1240.2 1129.0C1237.1 1137.6 1237.1 1131.4 1229.2 1140.0C1221.2 1148.6 1224.3 1152.2 1216.3 1154.7C1208.4 1157.1 1212.1 1147.3 1205.3 1147.3C1198.6 1147.3 1203.5 1145.5 1196.2 1154.7C1188.8 1163.8 1190.7 1169.3 1183.3 1174.8C1176.0 1180.3 1178.5 1175.5 1174.2 1171.2C1169.9 1166.9 1173.6 1163.8 1170.5 1162.0C1167.5 1160.2 1168.1 1160.8 1165.0 1165.7C1162.0 1170.6 1165.6 1170.0 1161.3 1176.7C1157.1 1183.4 1159.5 1179.7 1152.2 1185.8C1144.8 1192.0 1148.5 1190.1 1139.3 1195.0C1130.2 1199.9 1132.6 1196.2 1124.7 1200.5C1116.7 1204.8 1115.5 1202.3 1115.5 1207.8C1115.5 1213.3 1116.7 1211.5 1124.7 1217.0C1132.6 1222.5 1131.4 1219.5 1139.3 1224.3C1147.3 1229.2 1146.7 1224.3 1148.5 1231.7C1150.3 1239.0 1147.9 1236.0 1144.8 1246.3C1141.8 1256.7 1143.0 1258.0 1139.3 1262.8C1135.7 1267.7 1137.5 1266.5 1133.8 1261.0C1130.2 1255.5 1135.1 1252.5 1128.3 1246.3C1121.6 1240.2 1124.7 1244.5 1113.7 1242.7C1102.7 1240.8 1105.7 1239.0 1095.3 1240.8C1084.9 1242.7 1088.0 1242.1 1082.5 1248.2C1077.0 1254.3 1078.8 1250.6 1078.8 1259.2C1078.8 1267.7 1081.9 1265.9 1082.5 1273.8C1083.1 1281.8 1088.0 1278.7 1080.7 1283.0C1073.3 1287.3 1072.1 1283.0 1060.5 1286.7C1048.9 1290.3 1052.9 1287.9 1045.8 1294.0C1038.8 1300.1 1043.1 1299.8 1039.4 1305.0C1035.8 1310.2 1032.7 1304.7 1034.8 1309.6C1037.0 1314.5 1043.4 1312.7 1045.8 1319.7C1048.3 1326.7 1047.7 1324.6 1042.2 1330.7C1036.7 1336.8 1038.5 1331.3 1029.3 1338.0C1020.2 1344.7 1023.2 1341.7 1014.7 1350.8C1006.1 1360.0 1008.6 1358.2 1003.7 1365.5C998.8 1372.8 998.2 1374.7 1000.0 1372.8C1001.8 1371.0 1011.3 1356.4 1009.1 1360.0C1006.8 1363.6 1004.7 1375.3 993.3 1383.6C982.0 1391.9 985.5 1382.7 975.0 1384.9C964.5 1387.1 967.2 1384.4 961.9 1390.1C956.7 1395.8 960.2 1391.9 959.3 1401.9C958.4 1411.9 961.9 1409.8 959.3 1420.2C956.7 1430.7 960.2 1425.5 951.4 1433.3C942.7 1441.2 942.3 1436.0 933.1 1443.8C923.9 1451.7 925.7 1449.1 923.9 1456.9C922.2 1464.8 927.9 1457.8 927.9 1467.4C927.9 1477.0 927.4 1478.3 923.9 1485.7C920.4 1493.1 926.6 1487.0 917.4 1489.6C908.2 1492.3 907.8 1489.6 896.4 1493.6C885.1 1497.5 891.6 1498.4 883.3 1501.4C875.0 1504.5 877.7 1498.4 871.6 1502.7C865.4 1507.1 871.1 1505.4 865.0 1514.5C858.9 1523.7 858.0 1520.6 853.2 1530.2C848.4 1539.8 851.0 1535.5 850.6 1543.3C850.2 1551.2 854.5 1543.3 851.9 1553.8C849.3 1564.3 848.4 1563.9 842.7 1574.8C837.1 1585.7 842.3 1581.8 834.9 1586.6C827.5 1591.4 827.5 1585.2 820.5 1589.2C813.5 1593.1 816.1 1591.4 813.9 1598.3C811.8 1605.3 817.0 1602.7 813.9 1610.1C810.9 1617.6 810.4 1614.1 804.8 1620.6C799.1 1627.2 805.6 1622.4 796.9 1629.8C788.2 1637.2 789.1 1633.3 778.6 1642.9C768.1 1652.5 772.9 1649.9 765.5 1658.6C758.1 1667.3 759.4 1661.6 756.3 1669.1C753.3 1676.5 759.8 1674.7 756.3 1680.8C752.8 1687.0 753.3 1680.4 745.8 1687.4C738.4 1694.4 745.0 1690.5 734.0 1701.8C723.1 1713.2 724.4 1712.3 713.1 1721.4C701.7 1730.6 706.5 1726.9 700.0 1729.3C693.5 1731.7 701.3 1729.0 693.6 1728.8C685.9 1728.6 687.3 1725.3 676.9 1728.8C666.4 1732.3 670.6 1729.5 662.2 1739.3C653.8 1749.0 656.6 1748.3 651.7 1758.1C646.8 1767.9 648.9 1765.1 647.5 1768.6"/>
<circle cx="794.5" cy="989" r="744.3" fill="none" stroke="#fff" stroke-width="2.9"/>
<circle cx="95" cy="349" r="6.9" fill="#fff"/><text class="city" x="104.6" y="338.7" textLength="107.3" lengthAdjust="spacingAndGlyphs">PIRANE</text>
<circle cx="699" cy="305" r="6.9" fill="#fff"/><text class="city" x="708.6" y="294.7" textLength="162.2" lengthAdjust="spacingAndGlyphs">PARAGUARÍ</text>
<circle cx="914" cy="357" r="6.9" fill="#fff"/><text class="city" x="923.6" y="346.7" textLength="180.5" lengthAdjust="spacingAndGlyphs">VILLARRICA</text>
<circle cx="674" cy="425" r="6.9" fill="#fff"/><text class="city" x="683.6" y="414.7" textLength="125.6" lengthAdjust="spacingAndGlyphs">QUIINDY</text>
<circle cx="481" cy="441" r="6.9" fill="#fff"/><text class="city" x="490.6" y="430.7" textLength="162.2" lengthAdjust="spacingAndGlyphs">VA. OLIVA</text>
<circle cx="1305" cy="429" r="6.9" fill="#fff"/><text class="city" x="1314.6" y="418.7" textLength="143.9" lengthAdjust="spacingAndGlyphs">NARANJAL</text>
<circle cx="389" cy="499" r="6.9" fill="#fff"/><text class="city" x="398.6" y="488.7" textLength="125.6" lengthAdjust="spacingAndGlyphs">FORMOSA</text>
<circle cx="709" cy="575" r="6.9" fill="#fff"/><text class="city" x="718.6" y="564.7" textLength="198.8" lengthAdjust="spacingAndGlyphs">VA. FLORIDA</text>
<circle cx="1482" cy="578" r="6.9" fill="#fff"/><text class="city" x="1491.6" y="567.7" textLength="143.9" lengthAdjust="spacingAndGlyphs">ELDORADO</text>
<circle cx="1281" cy="618" r="6.9" fill="#fff"/><text class="city" x="1290.6" y="607.7" textLength="308.6" lengthAdjust="spacingAndGlyphs">MARÍA AUXILIADORA</text>
<circle cx="702" cy="665" r="6.9" fill="#fff"/><text class="city" x="711.6" y="654.7" textLength="308.6" lengthAdjust="spacingAndGlyphs">SAN JUAN BAUTISTA</text>
<circle cx="738" cy="739" r="6.9" fill="#fff"/><text class="city" x="747.6" y="728.7" textLength="198.8" lengthAdjust="spacingAndGlyphs">SAN IGNACIO</text>
<circle cx="356" cy="773" r="6.9" fill="#fff"/><text class="city" x="365.6" y="762.7" textLength="162.2" lengthAdjust="spacingAndGlyphs">ISLA UMBÚ</text>
<circle cx="461" cy="826" r="6.9" fill="#fff"/><text class="city" x="470.6" y="815.7" textLength="162.2" lengthAdjust="spacingAndGlyphs">VILLALBÍN</text>
<circle cx="1195" cy="865" r="6.9" fill="#fff"/><text class="city" x="1204.6" y="854.7" textLength="198.8" lengthAdjust="spacingAndGlyphs">SAN IGNACIO</text>
<circle cx="1084" cy="903" r="6.9" fill="#fff"/><text class="city" x="1093.6" y="892.7" textLength="125.6" lengthAdjust="spacingAndGlyphs">POSADAS</text>
<circle cx="185" cy="940" r="6.9" fill="#fff"/><text class="city" x="194.6" y="929.7" textLength="180.5" lengthAdjust="spacingAndGlyphs">CORRIENTES</text>
<circle cx="1326" cy="945" r="6.9" fill="#fff"/><text class="city" x="1335.6" y="934.7" textLength="89.0" lengthAdjust="spacingAndGlyphs">OBERÁ</text>
<circle cx="842" cy="968" r="6.9" fill="#fff"/><text class="city" x="851.6" y="957.7" textLength="162.2" lengthAdjust="spacingAndGlyphs">ITUZAINGÓ</text>
<circle cx="203" cy="1107" r="6.9" fill="#fff"/><text class="city" x="212.6" y="1096.7" textLength="162.2" lengthAdjust="spacingAndGlyphs">EMPEDRADO</text>
<circle cx="1125" cy="1091" r="6.9" fill="#fff"/><text class="city" x="1134.6" y="1080.7" textLength="162.2" lengthAdjust="spacingAndGlyphs">APÓSTOLES</text>
<circle cx="1312" cy="1081" r="6.9" fill="#fff"/><text class="city" x="1321.6" y="1070.7" textLength="180.5" lengthAdjust="spacingAndGlyphs">SAN JAVIER</text>
<circle cx="1518" cy="1080" r="6.9" fill="#fff"/><text class="city" x="1527.6" y="1069.7" textLength="198.8" lengthAdjust="spacingAndGlyphs">SAN VICENTE</text>
<circle cx="477" cy="1254" r="6.9" fill="#fff"/><text class="city" x="486.6" y="1243.7" textLength="180.5" lengthAdjust="spacingAndGlyphs">CONCEPCIÓN</text>
<circle cx="694" cy="1304" r="6.9" fill="#fff"/><text class="city" x="703.6" y="1293.7" textLength="326.9" lengthAdjust="spacingAndGlyphs">COL. C. PELLEGRINI</text>
<circle cx="1036" cy="1309" r="6.9" fill="#fff"/><text class="city" x="1045.6" y="1298.7" textLength="180.5" lengthAdjust="spacingAndGlyphs">SANTO TOMÉ</text>
<circle cx="230" cy="1320" r="6.9" fill="#fff"/><text class="city" x="239.6" y="1309.7" textLength="162.2" lengthAdjust="spacingAndGlyphs">SAN ROQUE</text>
<circle cx="423" cy="1526" r="6.9" fill="#fff"/><text class="city" x="432.6" y="1515.7" textLength="143.9" lengthAdjust="spacingAndGlyphs">MERCEDES</text>
<circle cx="1500" cy="307" r="6.9" fill="#fff"/><text class="city" x="1509.6" y="296.7" textLength="235.4" lengthAdjust="spacingAndGlyphs">PUERTO IGUAZÚ</text>
<rect x="26.2" y="1653.3" width="332.5" height="101.2" fill="#6f6f6f" fill-opacity="0.76"/>
<rect x="40" y="1668" width="302.8" height="72" fill="none" stroke="#ffa500" stroke-width="5.9"/>
<text class="mono" x="51" y="1697" font-size="22.2" fill="#fff" textLength="280" lengthAdjust="spacingAndGlyphs">Avisos Meteorológicos</text><text class="mono" x="51" y="1724" font-size="22.2" fill="#fff" textLength="227" lengthAdjust="spacingAndGlyphs">a Muy Corto Plazo</text>
</g>
<rect x="1568" y="219" width="152.5" height="1542" fill="#000"/><rect x="1572" y="221" width="146.5" height="1537.5" fill="#1a1a1a"/>
<g clip-path="url(#cright)">
<ellipse cx="1630.0" cy="612.4" rx="15.0" ry="4.5" fill="#2e88bc"/>
<ellipse cx="1629.1" cy="677.6" rx="16.0" ry="4.5" fill="#2e88bc"/>
<ellipse cx="1590.8" cy="692.2" rx="12.5" ry="4.0" fill="#2e88bc"/>
<ellipse cx="1590.0" cy="710.0" rx="15.0" ry="8.0" fill="#2e88bc"/>
<ellipse cx="1591.0" cy="710.5" rx="12.5" ry="6.5" fill="#2aaddb"/>
<ellipse cx="1591.7" cy="710.0" rx="11.6" ry="3.6" fill="#42cc30"/>
<rect x="1573.0" y="733.0" width="25.1" height="1.9" fill="#2e88bc"/>
<rect x="1573.0" y="733.0" width="8.6" height="1.9" fill="#3c6499"/>
<rect x="1573.0" y="734.6" width="28.0" height="1.9" fill="#2e88bc"/>
<rect x="1573.0" y="736.2" width="32.3" height="1.9" fill="#2e88bc"/>
<rect x="1573.0" y="736.2" width="11.0" height="1.9" fill="#3a70a6"/>
<rect x="1573.0" y="737.8" width="30.2" height="1.9" fill="#2e88bc"/>
<rect x="1573.0" y="739.4" width="32.8" height="1.9" fill="#337cb0"/>
<rect x="1573.0" y="741.0" width="30.7" height="1.9" fill="#2e88bc"/>
<rect x="1573.0" y="741.0" width="16.6" height="1.9" fill="#3a70a6"/>
<rect x="1573.0" y="742.6" width="34.9" height="1.9" fill="#2e88bc"/>
<rect x="1573.0" y="742.6" width="19.8" height="1.9" fill="#3c6499"/>
<rect x="1573.0" y="744.2" width="38.9" height="1.9" fill="#2e88bc"/>
<rect x="1573.0" y="744.2" width="22.2" height="1.9" fill="#3a70a6"/>
<rect x="1573.0" y="745.8" width="39.8" height="1.9" fill="#2e88bc"/>
<rect x="1573.0" y="745.8" width="22.8" height="1.9" fill="#3c6499"/>
<rect x="1573.0" y="747.4" width="33.7" height="1.9" fill="#337cb0"/>
<rect x="1573.0" y="747.4" width="20.2" height="1.9" fill="#3c6499"/>
<rect x="1573.0" y="749.0" width="39.7" height="1.9" fill="#337cb0"/>
<rect x="1573.0" y="750.6" width="31.6" height="1.9" fill="#337cb0"/>
<rect x="1573.0" y="750.6" width="9.7" height="1.9" fill="#3c6499"/>
<rect x="1573.0" y="752.2" width="29.2" height="1.9" fill="#337cb0"/>
<rect x="1573.0" y="753.8" width="36.8" height="1.9" fill="#2e88bc"/>
<rect x="1573.0" y="753.8" width="19.9" height="1.9" fill="#3a70a6"/>
<rect x="1573.0" y="755.4" width="32.9" height="1.9" fill="#2e88bc"/>
<rect x="1573.0" y="755.4" width="18.3" height="1.9" fill="#3a70a6"/>
<rect x="1573.0" y="757.0" width="27.1" height="1.9" fill="#337cb0"/>
<rect x="1573.0" y="758.6" width="27.5" height="1.9" fill="#2e88bc"/>
<rect x="1573.0" y="758.6" width="14.4" height="1.9" fill="#3a70a6"/>
<rect x="1573.0" y="760.2" width="19.0" height="1.9" fill="#3c6499"/>
<rect x="1573.0" y="760.2" width="10.5" height="1.9" fill="#3c6499"/>
<rect x="1573.0" y="761.8" width="20.9" height="1.9" fill="#337cb0"/>
<rect x="1573.0" y="763.4" width="23.6" height="1.9" fill="#3a70a6"/>
<rect x="1573.0" y="765.0" width="21.4" height="1.9" fill="#3c6499"/>
<rect x="1573.0" y="766.6" width="22.6" height="1.9" fill="#3a70a6"/>
<rect x="1573.0" y="766.6" width="7.9" height="1.9" fill="#3c6499"/>
<rect x="1573.0" y="768.2" width="25.0" height="1.9" fill="#3a70a6"/>
<rect x="1573.0" y="768.2" width="8.0" height="1.9" fill="#3c6499"/>
<rect x="1573.0" y="769.8" width="27.4" height="1.9" fill="#3a70a6"/>
<rect x="1573.0" y="769.8" width="8.9" height="1.9" fill="#3c6499"/>
<rect x="1573.0" y="771.4" width="30.1" height="1.9" fill="#3c6499"/>
<rect x="1573.0" y="771.4" width="14.0" height="1.9" fill="#3c6499"/>
<rect x="1573.0" y="773.0" width="23.2" height="1.9" fill="#3a70a6"/>
<rect x="1573.0" y="773.0" width="7.9" height="1.9" fill="#3a70a6"/>
<rect x="1573.0" y="774.6" width="28.4" height="1.9" fill="#3c6499"/>
<rect x="1573.0" y="774.6" width="9.2" height="1.9" fill="#3a70a6"/>
<rect x="1573.0" y="776.2" width="29.6" height="1.9" fill="#3a70a6"/>
<rect x="1573.0" y="777.8" width="32.8" height="1.9" fill="#3a70a6"/>
<rect x="1573.0" y="779.4" width="30.1" height="1.9" fill="#3a70a6"/>
<rect x="1573.0" y="781.0" width="27.4" height="1.9" fill="#3c6499"/>
<rect x="1573.0" y="782.6" width="31.2" height="1.9" fill="#3a70a6"/>
<rect x="1573.0" y="782.6" width="13.0" height="1.9" fill="#3c6499"/>
<rect x="1573.0" y="784.2" width="33.4" height="1.9" fill="#3a70a6"/>
<rect x="1573.0" y="785.8" width="35.9" height="1.9" fill="#337cb0"/>
<rect x="1573.0" y="785.8" width="18.7" height="1.9" fill="#3c6499"/>
<rect x="1573.0" y="787.4" width="30.7" height="1.9" fill="#3a70a6"/>
<rect x="1573.0" y="789.0" width="30.8" height="1.9" fill="#3a70a6"/>
<rect x="1573.0" y="790.6" width="27.9" height="1.9" fill="#3a70a6"/>
<rect x="1573.0" y="790.6" width="9.7" height="1.9" fill="#3a70a6"/>
<rect x="1573.0" y="792.2" width="29.3" height="1.9" fill="#337cb0"/>
<rect x="1573.0" y="793.8" width="25.5" height="1.9" fill="#3a70a6"/>
<rect x="1573.0" y="793.8" width="13.4" height="1.9" fill="#3a70a6"/>
<rect x="1573.0" y="795.4" width="23.2" height="1.9" fill="#337cb0"/>
<rect x="1573.0" y="797.0" width="18.0" height="1.9" fill="#3a70a6"/>
<rect x="1573.0" y="798.6" width="18.2" height="1.9" fill="#3a70a6"/>
<rect x="1573.0" y="800.2" width="17.5" height="1.9" fill="#3c6499"/>
<rect x="1573.0" y="801.8" width="24.7" height="1.9" fill="#3a70a6"/>
<rect x="1573.0" y="803.4" width="25.4" height="1.9" fill="#3c6499"/>
<rect x="1573.0" y="803.4" width="10.9" height="1.9" fill="#3c6499"/>
<rect x="1573.0" y="805.0" width="24.9" height="1.9" fill="#3a70a6"/>
<rect x="1573.0" y="805.0" width="11.4" height="1.9" fill="#3c6499"/>
<rect x="1573.0" y="806.6" width="25.8" height="1.9" fill="#3a70a6"/>
<rect x="1573.0" y="808.2" width="30.4" height="1.9" fill="#3a70a6"/>
<rect x="1573.0" y="809.8" width="27.3" height="1.9" fill="#3a70a6"/>
<rect x="1573.0" y="811.4" width="35.5" height="1.9" fill="#3c6499"/>
<rect x="1573.0" y="813.0" width="28.9" height="1.9" fill="#3a70a6"/>
<rect x="1573.0" y="813.0" width="16.2" height="1.9" fill="#3c6499"/>
<rect x="1573.0" y="814.6" width="26.0" height="1.9" fill="#337cb0"/>
<rect x="1573.0" y="816.2" width="28.3" height="1.9" fill="#3a70a6"/>
<rect x="1573.0" y="817.8" width="35.2" height="1.9" fill="#3a70a6"/>
<rect x="1573.0" y="817.8" width="18.4" height="1.9" fill="#3a70a6"/>
<rect x="1573.0" y="819.4" width="33.1" height="1.9" fill="#337cb0"/>
<rect x="1573.0" y="821.0" width="26.8" height="1.9" fill="#3a70a6"/>
<rect x="1573.0" y="822.6" width="23.2" height="1.9" fill="#3a70a6"/>
<rect x="1573.0" y="822.6" width="8.0" height="1.9" fill="#3c6499"/>
<rect x="1573.0" y="824.2" width="26.7" height="1.9" fill="#3a70a6"/>
<rect x="1573.0" y="825.8" width="22.3" height="1.9" fill="#337cb0"/>
<rect x="1573.0" y="827.4" width="21.2" height="1.9" fill="#3c6499"/>
<rect x="1573.0" y="827.4" width="7.5" height="1.9" fill="#3a70a6"/>
<rect x="1573.0" y="829.0" width="27.2" height="1.9" fill="#3a70a6"/>
<rect x="1573.0" y="830.6" width="22.1" height="1.9" fill="#337cb0"/>
<rect x="1573.0" y="830.6" width="9.9" height="1.9" fill="#3a70a6"/>
<rect x="1573.0" y="832.2" width="23.6" height="1.9" fill="#337cb0"/>
<rect x="1573.0" y="832.2" width="8.3" height="1.9" fill="#3c6499"/>
<rect x="1573.0" y="833.8" width="23.2" height="1.9" fill="#3a70a6"/>
<rect x="1573.0" y="833.8" width="9.7" height="1.9" fill="#3c6499"/>
<rect x="1573.0" y="835.4" width="24.6" height="1.9" fill="#3a70a6"/>
<rect x="1573.0" y="837.0" width="18.1" height="1.9" fill="#3a70a6"/>
<rect x="1573.0" y="837.0" width="8.3" height="1.9" fill="#3a70a6"/>
<rect x="1573.0" y="838.6" width="31.3" height="1.9" fill="#3a70a6"/>
<rect x="1573.0" y="838.6" width="9.7" height="1.9" fill="#3a70a6"/>
<rect x="1573.0" y="840.2" width="25.7" height="1.9" fill="#3a70a6"/>
<rect x="1573.0" y="840.2" width="12.8" height="1.9" fill="#3c6499"/>
<rect x="1573.0" y="841.8" width="22.4" height="1.9" fill="#3c6499"/>
<rect x="1573.0" y="843.4" width="33.0" height="1.9" fill="#337cb0"/>
<rect x="1573.0" y="843.4" width="10.2" height="1.9" fill="#3a70a6"/>
<rect x="1573.0" y="845.0" width="16.9" height="1.9" fill="#3c6499"/>
<rect x="1573.0" y="845.0" width="7.0" height="1.9" fill="#3c6499"/>
<rect x="1573.0" y="846.6" width="20.6" height="1.9" fill="#3a70a6"/>
<rect x="1573.0" y="846.6" width="7.3" height="1.9" fill="#3a70a6"/>
<rect x="1573.0" y="848.2" width="26.4" height="1.9" fill="#3a70a6"/>
<rect x="1573.0" y="848.2" width="8.3" height="1.9" fill="#3c6499"/>
<rect x="1573.0" y="849.8" width="23.6" height="1.9" fill="#337cb0"/>
<rect x="1573.0" y="851.4" width="15.8" height="1.9" fill="#337cb0"/>
<rect x="1573.0" y="851.4" width="5.7" height="1.9" fill="#3c6499"/>
<rect x="1573.0" y="853.0" width="31.2" height="1.9" fill="#3a70a6"/>
<rect x="1573.0" y="854.6" width="27.2" height="1.9" fill="#3c6499"/>
<rect x="1573.0" y="854.6" width="11.5" height="1.9" fill="#3c6499"/>
<rect x="1573.0" y="856.2" width="26.9" height="1.9" fill="#337cb0"/>
<rect x="1573.0" y="857.8" width="26.9" height="1.9" fill="#3a70a6"/>
<rect x="1573.0" y="857.8" width="10.1" height="1.9" fill="#3c6499"/>
<rect x="1573.0" y="859.4" width="33.6" height="1.9" fill="#337cb0"/>
<rect x="1573.0" y="859.4" width="18.4" height="1.9" fill="#3c6499"/>
<rect x="1573.0" y="861.0" width="31.3" height="1.9" fill="#3a70a6"/>
<rect x="1573.0" y="861.0" width="17.0" height="1.9" fill="#3a70a6"/>
<rect x="1573.0" y="862.6" width="34.4" height="1.9" fill="#3c6499"/>
<rect x="1573.0" y="862.6" width="16.4" height="1.9" fill="#3c6499"/>
<rect x="1573.0" y="864.2" width="27.7" height="1.9" fill="#3a70a6"/>
<rect x="1573.0" y="864.2" width="8.5" height="1.9" fill="#3c6499"/>
<rect x="1573.0" y="865.8" width="27.7" height="1.9" fill="#3a70a6"/>
<rect x="1573.0" y="865.8" width="14.0" height="1.9" fill="#3a70a6"/>
<rect x="1573.0" y="867.4" width="26.0" height="1.9" fill="#3a70a6"/>
<rect x="1573.0" y="869.0" width="25.3" height="1.9" fill="#337cb0"/>
<rect x="1573.0" y="869.0" width="13.3" height="1.9" fill="#3c6499"/>
<rect x="1573.0" y="870.6" width="26.4" height="1.9" fill="#3c6499"/>
<rect x="1573.0" y="870.6" width="9.0" height="1.9" fill="#3a70a6"/>
<rect x="1573.0" y="872.2" width="25.2" height="1.9" fill="#337cb0"/>
<rect x="1573.0" y="873.8" width="25.2" height="1.9" fill="#3a70a6"/>
<rect x="1573.0" y="875.4" width="27.9" height="1.9" fill="#337cb0"/>
<rect x="1576.0" y="876.0" width="46.6" height="2.9" fill="#2698c6"/>
<rect x="1573.0" y="876.0" width="6.7" height="2.9" fill="#3a70a6"/>
<rect x="1576.0" y="878.6" width="49.4" height="2.9" fill="#2698c6"/>
<rect x="1573.0" y="878.6" width="5.1" height="2.9" fill="#3a70a6"/>
<rect x="1576.0" y="881.2" width="55.2" height="2.9" fill="#2698c6"/>
<rect x="1573.0" y="881.2" width="5.5" height="2.9" fill="#3a70a6"/>
<rect x="1600.0" y="881.2" width="18.9" height="2.9" fill="#2698c6"/>
<rect x="1576.0" y="883.8" width="60.8" height="2.9" fill="#2698c6"/>
<rect x="1573.0" y="883.8" width="4.3" height="2.9" fill="#3a70a6"/>
<rect x="1576.0" y="886.4" width="63.5" height="2.9" fill="#2698c6"/>
<rect x="1573.0" y="886.4" width="4.3" height="2.9" fill="#3c6499"/>
<rect x="1601.4" y="886.4" width="17.4" height="2.9" fill="#27a2d2"/>
<rect x="1576.0" y="889.0" width="60.0" height="2.9" fill="#27a2d2"/>
<rect x="1573.0" y="889.0" width="6.8" height="2.9" fill="#3c6499"/>
<rect x="1600.8" y="889.0" width="19.5" height="2.9" fill="#27a2d2"/>
<rect x="1576.0" y="891.6" width="60.9" height="2.9" fill="#27a2d2"/>
<rect x="1573.0" y="891.6" width="6.1" height="2.9" fill="#3a70a6"/>
<rect x="1576.0" y="894.2" width="64.1" height="2.9" fill="#27a2d2"/>
<rect x="1573.0" y="894.2" width="4.8" height="2.9" fill="#3a70a6"/>
<rect x="1580.5" y="894.2" width="20.8" height="2.9" fill="#27a2d2"/>
<rect x="1576.0" y="896.8" width="59.3" height="2.9" fill="#27a2d2"/>
<rect x="1573.0" y="896.8" width="4.1" height="2.9" fill="#3c6499"/>
<rect x="1576.0" y="899.4" width="61.3" height="2.9" fill="#27a2d2"/>
<rect x="1573.0" y="899.4" width="3.6" height="2.9" fill="#3a70a6"/>
<rect x="1585.5" y="899.4" width="15.8" height="2.9" fill="#2698c6"/>
<rect x="1576.0" y="902.0" width="61.4" height="2.9" fill="#2698c6"/>
<rect x="1573.0" y="902.0" width="6.7" height="2.9" fill="#3a70a6"/>
<rect x="1576.0" y="904.6" width="58.0" height="2.9" fill="#2698c6"/>
<rect x="1573.0" y="904.6" width="6.2" height="2.9" fill="#3a70a6"/>
<rect x="1592.8" y="904.6" width="11.6" height="2.9" fill="#2698c6"/>
<rect x="1576.0" y="907.2" width="61.0" height="2.9" fill="#2698c6"/>
<rect x="1573.0" y="907.2" width="4.3" height="2.9" fill="#3a70a6"/>
<rect x="1587.8" y="907.2" width="23.3" height="2.9" fill="#2698c6"/>
<rect x="1576.0" y="909.8" width="57.5" height="2.9" fill="#2698c6"/>
<rect x="1573.0" y="909.8" width="6.5" height="2.9" fill="#3c6499"/>
<rect x="1576.0" y="912.4" width="56.7" height="2.9" fill="#2698c6"/>
<rect x="1573.0" y="912.4" width="3.9" height="2.9" fill="#3a70a6"/>
<rect x="1592.5" y="912.4" width="20.9" height="2.9" fill="#27a2d2"/>
<rect x="1576.0" y="915.0" width="49.0" height="2.9" fill="#2e88bc"/>
<rect x="1573.0" y="915.0" width="3.2" height="2.9" fill="#3a70a6"/>
<rect x="1603.5" y="915.0" width="19.5" height="2.9" fill="#2698c6"/>
<rect x="1576.0" y="917.6" width="46.3" height="2.9" fill="#2e88bc"/>
<rect x="1573.0" y="917.6" width="4.3" height="2.9" fill="#3a70a6"/>
<rect x="1576.0" y="920.2" width="47.2" height="2.9" fill="#2e88bc"/>
<rect x="1573.0" y="920.2" width="5.4" height="2.9" fill="#3a70a6"/>
<rect x="1576.0" y="922.8" width="44.7" height="2.9" fill="#2698c6"/>
<rect x="1573.0" y="922.8" width="6.7" height="2.9" fill="#3a70a6"/>
<rect x="1576.0" y="925.4" width="47.0" height="2.9" fill="#2698c6"/>
<rect x="1573.0" y="925.4" width="6.2" height="2.9" fill="#3a70a6"/>
<rect x="1576.0" y="928.0" width="44.8" height="2.9" fill="#2698c6"/>
<rect x="1573.0" y="928.0" width="4.3" height="2.9" fill="#3c6499"/>
<rect x="1576.0" y="930.6" width="39.7" height="2.9" fill="#2698c6"/>
<rect x="1573.0" y="930.6" width="5.5" height="2.9" fill="#3a70a6"/>
<rect x="1582.4" y="930.6" width="18.8" height="2.9" fill="#27a2d2"/>
<rect x="1576.0" y="933.2" width="42.6" height="2.9" fill="#2698c6"/>
<rect x="1573.0" y="933.2" width="4.2" height="2.9" fill="#3a70a6"/>
<rect x="1591.5" y="933.2" width="17.5" height="2.9" fill="#2e88bc"/>
<rect x="1576.0" y="935.8" width="40.6" height="2.9" fill="#2698c6"/>
<rect x="1573.0" y="935.8" width="4.2" height="2.9" fill="#3a70a6"/>
<rect x="1588.4" y="935.8" width="25.0" height="2.9" fill="#2698c6"/>
<rect x="1576.0" y="938.4" width="37.6" height="2.9" fill="#2698c6"/>
<rect x="1573.0" y="938.4" width="4.4" height="2.9" fill="#3c6499"/>
<rect x="1576.0" y="941.0" width="35.0" height="2.9" fill="#2698c6"/>
<rect x="1573.0" y="941.0" width="3.9" height="2.9" fill="#3a70a6"/>
<rect x="1576.0" y="943.6" width="37.3" height="2.9" fill="#2698c6"/>
<rect x="1573.0" y="943.6" width="6.0" height="2.9" fill="#3c6499"/>
<rect x="1576.0" y="946.2" width="36.9" height="2.9" fill="#2698c6"/>
<rect x="1573.0" y="946.2" width="3.6" height="2.9" fill="#3a70a6"/>
<rect x="1587.5" y="946.2" width="18.0" height="2.9" fill="#27a2d2"/>
<rect x="1576.0" y="948.8" width="35.8" height="2.9" fill="#2698c6"/>
<rect x="1573.0" y="948.8" width="5.4" height="2.9" fill="#3c6499"/>
<rect x="1576.0" y="951.4" width="35.3" height="2.9" fill="#2698c6"/>
<rect x="1573.0" y="951.4" width="6.8" height="2.9" fill="#3c6499"/>
<rect x="1576.0" y="954.0" width="32.0" height="2.9" fill="#2698c6"/>
<rect x="1573.0" y="954.0" width="3.2" height="2.9" fill="#3a70a6"/>
<rect x="1599.0" y="954.0" width="7.0" height="2.9" fill="#27a2d2"/>
<rect x="1576.0" y="956.6" width="35.4" height="2.9" fill="#2698c6"/>
<rect x="1573.0" y="956.6" width="4.8" height="2.9" fill="#3a70a6"/>
<rect x="1587.4" y="956.6" width="15.5" height="2.9" fill="#2698c6"/>
<rect x="1576.0" y="959.2" width="36.4" height="2.9" fill="#2698c6"/>
<rect x="1573.0" y="959.2" width="5.4" height="2.9" fill="#3a70a6"/>
<rect x="1576.0" y="961.8" width="43.3" height="2.9" fill="#2698c6"/>
<rect x="1573.0" y="961.8" width="3.9" height="2.9" fill="#3c6499"/>
<rect x="1581.8" y="961.8" width="13.4" height="2.9" fill="#2698c6"/>
<rect x="1576.0" y="964.4" width="39.2" height="2.9" fill="#2698c6"/>
<rect x="1573.0" y="964.4" width="4.5" height="2.9" fill="#3c6499"/>
<rect x="1582.3" y="964.4" width="14.2" height="2.9" fill="#27a2d2"/>
<rect x="1576.0" y="967.0" width="45.2" height="2.9" fill="#2698c6"/>
<rect x="1573.0" y="967.0" width="5.9" height="2.9" fill="#3c6499"/>
<rect x="1580.9" y="967.0" width="11.1" height="2.9" fill="#27a2d2"/>
<rect x="1576.0" y="969.6" width="47.6" height="2.9" fill="#2698c6"/>
<rect x="1573.0" y="969.6" width="3.3" height="2.9" fill="#3a70a6"/>
<rect x="1596.5" y="969.6" width="19.1" height="2.9" fill="#2698c6"/>
<rect x="1576.0" y="972.2" width="45.2" height="2.9" fill="#2698c6"/>
<rect x="1573.0" y="972.2" width="3.8" height="2.9" fill="#3c6499"/>
<rect x="1576.0" y="974.8" width="42.5" height="2.9" fill="#2698c6"/>
<rect x="1573.0" y="974.8" width="5.3" height="2.9" fill="#3a70a6"/>
<rect x="1576.0" y="977.4" width="43.5" height="2.9" fill="#2698c6"/>
<rect x="1573.0" y="977.4" width="4.2" height="2.9" fill="#3a70a6"/>
<rect x="1583.8" y="977.4" width="10.1" height="2.9" fill="#27a2d2"/>
<rect x="1576.0" y="980.0" width="43.2" height="2.9" fill="#2698c6"/>
<rect x="1573.0" y="980.0" width="4.2" height="2.9" fill="#3a70a6"/>
<rect x="1584.2" y="980.0" width="19.6" height="2.9" fill="#2698c6"/>
<rect x="1576.0" y="982.6" width="45.2" height="2.9" fill="#2698c6"/>
<rect x="1573.0" y="982.6" width="4.0" height="2.9" fill="#3a70a6"/>
<rect x="1576.0" y="985.2" width="46.0" height="2.9" fill="#2698c6"/>
<rect x="1573.0" y="985.2" width="3.4" height="2.9" fill="#3a70a6"/>
<rect x="1588.3" y="985.2" width="15.6" height="2.9" fill="#27a2d2"/>
<rect x="1576.0" y="987.8" width="43.2" height="2.9" fill="#2698c6"/>
<rect x="1573.0" y="987.8" width="4.6" height="2.9" fill="#3c6499"/>
<rect x="1600.3" y="987.8" width="16.9" height="2.9" fill="#2698c6"/>
<rect x="1576.0" y="990.4" width="48.6" height="2.9" fill="#2698c6"/>
<rect x="1573.0" y="990.4" width="6.5" height="2.9" fill="#3a70a6"/>
<rect x="1596.7" y="990.4" width="14.9" height="2.9" fill="#2698c6"/>
<rect x="1576.0" y="993.0" width="43.5" height="2.9" fill="#27a2d2"/>
<rect x="1573.0" y="993.0" width="5.8" height="2.9" fill="#3a70a6"/>
<rect x="1600.8" y="993.0" width="15.3" height="2.9" fill="#2698c6"/>
<rect x="1576.0" y="995.6" width="44.1" height="2.9" fill="#27a2d2"/>
<rect x="1573.0" y="995.6" width="5.5" height="2.9" fill="#3c6499"/>
<rect x="1600.2" y="995.6" width="14.3" height="2.9" fill="#2698c6"/>
<rect x="1576.0" y="998.2" width="45.6" height="2.9" fill="#27a2d2"/>
<rect x="1573.0" y="998.2" width="3.6" height="2.9" fill="#3a70a6"/>
<rect x="1589.5" y="998.2" width="23.6" height="2.9" fill="#27a2d2"/>
<rect x="1576.0" y="1000.8" width="48.2" height="2.9" fill="#27a2d2"/>
<rect x="1573.0" y="1000.8" width="4.6" height="2.9" fill="#3a70a6"/>
<rect x="1597.9" y="1000.8" width="24.3" height="2.9" fill="#27a2d2"/>
<rect x="1576.0" y="1003.4" width="48.5" height="2.9" fill="#2698c6"/>
<rect x="1573.0" y="1003.4" width="6.6" height="2.9" fill="#3c6499"/>
<rect x="1576.0" y="1006.0" width="47.3" height="2.9" fill="#27a2d2"/>
<rect x="1573.0" y="1006.0" width="6.5" height="2.9" fill="#3a70a6"/>
<rect x="1599.5" y="1006.0" width="18.6" height="2.9" fill="#2698c6"/>
<rect x="1576.0" y="1008.6" width="46.0" height="2.9" fill="#2698c6"/>
<rect x="1573.0" y="1008.6" width="5.7" height="2.9" fill="#3c6499"/>
<rect x="1587.2" y="1008.6" width="22.3" height="2.9" fill="#27a2d2"/>
<rect x="1576.0" y="1011.2" width="44.8" height="2.9" fill="#2698c6"/>
<rect x="1573.0" y="1011.2" width="6.2" height="2.9" fill="#3a70a6"/>
<rect x="1601.8" y="1011.2" width="17.0" height="2.9" fill="#27a2d2"/>
<rect x="1576.0" y="1013.8" width="45.1" height="2.9" fill="#2698c6"/>
<rect x="1573.0" y="1013.8" width="4.6" height="2.9" fill="#3a70a6"/>
<rect x="1582.9" y="1013.8" width="10.7" height="2.9" fill="#27a2d2"/>
<rect x="1576.0" y="1016.4" width="47.5" height="2.9" fill="#2698c6"/>
<rect x="1573.0" y="1016.4" width="5.3" height="2.9" fill="#3c6499"/>
<rect x="1576.0" y="1019.0" width="44.3" height="2.9" fill="#2698c6"/>
<rect x="1573.0" y="1019.0" width="3.3" height="2.9" fill="#3a70a6"/>
<rect x="1581.9" y="1019.0" width="11.1" height="2.9" fill="#2698c6"/>
<rect x="1576.0" y="1021.6" width="46.1" height="2.9" fill="#2698c6"/>
<rect x="1573.0" y="1021.6" width="4.1" height="2.9" fill="#3c6499"/>
<rect x="1576.0" y="1024.2" width="43.7" height="2.9" fill="#2e88bc"/>
<rect x="1573.0" y="1024.2" width="3.3" height="2.9" fill="#3a70a6"/>
<rect x="1594.0" y="1024.2" width="23.2" height="2.9" fill="#2e88bc"/>
<rect x="1576.0" y="1026.8" width="44.9" height="2.9" fill="#2e88bc"/>
<rect x="1573.0" y="1026.8" width="5.3" height="2.9" fill="#3c6499"/>
<rect x="1601.1" y="1026.8" width="14.4" height="2.9" fill="#2698c6"/>
<rect x="1576.0" y="1029.4" width="45.6" height="2.9" fill="#2e88bc"/>
<rect x="1573.0" y="1029.4" width="5.4" height="2.9" fill="#3a70a6"/>
<rect x="1576.0" y="1032.0" width="44.7" height="2.9" fill="#2e88bc"/>
<rect x="1573.0" y="1032.0" width="5.3" height="2.9" fill="#3a70a6"/>
<rect x="1576.0" y="1034.6" width="45.1" height="2.9" fill="#2e88bc"/>
<rect x="1573.0" y="1034.6" width="5.6" height="2.9" fill="#3a70a6"/>
<rect x="1590.9" y="1034.6" width="13.4" height="2.9" fill="#2e88bc"/>
<rect x="1576.0" y="1037.2" width="44.8" height="2.9" fill="#2e88bc"/>
<rect x="1573.0" y="1037.2" width="3.5" height="2.9" fill="#3a70a6"/>
<rect x="1594.3" y="1037.2" width="11.3" height="2.9" fill="#2e88bc"/>
<rect x="1576.0" y="1039.8" width="44.1" height="2.9" fill="#2698c6"/>
<rect x="1573.0" y="1039.8" width="3.1" height="2.9" fill="#3a70a6"/>
<rect x="1576.0" y="1042.4" width="42.6" height="2.9" fill="#2698c6"/>
<rect x="1573.0" y="1042.4" width="3.9" height="2.9" fill="#3a70a6"/>
<rect x="1587.6" y="1042.4" width="17.6" height="2.9" fill="#2698c6"/>
<rect x="1576.0" y="1045.0" width="43.1" height="2.9" fill="#2698c6"/>
<rect x="1573.0" y="1045.0" width="5.8" height="2.9" fill="#3a70a6"/>
<rect x="1586.1" y="1045.0" width="15.2" height="2.9" fill="#2698c6"/>
<rect x="1576.0" y="1047.6" width="43.0" height="2.9" fill="#2698c6"/>
<rect x="1573.0" y="1047.6" width="3.4" height="2.9" fill="#3c6499"/>
<rect x="1576.0" y="1050.2" width="46.5" height="2.9" fill="#2698c6"/>
<rect x="1573.0" y="1050.2" width="5.8" height="2.9" fill="#3a70a6"/>
<rect x="1588.5" y="1050.2" width="25.1" height="2.9" fill="#2698c6"/>
<rect x="1576.0" y="1052.8" width="43.6" height="2.9" fill="#2698c6"/>
<rect x="1573.0" y="1052.8" width="4.7" height="2.9" fill="#3a70a6"/>
<rect x="1583.0" y="1052.8" width="19.0" height="2.9" fill="#2698c6"/>
<rect x="1576.0" y="1055.4" width="44.3" height="2.9" fill="#2698c6"/>
<rect x="1573.0" y="1055.4" width="6.2" height="2.9" fill="#3c6499"/>
<rect x="1592.7" y="1055.4" width="25.6" height="2.9" fill="#2698c6"/>
<rect x="1576.0" y="1058.0" width="45.0" height="2.9" fill="#2698c6"/>
<rect x="1573.0" y="1058.0" width="6.1" height="2.9" fill="#3a70a6"/>
<rect x="1576.0" y="1060.6" width="43.1" height="2.9" fill="#2698c6"/>
<rect x="1573.0" y="1060.6" width="4.6" height="2.9" fill="#3a70a6"/>
<rect x="1595.1" y="1060.6" width="17.1" height="2.9" fill="#2e88bc"/>
<rect x="1576.0" y="1063.2" width="44.4" height="2.9" fill="#2698c6"/>
<rect x="1573.0" y="1063.2" width="4.0" height="2.9" fill="#3c6499"/>
<rect x="1602.6" y="1063.2" width="15.8" height="2.9" fill="#2698c6"/>
<rect x="1576.0" y="1065.8" width="43.6" height="2.9" fill="#2698c6"/>
<rect x="1573.0" y="1065.8" width="6.5" height="2.9" fill="#3c6499"/>
<rect x="1576.0" y="1068.4" width="43.5" height="2.9" fill="#2698c6"/>
<rect x="1573.0" y="1068.4" width="5.7" height="2.9" fill="#3a70a6"/>
<rect x="1597.6" y="1068.4" width="19.9" height="2.9" fill="#2698c6"/>
<rect x="1576.0" y="1071.0" width="39.8" height="2.9" fill="#2698c6"/>
<rect x="1573.0" y="1071.0" width="3.9" height="2.9" fill="#3a70a6"/>
<rect x="1576.0" y="1073.6" width="39.8" height="2.9" fill="#2698c6"/>
<rect x="1573.0" y="1073.6" width="7.0" height="2.9" fill="#3c6499"/>
<rect x="1576.0" y="1076.2" width="41.7" height="2.9" fill="#2e88bc"/>
<rect x="1573.0" y="1076.2" width="4.0" height="2.9" fill="#3c6499"/>
<rect x="1576.0" y="1078.8" width="38.7" height="2.9" fill="#2698c6"/>
<rect x="1573.0" y="1078.8" width="6.6" height="2.9" fill="#3a70a6"/>
<rect x="1601.0" y="1078.8" width="11.7" height="2.9" fill="#2e88bc"/>
<rect x="1576.0" y="1081.4" width="38.6" height="2.9" fill="#2e88bc"/>
<rect x="1573.0" y="1081.4" width="5.2" height="2.9" fill="#3a70a6"/>
<rect x="1584.1" y="1081.4" width="22.0" height="2.9" fill="#2e88bc"/>
<rect x="1576.0" y="1084.0" width="36.6" height="2.9" fill="#2698c6"/>
<rect x="1573.0" y="1084.0" width="5.3" height="2.9" fill="#3c6499"/>
<rect x="1576.0" y="1086.6" width="36.6" height="2.9" fill="#2698c6"/>
<rect x="1573.0" y="1086.6" width="5.7" height="2.9" fill="#3a70a6"/>
<rect x="1584.3" y="1086.6" width="23.8" height="2.9" fill="#2698c6"/>
<rect x="1576.0" y="1089.2" width="37.0" height="2.9" fill="#2698c6"/>
<rect x="1573.0" y="1089.2" width="3.3" height="2.9" fill="#3a70a6"/>
<rect x="1588.5" y="1089.2" width="21.7" height="2.9" fill="#2698c6"/>
<rect x="1576.0" y="1091.8" width="40.1" height="2.9" fill="#2698c6"/>
<rect x="1573.0" y="1091.8" width="3.5" height="2.9" fill="#3a70a6"/>
<rect x="1592.2" y="1091.8" width="13.7" height="2.9" fill="#2698c6"/>
<rect x="1576.0" y="1094.4" width="40.5" height="2.9" fill="#2698c6"/>
<rect x="1573.0" y="1094.4" width="6.3" height="2.9" fill="#3a70a6"/>
<rect x="1588.3" y="1094.4" width="19.2" height="2.9" fill="#2e88bc"/>
<rect x="1576.0" y="1097.0" width="42.2" height="2.9" fill="#2698c6"/>
<rect x="1573.0" y="1097.0" width="4.7" height="2.9" fill="#3a70a6"/>
<rect x="1590.0" y="1097.0" width="17.8" height="2.9" fill="#27a2d2"/>
<rect x="1576.0" y="1099.6" width="40.1" height="2.9" fill="#2698c6"/>
<rect x="1573.0" y="1099.6" width="3.7" height="2.9" fill="#3a70a6"/>
<rect x="1576.0" y="1102.2" width="39.7" height="2.9" fill="#2e88bc"/>
<rect x="1573.0" y="1102.2" width="6.7" height="2.9" fill="#3c6499"/>
<rect x="1593.2" y="1102.2" width="20.6" height="2.9" fill="#2698c6"/>
<rect x="1576.0" y="1104.8" width="38.6" height="2.9" fill="#2e88bc"/>
<rect x="1573.0" y="1104.8" width="6.5" height="2.9" fill="#3c6499"/>
<rect x="1576.0" y="1107.4" width="39.2" height="2.9" fill="#2e88bc"/>
<rect x="1573.0" y="1107.4" width="3.8" height="2.9" fill="#3a70a6"/>
<rect x="1576.0" y="1110.0" width="39.4" height="2.9" fill="#2e88bc"/>
<rect x="1573.0" y="1110.0" width="5.7" height="2.9" fill="#3c6499"/>
<rect x="1576.0" y="1112.6" width="38.6" height="2.9" fill="#2e88bc"/>
<rect x="1573.0" y="1112.6" width="6.1" height="2.9" fill="#3a70a6"/>
<rect x="1582.9" y="1112.6" width="15.2" height="2.9" fill="#2e88bc"/>
<rect x="1576.0" y="1115.2" width="35.7" height="2.9" fill="#2698c6"/>
<rect x="1573.0" y="1115.2" width="6.1" height="2.9" fill="#3c6499"/>
<rect x="1601.0" y="1115.2" width="8.7" height="2.9" fill="#2698c6"/>
<rect x="1576.0" y="1117.8" width="34.3" height="2.9" fill="#2698c6"/>
<rect x="1573.0" y="1117.8" width="5.6" height="2.9" fill="#3a70a6"/>
<rect x="1576.0" y="1120.4" width="32.5" height="2.9" fill="#2698c6"/>
<rect x="1573.0" y="1120.4" width="4.4" height="2.9" fill="#3c6499"/>
<rect x="1576.0" y="1123.0" width="37.8" height="2.9" fill="#2698c6"/>
<rect x="1573.0" y="1123.0" width="6.0" height="2.9" fill="#3a70a6"/>
<rect x="1576.0" y="1125.6" width="33.6" height="2.9" fill="#2698c6"/>
<rect x="1573.0" y="1125.6" width="3.1" height="2.9" fill="#3a70a6"/>
<rect x="1594.0" y="1125.6" width="13.7" height="2.9" fill="#27a2d2"/>
<rect x="1576.0" y="1128.2" width="24.7" height="2.9" fill="#2698c6"/>
<rect x="1573.0" y="1128.2" width="7.0" height="2.9" fill="#3a70a6"/>
<rect x="1589.7" y="1128.2" width="8.9" height="2.9" fill="#2698c6"/>
<ellipse cx="1641.6" cy="931.7" rx="13.4" ry="9.0" fill="#2e88bc"/>
<ellipse cx="1641.6" cy="969.0" rx="12.5" ry="9.0" fill="#2e88bc"/>
<ellipse cx="1643.4" cy="985.0" rx="21.0" ry="7.0" fill="#3a70a6"/>
<ellipse cx="1643.4" cy="1011.8" rx="21.0" ry="9.0" fill="#2e88bc"/>
<ellipse cx="1641.6" cy="1033.2" rx="13.4" ry="5.4" fill="#337cb0"/>
<ellipse cx="1638.0" cy="1079.8" rx="9.8" ry="2.7" fill="#3a70a6"/>
<ellipse cx="1667.4" cy="917.4" rx="19.6" ry="6.2" fill="#2698c6"/>
<ellipse cx="1668.0" cy="948.6" rx="19.6" ry="6.8" fill="#52f23a"/>
<ellipse cx="1668.0" cy="959.8" rx="19.6" ry="5.4" fill="#2aaddb"/>
<ellipse cx="1667.4" cy="1001.1" rx="19.6" ry="6.2" fill="#2698c6"/>
<ellipse cx="1667.4" cy="1020.7" rx="19.6" ry="6.2" fill="#2698c6"/>
<ellipse cx="1659.0" cy="1044.7" rx="21.0" ry="6.8" fill="#3dbb2c"/>
<ellipse cx="1659.0" cy="1055.4" rx="21.0" ry="6.8" fill="#36a628"/>
<ellipse cx="1673.6" cy="1066.1" rx="21.0" ry="6.8" fill="#2aaddb"/>
<ellipse cx="1699.5" cy="1075.0" rx="19.6" ry="6.8" fill="#2698c6"/>
<ellipse cx="1703.0" cy="922.0" rx="16.5" ry="11.5" fill="#2e88bc"/>
<ellipse cx="1703.0" cy="940.0" rx="16.5" ry="11.5" fill="#2e88bc"/>
<ellipse cx="1703.0" cy="958.0" rx="16.5" ry="11.5" fill="#2e88bc"/>
<ellipse cx="1703.0" cy="975.0" rx="16.5" ry="11.5" fill="#2e88bc"/>
<ellipse cx="1702.0" cy="1003.0" rx="17.0" ry="10.7" fill="#2e88bc"/>
<ellipse cx="1702.0" cy="1035.3" rx="17.0" ry="5.7" fill="#337cb0"/>
<ellipse cx="1704.0" cy="1065.0" rx="15.0" ry="9.0" fill="#2e88bc"/>
<ellipse cx="1704.0" cy="1206.0" rx="9.0" ry="12.5" fill="#2e88bc"/>
<ellipse cx="1586.4" cy="1002.9" rx="11.6" ry="6.2" fill="#42cc30"/>
<ellipse cx="1583.0" cy="1000.0" rx="6.0" ry="4.0" fill="#52f23a"/>
<ellipse cx="1587.3" cy="1018.6" rx="7.1" ry="2.7" fill="#e2e43a"/>
<ellipse cx="1590.8" cy="1023.4" rx="7.1" ry="3.9" fill="#4adf35"/>
<ellipse cx="1586.4" cy="1035.0" rx="8.0" ry="3.2" fill="#2a821d"/>
<ellipse cx="1584.6" cy="1047.4" rx="9.8" ry="7.1" fill="#4adf35"/>
<ellipse cx="1604.2" cy="1047.4" rx="3.9" ry="3.4" fill="#52f23a"/>
<ellipse cx="1580.0" cy="1057.2" rx="4.5" ry="1.6" fill="#52f23a"/>
<rect x="1575.0" y="907.0" width="5.0" height="0.9" fill="#42cc30"/>
<ellipse cx="1623.8" cy="1138.3" rx="24.0" ry="8.0" fill="#2698c6"/>
<ellipse cx="1611.3" cy="1156.0" rx="28.5" ry="9.0" fill="#2e88bc"/>
<ellipse cx="1618.4" cy="1172.0" rx="46.0" ry="9.0" fill="#2698c6"/>
<ellipse cx="1613.0" cy="1184.5" rx="35.6" ry="9.0" fill="#2698c6"/>
<ellipse cx="1590.0" cy="1165.0" rx="17.0" ry="20.0" fill="#337cb0"/>
<ellipse cx="1657.6" cy="1177.0" rx="7.1" ry="2.1" fill="#3a70a6"/>
<ellipse cx="1620.0" cy="1160.0" rx="22.0" ry="14.0" fill="#27a2d2"/>
<ellipse cx="1591.4" cy="1215.0" rx="13.4" ry="5.4" fill="#3a70a6"/>
<ellipse cx="1593.0" cy="1223.5" rx="13.4" ry="4.6" fill="#2e88bc"/>
<ellipse cx="1619.0" cy="1265.5" rx="11.0" ry="10.3" fill="#2e88bc"/>
<rect x="1608.0" y="1256.0" width="22.0" height="19.0" fill="#2e88bc"/>
<ellipse cx="1619.0" cy="1283.7" rx="11.0" ry="3.0" fill="#337cb0"/>
<ellipse cx="1619.0" cy="1291.7" rx="11.0" ry="3.0" fill="#337cb0"/>
<ellipse cx="1628.8" cy="1361.2" rx="15.0" ry="13.4" fill="#2e88bc"/>
<rect x="1614.0" y="1363.0" width="29.0" height="3.6" fill="#52f23a"/>
<ellipse cx="1663.0" cy="1368.3" rx="15.0" ry="10.7" fill="#2698c6"/>
<ellipse cx="1663.0" cy="1386.1" rx="15.0" ry="10.3" fill="#27a2d2"/>
<ellipse cx="1663.0" cy="1414.6" rx="15.0" ry="13.4" fill="#337cb0"/>
<ellipse cx="1702.0" cy="1444.4" rx="17.0" ry="6.2" fill="#2698c6"/>
<ellipse cx="1622.9" cy="1503.5" rx="19.6" ry="7.5" fill="#2e88bc"/>
<ellipse cx="1622.3" cy="1493.9" rx="19.6" ry="10.7" fill="#36a628"/>
<ellipse cx="1622.3" cy="1490.0" rx="18.0" ry="6.0" fill="#3dbb2c"/>
<rect x="1603.5" y="1498.5" width="38.0" height="2.8" fill="#52f23a"/>
<line x1="1620.5" y1="221" x2="1620.5" y2="1759" stroke="#fff" stroke-width="1.3"/>
<line x1="1670.5" y1="221" x2="1670.5" y2="1759" stroke="#fff" stroke-width="1.3"/>
<text class="sans" transform="translate(1596.5,223) rotate(90)" font-size="25" fill="#fff">5 km</text>
<text class="sans" transform="translate(1646.5,223) rotate(90)" font-size="25" fill="#fff">10 km</text>
<text class="sans" transform="translate(1697,223) rotate(90)" font-size="25" fill="#fff">15 km</text>
</g>
<rect x="1719" y="219" width="39.8" height="1542" fill="#000"/>
<rect x="1721.5" y="1640.00" width="35.0" height="118.50" fill="#3e416f"/>
<rect x="1721.5" y="1568.00" width="35.0" height="72.00" fill="#3d4c7c"/>
<rect x="1721.5" y="1495.00" width="35.0" height="73.00" fill="#3d588a"/>
<rect x="1721.5" y="1423.00" width="35.0" height="72.00" fill="#3c6499"/>
<rect x="1721.5" y="1351.00" width="35.0" height="72.00" fill="#3a70a6"/>
<rect x="1721.5" y="1303.00" width="35.0" height="48.00" fill="#337cb0"/>
<rect x="1721.5" y="1255.00" width="35.0" height="48.00" fill="#2e88bc"/>
<rect x="1721.5" y="1207.00" width="35.0" height="48.00" fill="#2698c6"/>
<rect x="1721.5" y="1182.00" width="35.0" height="25.00" fill="#27a2d2"/>
<rect x="1721.5" y="1158.00" width="35.0" height="24.00" fill="#2aaddb"/>
<rect x="1721.5" y="1134.00" width="35.0" height="24.00" fill="#52f23a"/>
<rect x="1721.5" y="1110.00" width="35.0" height="24.00" fill="#4adf35"/>
<rect x="1721.5" y="1086.00" width="35.0" height="24.00" fill="#42cc30"/>
<rect x="1721.5" y="1062.00" width="35.0" height="24.00" fill="#3dbb2c"/>
<rect x="1721.5" y="1038.00" width="35.0" height="24.00" fill="#36a628"/>
<rect x="1721.5" y="1014.00" width="35.0" height="24.00" fill="#2f9620"/>
<rect x="1721.5" y="990.00" width="35.0" height="24.00" fill="#2a821d"/>
<rect x="1721.5" y="966.00" width="35.0" height="24.00" fill="#256f1b"/>
<rect x="1721.5" y="942.00" width="35.0" height="24.00" fill="#eeee3f"/>
<rect x="1721.5" y="918.00" width="35.0" height="24.00" fill="#e2e43a"/>
<rect x="1721.5" y="894.00" width="35.0" height="24.00" fill="#d6d932"/>
<rect x="1721.5" y="870.00" width="35.0" height="24.00" fill="#cfd02e"/>
<rect x="1721.5" y="845.00" width="35.0" height="25.00" fill="#c4c42c"/>
<rect x="1721.5" y="821.00" width="35.0" height="24.00" fill="#d0aa22"/>
<rect x="1721.5" y="797.00" width="35.0" height="24.00" fill="#d6951b"/>
<rect x="1721.5" y="773.00" width="35.0" height="24.00" fill="#dc7f17"/>
<rect x="1721.5" y="749.00" width="35.0" height="24.00" fill="#ea0a32"/>
<rect x="1721.5" y="725.00" width="35.0" height="24.00" fill="#cc001e"/>
<rect x="1721.5" y="701.00" width="35.0" height="24.00" fill="#c0001c"/>
<rect x="1721.5" y="677.00" width="35.0" height="24.00" fill="#b0000c"/>
<rect x="1721.5" y="653.00" width="35.0" height="24.00" fill="#9b0000"/>
<rect x="1721.5" y="629.00" width="35.0" height="24.00" fill="#c0005e"/>
<rect x="1721.5" y="605.00" width="35.0" height="24.00" fill="#dc0096"/>
<rect x="1721.5" y="581.00" width="35.0" height="24.00" fill="#ee00ee"/>
<rect x="1721.5" y="557.00" width="35.0" height="24.00" fill="#c800c8"/>
<rect x="1721.5" y="533.00" width="35.0" height="24.00" fill="#b400b4"/>
<rect x="1721.5" y="509.00" width="35.0" height="24.00" fill="#9b009b"/>
<rect x="1721.5" y="484.00" width="35.0" height="25.00" fill="#ffffff"/>
<rect x="1721.5" y="460.00" width="35.0" height="24.00" fill="#e0f5ec"/>
<rect x="1721.5" y="436.00" width="35.0" height="24.00" fill="#c6efdf"/>
<rect x="1721.5" y="412.00" width="35.0" height="24.00" fill="#b7ecd7"/>
<rect x="1721.5" y="388.00" width="35.0" height="24.00" fill="#a8e9cf"/>
<rect x="1721.5" y="340.00" width="35.0" height="48.00" fill="#99e4c6"/>
<rect x="1721.5" y="221.00" width="35.0" height="119.00" fill="#88ddbb"/>
<line x1="1758" y1="1687.9" x2="1767.6" y2="1687.9" stroke="#000" stroke-width="2"/><text class="sans" x="1780.5" y="1699.5" font-size="29.5" fill="#000" textLength="50.9" lengthAdjust="spacingAndGlyphs">−15</text>
<line x1="1758" y1="1607.7" x2="1767.6" y2="1607.7" stroke="#000" stroke-width="2"/><text class="sans" x="1780.5" y="1619.3" font-size="29.5" fill="#000" textLength="50.9" lengthAdjust="spacingAndGlyphs">−10</text>
<line x1="1758" y1="1527.4" x2="1767.6" y2="1527.4" stroke="#000" stroke-width="2"/><text class="sans" x="1780.5" y="1539.0" font-size="29.5" fill="#000" textLength="35.0" lengthAdjust="spacingAndGlyphs">−5</text>
<line x1="1758" y1="1447.2" x2="1767.6" y2="1447.2" stroke="#000" stroke-width="2"/><text class="sans" x="1780.5" y="1458.8" font-size="29.5" fill="#000" textLength="14.4" lengthAdjust="spacingAndGlyphs">0</text>
<line x1="1758" y1="1367.0" x2="1767.6" y2="1367.0" stroke="#000" stroke-width="2"/><text class="sans" x="1780.5" y="1378.6" font-size="29.5" fill="#000" textLength="14.4" lengthAdjust="spacingAndGlyphs">5</text>
<line x1="1758" y1="1286.7" x2="1767.6" y2="1286.7" stroke="#000" stroke-width="2"/><text class="sans" x="1780.5" y="1298.3" font-size="29.5" fill="#000" textLength="30.3" lengthAdjust="spacingAndGlyphs">10</text>
<line x1="1758" y1="1206.5" x2="1767.6" y2="1206.5" stroke="#000" stroke-width="2"/><text class="sans" x="1780.5" y="1218.1" font-size="29.5" fill="#000" textLength="30.3" lengthAdjust="spacingAndGlyphs">15</text>
<line x1="1758" y1="1126.3" x2="1767.6" y2="1126.3" stroke="#000" stroke-width="2"/><text class="sans" x="1780.5" y="1137.9" font-size="29.5" fill="#000" textLength="30.3" lengthAdjust="spacingAndGlyphs">20</text>
<line x1="1758" y1="1046.0" x2="1767.6" y2="1046.0" stroke="#000" stroke-width="2"/><text class="sans" x="1780.5" y="1057.6" font-size="29.5" fill="#000" textLength="30.3" lengthAdjust="spacingAndGlyphs">25</text>
<line x1="1758" y1="965.8" x2="1767.6" y2="965.8" stroke="#000" stroke-width="2"/><text class="sans" x="1780.5" y="977.4" font-size="29.5" fill="#000" textLength="30.3" lengthAdjust="spacingAndGlyphs">30</text>
<line x1="1758" y1="885.6" x2="1767.6" y2="885.6" stroke="#000" stroke-width="2"/><text class="sans" x="1780.5" y="897.2" font-size="29.5" fill="#000" textLength="30.3" lengthAdjust="spacingAndGlyphs">35</text>
<line x1="1758" y1="805.4" x2="1767.6" y2="805.4" stroke="#000" stroke-width="2"/><text class="sans" x="1780.5" y="817.0" font-size="29.5" fill="#000" textLength="30.3" lengthAdjust="spacingAndGlyphs">40</text>
<line x1="1758" y1="725.1" x2="1767.6" y2="725.1" stroke="#000" stroke-width="2"/><text class="sans" x="1780.5" y="736.7" font-size="29.5" fill="#000" textLength="30.3" lengthAdjust="spacingAndGlyphs">45</text>
<line x1="1758" y1="644.9" x2="1767.6" y2="644.9" stroke="#000" stroke-width="2"/><text class="sans" x="1780.5" y="656.5" font-size="29.5" fill="#000" textLength="30.3" lengthAdjust="spacingAndGlyphs">50</text>
<line x1="1758" y1="564.7" x2="1767.6" y2="564.7" stroke="#000" stroke-width="2"/><text class="sans" x="1780.5" y="576.3" font-size="29.5" fill="#000" textLength="30.3" lengthAdjust="spacingAndGlyphs">55</text>
<line x1="1758" y1="484.4" x2="1767.6" y2="484.4" stroke="#000" stroke-width="2"/><text class="sans" x="1780.5" y="496.0" font-size="29.5" fill="#000" textLength="30.3" lengthAdjust="spacingAndGlyphs">60</text>
<line x1="1758" y1="404.2" x2="1767.6" y2="404.2" stroke="#000" stroke-width="2"/><text class="sans" x="1780.5" y="415.8" font-size="29.5" fill="#000" textLength="30.3" lengthAdjust="spacingAndGlyphs">65</text>
<line x1="1758" y1="324.0" x2="1767.6" y2="324.0" stroke="#000" stroke-width="2"/><text class="sans" x="1780.5" y="335.6" font-size="29.5" fill="#000" textLength="30.3" lengthAdjust="spacingAndGlyphs">70</text>
<line x1="1758" y1="243.8" x2="1767.6" y2="243.8" stroke="#000" stroke-width="2"/><text class="sans" x="1780.5" y="255.3" font-size="29.5" fill="#000" textLength="30.3" lengthAdjust="spacingAndGlyphs">75</text>
<defs><g id="coat" fill="none" stroke-linecap="round"><path d="M-9.8 -40.4L-24.5 -36.2M-10.1 -41.5L-22.2 -39.5M-10.2 -42.7L-25.5 -42.0M-10.2 -43.9L-22.4 -44.7M-10.0 -45.1L-25.1 -47.8M-9.7 -46.2L-21.5 -49.8M-9.3 -47.3L-23.3 -53.5M-8.8 -48.4L-19.4 -54.6M-8.1 -49.3L-20.4 -58.5M-7.4 -50.2L-16.3 -58.7M-6.5 -51.0L-16.3 -62.8M-5.6 -51.7L-12.3 -62.0M-4.6 -52.3L-11.4 -66.0M-3.5 -52.8L-7.6 -64.4M-2.3 -53.1L-5.8 -68.0M-1.2 -53.3L-2.6 -65.5M0.0 -53.4L0.0 -68.7M1.2 -53.3L2.6 -65.5M2.3 -53.1L5.8 -68.0M3.5 -52.8L7.6 -64.4M4.6 -52.3L11.4 -66.0M5.6 -51.7L12.3 -62.0M6.5 -51.0L16.3 -62.8M7.4 -50.2L16.3 -58.7M8.1 -49.3L20.4 -58.5M8.8 -48.4L19.4 -54.6M9.3 -47.3L23.3 -53.5M9.7 -46.2L21.5 -49.8M10.0 -45.1L25.1 -47.8M10.2 -43.9L22.4 -44.7M10.2 -42.7L25.5 -42.0M10.1 -41.5L22.2 -39.5M9.8 -40.4L24.5 -36.2" stroke="#46517e" stroke-width="1.05"/><circle cx="0" cy="-43.2" r="9.6" fill="#e6e6e6" stroke="none"/><ellipse cx="-4" cy="-44.6" rx="2.6" ry="1.3" fill="#2b3562" stroke="none"/><ellipse cx="4" cy="-44.6" rx="2.6" ry="1.3" fill="#2b3562" stroke="none"/><path d="M-1.2 -43.3L-1.6 -40.4L1.6 -40.4L1.2 -43.3" stroke="#46517e" stroke-width="0.7"/><g stroke="#46517e" stroke-width="0.75" fill="#e6e6e6"><ellipse cx="-10.0" cy="41.4" rx="3.8" ry="1.5" transform="rotate(-128 -10.0 41.4)"/><ellipse cx="-11.3" cy="45.3" rx="3.8" ry="1.5" transform="rotate(-185 -11.3 45.3)"/><ellipse cx="-14.1" cy="39.1" rx="3.8" ry="1.5" transform="rotate(-119 -14.1 39.1)"/><ellipse cx="-16.0" cy="42.8" rx="3.8" ry="1.5" transform="rotate(-176 -16.0 42.8)"/><ellipse cx="-18.0" cy="36.1" rx="3.8" ry="1.5" transform="rotate(-110 -18.0 36.1)"/><ellipse cx="-20.5" cy="39.5" rx="3.8" ry="1.5" transform="rotate(-167 -20.5 39.5)"/><ellipse cx="-21.5" cy="32.3" rx="3.8" ry="1.5" transform="rotate(-101 -21.5 32.3)"/><ellipse cx="-24.5" cy="35.4" rx="3.8" ry="1.5" transform="rotate(-158 -24.5 35.4)"/><ellipse cx="-24.7" cy="28.0" rx="3.8" ry="1.5" transform="rotate(-94 -24.7 28.0)"/><ellipse cx="-28.0" cy="30.6" rx="3.8" ry="1.5" transform="rotate(-151 -28.0 30.6)"/><ellipse cx="-27.3" cy="23.1" rx="3.8" ry="1.5" transform="rotate(-87 -27.3 23.1)"/><ellipse cx="-31.0" cy="25.2" rx="3.8" ry="1.5" transform="rotate(-144 -31.0 25.2)"/><ellipse cx="-29.4" cy="17.7" rx="3.8" ry="1.5" transform="rotate(-80 -29.4 17.7)"/><ellipse cx="-33.4" cy="19.4" rx="3.8" ry="1.5" transform="rotate(-137 -33.4 19.4)"/><ellipse cx="-31.0" cy="12.0" rx="3.8" ry="1.5" transform="rotate(-74 -31.0 12.0)"/><ellipse cx="-35.2" cy="13.1" rx="3.8" ry="1.5" transform="rotate(-130 -35.2 13.1)"/><ellipse cx="-31.9" cy="6.1" rx="3.8" ry="1.5" transform="rotate(-68 -31.9 6.1)"/><ellipse cx="-36.2" cy="6.6" rx="3.8" ry="1.5" transform="rotate(-124 -36.2 6.6)"/><ellipse cx="-32.2" cy="0.0" rx="3.8" ry="1.5" transform="rotate(-62 -32.2 0.0)"/><ellipse cx="-36.6" cy="0.0" rx="3.8" ry="1.5" transform="rotate(-118 -36.6 0.0)"/><ellipse cx="-31.9" cy="-6.1" rx="3.8" ry="1.5" transform="rotate(-56 -31.9 -6.1)"/><ellipse cx="-36.2" cy="-6.6" rx="3.8" ry="1.5" transform="rotate(-112 -36.2 -6.6)"/><ellipse cx="-31.0" cy="-12.0" rx="3.8" ry="1.5" transform="rotate(-50 -31.0 -12.0)"/><ellipse cx="-35.2" cy="-13.1" rx="3.8" ry="1.5" transform="rotate(-106 -35.2 -13.1)"/><ellipse cx="-29.4" cy="-17.7" rx="3.8" ry="1.5" transform="rotate(-44 -29.4 -17.7)"/><ellipse cx="-33.4" cy="-19.4" rx="3.8" ry="1.5" transform="rotate(-99 -33.4 -19.4)"/><ellipse cx="-27.3" cy="-23.1" rx="3.8" ry="1.5" transform="rotate(-37 -27.3 -23.1)"/><ellipse cx="-31.0" cy="-25.2" rx="3.8" ry="1.5" transform="rotate(-92 -31.0 -25.2)"/><ellipse cx="-24.7" cy="-28.0" rx="3.8" ry="1.5" transform="rotate(-30 -24.7 -28.0)"/><ellipse cx="-28.0" cy="-30.6" rx="3.8" ry="1.5" transform="rotate(-85 -28.0 -30.6)"/><ellipse cx="-21.5" cy="-32.3" rx="3.8" ry="1.5" transform="rotate(-23 -21.5 -32.3)"/><ellipse cx="-24.5" cy="-35.4" rx="3.8" ry="1.5" transform="rotate(-78 -24.5 -35.4)"/><ellipse cx="10.0" cy="41.4" rx="3.8" ry="1.5" transform="rotate(308 10.0 41.4)"/><ellipse cx="11.3" cy="45.3" rx="3.8" ry="1.5" transform="rotate(365 11.3 45.3)"/><ellipse cx="14.1" cy="39.1" rx="3.8" ry="1.5" transform="rotate(299 14.1 39.1)"/><ellipse cx="16.0" cy="42.8" rx="3.8" ry="1.5" transform="rotate(356 16.0 42.8)"/><ellipse cx="18.0" cy="36.1" rx="3.8" ry="1.5" transform="rotate(290 18.0 36.1)"/><ellipse cx="20.5" cy="39.5" rx="3.8" ry="1.5" transform="rotate(347 20.5 39.5)"/><ellipse cx="21.5" cy="32.3" rx="3.8" ry="1.5" transform="rotate(281 21.5 32.3)"/><ellipse cx="24.5" cy="35.4" rx="3.8" ry="1.5" transform="rotate(338 24.5 35.4)"/><ellipse cx="24.7" cy="28.0" rx="3.8" ry="1.5" transform="rotate(274 24.7 28.0)"/><ellipse cx="28.0" cy="30.6" rx="3.8" ry="1.5" transform="rotate(331 28.0 30.6)"/><ellipse cx="27.3" cy="23.1" rx="3.8" ry="1.5" transform="rotate(267 27.3 23.1)"/><ellipse cx="31.0" cy="25.2" rx="3.8" ry="1.5" transform="rotate(324 31.0 25.2)"/><ellipse cx="29.4" cy="17.7" rx="3.8" ry="1.5" transform="rotate(260 29.4 17.7)"/><ellipse cx="33.4" cy="19.4" rx="3.8" ry="1.5" transform="rotate(317 33.4 19.4)"/><ellipse cx="31.0" cy="12.0" rx="3.8" ry="1.5" transform="rotate(254 31.0 12.0)"/><ellipse cx="35.2" cy="13.1" rx="3.8" ry="1.5" transform="rotate(310 35.2 13.1)"/><ellipse cx="31.9" cy="6.1" rx="3.8" ry="1.5" transform="rotate(248 31.9 6.1)"/><ellipse cx="36.2" cy="6.6" rx="3.8" ry="1.5" transform="rotate(304 36.2 6.6)"/><ellipse cx="32.2" cy="0.0" rx="3.8" ry="1.5" transform="rotate(242 32.2 0.0)"/><ellipse cx="36.6" cy="0.0" rx="3.8" ry="1.5" transform="rotate(298 36.6 0.0)"/><ellipse cx="31.9" cy="-6.1" rx="3.8" ry="1.5" transform="rotate(236 31.9 -6.1)"/><ellipse cx="36.2" cy="-6.6" rx="3.8" ry="1.5" transform="rotate(292 36.2 -6.6)"/><ellipse cx="31.0" cy="-12.0" rx="3.8" ry="1.5" transform="rotate(230 31.0 -12.0)"/><ellipse cx="35.2" cy="-13.1" rx="3.8" ry="1.5" transform="rotate(286 35.2 -13.1)"/><ellipse cx="29.4" cy="-17.7" rx="3.8" ry="1.5" transform="rotate(224 29.4 -17.7)"/><ellipse cx="33.4" cy="-19.4" rx="3.8" ry="1.5" transform="rotate(279 33.4 -19.4)"/><ellipse cx="27.3" cy="-23.1" rx="3.8" ry="1.5" transform="rotate(217 27.3 -23.1)"/><ellipse cx="31.0" cy="-25.2" rx="3.8" ry="1.5" transform="rotate(272 31.0 -25.2)"/><ellipse cx="24.7" cy="-28.0" rx="3.8" ry="1.5" transform="rotate(210 24.7 -28.0)"/><ellipse cx="28.0" cy="-30.6" rx="3.8" ry="1.5" transform="rotate(265 28.0 -30.6)"/><ellipse cx="21.5" cy="-32.3" rx="3.8" ry="1.5" transform="rotate(203 21.5 -32.3)"/><ellipse cx="24.5" cy="-35.4" rx="3.8" ry="1.5" transform="rotate(258 24.5 -35.4)"/></g><path d="M-22 -34A34.4 45.6 0 0 0 -6 46M22 -34A34.4 45.6 0 0 1 6 46" stroke="#46517e" stroke-width="0.6"/><ellipse cx="0" cy="0" rx="29.2" ry="40.4" fill="#e6e6e6" stroke="#2b3562" stroke-width="0.85"/><ellipse cx="0" cy="0" rx="27.6" ry="38.8" stroke="#2b3562" stroke-width="0.7"/><path d="M-9.2 -36.6H9.2M-17.2 -30.4H17.2M-21.3 -24.6H21.3M-24.1 -19H24.1M-26.0 -13.2H26.0M-27.1 -7.3H27.1M-27.6 -1.5H27.6" stroke="#46517e" stroke-width="0.8"/><path d="M-25.6 10C-15 9 -8 5 -3 5.6M-23.6 20.2C-16 17.5 -11 14 -8.3 12.8M26.4 10C17 9.5 9 6.5 4.6 6.1M23.6 20.2C17 17.5 12 14.5 9.8 13.5" stroke="#2b3562" stroke-width="0.8"/><path d="M-4.5 8.2C-1 6 3 7 6 9.5C8 11 10 13 9.5 14.5C8 17 3 18.5 -1 18C-5 17.5 -9 15.5 -9.5 13C-9 11 -6 10.5 -4.5 8.2Z" fill="#e6e6e6" stroke="#2b3562" stroke-width="0.8"/><path d="M-8.4 12.5L-5.6 17M-6.4 11.8L-3.4 17.6M-4.4 11.6L-1.4 17.8M3 11.5L6.4 15.8M5 10.6L8.2 14.6M1 12.5L4 17" stroke="#46517e" stroke-width="0.7"/><path d="M0 -13V4.6M0 18.5V31.2" stroke="#2b3562" stroke-width="2.1" stroke-linecap="butt"/><path d="M-9.2 -24.8C-8.8 -27.5 -4 -29.3 -1.5 -28.8C3.5 -28.4 7.8 -24 9.2 -15.6C9.4 -13.6 4 -11.6 0 -11.4C-4 -11.6 -8.2 -12.8 -8.4 -14.2C-8.6 -16 -7 -18 -7.6 -19.4C-8.6 -20.6 -9.6 -22.6 -9.2 -24.8Z" fill="#e6e6e6" stroke="#2b3562" stroke-width="0.85"/><path d="M-8.2 -14.4C-4 -16.2 4 -16.4 9 -15.2M-7.6 -19.6C-5 -20.6 -2 -20.4 0.4 -21.8" stroke="#46517e" stroke-width="0.65"/><path d="M-5.6 42.2H5.6L4.2 47.6H-4.2Z" fill="#2b3562" stroke="#2b3562" stroke-width="0.8" stroke-linejoin="round"/><path d="M-2.4 48.6L-10.6 55.6M-4.6 48.2L-8 55.8M2.4 48.6L10.6 55.6M4.6 48.2L8 55.8" stroke="#2b3562" stroke-width="1.9"/><rect x="-2.6" y="46.6" width="5.2" height="3.6" fill="#2b3562" stroke="none"/></g></defs><path d="M149.5 1813.8A48.0 48.0 0 1 0 147.7 1857.2Q137.5 1854.0 127.4 1853.1A29.0 29.0 0 1 1 123.1 1810.5Q134.8 1813.7 149.5 1813.8Z" fill="#ffb300"/><path fill="#0093d5" d="M99.2 1819.4C104.3 1815.7 114.4 1814.0 124.6 1815.3S141.6 1819.1 150.4 1818.4S164.6 1815.7 166.4 1813.5L166.6 1825.2C164.6 1829.3 155.8 1832.5 148.3 1832.1S128.0 1828.6 117.8 1828.6S102.9 1830.6 99.4 1833.2Z"/><path fill="#0093d5" d="M99.2 1839.9C104.3 1836.2 114.4 1834.5 124.6 1835.8S141.6 1839.6 150.4 1838.9S164.6 1836.2 166.4 1834.0L166.6 1845.7C164.6 1849.7 155.8 1853.0 148.3 1852.6S128.0 1849.1 117.8 1849.1S102.9 1851.1 99.4 1853.7Z"/><g class="sans" fill="#222"><text x="178" y="1807.8" font-size="27.5" textLength="113" lengthAdjust="spacingAndGlyphs">Servicio</text><text x="178" y="1834.3" font-size="27.5" textLength="202" lengthAdjust="spacingAndGlyphs">Meteorológico</text><text x="178" y="1860.3" font-size="27.5" textLength="120" lengthAdjust="spacingAndGlyphs">Nacional</text><text x="180" y="1880.3" font-size="18.6" textLength="93" lengthAdjust="spacingAndGlyphs" stroke="#222" stroke-width="0.3">Argentina</text></g><use href="#coat" x="532.6" y="1840.9" opacity="0.92"/><g class="serif" fill="#2b3562"><text x="583.5" y="1827" font-size="27" font-weight="bold" textLength="131.5" lengthAdjust="spacingAndGlyphs">Ministerio</text><text x="583.5" y="1853.5" font-size="27" font-weight="bold" textLength="133" lengthAdjust="spacingAndGlyphs">de Defensa</text><text x="583.5" y="1873.6" font-size="17" textLength="150.5" lengthAdjust="spacingAndGlyphs" stroke="#2b3562" stroke-width="0.35">República Argentina</text></g><use href="#coat" x="893.9" y="1840.9"/><g class="serif" fill="#2b3562"><text x="946.5" y="1827" font-size="27" font-weight="bold" textLength="134" lengthAdjust="spacingAndGlyphs">Ministerio</text><text x="946.5" y="1853.5" font-size="27" font-weight="bold" textLength="161.5" lengthAdjust="spacingAndGlyphs">de Economía</text><text x="946.5" y="1873.6" font-size="17" textLength="153" lengthAdjust="spacingAndGlyphs" stroke="#2b3562" stroke-width="0.35">República Argentina</text></g></svg></body></html>
